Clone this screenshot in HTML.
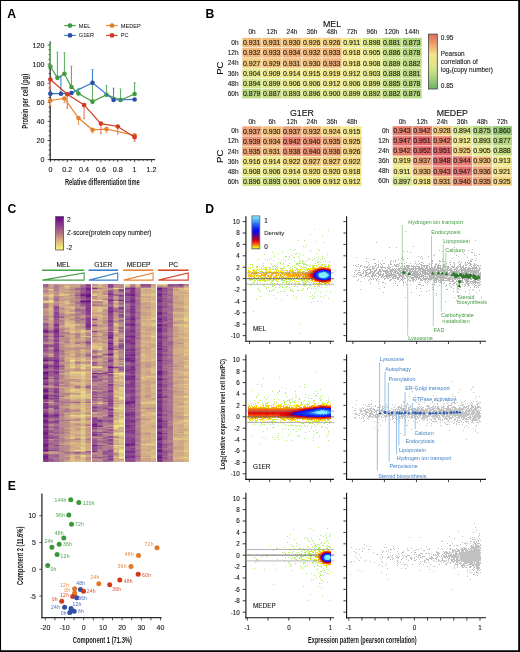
<!DOCTYPE html><html><head><meta charset="utf-8"><style>html,body{margin:0;padding:0;background:#fff;}svg{display:block;will-change:transform;font-family:"Liberation Sans", sans-serif;}</style></head><body><svg width="520" height="652" viewBox="0 0 520 652"><rect width="520" height="652" fill="#fff"/><text x="7.20" y="17.60" font-size="12.2" text-anchor="start" fill="#000" font-weight="bold" >A</text>
<text x="205.40" y="17.60" font-size="12.2" text-anchor="start" fill="#000" font-weight="bold" >B</text>
<text x="7.40" y="212.90" font-size="12.2" text-anchor="start" fill="#000" font-weight="bold" >C</text>
<text x="205.20" y="212.60" font-size="12.2" text-anchor="start" fill="#000" font-weight="bold" >D</text>
<text x="7.70" y="490.20" font-size="12.2" text-anchor="start" fill="#000" font-weight="bold" >E</text>
<line x1="64.2" y1="25.6" x2="75.8" y2="25.6" stroke="#45a045" stroke-width="1.1"/>
<circle cx="70" cy="25.6" r="2.4" fill="#3e9b3e"/>
<text x="78.80" y="27.60" font-size="5.6" text-anchor="start" fill="#222" stroke="#222" stroke-width="0.05" font-weight="normal" >MEL</text>
<line x1="64.2" y1="35.4" x2="75.8" y2="35.4" stroke="#3a78c8" stroke-width="1.1"/>
<circle cx="70" cy="35.4" r="2.4" fill="#2d4ea6"/>
<text x="78.80" y="37.40" font-size="5.6" text-anchor="start" fill="#222" stroke="#222" stroke-width="0.05" font-weight="normal" >G1ER</text>
<line x1="106" y1="25.6" x2="117.6" y2="25.6" stroke="#e8862e" stroke-width="1.1"/>
<circle cx="112" cy="25.6" r="2.4" fill="#e37f2b"/>
<text x="120.80" y="27.60" font-size="5.6" text-anchor="start" fill="#222" stroke="#222" stroke-width="0.05" font-weight="normal" >MEDEP</text>
<line x1="106" y1="35.4" x2="117.6" y2="35.4" stroke="#d43c20" stroke-width="1.1"/>
<circle cx="112" cy="35.4" r="2.4" fill="#d13b1f"/>
<text x="120.80" y="37.40" font-size="5.6" text-anchor="start" fill="#222" stroke="#222" stroke-width="0.05" font-weight="normal" >PC</text>
<line x1="50.2" y1="41.6" x2="50.2" y2="160.2" stroke="#2a2a2a" stroke-width="1.3"/>
<line x1="49.6" y1="159.6" x2="155.2" y2="159.6" stroke="#2a2a2a" stroke-width="1.3"/>
<line x1="47.60" y1="159.60" x2="50.2" y2="159.60" stroke="#2a2a2a" stroke-width="0.8"/>
<text x="44.40" y="162.20" font-size="7.2" text-anchor="end" fill="#222" stroke="#222" stroke-width="0.12" font-weight="normal" >0</text>
<line x1="48.60" y1="154.82" x2="50.2" y2="154.82" stroke="#2a2a2a" stroke-width="0.8"/>
<line x1="48.60" y1="150.05" x2="50.2" y2="150.05" stroke="#2a2a2a" stroke-width="0.8"/>
<line x1="48.60" y1="145.28" x2="50.2" y2="145.28" stroke="#2a2a2a" stroke-width="0.8"/>
<line x1="47.60" y1="140.50" x2="50.2" y2="140.50" stroke="#2a2a2a" stroke-width="0.8"/>
<text x="44.40" y="143.10" font-size="7.2" text-anchor="end" fill="#222" stroke="#222" stroke-width="0.12" font-weight="normal" >20</text>
<line x1="48.60" y1="135.72" x2="50.2" y2="135.72" stroke="#2a2a2a" stroke-width="0.8"/>
<line x1="48.60" y1="130.95" x2="50.2" y2="130.95" stroke="#2a2a2a" stroke-width="0.8"/>
<line x1="48.60" y1="126.17" x2="50.2" y2="126.17" stroke="#2a2a2a" stroke-width="0.8"/>
<line x1="47.60" y1="121.40" x2="50.2" y2="121.40" stroke="#2a2a2a" stroke-width="0.8"/>
<text x="44.40" y="124.00" font-size="7.2" text-anchor="end" fill="#222" stroke="#222" stroke-width="0.12" font-weight="normal" >40</text>
<line x1="48.60" y1="116.62" x2="50.2" y2="116.62" stroke="#2a2a2a" stroke-width="0.8"/>
<line x1="48.60" y1="111.85" x2="50.2" y2="111.85" stroke="#2a2a2a" stroke-width="0.8"/>
<line x1="48.60" y1="107.07" x2="50.2" y2="107.07" stroke="#2a2a2a" stroke-width="0.8"/>
<line x1="47.60" y1="102.30" x2="50.2" y2="102.30" stroke="#2a2a2a" stroke-width="0.8"/>
<text x="44.40" y="104.90" font-size="7.2" text-anchor="end" fill="#222" stroke="#222" stroke-width="0.12" font-weight="normal" >60</text>
<line x1="48.60" y1="97.53" x2="50.2" y2="97.53" stroke="#2a2a2a" stroke-width="0.8"/>
<line x1="48.60" y1="92.75" x2="50.2" y2="92.75" stroke="#2a2a2a" stroke-width="0.8"/>
<line x1="48.60" y1="87.97" x2="50.2" y2="87.97" stroke="#2a2a2a" stroke-width="0.8"/>
<line x1="47.60" y1="83.20" x2="50.2" y2="83.20" stroke="#2a2a2a" stroke-width="0.8"/>
<text x="44.40" y="85.80" font-size="7.2" text-anchor="end" fill="#222" stroke="#222" stroke-width="0.12" font-weight="normal" >80</text>
<line x1="48.60" y1="78.42" x2="50.2" y2="78.42" stroke="#2a2a2a" stroke-width="0.8"/>
<line x1="48.60" y1="73.65" x2="50.2" y2="73.65" stroke="#2a2a2a" stroke-width="0.8"/>
<line x1="48.60" y1="68.88" x2="50.2" y2="68.88" stroke="#2a2a2a" stroke-width="0.8"/>
<line x1="47.60" y1="64.10" x2="50.2" y2="64.10" stroke="#2a2a2a" stroke-width="0.8"/>
<text x="44.40" y="66.70" font-size="7.2" text-anchor="end" fill="#222" stroke="#222" stroke-width="0.12" font-weight="normal" >100</text>
<line x1="48.60" y1="59.33" x2="50.2" y2="59.33" stroke="#2a2a2a" stroke-width="0.8"/>
<line x1="48.60" y1="54.55" x2="50.2" y2="54.55" stroke="#2a2a2a" stroke-width="0.8"/>
<line x1="48.60" y1="49.78" x2="50.2" y2="49.78" stroke="#2a2a2a" stroke-width="0.8"/>
<line x1="47.60" y1="45.00" x2="50.2" y2="45.00" stroke="#2a2a2a" stroke-width="0.8"/>
<text x="44.40" y="47.60" font-size="7.2" text-anchor="end" fill="#222" stroke="#222" stroke-width="0.12" font-weight="normal" >120</text>
<line x1="50.40" y1="159.6" x2="50.40" y2="162.20" stroke="#2a2a2a" stroke-width="0.8"/>
<text x="50.40" y="172.40" font-size="7.2" text-anchor="middle" fill="#222" stroke="#222" stroke-width="0.12" font-weight="normal" >0</text>
<line x1="54.61" y1="159.6" x2="54.61" y2="161.20" stroke="#2a2a2a" stroke-width="0.8"/>
<line x1="58.82" y1="159.6" x2="58.82" y2="161.20" stroke="#2a2a2a" stroke-width="0.8"/>
<line x1="63.03" y1="159.6" x2="63.03" y2="161.20" stroke="#2a2a2a" stroke-width="0.8"/>
<line x1="67.24" y1="159.6" x2="67.24" y2="162.20" stroke="#2a2a2a" stroke-width="0.8"/>
<text x="67.24" y="172.40" font-size="7.2" text-anchor="middle" fill="#222" stroke="#222" stroke-width="0.12" font-weight="normal" >0.2</text>
<line x1="71.45" y1="159.6" x2="71.45" y2="161.20" stroke="#2a2a2a" stroke-width="0.8"/>
<line x1="75.66" y1="159.6" x2="75.66" y2="161.20" stroke="#2a2a2a" stroke-width="0.8"/>
<line x1="79.87" y1="159.6" x2="79.87" y2="161.20" stroke="#2a2a2a" stroke-width="0.8"/>
<line x1="84.08" y1="159.6" x2="84.08" y2="162.20" stroke="#2a2a2a" stroke-width="0.8"/>
<text x="84.08" y="172.40" font-size="7.2" text-anchor="middle" fill="#222" stroke="#222" stroke-width="0.12" font-weight="normal" >0.4</text>
<line x1="88.29" y1="159.6" x2="88.29" y2="161.20" stroke="#2a2a2a" stroke-width="0.8"/>
<line x1="92.50" y1="159.6" x2="92.50" y2="161.20" stroke="#2a2a2a" stroke-width="0.8"/>
<line x1="96.71" y1="159.6" x2="96.71" y2="161.20" stroke="#2a2a2a" stroke-width="0.8"/>
<line x1="100.92" y1="159.6" x2="100.92" y2="162.20" stroke="#2a2a2a" stroke-width="0.8"/>
<text x="100.92" y="172.40" font-size="7.2" text-anchor="middle" fill="#222" stroke="#222" stroke-width="0.12" font-weight="normal" >0.6</text>
<line x1="105.13" y1="159.6" x2="105.13" y2="161.20" stroke="#2a2a2a" stroke-width="0.8"/>
<line x1="109.34" y1="159.6" x2="109.34" y2="161.20" stroke="#2a2a2a" stroke-width="0.8"/>
<line x1="113.55" y1="159.6" x2="113.55" y2="161.20" stroke="#2a2a2a" stroke-width="0.8"/>
<line x1="117.76" y1="159.6" x2="117.76" y2="162.20" stroke="#2a2a2a" stroke-width="0.8"/>
<text x="117.76" y="172.40" font-size="7.2" text-anchor="middle" fill="#222" stroke="#222" stroke-width="0.12" font-weight="normal" >0.8</text>
<line x1="121.97" y1="159.6" x2="121.97" y2="161.20" stroke="#2a2a2a" stroke-width="0.8"/>
<line x1="126.18" y1="159.6" x2="126.18" y2="161.20" stroke="#2a2a2a" stroke-width="0.8"/>
<line x1="130.39" y1="159.6" x2="130.39" y2="161.20" stroke="#2a2a2a" stroke-width="0.8"/>
<line x1="134.60" y1="159.6" x2="134.60" y2="162.20" stroke="#2a2a2a" stroke-width="0.8"/>
<text x="134.60" y="172.40" font-size="7.2" text-anchor="middle" fill="#222" stroke="#222" stroke-width="0.12" font-weight="normal" >1</text>
<line x1="138.81" y1="159.6" x2="138.81" y2="161.20" stroke="#2a2a2a" stroke-width="0.8"/>
<line x1="143.02" y1="159.6" x2="143.02" y2="161.20" stroke="#2a2a2a" stroke-width="0.8"/>
<line x1="147.23" y1="159.6" x2="147.23" y2="161.20" stroke="#2a2a2a" stroke-width="0.8"/>
<line x1="151.44" y1="159.6" x2="151.44" y2="162.20" stroke="#2a2a2a" stroke-width="0.8"/>
<text x="151.44" y="172.40" font-size="7.2" text-anchor="middle" fill="#222" stroke="#222" stroke-width="0.12" font-weight="normal" >1.2</text>
<text x="102.30" y="184.50" font-size="9" font-weight="bold" text-anchor="middle" fill="#1a1a1a" textLength="74.8" lengthAdjust="spacingAndGlyphs">Relative differentiation time</text>
<text x="28.30" y="101.30" font-size="9" font-weight="bold" text-anchor="middle" fill="#1a1a1a" textLength="54.8" lengthAdjust="spacingAndGlyphs" transform="rotate(-90 28.30 101.30)">Protein per cell (pg)</text>
<line x1="50.40" y1="66.49" x2="50.40" y2="43.09" stroke="#63b063" stroke-width="1.1"/>
<line x1="49.40" y1="43.09" x2="51.40" y2="43.09" stroke="#63b063" stroke-width="0.9"/>
<line x1="57.42" y1="77.85" x2="57.42" y2="52.16" stroke="#63b063" stroke-width="1.1"/>
<line x1="56.42" y1="52.16" x2="58.42" y2="52.16" stroke="#63b063" stroke-width="0.9"/>
<line x1="64.43" y1="73.84" x2="64.43" y2="52.64" stroke="#63b063" stroke-width="1.1"/>
<line x1="63.43" y1="52.64" x2="65.43" y2="52.64" stroke="#63b063" stroke-width="0.9"/>
<line x1="71.45" y1="87.02" x2="71.45" y2="66.20" stroke="#63b063" stroke-width="1.1"/>
<line x1="70.45" y1="66.20" x2="72.45" y2="66.20" stroke="#63b063" stroke-width="0.9"/>
<line x1="78.47" y1="93.51" x2="78.47" y2="88.45" stroke="#63b063" stroke-width="1.1"/>
<line x1="77.47" y1="88.45" x2="79.47" y2="88.45" stroke="#63b063" stroke-width="0.9"/>
<line x1="92.50" y1="101.63" x2="92.50" y2="84.44" stroke="#63b063" stroke-width="1.1"/>
<line x1="91.50" y1="84.44" x2="93.50" y2="84.44" stroke="#63b063" stroke-width="0.9"/>
<line x1="106.53" y1="94.76" x2="106.53" y2="85.59" stroke="#63b063" stroke-width="1.1"/>
<line x1="105.53" y1="85.59" x2="107.53" y2="85.59" stroke="#63b063" stroke-width="0.9"/>
<line x1="120.57" y1="100.01" x2="120.57" y2="88.93" stroke="#63b063" stroke-width="1.1"/>
<line x1="119.57" y1="88.93" x2="121.57" y2="88.93" stroke="#63b063" stroke-width="0.9"/>
<line x1="134.60" y1="93.99" x2="134.60" y2="82.72" stroke="#63b063" stroke-width="1.1"/>
<line x1="133.60" y1="82.72" x2="135.60" y2="82.72" stroke="#63b063" stroke-width="0.9"/>
<polyline points="50.40,66.49 57.42,77.85 64.43,73.84 71.45,87.02 78.47,93.51 92.50,101.63 106.53,94.76 120.57,100.01 134.60,93.99" fill="none" stroke="#45a045" stroke-width="1.2"/>
<circle cx="50.40" cy="66.49" r="2.3" fill="#3e9b3e"/>
<circle cx="57.42" cy="77.85" r="2.3" fill="#3e9b3e"/>
<circle cx="64.43" cy="73.84" r="2.3" fill="#3e9b3e"/>
<circle cx="71.45" cy="87.02" r="2.3" fill="#3e9b3e"/>
<circle cx="78.47" cy="93.51" r="2.3" fill="#3e9b3e"/>
<circle cx="92.50" cy="101.63" r="2.3" fill="#3e9b3e"/>
<circle cx="106.53" cy="94.76" r="2.3" fill="#3e9b3e"/>
<circle cx="120.57" cy="100.01" r="2.3" fill="#3e9b3e"/>
<circle cx="134.60" cy="93.99" r="2.3" fill="#3e9b3e"/>
<line x1="50.40" y1="93.70" x2="50.40" y2="91.80" stroke="#3f80d0" stroke-width="1.1"/>
<line x1="49.40" y1="91.80" x2="51.40" y2="91.80" stroke="#3f80d0" stroke-width="0.9"/>
<line x1="60.92" y1="93.70" x2="60.92" y2="76.80" stroke="#3f80d0" stroke-width="1.1"/>
<line x1="59.92" y1="76.80" x2="61.92" y2="76.80" stroke="#3f80d0" stroke-width="0.9"/>
<line x1="71.45" y1="93.04" x2="71.45" y2="91.80" stroke="#3f80d0" stroke-width="1.1"/>
<line x1="70.45" y1="91.80" x2="72.45" y2="91.80" stroke="#3f80d0" stroke-width="0.9"/>
<line x1="92.50" y1="82.72" x2="92.50" y2="69.45" stroke="#3f80d0" stroke-width="1.1"/>
<line x1="91.50" y1="69.45" x2="93.50" y2="69.45" stroke="#3f80d0" stroke-width="0.9"/>
<line x1="113.55" y1="100.01" x2="113.55" y2="88.17" stroke="#3f80d0" stroke-width="1.1"/>
<line x1="112.55" y1="88.17" x2="114.55" y2="88.17" stroke="#3f80d0" stroke-width="0.9"/>
<line x1="134.60" y1="99.44" x2="134.60" y2="98.48" stroke="#3f80d0" stroke-width="1.1"/>
<line x1="133.60" y1="98.48" x2="135.60" y2="98.48" stroke="#3f80d0" stroke-width="0.9"/>
<polyline points="50.40,93.70 60.92,93.70 71.45,93.04 92.50,82.72 113.55,100.01 134.60,99.44" fill="none" stroke="#3a78c8" stroke-width="1.2"/>
<circle cx="50.40" cy="93.70" r="2.3" fill="#2d4ea6"/>
<circle cx="60.92" cy="93.70" r="2.3" fill="#2d4ea6"/>
<circle cx="71.45" cy="93.04" r="2.3" fill="#2d4ea6"/>
<circle cx="92.50" cy="82.72" r="2.3" fill="#2d4ea6"/>
<circle cx="113.55" cy="100.01" r="2.3" fill="#2d4ea6"/>
<circle cx="134.60" cy="99.44" r="2.3" fill="#2d4ea6"/>
<line x1="50.40" y1="100.49" x2="50.40" y2="105.45" stroke="#eea060" stroke-width="1.1"/>
<line x1="49.40" y1="105.45" x2="51.40" y2="105.45" stroke="#eea060" stroke-width="0.9"/>
<line x1="64.43" y1="98.48" x2="64.43" y2="102.49" stroke="#eea060" stroke-width="1.1"/>
<line x1="63.43" y1="102.49" x2="65.43" y2="102.49" stroke="#eea060" stroke-width="0.9"/>
<line x1="78.47" y1="118.06" x2="78.47" y2="124.36" stroke="#eea060" stroke-width="1.1"/>
<line x1="77.47" y1="124.36" x2="79.47" y2="124.36" stroke="#eea060" stroke-width="0.9"/>
<line x1="92.50" y1="129.80" x2="92.50" y2="132.96" stroke="#eea060" stroke-width="1.1"/>
<line x1="91.50" y1="132.96" x2="93.50" y2="132.96" stroke="#eea060" stroke-width="0.9"/>
<line x1="106.53" y1="129.04" x2="106.53" y2="132.29" stroke="#eea060" stroke-width="1.1"/>
<line x1="105.53" y1="132.29" x2="107.53" y2="132.29" stroke="#eea060" stroke-width="0.9"/>
<line x1="134.60" y1="135.25" x2="134.60" y2="136.68" stroke="#eea060" stroke-width="1.1"/>
<line x1="133.60" y1="136.68" x2="135.60" y2="136.68" stroke="#eea060" stroke-width="0.9"/>
<polyline points="50.40,100.49 64.43,98.48 78.47,118.06 92.50,129.80 106.53,129.04 134.60,135.25" fill="none" stroke="#e8862e" stroke-width="1.2"/>
<circle cx="50.40" cy="100.49" r="2.3" fill="#e37f2b"/>
<circle cx="64.43" cy="98.48" r="2.3" fill="#e37f2b"/>
<circle cx="78.47" cy="118.06" r="2.3" fill="#e37f2b"/>
<circle cx="92.50" cy="129.80" r="2.3" fill="#e37f2b"/>
<circle cx="106.53" cy="129.04" r="2.3" fill="#e37f2b"/>
<circle cx="134.60" cy="135.25" r="2.3" fill="#e37f2b"/>
<line x1="50.40" y1="79.57" x2="50.40" y2="88.93" stroke="#e57a6e" stroke-width="1.1"/>
<line x1="49.40" y1="88.93" x2="51.40" y2="88.93" stroke="#e57a6e" stroke-width="0.9"/>
<line x1="67.24" y1="94.18" x2="67.24" y2="108.32" stroke="#e57a6e" stroke-width="1.1"/>
<line x1="66.24" y1="108.32" x2="68.24" y2="108.32" stroke="#e57a6e" stroke-width="0.9"/>
<line x1="84.08" y1="104.97" x2="84.08" y2="118.73" stroke="#e57a6e" stroke-width="1.1"/>
<line x1="83.08" y1="118.73" x2="85.08" y2="118.73" stroke="#e57a6e" stroke-width="0.9"/>
<line x1="100.92" y1="123.60" x2="100.92" y2="133.53" stroke="#e57a6e" stroke-width="1.1"/>
<line x1="99.92" y1="133.53" x2="101.92" y2="133.53" stroke="#e57a6e" stroke-width="0.9"/>
<line x1="117.76" y1="126.46" x2="117.76" y2="134.01" stroke="#e57a6e" stroke-width="1.1"/>
<line x1="116.76" y1="134.01" x2="118.76" y2="134.01" stroke="#e57a6e" stroke-width="0.9"/>
<line x1="134.60" y1="137.16" x2="134.60" y2="141.26" stroke="#e57a6e" stroke-width="1.1"/>
<line x1="133.60" y1="141.26" x2="135.60" y2="141.26" stroke="#e57a6e" stroke-width="0.9"/>
<polyline points="50.40,79.57 67.24,94.18 84.08,104.97 100.92,123.60 117.76,126.46 134.60,137.16" fill="none" stroke="#d43c20" stroke-width="1.2"/>
<circle cx="50.40" cy="79.57" r="2.3" fill="#d13b1f"/>
<circle cx="67.24" cy="94.18" r="2.3" fill="#d13b1f"/>
<circle cx="84.08" cy="104.97" r="2.3" fill="#d13b1f"/>
<circle cx="100.92" cy="123.60" r="2.3" fill="#d13b1f"/>
<circle cx="117.76" cy="126.46" r="2.3" fill="#d13b1f"/>
<circle cx="134.60" cy="137.16" r="2.3" fill="#d13b1f"/>
<text x="332.00" y="26.50" font-size="8.8" text-anchor="middle" fill="#111" stroke="#111" stroke-width="0.12" font-weight="normal" >MEL</text>
<text x="252.00" y="34.00" font-size="6.5" text-anchor="middle" fill="#222" stroke="#222" stroke-width="0.12" font-weight="normal" >0h</text>
<text x="272.00" y="34.00" font-size="6.5" text-anchor="middle" fill="#222" stroke="#222" stroke-width="0.12" font-weight="normal" >12h</text>
<text x="292.00" y="34.00" font-size="6.5" text-anchor="middle" fill="#222" stroke="#222" stroke-width="0.12" font-weight="normal" >24h</text>
<text x="312.00" y="34.00" font-size="6.5" text-anchor="middle" fill="#222" stroke="#222" stroke-width="0.12" font-weight="normal" >36h</text>
<text x="332.00" y="34.00" font-size="6.5" text-anchor="middle" fill="#222" stroke="#222" stroke-width="0.12" font-weight="normal" >48h</text>
<text x="352.00" y="34.00" font-size="6.5" text-anchor="middle" fill="#222" stroke="#222" stroke-width="0.12" font-weight="normal" >72h</text>
<text x="372.00" y="34.00" font-size="6.5" text-anchor="middle" fill="#222" stroke="#222" stroke-width="0.12" font-weight="normal" >96h</text>
<text x="392.00" y="34.00" font-size="6.5" text-anchor="middle" fill="#222" stroke="#222" stroke-width="0.12" font-weight="normal" >120h</text>
<text x="412.00" y="34.00" font-size="6.5" text-anchor="middle" fill="#222" stroke="#222" stroke-width="0.12" font-weight="normal" >144h</text>
<text x="238.60" y="44.90" font-size="6.5" text-anchor="end" fill="#222" stroke="#222" stroke-width="0.12" font-weight="normal" >0h</text>
<rect x="242.35" y="37.85" width="19.30" height="9.50" fill="#f2bc7b"/>
<text x="251.70" y="45.10" font-size="7.0" text-anchor="middle" fill="#1a1a1a" stroke="#1a1a1a" stroke-width="0.12" font-weight="normal" >0.931</text>
<rect x="262.35" y="37.85" width="19.30" height="9.50" fill="#f2bc7b"/>
<text x="271.70" y="45.10" font-size="7.0" text-anchor="middle" fill="#1a1a1a" stroke="#1a1a1a" stroke-width="0.12" font-weight="normal" >0.931</text>
<rect x="282.35" y="37.85" width="19.30" height="9.50" fill="#f3c07c"/>
<text x="291.70" y="45.10" font-size="7.0" text-anchor="middle" fill="#1a1a1a" stroke="#1a1a1a" stroke-width="0.12" font-weight="normal" >0.930</text>
<rect x="302.35" y="37.85" width="19.30" height="9.50" fill="#f4cf7f"/>
<text x="311.70" y="45.10" font-size="7.0" text-anchor="middle" fill="#1a1a1a" stroke="#1a1a1a" stroke-width="0.12" font-weight="normal" >0.926</text>
<rect x="322.35" y="37.85" width="19.30" height="9.50" fill="#f4cf7f"/>
<text x="331.70" y="45.10" font-size="7.0" text-anchor="middle" fill="#1a1a1a" stroke="#1a1a1a" stroke-width="0.12" font-weight="normal" >0.926</text>
<rect x="342.35" y="37.85" width="19.30" height="9.50" fill="#efeb8d"/>
<text x="351.70" y="45.10" font-size="7.0" text-anchor="middle" fill="#1a1a1a" stroke="#1a1a1a" stroke-width="0.12" font-weight="normal" >0.911</text>
<rect x="362.35" y="37.85" width="19.30" height="9.50" fill="#dbe78b"/>
<text x="371.70" y="45.10" font-size="7.0" text-anchor="middle" fill="#1a1a1a" stroke="#1a1a1a" stroke-width="0.12" font-weight="normal" >0.898</text>
<rect x="382.35" y="37.85" width="19.30" height="9.50" fill="#bdda82"/>
<text x="391.70" y="45.10" font-size="7.0" text-anchor="middle" fill="#1a1a1a" stroke="#1a1a1a" stroke-width="0.12" font-weight="normal" >0.881</text>
<rect x="402.35" y="37.85" width="19.30" height="9.50" fill="#aed47d"/>
<text x="411.70" y="45.10" font-size="7.0" text-anchor="middle" fill="#1a1a1a" stroke="#1a1a1a" stroke-width="0.12" font-weight="normal" >0.873</text>
<text x="238.60" y="55.10" font-size="6.5" text-anchor="end" fill="#222" stroke="#222" stroke-width="0.12" font-weight="normal" >12h</text>
<rect x="242.35" y="48.05" width="19.30" height="9.50" fill="#f2b87a"/>
<text x="251.70" y="55.30" font-size="7.0" text-anchor="middle" fill="#1a1a1a" stroke="#1a1a1a" stroke-width="0.12" font-weight="normal" >0.932</text>
<rect x="262.35" y="48.05" width="19.30" height="9.50" fill="#f1b479"/>
<text x="271.70" y="55.30" font-size="7.0" text-anchor="middle" fill="#1a1a1a" stroke="#1a1a1a" stroke-width="0.12" font-weight="normal" >0.933</text>
<rect x="282.35" y="48.05" width="19.30" height="9.50" fill="#f0af79"/>
<text x="291.70" y="55.30" font-size="7.0" text-anchor="middle" fill="#1a1a1a" stroke="#1a1a1a" stroke-width="0.12" font-weight="normal" >0.934</text>
<rect x="302.35" y="48.05" width="19.30" height="9.50" fill="#f2b87a"/>
<text x="311.70" y="55.30" font-size="7.0" text-anchor="middle" fill="#1a1a1a" stroke="#1a1a1a" stroke-width="0.12" font-weight="normal" >0.932</text>
<rect x="322.35" y="48.05" width="19.30" height="9.50" fill="#f1b479"/>
<text x="331.70" y="55.30" font-size="7.0" text-anchor="middle" fill="#1a1a1a" stroke="#1a1a1a" stroke-width="0.12" font-weight="normal" >0.933</text>
<rect x="342.35" y="48.05" width="19.30" height="9.50" fill="#f4e78a"/>
<text x="351.70" y="55.30" font-size="7.0" text-anchor="middle" fill="#1a1a1a" stroke="#1a1a1a" stroke-width="0.12" font-weight="normal" >0.918</text>
<rect x="362.35" y="48.05" width="19.30" height="9.50" fill="#e8ea8e"/>
<text x="371.70" y="55.30" font-size="7.0" text-anchor="middle" fill="#1a1a1a" stroke="#1a1a1a" stroke-width="0.12" font-weight="normal" >0.905</text>
<rect x="382.35" y="48.05" width="19.30" height="9.50" fill="#c6de85"/>
<text x="391.70" y="55.30" font-size="7.0" text-anchor="middle" fill="#1a1a1a" stroke="#1a1a1a" stroke-width="0.12" font-weight="normal" >0.886</text>
<rect x="402.35" y="48.05" width="19.30" height="9.50" fill="#b7d880"/>
<text x="411.70" y="55.30" font-size="7.0" text-anchor="middle" fill="#1a1a1a" stroke="#1a1a1a" stroke-width="0.12" font-weight="normal" >0.878</text>
<text x="238.60" y="65.30" font-size="6.5" text-anchor="end" fill="#222" stroke="#222" stroke-width="0.12" font-weight="normal" >24h</text>
<rect x="242.35" y="58.25" width="19.30" height="9.50" fill="#f4cc7e"/>
<text x="251.70" y="65.50" font-size="7.0" text-anchor="middle" fill="#1a1a1a" stroke="#1a1a1a" stroke-width="0.12" font-weight="normal" >0.927</text>
<rect x="262.35" y="58.25" width="19.30" height="9.50" fill="#f4c57c"/>
<text x="271.70" y="65.50" font-size="7.0" text-anchor="middle" fill="#1a1a1a" stroke="#1a1a1a" stroke-width="0.12" font-weight="normal" >0.929</text>
<rect x="282.35" y="58.25" width="19.30" height="9.50" fill="#f2bc7b"/>
<text x="291.70" y="65.50" font-size="7.0" text-anchor="middle" fill="#1a1a1a" stroke="#1a1a1a" stroke-width="0.12" font-weight="normal" >0.931</text>
<rect x="302.35" y="58.25" width="19.30" height="9.50" fill="#f3c07c"/>
<text x="311.70" y="65.50" font-size="7.0" text-anchor="middle" fill="#1a1a1a" stroke="#1a1a1a" stroke-width="0.12" font-weight="normal" >0.930</text>
<rect x="322.35" y="58.25" width="19.30" height="9.50" fill="#f1b479"/>
<text x="331.70" y="65.50" font-size="7.0" text-anchor="middle" fill="#1a1a1a" stroke="#1a1a1a" stroke-width="0.12" font-weight="normal" >0.933</text>
<rect x="342.35" y="58.25" width="19.30" height="9.50" fill="#f4e78a"/>
<text x="351.70" y="65.50" font-size="7.0" text-anchor="middle" fill="#1a1a1a" stroke="#1a1a1a" stroke-width="0.12" font-weight="normal" >0.918</text>
<rect x="362.35" y="58.25" width="19.30" height="9.50" fill="#eceb8d"/>
<text x="371.70" y="65.50" font-size="7.0" text-anchor="middle" fill="#1a1a1a" stroke="#1a1a1a" stroke-width="0.12" font-weight="normal" >0.908</text>
<rect x="382.35" y="58.25" width="19.30" height="9.50" fill="#cbe086"/>
<text x="391.70" y="65.50" font-size="7.0" text-anchor="middle" fill="#1a1a1a" stroke="#1a1a1a" stroke-width="0.12" font-weight="normal" >0.889</text>
<rect x="402.35" y="58.25" width="19.30" height="9.50" fill="#bfdb82"/>
<text x="411.70" y="65.50" font-size="7.0" text-anchor="middle" fill="#1a1a1a" stroke="#1a1a1a" stroke-width="0.12" font-weight="normal" >0.882</text>
<text x="238.60" y="75.50" font-size="6.5" text-anchor="end" fill="#222" stroke="#222" stroke-width="0.12" font-weight="normal" >36h</text>
<rect x="242.35" y="68.45" width="19.30" height="9.50" fill="#e7ea8e"/>
<text x="251.70" y="75.70" font-size="7.0" text-anchor="middle" fill="#1a1a1a" stroke="#1a1a1a" stroke-width="0.12" font-weight="normal" >0.904</text>
<rect x="262.35" y="68.45" width="19.30" height="9.50" fill="#edeb8d"/>
<text x="271.70" y="75.70" font-size="7.0" text-anchor="middle" fill="#1a1a1a" stroke="#1a1a1a" stroke-width="0.12" font-weight="normal" >0.909</text>
<rect x="282.35" y="68.45" width="19.30" height="9.50" fill="#f1e98c"/>
<text x="291.70" y="75.70" font-size="7.0" text-anchor="middle" fill="#1a1a1a" stroke="#1a1a1a" stroke-width="0.12" font-weight="normal" >0.914</text>
<rect x="302.35" y="68.45" width="19.30" height="9.50" fill="#f2e98b"/>
<text x="311.70" y="75.70" font-size="7.0" text-anchor="middle" fill="#1a1a1a" stroke="#1a1a1a" stroke-width="0.12" font-weight="normal" >0.915</text>
<rect x="322.35" y="68.45" width="19.30" height="9.50" fill="#f4e488"/>
<text x="331.70" y="75.70" font-size="7.0" text-anchor="middle" fill="#1a1a1a" stroke="#1a1a1a" stroke-width="0.12" font-weight="normal" >0.919</text>
<rect x="342.35" y="68.45" width="19.30" height="9.50" fill="#f0ea8d"/>
<text x="351.70" y="75.70" font-size="7.0" text-anchor="middle" fill="#1a1a1a" stroke="#1a1a1a" stroke-width="0.12" font-weight="normal" >0.912</text>
<rect x="362.35" y="68.45" width="19.30" height="9.50" fill="#e5e98e"/>
<text x="371.70" y="75.70" font-size="7.0" text-anchor="middle" fill="#1a1a1a" stroke="#1a1a1a" stroke-width="0.12" font-weight="normal" >0.903</text>
<rect x="382.35" y="68.45" width="19.30" height="9.50" fill="#c9df86"/>
<text x="391.70" y="75.70" font-size="7.0" text-anchor="middle" fill="#1a1a1a" stroke="#1a1a1a" stroke-width="0.12" font-weight="normal" >0.888</text>
<rect x="402.35" y="68.45" width="19.30" height="9.50" fill="#bdda82"/>
<text x="411.70" y="75.70" font-size="7.0" text-anchor="middle" fill="#1a1a1a" stroke="#1a1a1a" stroke-width="0.12" font-weight="normal" >0.881</text>
<text x="238.60" y="85.70" font-size="6.5" text-anchor="end" fill="#222" stroke="#222" stroke-width="0.12" font-weight="normal" >48h</text>
<rect x="242.35" y="78.65" width="19.30" height="9.50" fill="#d4e489"/>
<text x="251.70" y="85.90" font-size="7.0" text-anchor="middle" fill="#1a1a1a" stroke="#1a1a1a" stroke-width="0.12" font-weight="normal" >0.894</text>
<rect x="262.35" y="78.65" width="19.30" height="9.50" fill="#dde78c"/>
<text x="271.70" y="85.90" font-size="7.0" text-anchor="middle" fill="#1a1a1a" stroke="#1a1a1a" stroke-width="0.12" font-weight="normal" >0.899</text>
<rect x="282.35" y="78.65" width="19.30" height="9.50" fill="#e9ea8e"/>
<text x="291.70" y="85.90" font-size="7.0" text-anchor="middle" fill="#1a1a1a" stroke="#1a1a1a" stroke-width="0.12" font-weight="normal" >0.906</text>
<rect x="302.35" y="78.65" width="19.30" height="9.50" fill="#e9ea8e"/>
<text x="311.70" y="85.90" font-size="7.0" text-anchor="middle" fill="#1a1a1a" stroke="#1a1a1a" stroke-width="0.12" font-weight="normal" >0.906</text>
<rect x="322.35" y="78.65" width="19.30" height="9.50" fill="#f0ea8d"/>
<text x="331.70" y="85.90" font-size="7.0" text-anchor="middle" fill="#1a1a1a" stroke="#1a1a1a" stroke-width="0.12" font-weight="normal" >0.912</text>
<rect x="342.35" y="78.65" width="19.30" height="9.50" fill="#e9ea8e"/>
<text x="351.70" y="85.90" font-size="7.0" text-anchor="middle" fill="#1a1a1a" stroke="#1a1a1a" stroke-width="0.12" font-weight="normal" >0.906</text>
<rect x="362.35" y="78.65" width="19.30" height="9.50" fill="#dde78c"/>
<text x="371.70" y="85.90" font-size="7.0" text-anchor="middle" fill="#1a1a1a" stroke="#1a1a1a" stroke-width="0.12" font-weight="normal" >0.899</text>
<rect x="382.35" y="78.65" width="19.30" height="9.50" fill="#c4dd84"/>
<text x="391.70" y="85.90" font-size="7.0" text-anchor="middle" fill="#1a1a1a" stroke="#1a1a1a" stroke-width="0.12" font-weight="normal" >0.885</text>
<rect x="402.35" y="78.65" width="19.30" height="9.50" fill="#b7d880"/>
<text x="411.70" y="85.90" font-size="7.0" text-anchor="middle" fill="#1a1a1a" stroke="#1a1a1a" stroke-width="0.12" font-weight="normal" >0.878</text>
<text x="238.60" y="95.90" font-size="6.5" text-anchor="end" fill="#222" stroke="#222" stroke-width="0.12" font-weight="normal" >60h</text>
<rect x="242.35" y="88.85" width="19.30" height="9.50" fill="#b9d980"/>
<text x="251.70" y="96.10" font-size="7.0" text-anchor="middle" fill="#1a1a1a" stroke="#1a1a1a" stroke-width="0.12" font-weight="normal" >0.879</text>
<rect x="262.35" y="88.85" width="19.30" height="9.50" fill="#c8de85"/>
<text x="271.70" y="96.10" font-size="7.0" text-anchor="middle" fill="#1a1a1a" stroke="#1a1a1a" stroke-width="0.12" font-weight="normal" >0.887</text>
<rect x="282.35" y="88.85" width="19.30" height="9.50" fill="#d2e389"/>
<text x="291.70" y="96.10" font-size="7.0" text-anchor="middle" fill="#1a1a1a" stroke="#1a1a1a" stroke-width="0.12" font-weight="normal" >0.893</text>
<rect x="302.35" y="88.85" width="19.30" height="9.50" fill="#d7e58a"/>
<text x="311.70" y="96.10" font-size="7.0" text-anchor="middle" fill="#1a1a1a" stroke="#1a1a1a" stroke-width="0.12" font-weight="normal" >0.896</text>
<rect x="322.35" y="88.85" width="19.30" height="9.50" fill="#dfe88c"/>
<text x="331.70" y="96.10" font-size="7.0" text-anchor="middle" fill="#1a1a1a" stroke="#1a1a1a" stroke-width="0.12" font-weight="normal" >0.900</text>
<rect x="342.35" y="88.85" width="19.30" height="9.50" fill="#dde78c"/>
<text x="351.70" y="96.10" font-size="7.0" text-anchor="middle" fill="#1a1a1a" stroke="#1a1a1a" stroke-width="0.12" font-weight="normal" >0.899</text>
<rect x="362.35" y="88.85" width="19.30" height="9.50" fill="#d0e288"/>
<text x="371.70" y="96.10" font-size="7.0" text-anchor="middle" fill="#1a1a1a" stroke="#1a1a1a" stroke-width="0.12" font-weight="normal" >0.892</text>
<rect x="382.35" y="88.85" width="19.30" height="9.50" fill="#bfdb82"/>
<text x="391.70" y="96.10" font-size="7.0" text-anchor="middle" fill="#1a1a1a" stroke="#1a1a1a" stroke-width="0.12" font-weight="normal" >0.882</text>
<rect x="402.35" y="88.85" width="19.30" height="9.50" fill="#b4d77f"/>
<text x="411.70" y="96.10" font-size="7.0" text-anchor="middle" fill="#1a1a1a" stroke="#1a1a1a" stroke-width="0.12" font-weight="normal" >0.876</text>
<text x="222.8" y="68.10" font-size="9.6" text-anchor="middle" fill="#111" stroke="#111" stroke-width="0.1" transform="rotate(-90 222.8 68.10)">PC</text>
<text x="302.00" y="115.60" font-size="8.8" text-anchor="middle" fill="#111" stroke="#111" stroke-width="0.12" font-weight="normal" >G1ER</text>
<text x="252.00" y="123.50" font-size="6.5" text-anchor="middle" fill="#222" stroke="#222" stroke-width="0.12" font-weight="normal" >0h</text>
<text x="272.00" y="123.50" font-size="6.5" text-anchor="middle" fill="#222" stroke="#222" stroke-width="0.12" font-weight="normal" >6h</text>
<text x="292.00" y="123.50" font-size="6.5" text-anchor="middle" fill="#222" stroke="#222" stroke-width="0.12" font-weight="normal" >12h</text>
<text x="312.00" y="123.50" font-size="6.5" text-anchor="middle" fill="#222" stroke="#222" stroke-width="0.12" font-weight="normal" >24h</text>
<text x="332.00" y="123.50" font-size="6.5" text-anchor="middle" fill="#222" stroke="#222" stroke-width="0.12" font-weight="normal" >36h</text>
<text x="352.00" y="123.50" font-size="6.5" text-anchor="middle" fill="#222" stroke="#222" stroke-width="0.12" font-weight="normal" >48h</text>
<text x="238.60" y="133.34" font-size="6.5" text-anchor="end" fill="#222" stroke="#222" stroke-width="0.12" font-weight="normal" >0h</text>
<rect x="242.35" y="126.35" width="19.30" height="9.38" fill="#eea277"/>
<text x="251.70" y="133.54" font-size="7.0" text-anchor="middle" fill="#1a1a1a" stroke="#1a1a1a" stroke-width="0.12" font-weight="normal" >0.937</text>
<rect x="262.35" y="126.35" width="19.30" height="9.38" fill="#f3c07c"/>
<text x="271.70" y="133.54" font-size="7.0" text-anchor="middle" fill="#1a1a1a" stroke="#1a1a1a" stroke-width="0.12" font-weight="normal" >0.930</text>
<rect x="282.35" y="126.35" width="19.30" height="9.38" fill="#eea277"/>
<text x="291.70" y="133.54" font-size="7.0" text-anchor="middle" fill="#1a1a1a" stroke="#1a1a1a" stroke-width="0.12" font-weight="normal" >0.937</text>
<rect x="302.35" y="126.35" width="19.30" height="9.38" fill="#f2b87a"/>
<text x="311.70" y="133.54" font-size="7.0" text-anchor="middle" fill="#1a1a1a" stroke="#1a1a1a" stroke-width="0.12" font-weight="normal" >0.932</text>
<rect x="322.35" y="126.35" width="19.30" height="9.38" fill="#f5d682"/>
<text x="331.70" y="133.54" font-size="7.0" text-anchor="middle" fill="#1a1a1a" stroke="#1a1a1a" stroke-width="0.12" font-weight="normal" >0.924</text>
<rect x="342.35" y="126.35" width="19.30" height="9.38" fill="#f2e98b"/>
<text x="351.70" y="133.54" font-size="7.0" text-anchor="middle" fill="#1a1a1a" stroke="#1a1a1a" stroke-width="0.12" font-weight="normal" >0.915</text>
<text x="238.60" y="143.42" font-size="6.5" text-anchor="end" fill="#222" stroke="#222" stroke-width="0.12" font-weight="normal" >12h</text>
<rect x="242.35" y="136.43" width="19.30" height="9.38" fill="#ec9674"/>
<text x="251.70" y="143.62" font-size="7.0" text-anchor="middle" fill="#1a1a1a" stroke="#1a1a1a" stroke-width="0.12" font-weight="normal" >0.939</text>
<rect x="262.35" y="136.43" width="19.30" height="9.38" fill="#f0af79"/>
<text x="271.70" y="143.62" font-size="7.0" text-anchor="middle" fill="#1a1a1a" stroke="#1a1a1a" stroke-width="0.12" font-weight="normal" >0.934</text>
<rect x="282.35" y="136.43" width="19.30" height="9.38" fill="#e9846f"/>
<text x="291.70" y="143.62" font-size="7.0" text-anchor="middle" fill="#1a1a1a" stroke="#1a1a1a" stroke-width="0.12" font-weight="normal" >0.942</text>
<rect x="302.35" y="136.43" width="19.30" height="9.38" fill="#eb9072"/>
<text x="311.70" y="143.62" font-size="7.0" text-anchor="middle" fill="#1a1a1a" stroke="#1a1a1a" stroke-width="0.12" font-weight="normal" >0.940</text>
<rect x="322.35" y="136.43" width="19.30" height="9.38" fill="#f0ab78"/>
<text x="331.70" y="143.62" font-size="7.0" text-anchor="middle" fill="#1a1a1a" stroke="#1a1a1a" stroke-width="0.12" font-weight="normal" >0.935</text>
<rect x="342.35" y="136.43" width="19.30" height="9.38" fill="#f4d280"/>
<text x="351.70" y="143.62" font-size="7.0" text-anchor="middle" fill="#1a1a1a" stroke="#1a1a1a" stroke-width="0.12" font-weight="normal" >0.925</text>
<text x="238.60" y="153.50" font-size="6.5" text-anchor="end" fill="#222" stroke="#222" stroke-width="0.12" font-weight="normal" >24h</text>
<rect x="242.35" y="146.51" width="19.30" height="9.38" fill="#f0ab78"/>
<text x="251.70" y="153.70" font-size="7.0" text-anchor="middle" fill="#1a1a1a" stroke="#1a1a1a" stroke-width="0.12" font-weight="normal" >0.935</text>
<rect x="262.35" y="146.51" width="19.30" height="9.38" fill="#f2bc7b"/>
<text x="271.70" y="153.70" font-size="7.0" text-anchor="middle" fill="#1a1a1a" stroke="#1a1a1a" stroke-width="0.12" font-weight="normal" >0.931</text>
<rect x="282.35" y="146.51" width="19.30" height="9.38" fill="#ed9c75"/>
<text x="291.70" y="153.70" font-size="7.0" text-anchor="middle" fill="#1a1a1a" stroke="#1a1a1a" stroke-width="0.12" font-weight="normal" >0.938</text>
<rect x="302.35" y="146.51" width="19.30" height="9.38" fill="#eb9072"/>
<text x="311.70" y="153.70" font-size="7.0" text-anchor="middle" fill="#1a1a1a" stroke="#1a1a1a" stroke-width="0.12" font-weight="normal" >0.940</text>
<rect x="322.35" y="146.51" width="19.30" height="9.38" fill="#efa678"/>
<text x="331.70" y="153.70" font-size="7.0" text-anchor="middle" fill="#1a1a1a" stroke="#1a1a1a" stroke-width="0.12" font-weight="normal" >0.936</text>
<rect x="342.35" y="146.51" width="19.30" height="9.38" fill="#f4cf7f"/>
<text x="351.70" y="153.70" font-size="7.0" text-anchor="middle" fill="#1a1a1a" stroke="#1a1a1a" stroke-width="0.12" font-weight="normal" >0.926</text>
<text x="238.60" y="163.58" font-size="6.5" text-anchor="end" fill="#222" stroke="#222" stroke-width="0.12" font-weight="normal" >36h</text>
<rect x="242.35" y="156.59" width="19.30" height="9.38" fill="#f3e88b"/>
<text x="251.70" y="163.78" font-size="7.0" text-anchor="middle" fill="#1a1a1a" stroke="#1a1a1a" stroke-width="0.12" font-weight="normal" >0.916</text>
<rect x="262.35" y="156.59" width="19.30" height="9.38" fill="#f1e98c"/>
<text x="271.70" y="163.78" font-size="7.0" text-anchor="middle" fill="#1a1a1a" stroke="#1a1a1a" stroke-width="0.12" font-weight="normal" >0.914</text>
<rect x="282.35" y="156.59" width="19.30" height="9.38" fill="#f5dc84"/>
<text x="291.70" y="163.78" font-size="7.0" text-anchor="middle" fill="#1a1a1a" stroke="#1a1a1a" stroke-width="0.12" font-weight="normal" >0.922</text>
<rect x="302.35" y="156.59" width="19.30" height="9.38" fill="#f4cc7e"/>
<text x="311.70" y="163.78" font-size="7.0" text-anchor="middle" fill="#1a1a1a" stroke="#1a1a1a" stroke-width="0.12" font-weight="normal" >0.927</text>
<rect x="322.35" y="156.59" width="19.30" height="9.38" fill="#f4cc7e"/>
<text x="331.70" y="163.78" font-size="7.0" text-anchor="middle" fill="#1a1a1a" stroke="#1a1a1a" stroke-width="0.12" font-weight="normal" >0.927</text>
<rect x="342.35" y="156.59" width="19.30" height="9.38" fill="#f5dc84"/>
<text x="351.70" y="163.78" font-size="7.0" text-anchor="middle" fill="#1a1a1a" stroke="#1a1a1a" stroke-width="0.12" font-weight="normal" >0.922</text>
<text x="238.60" y="173.66" font-size="6.5" text-anchor="end" fill="#222" stroke="#222" stroke-width="0.12" font-weight="normal" >48h</text>
<rect x="242.35" y="166.67" width="19.30" height="9.38" fill="#eceb8d"/>
<text x="251.70" y="173.86" font-size="7.0" text-anchor="middle" fill="#1a1a1a" stroke="#1a1a1a" stroke-width="0.12" font-weight="normal" >0.908</text>
<rect x="262.35" y="166.67" width="19.30" height="9.38" fill="#e9ea8e"/>
<text x="271.70" y="173.86" font-size="7.0" text-anchor="middle" fill="#1a1a1a" stroke="#1a1a1a" stroke-width="0.12" font-weight="normal" >0.906</text>
<rect x="282.35" y="166.67" width="19.30" height="9.38" fill="#f1e98c"/>
<text x="291.70" y="173.86" font-size="7.0" text-anchor="middle" fill="#1a1a1a" stroke="#1a1a1a" stroke-width="0.12" font-weight="normal" >0.914</text>
<rect x="302.35" y="166.67" width="19.30" height="9.38" fill="#f4e287"/>
<text x="311.70" y="173.86" font-size="7.0" text-anchor="middle" fill="#1a1a1a" stroke="#1a1a1a" stroke-width="0.12" font-weight="normal" >0.920</text>
<rect x="322.35" y="166.67" width="19.30" height="9.38" fill="#f4e287"/>
<text x="331.70" y="173.86" font-size="7.0" text-anchor="middle" fill="#1a1a1a" stroke="#1a1a1a" stroke-width="0.12" font-weight="normal" >0.920</text>
<rect x="342.35" y="166.67" width="19.30" height="9.38" fill="#f4e78a"/>
<text x="351.70" y="173.86" font-size="7.0" text-anchor="middle" fill="#1a1a1a" stroke="#1a1a1a" stroke-width="0.12" font-weight="normal" >0.918</text>
<text x="238.60" y="183.74" font-size="6.5" text-anchor="end" fill="#222" stroke="#222" stroke-width="0.12" font-weight="normal" >60h</text>
<rect x="242.35" y="176.75" width="19.30" height="9.38" fill="#d7e58a"/>
<text x="251.70" y="183.94" font-size="7.0" text-anchor="middle" fill="#1a1a1a" stroke="#1a1a1a" stroke-width="0.12" font-weight="normal" >0.896</text>
<rect x="262.35" y="176.75" width="19.30" height="9.38" fill="#d2e389"/>
<text x="271.70" y="183.94" font-size="7.0" text-anchor="middle" fill="#1a1a1a" stroke="#1a1a1a" stroke-width="0.12" font-weight="normal" >0.893</text>
<rect x="282.35" y="176.75" width="19.30" height="9.38" fill="#e1e88d"/>
<text x="291.70" y="183.94" font-size="7.0" text-anchor="middle" fill="#1a1a1a" stroke="#1a1a1a" stroke-width="0.12" font-weight="normal" >0.901</text>
<rect x="302.35" y="176.75" width="19.30" height="9.38" fill="#edeb8d"/>
<text x="311.70" y="183.94" font-size="7.0" text-anchor="middle" fill="#1a1a1a" stroke="#1a1a1a" stroke-width="0.12" font-weight="normal" >0.909</text>
<rect x="322.35" y="176.75" width="19.30" height="9.38" fill="#f0ea8d"/>
<text x="331.70" y="183.94" font-size="7.0" text-anchor="middle" fill="#1a1a1a" stroke="#1a1a1a" stroke-width="0.12" font-weight="normal" >0.912</text>
<rect x="342.35" y="176.75" width="19.30" height="9.38" fill="#f0ea8d"/>
<text x="351.70" y="183.94" font-size="7.0" text-anchor="middle" fill="#1a1a1a" stroke="#1a1a1a" stroke-width="0.12" font-weight="normal" >0.912</text>
<text x="222.8" y="156.24" font-size="9.6" text-anchor="middle" fill="#111" stroke="#111" stroke-width="0.1" transform="rotate(-90 222.8 156.24)">PC</text>
<text x="452.30" y="115.60" font-size="8.8" text-anchor="middle" fill="#111" stroke="#111" stroke-width="0.12" font-weight="normal" >MEDEP</text>
<text x="402.30" y="123.50" font-size="6.5" text-anchor="middle" fill="#222" stroke="#222" stroke-width="0.12" font-weight="normal" >0h</text>
<text x="422.30" y="123.50" font-size="6.5" text-anchor="middle" fill="#222" stroke="#222" stroke-width="0.12" font-weight="normal" >12h</text>
<text x="442.30" y="123.50" font-size="6.5" text-anchor="middle" fill="#222" stroke="#222" stroke-width="0.12" font-weight="normal" >24h</text>
<text x="462.30" y="123.50" font-size="6.5" text-anchor="middle" fill="#222" stroke="#222" stroke-width="0.12" font-weight="normal" >36h</text>
<text x="482.30" y="123.50" font-size="6.5" text-anchor="middle" fill="#222" stroke="#222" stroke-width="0.12" font-weight="normal" >48h</text>
<text x="502.30" y="123.50" font-size="6.5" text-anchor="middle" fill="#222" stroke="#222" stroke-width="0.12" font-weight="normal" >72h</text>
<text x="389.20" y="133.12" font-size="6.5" text-anchor="end" fill="#222" stroke="#222" stroke-width="0.12" font-weight="normal" >0h</text>
<rect x="392.65" y="126.15" width="19.30" height="9.35" fill="#e8806f"/>
<text x="402.00" y="133.32" font-size="7.0" text-anchor="middle" fill="#1a1a1a" stroke="#1a1a1a" stroke-width="0.12" font-weight="normal" >0.943</text>
<rect x="412.65" y="126.15" width="19.30" height="9.35" fill="#e9846f"/>
<text x="422.00" y="133.32" font-size="7.0" text-anchor="middle" fill="#1a1a1a" stroke="#1a1a1a" stroke-width="0.12" font-weight="normal" >0.942</text>
<rect x="432.65" y="126.15" width="19.30" height="9.35" fill="#f4c97d"/>
<text x="442.00" y="133.32" font-size="7.0" text-anchor="middle" fill="#1a1a1a" stroke="#1a1a1a" stroke-width="0.12" font-weight="normal" >0.928</text>
<rect x="452.65" y="126.15" width="19.30" height="9.35" fill="#d4e489"/>
<text x="462.00" y="133.32" font-size="7.0" text-anchor="middle" fill="#1a1a1a" stroke="#1a1a1a" stroke-width="0.12" font-weight="normal" >0.894</text>
<rect x="472.65" y="126.15" width="19.30" height="9.35" fill="#b2d67e"/>
<text x="482.00" y="133.32" font-size="7.0" text-anchor="middle" fill="#1a1a1a" stroke="#1a1a1a" stroke-width="0.12" font-weight="normal" >0.875</text>
<rect x="492.65" y="126.15" width="19.30" height="9.35" fill="#94c874"/>
<text x="502.00" y="133.32" font-size="7.0" text-anchor="middle" fill="#1a1a1a" stroke="#1a1a1a" stroke-width="0.12" font-weight="normal" >0.860</text>
<text x="389.20" y="143.18" font-size="6.5" text-anchor="end" fill="#222" stroke="#222" stroke-width="0.12" font-weight="normal" >12h</text>
<rect x="392.65" y="136.20" width="19.30" height="9.35" fill="#e4726f"/>
<text x="402.00" y="143.38" font-size="7.0" text-anchor="middle" fill="#1a1a1a" stroke="#1a1a1a" stroke-width="0.12" font-weight="normal" >0.947</text>
<rect x="412.65" y="136.20" width="19.30" height="9.35" fill="#e3686c"/>
<text x="422.00" y="143.38" font-size="7.0" text-anchor="middle" fill="#1a1a1a" stroke="#1a1a1a" stroke-width="0.12" font-weight="normal" >0.951</text>
<rect x="432.65" y="136.20" width="19.30" height="9.35" fill="#e9846f"/>
<text x="442.00" y="143.38" font-size="7.0" text-anchor="middle" fill="#1a1a1a" stroke="#1a1a1a" stroke-width="0.12" font-weight="normal" >0.942</text>
<rect x="452.65" y="136.20" width="19.30" height="9.35" fill="#f0ea8d"/>
<text x="462.00" y="143.38" font-size="7.0" text-anchor="middle" fill="#1a1a1a" stroke="#1a1a1a" stroke-width="0.12" font-weight="normal" >0.912</text>
<rect x="472.65" y="136.20" width="19.30" height="9.35" fill="#d2e389"/>
<text x="482.00" y="143.38" font-size="7.0" text-anchor="middle" fill="#1a1a1a" stroke="#1a1a1a" stroke-width="0.12" font-weight="normal" >0.893</text>
<rect x="492.65" y="136.20" width="19.30" height="9.35" fill="#b6d77f"/>
<text x="502.00" y="143.38" font-size="7.0" text-anchor="middle" fill="#1a1a1a" stroke="#1a1a1a" stroke-width="0.12" font-weight="normal" >0.877</text>
<text x="389.20" y="153.23" font-size="6.5" text-anchor="end" fill="#222" stroke="#222" stroke-width="0.12" font-weight="normal" >24h</text>
<rect x="392.65" y="146.25" width="19.30" height="9.35" fill="#e9846f"/>
<text x="402.00" y="153.43" font-size="7.0" text-anchor="middle" fill="#1a1a1a" stroke="#1a1a1a" stroke-width="0.12" font-weight="normal" >0.942</text>
<rect x="412.65" y="146.25" width="19.30" height="9.35" fill="#e3686c"/>
<text x="422.00" y="153.43" font-size="7.0" text-anchor="middle" fill="#1a1a1a" stroke="#1a1a1a" stroke-width="0.12" font-weight="normal" >0.952</text>
<rect x="432.65" y="146.25" width="19.30" height="9.35" fill="#e3686c"/>
<text x="442.00" y="153.43" font-size="7.0" text-anchor="middle" fill="#1a1a1a" stroke="#1a1a1a" stroke-width="0.12" font-weight="normal" >0.951</text>
<rect x="452.65" y="146.25" width="19.30" height="9.35" fill="#f4d280"/>
<text x="462.00" y="153.43" font-size="7.0" text-anchor="middle" fill="#1a1a1a" stroke="#1a1a1a" stroke-width="0.12" font-weight="normal" >0.925</text>
<rect x="472.65" y="146.25" width="19.30" height="9.35" fill="#e8ea8e"/>
<text x="482.00" y="153.43" font-size="7.0" text-anchor="middle" fill="#1a1a1a" stroke="#1a1a1a" stroke-width="0.12" font-weight="normal" >0.905</text>
<rect x="492.65" y="146.25" width="19.30" height="9.35" fill="#c9df86"/>
<text x="502.00" y="153.43" font-size="7.0" text-anchor="middle" fill="#1a1a1a" stroke="#1a1a1a" stroke-width="0.12" font-weight="normal" >0.888</text>
<text x="389.20" y="163.28" font-size="6.5" text-anchor="end" fill="#222" stroke="#222" stroke-width="0.12" font-weight="normal" >36h</text>
<rect x="392.65" y="156.30" width="19.30" height="9.35" fill="#f4e488"/>
<text x="402.00" y="163.47" font-size="7.0" text-anchor="middle" fill="#1a1a1a" stroke="#1a1a1a" stroke-width="0.12" font-weight="normal" >0.919</text>
<rect x="412.65" y="156.30" width="19.30" height="9.35" fill="#eea277"/>
<text x="422.00" y="163.47" font-size="7.0" text-anchor="middle" fill="#1a1a1a" stroke="#1a1a1a" stroke-width="0.12" font-weight="normal" >0.937</text>
<rect x="432.65" y="156.30" width="19.30" height="9.35" fill="#e46e6e"/>
<text x="442.00" y="163.47" font-size="7.0" text-anchor="middle" fill="#1a1a1a" stroke="#1a1a1a" stroke-width="0.12" font-weight="normal" >0.948</text>
<rect x="452.65" y="156.30" width="19.30" height="9.35" fill="#e77c70"/>
<text x="462.00" y="163.47" font-size="7.0" text-anchor="middle" fill="#1a1a1a" stroke="#1a1a1a" stroke-width="0.12" font-weight="normal" >0.944</text>
<rect x="472.65" y="156.30" width="19.30" height="9.35" fill="#f3c07c"/>
<text x="482.00" y="163.47" font-size="7.0" text-anchor="middle" fill="#1a1a1a" stroke="#1a1a1a" stroke-width="0.12" font-weight="normal" >0.930</text>
<rect x="492.65" y="156.30" width="19.30" height="9.35" fill="#f0ea8c"/>
<text x="502.00" y="163.47" font-size="7.0" text-anchor="middle" fill="#1a1a1a" stroke="#1a1a1a" stroke-width="0.12" font-weight="normal" >0.913</text>
<text x="389.20" y="173.33" font-size="6.5" text-anchor="end" fill="#222" stroke="#222" stroke-width="0.12" font-weight="normal" >48h</text>
<rect x="392.65" y="166.35" width="19.30" height="9.35" fill="#efeb8d"/>
<text x="402.00" y="173.53" font-size="7.0" text-anchor="middle" fill="#1a1a1a" stroke="#1a1a1a" stroke-width="0.12" font-weight="normal" >0.911</text>
<rect x="412.65" y="166.35" width="19.30" height="9.35" fill="#f3c07c"/>
<text x="422.00" y="173.53" font-size="7.0" text-anchor="middle" fill="#1a1a1a" stroke="#1a1a1a" stroke-width="0.12" font-weight="normal" >0.930</text>
<rect x="432.65" y="166.35" width="19.30" height="9.35" fill="#e8806f"/>
<text x="442.00" y="173.53" font-size="7.0" text-anchor="middle" fill="#1a1a1a" stroke="#1a1a1a" stroke-width="0.12" font-weight="normal" >0.943</text>
<rect x="452.65" y="166.35" width="19.30" height="9.35" fill="#e4726f"/>
<text x="462.00" y="173.53" font-size="7.0" text-anchor="middle" fill="#1a1a1a" stroke="#1a1a1a" stroke-width="0.12" font-weight="normal" >0.947</text>
<rect x="472.65" y="166.35" width="19.30" height="9.35" fill="#efa678"/>
<text x="482.00" y="173.53" font-size="7.0" text-anchor="middle" fill="#1a1a1a" stroke="#1a1a1a" stroke-width="0.12" font-weight="normal" >0.936</text>
<rect x="492.65" y="166.35" width="19.30" height="9.35" fill="#f5df86"/>
<text x="502.00" y="173.53" font-size="7.0" text-anchor="middle" fill="#1a1a1a" stroke="#1a1a1a" stroke-width="0.12" font-weight="normal" >0.921</text>
<text x="389.20" y="183.38" font-size="6.5" text-anchor="end" fill="#222" stroke="#222" stroke-width="0.12" font-weight="normal" >60h</text>
<rect x="392.65" y="176.40" width="19.30" height="9.35" fill="#d9e68b"/>
<text x="402.00" y="183.58" font-size="7.0" text-anchor="middle" fill="#1a1a1a" stroke="#1a1a1a" stroke-width="0.12" font-weight="normal" >0.897</text>
<rect x="412.65" y="176.40" width="19.30" height="9.35" fill="#f4e78a"/>
<text x="422.00" y="183.58" font-size="7.0" text-anchor="middle" fill="#1a1a1a" stroke="#1a1a1a" stroke-width="0.12" font-weight="normal" >0.918</text>
<rect x="432.65" y="176.40" width="19.30" height="9.35" fill="#f2bc7b"/>
<text x="442.00" y="183.58" font-size="7.0" text-anchor="middle" fill="#1a1a1a" stroke="#1a1a1a" stroke-width="0.12" font-weight="normal" >0.931</text>
<rect x="452.65" y="176.40" width="19.30" height="9.35" fill="#eb9072"/>
<text x="462.00" y="183.58" font-size="7.0" text-anchor="middle" fill="#1a1a1a" stroke="#1a1a1a" stroke-width="0.12" font-weight="normal" >0.940</text>
<rect x="472.65" y="176.40" width="19.30" height="9.35" fill="#f0ab78"/>
<text x="482.00" y="183.58" font-size="7.0" text-anchor="middle" fill="#1a1a1a" stroke="#1a1a1a" stroke-width="0.12" font-weight="normal" >0.935</text>
<rect x="492.65" y="176.40" width="19.30" height="9.35" fill="#f4d280"/>
<text x="502.00" y="183.58" font-size="7.0" text-anchor="middle" fill="#1a1a1a" stroke="#1a1a1a" stroke-width="0.12" font-weight="normal" >0.925</text>
<defs><linearGradient id="gB" x1="0" y1="0" x2="0" y2="1"><stop offset="0" stop-color="#e06a5c"/><stop offset="0.18" stop-color="#efa06a"/><stop offset="0.38" stop-color="#f5e58a"/><stop offset="0.6" stop-color="#d8e78a"/><stop offset="0.8" stop-color="#a8d27c"/><stop offset="1" stop-color="#6bb268"/></linearGradient></defs>
<rect x="428.4" y="34.1" width="8.9" height="54.9" fill="url(#gB)" stroke="#444" stroke-width="0.8"/>
<text x="440.80" y="40.00" font-size="6.5" text-anchor="start" fill="#222" stroke="#222" stroke-width="0.12" font-weight="normal" >0.95</text>
<text x="440.80" y="56.00" font-size="6.4" text-anchor="start" fill="#222" stroke="#222" stroke-width="0.12" font-weight="normal" >Pearson</text>
<text x="440.80" y="63.60" font-size="6.4" text-anchor="start" fill="#222" stroke="#222" stroke-width="0.12" font-weight="normal" >correlation of</text>
<text x="440.8" y="71.6" font-size="6.4" fill="#222" stroke="#222" stroke-width="0.12">log<tspan font-size="4.2" dy="1.3">2</tspan><tspan dy="-1.3">(copy number)</tspan></text>
<text x="440.80" y="88.00" font-size="6.5" text-anchor="start" fill="#222" stroke="#222" stroke-width="0.12" font-weight="normal" >0.85</text>
<defs><linearGradient id="gC" x1="0" y1="0" x2="0" y2="1"><stop offset="0" stop-color="#680088"/><stop offset="0.25" stop-color="#8a3a8c"/><stop offset="0.5" stop-color="#b27384"/><stop offset="0.68" stop-color="#d4a67e"/><stop offset="0.84" stop-color="#ead27c"/><stop offset="1" stop-color="#f8f878"/></linearGradient></defs>
<rect x="55.6" y="216.6" width="8" height="33.4" fill="url(#gC)" stroke="#555" stroke-width="0.8"/>
<text x="67.10" y="222.40" font-size="6.7" text-anchor="start" fill="#222" stroke="#222" stroke-width="0.12" font-weight="normal" >2</text>
<text x="67.10" y="234.70" font-size="6.5" text-anchor="start" fill="#222" stroke="#222" stroke-width="0.12" font-weight="normal" textLength="84.4" lengthAdjust="spacingAndGlyphs">Z-score(protein copy number)</text>
<text x="66.20" y="249.50" font-size="6.7" text-anchor="start" fill="#222" stroke="#222" stroke-width="0.12" font-weight="normal" >-2</text>
<text x="63.30" y="267.00" font-size="6.7" text-anchor="middle" fill="#222" stroke="#222" stroke-width="0.12" font-weight="normal" >MEL</text>
<line x1="41.9" y1="270.2" x2="84.4" y2="270.2" stroke="#46a046" stroke-width="1.6"/>
<path d="M42.3,280.1 L84.10000000000001,272.9 L84.10000000000001,280.1 Z" fill="none" stroke="#46a046" stroke-width="1.1" stroke-linejoin="miter"/>
<text x="103.30" y="267.00" font-size="6.7" text-anchor="middle" fill="#222" stroke="#222" stroke-width="0.12" font-weight="normal" >G1ER</text>
<line x1="88.5" y1="270.2" x2="118.0" y2="270.2" stroke="#3b7fc4" stroke-width="1.6"/>
<path d="M88.9,280.1 L117.7,272.9 L117.7,280.1 Z" fill="none" stroke="#3b7fc4" stroke-width="1.1" stroke-linejoin="miter"/>
<text x="138.70" y="267.00" font-size="6.7" text-anchor="middle" fill="#222" stroke="#222" stroke-width="0.12" font-weight="normal" >MEDEP</text>
<line x1="123.2" y1="270.2" x2="153.4" y2="270.2" stroke="#e5843a" stroke-width="1.6"/>
<path d="M123.60000000000001,280.1 L153.1,272.9 L153.1,280.1 Z" fill="none" stroke="#e5843a" stroke-width="1.1" stroke-linejoin="miter"/>
<text x="173.50" y="267.00" font-size="6.7" text-anchor="middle" fill="#222" stroke="#222" stroke-width="0.12" font-weight="normal" >PC</text>
<line x1="158.0" y1="270.2" x2="188.5" y2="270.2" stroke="#d8452c" stroke-width="1.6"/>
<path d="M158.4,280.1 L188.2,272.9 L188.2,280.1 Z" fill="none" stroke="#d8452c" stroke-width="1.1" stroke-linejoin="miter"/>
<rect x="43.10" y="284.20" width="47.90" height="177.60" fill="#c29a88"/>
<g transform="translate(43.10 284.20) scale(5.3222 1.2000)">
<path fill="#f4ea81" d="M1 14h1v1h-1zM7 92h1v1h-1z"/>
<path fill="#f2e783" d="M7 110h1v1h-1zM7 127h1v1h-1z"/>
<path fill="#f0e384" d="M8 67h1v1h-1zM7 95h1v1h-1zM7 132h1v1h-1z"/>
<path fill="#eee085" d="M7 51h1v1h-1zM5 61h1v1h-1zM5 63h1v1h-1zM7 67h1v1h-1zM7 73h1v1h-1zM7 82h1v1h-1zM7 87h1v1h-1zM7 93h1v1h-1zM7 109h1v1h-1zM7 146h1v1h-1z"/>
<path fill="#ecdc86" d="M5 67h1v1h-1zM6 73h1v1h-1zM8 92h1v1h-1zM5 109h1v1h-1zM6 138h1v1h-1zM7 142h1v1h-1z"/>
<path fill="#ebd887" d="M1 10h1v1h-1zM1 13h1v1h-1zM7 62h1v1h-1zM5 73h1v1h-1zM7 76h1v1h-1zM7 89h1v1h-1zM7 90h1v1h-1zM7 101h1v1h-1zM7 115h1v1h-1zM7 119h1v1h-1zM5 127h1v1h-1zM5 132h1v1h-1z"/>
<path fill="#e9d488" d="M1 4h1v1h-1zM1 9h1v1h-1zM1 15h1v1h-1zM5 35h1v1h-1zM7 39h1v1h-1zM5 40h1v1h-1zM5 51h1v1h-1zM5 64h1v1h-1zM7 66h1v1h-1zM5 69h1v1h-1zM7 69h1v1h-1zM7 70h1v1h-1zM7 74h1v1h-1zM7 75h1v1h-1zM6 87h1v1h-1zM7 91h1v1h-1zM5 95h1v1h-1zM7 97h1v1h-1zM6 110h1v1h-1zM5 111h1v1h-1zM7 111h1v1h-1zM7 122h1v1h-1zM7 130h1v1h-1zM7 138h1v1h-1zM7 143h1v1h-1z"/>
<path fill="#e5ce87" d="M0 14h1v1h-1zM0 15h1v1h-1zM7 40h1v1h-1zM5 66h1v1h-1zM5 75h1v1h-1zM6 76h1v1h-1zM5 87h1v1h-1zM5 88h1v1h-1zM8 91h1v1h-1zM5 92h1v1h-1zM5 93h1v1h-1zM7 103h1v1h-1zM7 106h1v1h-1zM6 109h1v1h-1zM8 109h1v1h-1zM7 121h1v1h-1zM7 124h1v1h-1zM5 125h1v1h-1zM6 127h1v1h-1zM7 135h1v1h-1zM7 136h1v1h-1zM7 137h1v1h-1z"/>
<path fill="#e2c887" d="M4 1h1v1h-1zM4 2h1v1h-1zM3 8h2v1h-2zM3 9h1v1h-1zM4 15h1v1h-1zM4 16h1v1h-1zM1 21h1v1h-1zM4 33h2v1h-2zM4 34h2v1h-2zM5 36h1v1h-1zM5 39h1v1h-1zM7 43h1v1h-1zM7 46h1v1h-1zM6 51h1v1h-1zM7 61h1v1h-1zM5 62h1v1h-1zM7 63h1v1h-1zM5 68h1v1h-1zM7 68h1v1h-1zM5 74h1v1h-1zM6 75h1v1h-1zM8 76h1v1h-1zM7 77h1v1h-1zM7 78h1v1h-1zM7 80h1v1h-1zM6 82h1v1h-1zM7 84h1v1h-1zM5 89h1v1h-1zM6 92h1v1h-1zM6 93h1v1h-1zM8 94h1v1h-1zM6 95h1v1h-1zM7 99h1v1h-1zM7 102h1v1h-1zM8 106h1v1h-1zM5 110h1v1h-1zM7 114h1v1h-1zM5 120h1v1h-1zM7 123h1v1h-1zM5 128h1v1h-1zM7 128h1v1h-1zM7 133h1v1h-1zM6 146h1v1h-1zM5 147h1v1h-1zM7 147h1v1h-1z"/>
<path fill="#dfc286" d="M5 1h1v1h-1zM1 8h1v1h-1zM1 11h1v1h-1zM4 14h1v1h-1zM1 20h1v1h-1zM4 23h1v1h-1zM1 25h1v1h-1zM4 31h2v1h-2zM4 32h1v1h-1zM6 33h1v1h-1zM4 35h1v1h-1zM5 37h1v1h-1zM7 38h1v1h-1zM5 47h1v1h-1zM6 50h1v1h-1zM7 55h1v1h-1zM5 58h1v1h-1zM4 61h1v1h-1zM6 67h1v1h-1zM6 74h1v1h-1zM4 75h1v1h-1zM6 78h1v1h-1zM5 81h1v1h-1zM7 81h1v1h-1zM5 82h1v1h-1zM5 86h1v1h-1zM7 86h1v1h-1zM6 88h2v1h-2zM7 94h1v1h-1zM5 100h1v1h-1zM7 100h1v1h-1zM5 102h2v1h-2zM7 104h1v1h-1zM7 105h1v1h-1zM7 108h1v1h-1zM7 112h1v1h-1zM5 114h1v1h-1zM6 115h1v1h-1zM7 120h1v1h-1zM6 135h1v1h-1zM5 142h2v1h-2zM7 144h1v1h-1zM5 145h1v1h-1zM5 146h1v1h-1z"/>
<path fill="#dcbc86" d="M1 6h1v1h-1zM0 9h1v1h-1zM5 16h1v1h-1zM3 17h1v1h-1zM5 19h1v1h-1zM5 20h1v1h-1zM1 22h1v1h-1zM4 22h1v1h-1zM5 23h1v1h-1zM8 43h1v1h-1zM4 51h1v1h-1zM5 56h1v1h-1zM6 61h1v1h-1zM8 61h1v1h-1zM6 63h1v1h-1zM8 63h1v1h-1zM4 67h1v1h-1zM5 72h1v1h-1zM8 73h1v1h-1zM5 76h1v1h-1zM5 78h1v1h-1zM8 78h1v1h-1zM7 83h1v1h-1zM4 86h1v1h-1zM6 89h1v1h-1zM6 90h1v1h-1zM6 94h1v1h-1zM8 95h1v1h-1zM8 99h1v1h-1zM5 101h1v1h-1zM8 101h1v1h-1zM5 107h1v1h-1zM7 107h1v1h-1zM7 113h1v1h-1zM6 114h1v1h-1zM5 115h1v1h-1zM6 122h1v1h-1zM5 123h1v1h-1zM6 124h1v1h-1zM7 125h1v1h-1zM7 126h1v1h-1zM8 127h1v1h-1zM6 132h1v1h-1zM7 134h1v1h-1zM8 136h1v1h-1zM5 138h1v1h-1zM5 143h1v1h-1zM6 147h1v1h-1z"/>
<path fill="#d9b685" d="M4 3h1v1h-1zM4 5h1v1h-1zM3 7h1v1h-1zM4 9h1v1h-1zM3 11h2v1h-2zM3 14h1v1h-1zM4 18h2v1h-2zM1 19h1v1h-1zM4 19h1v1h-1zM4 21h1v1h-1zM5 27h1v1h-1zM1 28h1v1h-1zM1 29h1v1h-1zM4 30h1v1h-1zM5 32h1v1h-1zM4 38h2v1h-2zM6 39h1v1h-1zM5 42h1v1h-1zM7 42h1v1h-1zM5 45h1v1h-1zM5 50h1v1h-1zM5 52h1v1h-1zM7 54h1v1h-1zM5 55h1v1h-1zM7 56h1v1h-1zM7 57h1v1h-1zM5 59h1v1h-1zM7 64h1v1h-1zM5 65h1v1h-1zM8 68h1v1h-1zM5 70h1v1h-1zM8 70h1v1h-1zM7 72h1v1h-1zM4 77h3v1h-3zM7 79h1v1h-1zM8 81h1v1h-1zM6 83h1v1h-1zM5 90h1v1h-1zM8 93h1v1h-1zM4 94h2v1h-2zM8 97h1v1h-1zM6 101h1v1h-1zM4 102h1v1h-1zM5 103h1v1h-1zM4 107h1v1h-1zM8 115h1v1h-1zM7 116h1v1h-1zM7 118h1v1h-1zM5 122h1v1h-1zM5 126h1v1h-1zM7 131h1v1h-1zM8 138h1v1h-1zM1 140h1v1h-1zM8 142h1v1h-1zM5 144h1v1h-1zM7 145h1v1h-1zM8 146h1v1h-1z"/>
<path fill="#d4af86" d="M4 0h1v1h-1zM6 1h1v1h-1zM3 6h2v1h-2zM1 7h1v1h-1zM5 10h1v1h-1zM1 12h1v1h-1zM3 16h1v1h-1zM1 17h1v1h-1zM1 23h1v1h-1zM1 24h1v1h-1zM4 24h2v1h-2zM5 30h1v1h-1zM1 32h1v1h-1zM4 36h1v1h-1zM6 37h2v1h-2zM8 39h1v1h-1zM5 43h1v1h-1zM7 45h1v1h-1zM5 46h2v1h-2zM7 52h1v1h-1zM5 57h1v1h-1zM1 58h1v1h-1zM4 60h1v1h-1zM4 62h1v1h-1zM6 62h1v1h-1zM4 63h1v1h-1zM4 69h1v1h-1zM6 69h1v1h-1zM6 72h1v1h-1zM8 72h1v1h-1zM4 73h1v1h-1zM8 74h1v1h-1zM8 87h1v1h-1zM4 88h1v1h-1zM8 89h1v1h-1zM4 95h1v1h-1zM6 97h1v1h-1zM1 98h1v1h-1zM6 100h1v1h-1zM8 105h1v1h-1zM6 106h1v1h-1zM6 107h1v1h-1zM4 110h1v1h-1zM8 110h1v1h-1zM6 111h1v1h-1zM7 117h1v1h-1zM6 118h1v1h-1zM8 118h1v1h-1zM6 123h1v1h-1zM7 129h1v1h-1zM5 131h1v1h-1zM4 132h1v1h-1zM5 133h2v1h-2zM6 134h1v1h-1zM8 134h1v1h-1zM5 136h1v1h-1zM5 137h2v1h-2zM8 137h1v1h-1zM7 139h1v1h-1z"/>
<path fill="#cfa887" d="M1 0h1v1h-1zM6 0h1v1h-1zM3 2h1v1h-1zM3 4h1v1h-1zM1 5h1v1h-1zM0 8h1v1h-1zM5 8h1v1h-1zM4 10h1v1h-1zM0 13h1v1h-1zM4 13h1v1h-1zM2 15h2v1h-2zM1 16h1v1h-1zM4 17h1v1h-1zM1 18h1v1h-1zM4 20h1v1h-1zM0 21h1v1h-1zM4 25h1v1h-1zM7 27h1v1h-1zM4 28h1v1h-1zM4 29h1v1h-1zM1 30h1v1h-1zM1 31h1v1h-1zM7 33h1v1h-1zM6 34h1v1h-1zM4 39h1v1h-1zM6 40h1v1h-1zM5 44h1v1h-1zM7 44h1v1h-1zM5 49h1v1h-1zM7 50h1v1h-1zM4 52h1v1h-1zM4 56h1v1h-1zM8 56h1v1h-1zM4 57h1v1h-1zM4 59h1v1h-1zM5 60h1v1h-1zM7 60h1v1h-1zM6 68h1v1h-1zM1 71h1v1h-1zM4 71h1v1h-1zM3 74h2v1h-2zM8 75h1v1h-1zM8 79h1v1h-1zM6 81h1v1h-1zM8 82h1v1h-1zM1 85h1v1h-1zM3 85h1v1h-1zM5 85h1v1h-1zM4 89h1v1h-1zM4 90h1v1h-1zM8 90h1v1h-1zM7 96h1v1h-1zM8 102h1v1h-1zM6 103h1v1h-1zM8 104h1v1h-1zM5 108h1v1h-1zM8 108h1v1h-1zM4 109h1v1h-1zM8 113h1v1h-1zM8 114h1v1h-1zM8 116h1v1h-1zM5 117h1v1h-1zM5 118h1v1h-1zM5 119h2v1h-2zM4 120h1v1h-1zM5 121h1v1h-1zM6 126h1v1h-1zM4 127h1v1h-1zM6 130h1v1h-1zM6 131h1v1h-1zM8 132h1v1h-1zM4 133h1v1h-1zM8 133h1v1h-1zM5 134h1v1h-1zM5 135h1v1h-1zM6 136h1v1h-1zM0 140h1v1h-1zM5 141h1v1h-1zM8 143h1v1h-1zM4 147h1v1h-1z"/>
<path fill="#caa188" d="M3 0h1v1h-1zM1 1h1v1h-1zM1 2h1v1h-1zM5 2h2v1h-2zM0 4h1v1h-1zM3 5h1v1h-1zM2 9h1v1h-1zM3 12h1v1h-1zM3 18h1v1h-1zM3 19h1v1h-1zM0 20h1v1h-1zM5 21h1v1h-1zM3 22h1v1h-1zM1 26h1v1h-1zM4 27h1v1h-1zM0 31h1v1h-1zM3 35h1v1h-1zM6 38h1v1h-1zM1 41h1v1h-1zM7 41h1v1h-1zM4 42h1v1h-1zM6 45h1v1h-1zM5 48h1v1h-1zM4 50h1v1h-1zM4 55h1v1h-1zM8 55h1v1h-1zM6 56h1v1h-1zM7 58h1v1h-1zM7 59h1v1h-1zM4 64h1v1h-1zM3 65h1v1h-1zM8 66h1v1h-1zM4 68h1v1h-1zM8 69h1v1h-1zM4 70h1v1h-1zM5 71h1v1h-1zM7 71h1v1h-1zM8 77h1v1h-1zM4 78h1v1h-1zM4 81h1v1h-1zM3 83h1v1h-1zM5 83h1v1h-1zM5 84h1v1h-1zM7 85h1v1h-1zM3 86h1v1h-1zM4 87h1v1h-1zM4 93h1v1h-1zM3 94h1v1h-1zM5 96h1v1h-1zM5 97h1v1h-1zM5 99h1v1h-1zM6 108h1v1h-1zM4 111h1v1h-1zM8 111h1v1h-1zM4 112h1v1h-1zM5 116h1v1h-1zM8 119h1v1h-1zM8 121h1v1h-1zM8 123h1v1h-1zM5 124h1v1h-1zM4 125h1v1h-1zM6 125h1v1h-1zM4 128h1v1h-1zM5 130h1v1h-1zM4 131h1v1h-1zM3 133h1v1h-1zM8 135h1v1h-1zM5 139h1v1h-1zM2 140h1v1h-1zM4 143h1v1h-1zM6 144h1v1h-1zM6 145h1v1h-1zM4 146h1v1h-1z"/>
<path fill="#c59a88" d="M5 0h1v1h-1zM1 3h1v1h-1zM3 3h1v1h-1zM5 5h2v1h-2zM4 7h2v1h-2zM0 10h1v1h-1zM4 12h2v1h-2zM5 15h1v1h-1zM3 21h1v1h-1zM3 23h1v1h-1zM5 26h1v1h-1zM7 26h1v1h-1zM1 27h1v1h-1zM5 28h1v1h-1zM3 29h1v1h-1zM1 34h1v1h-1zM3 34h1v1h-1zM7 34h1v1h-1zM1 35h1v1h-1zM6 35h1v1h-1zM3 36h1v1h-1zM8 38h1v1h-1zM4 43h1v1h-1zM1 44h1v1h-1zM4 46h1v1h-1zM6 47h2v1h-2zM1 48h1v1h-1zM3 48h1v1h-1zM3 49h2v1h-2zM7 49h1v1h-1zM3 51h1v1h-1zM1 53h1v1h-1zM6 55h1v1h-1zM1 59h1v1h-1zM1 60h1v1h-1zM8 62h1v1h-1zM4 65h1v1h-1zM6 70h1v1h-1zM3 71h1v1h-1zM1 77h1v1h-1zM4 79h1v1h-1zM6 79h1v1h-1zM3 80h1v1h-1zM5 80h1v1h-1zM8 80h1v1h-1zM8 83h1v1h-1zM6 84h1v1h-1zM4 85h1v1h-1zM3 88h1v1h-1zM8 88h1v1h-1zM5 91h1v1h-1zM4 92h1v1h-1zM6 96h1v1h-1zM7 98h1v1h-1zM6 99h1v1h-1zM3 102h1v1h-1zM8 103h1v1h-1zM5 104h1v1h-1zM5 106h1v1h-1zM5 112h1v1h-1zM4 114h1v1h-1zM4 116h1v1h-1zM4 119h1v1h-1zM6 120h1v1h-1zM6 121h1v1h-1zM4 122h1v1h-1zM8 122h1v1h-1zM8 124h1v1h-1zM3 125h1v1h-1zM8 126h1v1h-1zM3 127h1v1h-1zM1 129h1v1h-1zM8 130h1v1h-1zM6 139h1v1h-1zM1 141h1v1h-1zM6 143h1v1h-1z"/>
<path fill="#c0938a" d="M0 3h1v1h-1zM5 3h1v1h-1zM4 4h1v1h-1zM2 6h1v1h-1zM5 6h1v1h-1zM0 7h1v1h-1zM2 8h1v1h-1zM3 10h1v1h-1zM5 11h1v1h-1zM3 13h1v1h-1zM5 13h1v1h-1zM6 18h1v1h-1zM7 20h1v1h-1zM0 22h1v1h-1zM5 22h1v1h-1zM6 23h1v1h-1zM0 24h1v1h-1zM0 25h1v1h-1zM3 28h1v1h-1zM0 30h1v1h-1zM1 36h1v1h-1zM7 36h1v1h-1zM4 37h1v1h-1zM3 44h1v1h-1zM1 45h1v1h-1zM3 46h1v1h-1zM1 49h1v1h-1zM6 52h1v1h-1zM4 53h2v1h-2zM4 54h2v1h-2zM8 54h1v1h-1zM6 57h1v1h-1zM4 58h1v1h-1zM3 59h1v1h-1zM6 60h1v1h-1zM8 64h1v1h-1zM4 66h1v1h-1zM6 66h1v1h-1zM4 76h1v1h-1zM1 79h1v1h-1zM6 80h1v1h-1zM4 83h1v1h-1zM3 89h1v1h-1zM6 91h1v1h-1zM3 92h1v1h-1zM3 96h1v1h-1zM4 97h1v1h-1zM4 100h1v1h-1zM8 100h1v1h-1zM3 101h2v1h-2zM1 103h1v1h-1zM3 104h1v1h-1zM6 104h1v1h-1zM3 107h1v1h-1zM4 108h1v1h-1zM6 112h1v1h-1zM5 113h1v1h-1zM3 115h1v1h-1zM1 117h1v1h-1zM6 117h1v1h-1zM3 118h1v1h-1zM1 120h1v1h-1zM8 120h1v1h-1zM4 124h1v1h-1zM8 125h1v1h-1zM4 126h1v1h-1zM6 128h1v1h-1zM4 129h2v1h-2zM4 138h1v1h-1zM2 139h1v1h-1zM3 140h1v1h-1zM7 141h1v1h-1zM4 142h1v1h-1zM8 144h1v1h-1zM8 147h1v1h-1z"/>
<path fill="#ba8b8b" d="M3 1h1v1h-1zM0 6h1v1h-1zM2 7h1v1h-1zM5 9h1v1h-1zM6 10h1v1h-1zM0 11h1v1h-1zM6 12h1v1h-1zM2 14h1v1h-1zM5 14h1v1h-1zM6 16h1v1h-1zM0 17h1v1h-1zM2 17h1v1h-1zM5 17h1v1h-1zM6 19h1v1h-1zM0 23h1v1h-1zM3 24h1v1h-1zM3 26h2v1h-2zM0 28h1v1h-1zM5 29h1v1h-1zM3 31h1v1h-1zM6 31h2v1h-2zM1 33h1v1h-1zM3 33h1v1h-1zM7 35h1v1h-1zM6 36h1v1h-1zM1 37h1v1h-1zM3 39h1v1h-1zM8 40h1v1h-1zM3 41h1v1h-1zM5 41h1v1h-1zM8 41h1v1h-1zM1 42h1v1h-1zM4 44h1v1h-1zM8 44h1v1h-1zM8 46h1v1h-1zM3 47h1v1h-1zM0 49h1v1h-1zM8 52h1v1h-1zM3 53h1v1h-1zM6 53h1v1h-1zM3 54h1v1h-1zM6 54h1v1h-1zM6 58h1v1h-1zM6 59h1v1h-1zM6 64h1v1h-1zM1 65h1v1h-1zM7 65h1v1h-1zM4 72h1v1h-1zM3 75h1v1h-1zM3 78h1v1h-1zM3 79h1v1h-1zM5 79h1v1h-1zM4 80h1v1h-1zM4 82h1v1h-1zM1 84h1v1h-1zM0 85h1v1h-1zM3 87h1v1h-1zM3 90h1v1h-1zM3 95h1v1h-1zM0 98h1v1h-1zM4 99h1v1h-1zM3 103h2v1h-2zM1 104h1v1h-1zM5 105h1v1h-1zM3 111h1v1h-1zM3 112h1v1h-1zM6 116h1v1h-1zM4 117h1v1h-1zM4 118h1v1h-1zM4 123h1v1h-1zM8 128h1v1h-1zM3 131h1v1h-1zM8 131h1v1h-1zM3 132h1v1h-1zM4 134h1v1h-1zM3 135h2v1h-2zM4 137h1v1h-1zM1 139h1v1h-1zM2 141h2v1h-2zM3 143h1v1h-1zM3 144h2v1h-2zM3 145h1v1h-1z"/>
<path fill="#b5838c" d="M2 0h1v1h-1zM7 0h1v1h-1zM2 3h1v1h-1zM5 4h1v1h-1zM2 5h1v1h-1zM6 13h1v1h-1zM7 18h1v1h-1zM7 19h1v1h-1zM3 20h1v1h-1zM5 25h1v1h-1zM0 26h1v1h-1zM6 27h1v1h-1zM6 29h1v1h-1zM7 30h1v1h-1zM3 32h1v1h-1zM6 32h2v1h-2zM3 38h1v1h-1zM4 40h1v1h-1zM4 41h1v1h-1zM6 42h1v1h-1zM6 43h1v1h-1zM6 44h1v1h-1zM3 45h2v1h-2zM1 47h1v1h-1zM4 47h1v1h-1zM7 48h1v1h-1zM3 50h1v1h-1zM8 51h1v1h-1zM3 52h1v1h-1zM7 53h2v1h-2zM8 57h1v1h-1zM0 58h1v1h-1zM3 60h1v1h-1zM8 60h1v1h-1zM3 61h1v1h-1zM8 65h1v1h-1zM3 66h1v1h-1zM6 71h1v1h-1zM3 72h1v1h-1zM3 77h1v1h-1zM1 80h1v1h-1zM1 81h1v1h-1zM8 84h1v1h-1zM6 86h1v1h-1zM1 96h1v1h-1zM1 99h1v1h-1zM3 99h1v1h-1zM1 100h1v1h-1zM1 105h1v1h-1zM8 107h1v1h-1zM3 110h1v1h-1zM1 113h1v1h-1zM6 113h1v1h-1zM3 114h1v1h-1zM4 115h1v1h-1zM1 116h1v1h-1zM3 116h1v1h-1zM3 117h1v1h-1zM3 119h1v1h-1zM3 121h1v1h-1zM3 129h1v1h-1zM4 130h1v1h-1zM1 131h1v1h-1zM3 136h2v1h-2zM3 137h1v1h-1zM3 138h1v1h-1zM4 139h1v1h-1zM4 141h1v1h-1zM8 141h1v1h-1zM3 142h1v1h-1zM4 145h1v1h-1zM8 145h1v1h-1zM3 147h1v1h-1z"/>
<path fill="#af7a8e" d="M2 1h1v1h-1zM6 6h1v1h-1zM2 10h1v1h-1zM0 12h1v1h-1zM6 14h1v1h-1zM6 17h1v1h-1zM0 19h1v1h-1zM6 20h1v1h-1zM6 24h1v1h-1zM3 25h1v1h-1zM6 25h2v1h-2zM6 26h1v1h-1zM7 28h1v1h-1zM3 37h1v1h-1zM0 41h1v1h-1zM3 42h1v1h-1zM0 48h1v1h-1zM4 48h1v1h-1zM6 48h1v1h-1zM1 52h1v1h-1zM1 54h1v1h-1zM0 57h2v1h-2zM3 57h1v1h-1zM3 62h1v1h-1zM3 64h1v1h-1zM0 65h1v1h-1zM1 66h1v1h-1zM3 69h1v1h-1zM8 71h1v1h-1zM3 81h1v1h-1zM3 82h1v1h-1zM3 84h2v1h-2zM2 86h1v1h-1zM1 91h1v1h-1zM3 91h1v1h-1zM3 97h1v1h-1zM3 100h1v1h-1zM4 104h1v1h-1zM3 105h1v1h-1zM6 105h1v1h-1zM1 106h1v1h-1zM1 107h1v1h-1zM3 109h1v1h-1zM8 112h1v1h-1zM4 121h1v1h-1zM3 122h1v1h-1zM1 124h1v1h-1zM3 126h1v1h-1zM6 129h1v1h-1zM8 129h1v1h-1zM7 140h1v1h-1zM6 141h1v1h-1z"/>
<path fill="#a9728f" d="M0 2h1v1h-1zM2 4h1v1h-1zM0 5h1v1h-1zM6 7h1v1h-1zM6 8h1v1h-1zM2 13h1v1h-1zM2 16h1v1h-1zM7 22h1v1h-1zM7 23h1v1h-1zM7 24h1v1h-1zM0 27h1v1h-1zM0 29h1v1h-1zM3 30h1v1h-1zM6 41h1v1h-1zM8 42h1v1h-1zM1 43h1v1h-1zM8 45h1v1h-1zM6 49h1v1h-1zM8 50h1v1h-1zM1 56h1v1h-1zM3 56h1v1h-1zM3 58h1v1h-1zM8 58h1v1h-1zM1 64h1v1h-1zM6 65h1v1h-1zM3 67h1v1h-1zM3 73h1v1h-1zM3 76h1v1h-1zM1 83h1v1h-1zM2 85h1v1h-1zM1 86h1v1h-1zM1 88h1v1h-1zM1 90h1v1h-1zM4 96h1v1h-1zM1 97h1v1h-1zM2 98h4v1h-4zM2 99h1v1h-1zM2 105h1v1h-1zM3 106h2v1h-2zM3 108h1v1h-1zM1 112h2v1h-2zM3 113h2v1h-2zM2 117h1v1h-1zM1 118h1v1h-1zM3 120h1v1h-1zM3 123h1v1h-1zM3 124h1v1h-1zM2 125h1v1h-1zM3 128h1v1h-1zM2 129h1v1h-1zM3 130h1v1h-1zM1 134h1v1h-1zM3 134h1v1h-1zM1 135h1v1h-1zM3 139h1v1h-1zM8 140h1v1h-1zM2 144h1v1h-1zM2 145h1v1h-1zM2 146h2v1h-2z"/>
<path fill="#a36990" d="M7 1h1v1h-1zM2 2h1v1h-1zM6 3h1v1h-1zM2 11h1v1h-1zM2 12h1v1h-1zM7 12h1v1h-1zM7 16h1v1h-1zM0 18h1v1h-1zM6 22h1v1h-1zM2 28h1v1h-1zM6 28h1v1h-1zM7 29h1v1h-1zM6 30h1v1h-1zM0 32h1v1h-1zM0 35h1v1h-1zM0 36h1v1h-1zM1 38h1v1h-1zM3 40h1v1h-1zM1 46h1v1h-1zM8 47h1v1h-1zM0 53h1v1h-1zM1 55h1v1h-1zM0 59h1v1h-1zM3 63h1v1h-1zM0 71h1v1h-1zM2 91h1v1h-1zM3 93h1v1h-1zM1 94h1v1h-1zM8 96h1v1h-1zM0 104h1v1h-1zM4 105h1v1h-1zM8 117h1v1h-1zM2 122h1v1h-1zM2 124h1v1h-1zM1 125h1v1h-1zM2 126h1v1h-1zM2 128h1v1h-1zM2 131h1v1h-1zM2 133h1v1h-1zM2 135h1v1h-1zM5 140h1v1h-1zM1 143h1v1h-1zM1 144h1v1h-1z"/>
<path fill="#9e6090" d="M7 2h1v1h-1zM6 11h1v1h-1zM8 26h1v1h-1zM2 32h1v1h-1zM0 45h1v1h-1zM2 48h1v1h-1zM1 50h1v1h-1zM3 55h1v1h-1zM8 59h1v1h-1zM0 60h1v1h-1zM1 69h1v1h-1zM3 70h1v1h-1zM1 74h1v1h-1zM1 78h1v1h-1zM2 80h1v1h-1zM0 84h1v1h-1zM6 85h1v1h-1zM4 91h1v1h-1zM2 96h1v1h-1zM6 98h1v1h-1zM2 104h1v1h-1zM2 116h1v1h-1zM2 118h1v1h-1zM1 119h1v1h-1zM2 120h1v1h-1zM1 121h2v1h-2zM1 130h1v1h-1zM2 132h1v1h-1zM1 133h1v1h-1zM2 136h1v1h-1zM1 137h2v1h-2zM4 140h1v1h-1zM1 145h1v1h-1z"/>
<path fill="#985791" d="M0 0h1v1h-1zM0 1h1v1h-1zM6 4h1v1h-1zM7 5h1v1h-1zM6 9h1v1h-1zM6 15h1v1h-1zM2 18h1v1h-1zM2 22h1v1h-1zM2 30h1v1h-1zM0 34h1v1h-1zM1 39h1v1h-1zM1 40h1v1h-1zM0 42h1v1h-1zM3 43h1v1h-1zM0 47h1v1h-1zM8 49h1v1h-1zM2 79h1v1h-1zM1 82h1v1h-1zM8 85h1v1h-1zM1 89h1v1h-1zM1 93h1v1h-1zM0 96h1v1h-1zM8 98h1v1h-1zM2 100h1v1h-1zM2 107h1v1h-1zM1 123h2v1h-2zM1 136h1v1h-1zM8 139h1v1h-1zM0 141h1v1h-1zM1 142h1v1h-1zM2 143h1v1h-1zM1 147h2v1h-2z"/>
<path fill="#924e92" d="M7 3h1v1h-1zM7 4h1v1h-1zM0 16h1v1h-1zM2 20h1v1h-1zM2 21h1v1h-1zM7 21h1v1h-1zM8 27h1v1h-1zM0 33h1v1h-1zM2 36h1v1h-1zM0 44h1v1h-1zM2 45h1v1h-1zM2 49h1v1h-1zM0 54h1v1h-1zM2 58h1v1h-1zM2 59h1v1h-1zM0 64h1v1h-1zM3 68h1v1h-1zM1 70h1v1h-1zM2 71h1v1h-1zM1 73h1v1h-1zM1 75h1v1h-1zM2 81h1v1h-1zM2 82h1v1h-1zM2 84h1v1h-1zM8 86h1v1h-1zM1 87h1v1h-1zM2 88h1v1h-1zM2 94h1v1h-1zM1 108h1v1h-1zM1 111h1v1h-1zM2 113h1v1h-1zM2 119h1v1h-1zM1 122h1v1h-1zM1 126h1v1h-1zM2 130h1v1h-1zM1 132h1v1h-1zM6 140h1v1h-1zM2 142h1v1h-1z"/>
<path fill="#8d4691" d="M7 6h1v1h-1zM7 10h1v1h-1zM7 17h1v1h-1zM6 21h1v1h-1zM2 23h1v1h-1zM8 23h1v1h-1zM3 27h1v1h-1zM2 29h1v1h-1zM2 44h1v1h-1zM0 56h1v1h-1zM2 60h1v1h-1zM1 67h1v1h-1zM2 75h1v1h-1zM2 77h1v1h-1zM0 79h1v1h-1zM2 83h1v1h-1zM2 111h1v1h-1zM1 114h1v1h-1zM0 117h1v1h-1zM1 128h1v1h-1zM0 129h1v1h-1zM2 134h1v1h-1zM1 138h2v1h-2zM0 139h1v1h-1z"/>
<path fill="#883f90" d="M8 2h1v1h-1zM8 12h1v1h-1zM7 13h1v1h-1zM8 18h1v1h-1zM8 19h1v1h-1zM2 24h1v1h-1zM8 25h1v1h-1zM8 29h1v1h-1zM2 34h1v1h-1zM2 35h1v1h-1zM0 37h1v1h-1zM8 37h1v1h-1zM0 43h1v1h-1zM8 48h1v1h-1zM2 53h1v1h-1zM0 55h1v1h-1zM2 57h1v1h-1zM1 62h1v1h-1zM1 76h2v1h-2zM2 78h1v1h-1zM0 80h1v1h-1zM0 86h1v1h-1zM1 102h1v1h-1zM2 103h1v1h-1zM0 105h1v1h-1zM2 106h1v1h-1zM1 109h1v1h-1zM2 114h1v1h-1zM1 115h2v1h-2zM1 127h2v1h-2zM0 131h1v1h-1z"/>
<path fill="#83388f" d="M8 0h1v1h-1zM7 7h1v1h-1zM7 11h1v1h-1zM2 19h1v1h-1zM2 25h1v1h-1zM2 31h1v1h-1zM2 41h1v1h-1zM2 42h1v1h-1zM2 46h1v1h-1zM2 47h1v1h-1zM0 50h1v1h-1zM2 52h1v1h-1zM2 54h1v1h-1zM1 63h1v1h-1zM0 66h1v1h-1zM1 68h1v1h-1zM0 72h3v1h-3zM2 74h1v1h-1zM2 89h1v1h-1zM2 90h1v1h-1zM0 91h1v1h-1zM1 92h1v1h-1zM2 93h1v1h-1zM1 101h1v1h-1zM2 102h1v1h-1zM0 106h1v1h-1zM0 120h1v1h-1z"/>
<path fill="#7e318d" d="M8 24h1v1h-1zM2 26h1v1h-1zM8 28h1v1h-1zM8 32h1v1h-1zM8 33h1v1h-1zM8 36h1v1h-1zM2 43h1v1h-1zM0 46h1v1h-1zM2 50h1v1h-1zM0 52h1v1h-1zM2 62h1v1h-1zM2 64h1v1h-1zM2 65h1v1h-1zM2 69h1v1h-1zM0 81h1v1h-1zM2 92h1v1h-1zM0 99h1v1h-1zM0 100h1v1h-1zM2 101h1v1h-1zM0 103h1v1h-1zM2 108h1v1h-1zM1 110h1v1h-1z"/>
<path fill="#7a2a8c" d="M7 8h1v1h-1zM8 17h1v1h-1zM8 30h1v1h-1zM2 33h1v1h-1zM8 34h1v1h-1zM0 38h1v1h-1zM2 38h1v1h-1zM0 40h1v1h-1zM1 61h1v1h-1zM2 68h1v1h-1zM0 70h1v1h-1zM2 73h1v1h-1zM0 90h1v1h-1zM1 95h2v1h-2zM2 97h1v1h-1zM2 109h1v1h-1zM0 128h1v1h-1z"/>
<path fill="#77258a" d="M8 1h1v1h-1zM8 3h1v1h-1zM8 5h1v1h-1zM8 7h1v1h-1zM7 15h1v1h-1zM8 16h1v1h-1zM8 22h1v1h-1zM1 51h1v1h-1zM2 56h1v1h-1zM2 61h1v1h-1zM0 62h1v1h-1zM2 63h1v1h-1zM2 66h1v1h-1zM2 70h1v1h-1zM0 77h1v1h-1zM0 83h1v1h-1zM0 97h1v1h-1zM0 108h1v1h-1zM2 110h1v1h-1zM0 112h1v1h-1zM0 116h1v1h-1zM0 119h1v1h-1zM0 133h1v1h-1zM0 144h1v1h-1zM0 145h1v1h-1zM1 146h1v1h-1z"/>
<path fill="#742088" d="M8 13h1v1h-1zM8 20h1v1h-1zM2 27h1v1h-1zM2 40h1v1h-1zM2 87h1v1h-1zM0 107h1v1h-1zM0 111h1v1h-1zM0 113h1v1h-1zM0 118h1v1h-1zM0 121h1v1h-1zM0 124h1v1h-1zM0 125h1v1h-1zM0 147h1v1h-1z"/>
<path fill="#711b86" d="M8 4h1v1h-1zM8 6h1v1h-1zM7 9h1v1h-1zM8 15h1v1h-1zM8 21h1v1h-1zM8 31h1v1h-1zM2 37h1v1h-1zM2 39h1v1h-1zM0 51h1v1h-1zM2 51h1v1h-1zM0 61h1v1h-1zM2 67h1v1h-1zM0 68h1v1h-1zM0 75h1v1h-1zM0 82h1v1h-1zM0 123h1v1h-1zM0 130h1v1h-1zM0 143h1v1h-1z"/>
<path fill="#6e1684" d="M8 11h1v1h-1zM0 39h1v1h-1zM2 55h1v1h-1zM0 69h1v1h-1zM0 89h1v1h-1zM0 114h1v1h-1zM0 122h1v1h-1zM0 126h1v1h-1zM0 135h1v1h-1zM0 137h1v1h-1z"/>
<path fill="#6b1182" d="M8 35h1v1h-1zM0 88h1v1h-1zM0 101h1v1h-1z"/>
<path fill="#6a1082" d="M0 67h1v1h-1zM0 74h1v1h-1zM0 76h1v1h-1zM0 136h1v1h-1z"/>
<path fill="#6a1082" d="M8 8h1v1h-1zM8 9h1v1h-1zM8 10h1v1h-1zM7 14h2v1h-2zM0 63h1v1h-1zM0 73h1v1h-1zM0 78h1v1h-1zM0 87h1v1h-1zM0 92h1v1h-1zM0 93h1v1h-1zM0 94h1v1h-1zM0 95h1v1h-1zM0 102h1v1h-1zM0 109h1v1h-1zM0 110h1v1h-1zM0 115h1v1h-1zM0 127h1v1h-1zM0 132h1v1h-1zM0 134h1v1h-1zM0 138h1v1h-1zM0 142h1v1h-1zM0 146h1v1h-1z"/>
</g>
<rect x="92.00" y="284.20" width="32.00" height="177.60" fill="#c29a88"/>
<g transform="translate(92.00 284.20) scale(5.3333 1.2000)">
<path fill="#f6ef80" d="M5 117h1v1h-1z"/>
<path fill="#f6ef80" d="M5 114h1v1h-1z"/>
<path fill="#f4ea81" d="M5 74h1v1h-1zM5 116h1v1h-1zM5 125h1v1h-1z"/>
<path fill="#f2e783" d="M4 74h1v1h-1zM5 76h1v1h-1zM5 124h1v1h-1zM5 139h1v1h-1zM5 144h1v1h-1z"/>
<path fill="#f0e384" d="M5 87h1v1h-1zM5 90h1v1h-1zM5 94h1v1h-1zM5 95h1v1h-1zM4 96h1v1h-1zM5 101h1v1h-1zM4 117h1v1h-1zM4 118h2v1h-2zM5 134h1v1h-1zM5 138h1v1h-1z"/>
<path fill="#eee085" d="M4 3h1v1h-1zM0 20h1v1h-1zM1 69h1v1h-1zM5 86h1v1h-1zM5 91h1v1h-1zM5 102h1v1h-1zM4 103h1v1h-1zM5 112h1v1h-1zM5 137h1v1h-1zM5 140h1v1h-1z"/>
<path fill="#ecdc86" d="M1 20h1v1h-1zM0 69h1v1h-1zM5 96h1v1h-1zM5 111h1v1h-1zM4 124h1v1h-1zM5 131h1v1h-1zM5 141h1v1h-1z"/>
<path fill="#ebd887" d="M1 13h1v1h-1zM1 25h1v1h-1zM0 52h1v1h-1zM1 54h1v1h-1zM5 75h1v1h-1zM5 85h1v1h-1zM4 90h1v1h-1zM5 100h1v1h-1zM5 103h1v1h-1zM5 106h1v1h-1zM5 113h1v1h-1zM4 115h2v1h-2zM4 119h1v1h-1zM4 120h1v1h-1zM5 121h1v1h-1zM4 125h1v1h-1zM4 134h1v1h-1zM4 136h1v1h-1z"/>
<path fill="#e9d488" d="M0 13h1v1h-1zM4 46h1v1h-1zM0 51h1v1h-1zM1 52h1v1h-1zM5 80h1v1h-1zM5 126h1v1h-1zM5 130h1v1h-1zM4 135h1v1h-1zM5 147h1v1h-1z"/>
<path fill="#e5ce87" d="M1 16h1v1h-1zM4 17h1v1h-1zM1 21h1v1h-1zM0 22h2v1h-2zM4 32h1v1h-1zM4 39h1v1h-1zM0 50h1v1h-1zM4 55h1v1h-1zM4 93h2v1h-2zM4 105h1v1h-1zM4 111h1v1h-1zM4 114h1v1h-1zM5 123h1v1h-1zM4 126h1v1h-1zM5 136h1v1h-1zM5 142h1v1h-1zM5 145h1v1h-1z"/>
<path fill="#e2c887" d="M0 9h1v1h-1zM0 26h1v1h-1zM4 34h1v1h-1zM2 36h1v1h-1zM1 51h1v1h-1zM1 53h1v1h-1zM4 60h1v1h-1zM4 67h1v1h-1zM4 76h1v1h-1zM4 77h1v1h-1zM4 82h1v1h-1zM5 88h1v1h-1zM1 99h1v1h-1zM4 100h1v1h-1zM4 102h1v1h-1zM5 104h1v1h-1zM5 105h1v1h-1zM4 106h1v1h-1zM0 107h1v1h-1zM5 109h1v1h-1zM4 113h1v1h-1zM5 129h1v1h-1zM4 131h1v1h-1zM5 132h1v1h-1zM4 138h1v1h-1zM4 139h1v1h-1zM5 143h1v1h-1z"/>
<path fill="#dfc286" d="M1 1h1v1h-1zM1 5h1v1h-1zM0 8h1v1h-1zM2 14h1v1h-1zM4 14h1v1h-1zM2 19h1v1h-1zM4 33h1v1h-1zM4 37h1v1h-1zM1 42h1v1h-1zM4 44h1v1h-1zM1 49h1v1h-1zM4 56h1v1h-1zM1 57h1v1h-1zM4 59h1v1h-1zM5 67h1v1h-1zM0 68h1v1h-1zM4 72h1v1h-1zM4 79h2v1h-2zM4 80h1v1h-1zM5 81h1v1h-1zM4 89h1v1h-1zM4 92h2v1h-2zM5 108h1v1h-1zM4 110h1v1h-1zM4 123h1v1h-1zM5 127h1v1h-1zM4 129h1v1h-1zM5 135h1v1h-1z"/>
<path fill="#dcbc86" d="M1 0h1v1h-1zM1 2h1v1h-1zM0 5h1v1h-1zM0 7h1v1h-1zM1 8h1v1h-1zM2 9h1v1h-1zM1 10h1v1h-1zM2 11h1v1h-1zM4 15h1v1h-1zM0 16h1v1h-1zM1 19h1v1h-1zM0 25h1v1h-1zM1 36h1v1h-1zM1 41h1v1h-1zM4 48h1v1h-1zM2 50h1v1h-1zM4 50h1v1h-1zM0 53h1v1h-1zM1 58h1v1h-1zM4 61h1v1h-1zM4 65h2v1h-2zM1 66h1v1h-1zM1 68h1v1h-1zM5 73h1v1h-1zM4 75h1v1h-1zM4 85h1v1h-1zM5 89h1v1h-1zM4 98h1v1h-1zM5 110h1v1h-1zM4 116h1v1h-1zM4 144h1v1h-1z"/>
<path fill="#d9b685" d="M0 1h1v1h-1zM5 3h1v1h-1zM0 18h1v1h-1zM2 20h1v1h-1zM1 26h1v1h-1zM1 27h1v1h-1zM1 32h1v1h-1zM0 36h1v1h-1zM1 37h1v1h-1zM1 40h1v1h-1zM4 40h1v1h-1zM4 45h1v1h-1zM1 46h1v1h-1zM0 49h1v1h-1zM1 50h1v1h-1zM1 62h1v1h-1zM5 78h1v1h-1zM5 83h1v1h-1zM4 87h1v1h-1zM4 88h1v1h-1zM4 91h1v1h-1zM1 98h1v1h-1zM4 101h1v1h-1zM5 107h1v1h-1zM4 121h1v1h-1zM4 128h1v1h-1zM4 132h1v1h-1zM4 137h1v1h-1zM4 146h1v1h-1z"/>
<path fill="#d4af86" d="M0 2h1v1h-1zM2 2h1v1h-1zM2 4h1v1h-1zM4 11h1v1h-1zM1 12h1v1h-1zM2 13h1v1h-1zM2 15h1v1h-1zM2 16h1v1h-1zM1 18h1v1h-1zM4 18h1v1h-1zM0 19h1v1h-1zM1 23h1v1h-1zM1 28h1v1h-1zM1 29h1v1h-1zM4 29h1v1h-1zM1 31h1v1h-1zM2 33h1v1h-1zM2 35h1v1h-1zM4 35h1v1h-1zM2 37h1v1h-1zM0 42h1v1h-1zM5 42h1v1h-1zM2 46h1v1h-1zM2 52h1v1h-1zM0 54h1v1h-1zM2 60h1v1h-1zM4 63h1v1h-1zM0 66h1v1h-1zM2 66h1v1h-1zM4 71h1v1h-1zM5 77h1v1h-1zM5 82h1v1h-1zM4 86h1v1h-1zM0 88h1v1h-1zM5 97h1v1h-1zM5 98h1v1h-1zM0 99h1v1h-1zM4 104h1v1h-1zM4 108h1v1h-1zM5 119h1v1h-1zM5 120h1v1h-1zM5 122h1v1h-1zM0 127h1v1h-1zM5 128h1v1h-1zM5 133h1v1h-1zM4 143h1v1h-1zM4 147h1v1h-1z"/>
<path fill="#cfa887" d="M1 4h1v1h-1zM1 6h1v1h-1zM1 7h1v1h-1zM1 9h1v1h-1zM2 10h1v1h-1zM4 10h1v1h-1zM1 11h1v1h-1zM0 21h1v1h-1zM0 23h1v1h-1zM2 26h1v1h-1zM2 27h1v1h-1zM0 30h2v1h-2zM1 33h1v1h-1zM1 44h1v1h-1zM5 44h1v1h-1zM0 45h2v1h-2zM2 47h1v1h-1zM4 47h1v1h-1zM4 49h1v1h-1zM2 57h1v1h-1zM4 57h1v1h-1zM4 58h1v1h-1zM1 63h1v1h-1zM4 64h1v1h-1zM1 70h1v1h-1zM4 70h1v1h-1zM1 73h1v1h-1zM4 73h1v1h-1zM4 94h1v1h-1zM1 95h1v1h-1zM4 95h1v1h-1zM5 99h1v1h-1zM1 107h1v1h-1zM4 112h1v1h-1zM4 122h1v1h-1zM4 130h1v1h-1zM4 140h1v1h-1zM4 145h1v1h-1z"/>
<path fill="#caa188" d="M2 0h1v1h-1zM2 6h1v1h-1zM4 7h1v1h-1zM0 12h1v1h-1zM2 17h1v1h-1zM5 17h1v1h-1zM2 23h1v1h-1zM0 24h1v1h-1zM4 27h1v1h-1zM2 29h1v1h-1zM4 36h1v1h-1zM0 37h1v1h-1zM1 38h1v1h-1zM4 38h1v1h-1zM2 39h1v1h-1zM4 41h1v1h-1zM4 43h1v1h-1zM0 48h1v1h-1zM2 49h1v1h-1zM2 51h1v1h-1zM2 56h1v1h-1zM0 58h1v1h-1zM4 62h1v1h-1zM2 63h1v1h-1zM1 64h1v1h-1zM4 66h1v1h-1zM0 70h1v1h-1zM2 70h1v1h-1zM2 77h1v1h-1zM4 78h1v1h-1zM4 81h1v1h-1zM4 84h1v1h-1zM4 107h1v1h-1zM4 109h1v1h-1zM1 110h1v1h-1zM3 117h1v1h-1zM3 120h1v1h-1zM4 133h1v1h-1z"/>
<path fill="#c59a88" d="M2 1h1v1h-1zM4 1h1v1h-1zM2 3h1v1h-1zM0 4h1v1h-1zM4 6h1v1h-1zM4 12h1v1h-1zM4 19h1v1h-1zM2 25h1v1h-1zM0 27h1v1h-1zM4 28h1v1h-1zM4 30h1v1h-1zM0 31h1v1h-1zM5 34h1v1h-1zM0 35h2v1h-2zM0 38h1v1h-1zM2 38h1v1h-1zM0 40h1v1h-1zM2 41h1v1h-1zM2 44h1v1h-1zM1 47h1v1h-1zM1 48h1v1h-1zM5 48h1v1h-1zM2 53h1v1h-1zM4 53h1v1h-1zM2 54h1v1h-1zM1 55h2v1h-2zM1 61h1v1h-1zM0 63h1v1h-1zM5 63h1v1h-1zM0 64h1v1h-1zM2 71h1v1h-1zM2 72h1v1h-1zM3 74h1v1h-1zM0 75h1v1h-1zM2 80h1v1h-1zM4 83h1v1h-1zM4 97h1v1h-1zM2 99h1v1h-1zM4 99h1v1h-1zM2 109h1v1h-1zM1 121h1v1h-1zM1 122h1v1h-1zM2 124h1v1h-1zM3 125h1v1h-1zM1 127h1v1h-1zM0 141h1v1h-1zM4 142h1v1h-1zM1 146h1v1h-1zM5 146h1v1h-1z"/>
<path fill="#c0938a" d="M5 1h1v1h-1zM3 3h1v1h-1zM4 4h1v1h-1zM2 5h1v1h-1zM4 16h1v1h-1zM2 18h1v1h-1zM2 22h1v1h-1zM1 24h2v1h-2zM4 25h1v1h-1zM2 28h1v1h-1zM5 28h1v1h-1zM0 32h1v1h-1zM1 43h2v1h-2zM5 43h1v1h-1zM0 44h1v1h-1zM0 47h1v1h-1zM4 51h1v1h-1zM5 55h1v1h-1zM0 59h1v1h-1zM5 59h1v1h-1zM2 61h1v1h-1zM5 61h1v1h-1zM0 62h1v1h-1zM1 65h1v1h-1zM0 71h2v1h-2zM0 83h1v1h-1zM1 97h1v1h-1zM0 106h1v1h-1zM0 109h2v1h-2zM0 110h1v1h-1zM2 118h1v1h-1zM3 134h1v1h-1zM0 145h1v1h-1zM0 146h1v1h-1z"/>
<path fill="#ba8b8b" d="M0 0h1v1h-1zM4 2h1v1h-1zM3 4h1v1h-1zM2 7h1v1h-1zM2 8h1v1h-1zM0 11h1v1h-1zM1 14h1v1h-1zM2 21h1v1h-1zM4 23h1v1h-1zM4 24h1v1h-1zM4 26h1v1h-1zM0 28h1v1h-1zM2 30h1v1h-1zM2 32h1v1h-1zM5 32h1v1h-1zM5 33h1v1h-1zM1 34h2v1h-2zM5 35h1v1h-1zM0 41h1v1h-1zM5 41h1v1h-1zM4 42h1v1h-1zM2 45h1v1h-1zM2 48h1v1h-1zM0 57h1v1h-1zM5 57h1v1h-1zM5 58h1v1h-1zM1 59h1v1h-1zM2 62h1v1h-1zM2 68h1v1h-1zM4 68h1v1h-1zM2 69h1v1h-1zM2 81h1v1h-1zM1 82h1v1h-1zM3 82h1v1h-1zM0 84h1v1h-1zM5 84h1v1h-1zM1 88h1v1h-1zM1 89h1v1h-1zM2 91h1v1h-1zM2 96h1v1h-1zM0 97h1v1h-1zM2 98h1v1h-1zM0 101h1v1h-1zM1 119h1v1h-1zM1 129h1v1h-1zM1 132h1v1h-1zM2 133h1v1h-1zM0 140h1v1h-1zM1 142h1v1h-1zM1 143h1v1h-1z"/>
<path fill="#b5838c" d="M5 0h1v1h-1zM1 3h1v1h-1zM4 5h1v1h-1zM0 6h1v1h-1zM0 10h1v1h-1zM2 12h1v1h-1zM0 14h1v1h-1zM0 15h1v1h-1zM5 24h1v1h-1zM5 29h1v1h-1zM2 31h1v1h-1zM5 31h1v1h-1zM2 40h1v1h-1zM0 46h1v1h-1zM5 46h1v1h-1zM1 56h1v1h-1zM2 59h1v1h-1zM5 60h1v1h-1zM5 64h1v1h-1zM1 67h1v1h-1zM5 68h1v1h-1zM0 73h1v1h-1zM1 81h1v1h-1zM0 82h1v1h-1zM1 84h2v1h-2zM0 86h1v1h-1zM2 88h1v1h-1zM1 92h1v1h-1zM0 95h1v1h-1zM1 101h1v1h-1zM2 105h1v1h-1zM2 107h1v1h-1zM0 108h1v1h-1zM2 108h1v1h-1zM2 116h1v1h-1zM3 118h1v1h-1zM2 126h1v1h-1zM3 128h1v1h-1zM1 133h1v1h-1zM2 135h1v1h-1zM2 137h1v1h-1zM1 138h1v1h-1zM1 139h1v1h-1zM1 140h1v1h-1zM1 141h1v1h-1zM1 145h1v1h-1zM1 147h1v1h-1z"/>
<path fill="#af7a8e" d="M4 0h1v1h-1zM5 2h1v1h-1zM5 6h1v1h-1zM5 8h1v1h-1zM1 15h1v1h-1zM5 15h1v1h-1zM5 18h1v1h-1zM5 21h1v1h-1zM0 33h1v1h-1zM5 37h1v1h-1zM5 38h1v1h-1zM1 39h1v1h-1zM5 40h1v1h-1zM2 42h1v1h-1zM5 45h1v1h-1zM3 60h1v1h-1zM2 64h1v1h-1zM2 75h1v1h-1zM2 76h1v1h-1zM1 78h1v1h-1zM2 79h1v1h-1zM0 81h1v1h-1zM2 82h1v1h-1zM1 83h2v1h-2zM1 86h2v1h-2zM0 93h3v1h-3zM1 100h1v1h-1zM3 102h1v1h-1zM1 106h1v1h-1zM3 115h1v1h-1zM2 119h1v1h-1zM0 121h1v1h-1zM0 122h1v1h-1zM2 125h1v1h-1zM4 127h1v1h-1zM1 128h1v1h-1zM3 131h1v1h-1zM1 135h1v1h-1zM4 141h1v1h-1zM2 142h1v1h-1zM0 143h1v1h-1z"/>
<path fill="#a9728f" d="M5 7h1v1h-1zM3 11h1v1h-1zM5 14h1v1h-1zM3 17h1v1h-1zM4 31h1v1h-1zM3 39h1v1h-1zM0 43h1v1h-1zM5 54h1v1h-1zM5 56h1v1h-1zM2 65h1v1h-1zM0 72h2v1h-2zM5 72h1v1h-1zM1 75h1v1h-1zM1 77h1v1h-1zM2 78h1v1h-1zM1 85h1v1h-1zM2 87h1v1h-1zM0 98h1v1h-1zM2 100h1v1h-1zM0 104h2v1h-2zM1 105h1v1h-1zM2 106h1v1h-1zM1 108h1v1h-1zM1 111h1v1h-1zM2 112h1v1h-1zM2 115h1v1h-1zM2 117h1v1h-1zM2 120h1v1h-1zM2 122h2v1h-2zM1 124h1v1h-1zM2 129h1v1h-1zM2 136h2v1h-2zM1 137h1v1h-1zM3 137h1v1h-1zM2 145h1v1h-1zM0 147h1v1h-1z"/>
<path fill="#a36990" d="M4 8h1v1h-1zM5 12h1v1h-1zM4 13h1v1h-1zM1 17h1v1h-1zM4 21h1v1h-1zM5 49h1v1h-1zM4 52h1v1h-1zM4 54h1v1h-1zM0 55h1v1h-1zM1 60h1v1h-1zM0 61h1v1h-1zM3 65h1v1h-1zM5 66h1v1h-1zM2 67h1v1h-1zM0 78h1v1h-1zM3 78h1v1h-1zM0 79h1v1h-1zM1 80h1v1h-1zM3 80h1v1h-1zM2 85h1v1h-1zM3 87h1v1h-1zM1 91h1v1h-1zM1 103h1v1h-1zM2 104h1v1h-1zM2 110h1v1h-1zM3 111h1v1h-1zM3 124h1v1h-1zM3 126h1v1h-1zM1 130h1v1h-1zM2 134h1v1h-1zM3 135h1v1h-1zM2 138h1v1h-1zM0 142h1v1h-1zM2 144h1v1h-1zM3 147h1v1h-1z"/>
<path fill="#9e6090" d="M4 9h1v1h-1zM5 11h1v1h-1zM4 20h1v1h-1zM5 39h1v1h-1zM5 53h1v1h-1zM3 67h1v1h-1zM5 69h1v1h-1zM1 76h1v1h-1zM0 85h1v1h-1zM1 87h1v1h-1zM0 89h1v1h-1zM2 89h1v1h-1zM3 92h1v1h-1zM1 94h1v1h-1zM3 94h1v1h-1zM1 96h1v1h-1zM3 98h1v1h-1zM0 100h1v1h-1zM2 102h1v1h-1zM3 108h1v1h-1zM1 112h1v1h-1zM3 112h1v1h-1zM2 114h1v1h-1zM1 116h1v1h-1zM0 119h1v1h-1zM3 119h1v1h-1zM1 120h1v1h-1zM2 121h1v1h-1zM3 123h1v1h-1zM2 127h1v1h-1zM0 128h1v1h-1zM2 128h1v1h-1zM0 129h1v1h-1zM2 132h1v1h-1zM0 133h1v1h-1zM2 143h1v1h-1z"/>
<path fill="#985791" d="M3 9h1v1h-1zM3 14h1v1h-1zM0 17h1v1h-1zM3 18h1v1h-1zM5 23h1v1h-1zM5 27h1v1h-1zM3 29h1v1h-1zM3 32h1v1h-1zM3 36h1v1h-1zM3 55h1v1h-1zM0 56h1v1h-1zM2 58h1v1h-1zM5 62h1v1h-1zM5 70h1v1h-1zM5 71h1v1h-1zM2 73h1v1h-1zM3 77h1v1h-1zM3 79h1v1h-1zM1 90h3v1h-3zM0 92h1v1h-1zM2 92h1v1h-1zM2 94h1v1h-1zM2 95h1v1h-1zM2 101h1v1h-1zM1 102h1v1h-1zM3 103h1v1h-1zM3 106h1v1h-1zM2 113h2v1h-2zM1 126h1v1h-1zM2 130h1v1h-1zM3 133h1v1h-1zM0 138h1v1h-1zM2 139h1v1h-1zM0 144h1v1h-1zM3 144h1v1h-1zM2 147h1v1h-1z"/>
<path fill="#924e92" d="M5 4h1v1h-1zM5 10h1v1h-1zM4 22h2v1h-2zM5 30h1v1h-1zM3 34h1v1h-1zM3 35h1v1h-1zM3 38h1v1h-1zM3 61h1v1h-1zM3 62h1v1h-1zM3 66h1v1h-1zM3 70h1v1h-1zM3 71h1v1h-1zM3 72h1v1h-1zM3 76h1v1h-1zM1 79h1v1h-1zM3 85h1v1h-1zM0 87h1v1h-1zM3 96h1v1h-1zM2 97h1v1h-1zM3 100h1v1h-1zM0 103h1v1h-1zM2 103h1v1h-1zM3 105h1v1h-1zM2 111h1v1h-1zM0 114h1v1h-1zM1 115h1v1h-1zM3 116h1v1h-1zM1 117h1v1h-1zM1 123h1v1h-1zM0 124h1v1h-1zM0 131h1v1h-1zM2 131h1v1h-1zM1 134h1v1h-1zM3 139h1v1h-1zM3 141h1v1h-1zM1 144h1v1h-1zM2 146h1v1h-1z"/>
<path fill="#8d4691" d="M3 5h1v1h-1zM3 15h1v1h-1zM3 24h1v1h-1zM3 28h1v1h-1zM0 29h1v1h-1zM3 33h1v1h-1zM0 34h1v1h-1zM3 46h1v1h-1zM5 47h1v1h-1zM5 50h1v1h-1zM3 56h1v1h-1zM3 59h1v1h-1zM0 67h1v1h-1zM2 74h1v1h-1zM0 80h1v1h-1zM0 91h1v1h-1zM0 94h1v1h-1zM2 123h1v1h-1zM1 131h1v1h-1zM0 135h1v1h-1zM1 136h1v1h-1zM2 140h2v1h-2zM3 142h1v1h-1z"/>
<path fill="#883f90" d="M3 2h1v1h-1zM3 7h1v1h-1zM3 10h1v1h-1zM5 16h1v1h-1zM3 19h1v1h-1zM5 19h1v1h-1zM5 25h1v1h-1zM3 27h1v1h-1zM3 37h1v1h-1zM0 39h1v1h-1zM3 47h1v1h-1zM3 48h1v1h-1zM5 52h1v1h-1zM3 57h1v1h-1zM3 64h1v1h-1zM4 69h1v1h-1zM3 84h1v1h-1zM0 90h1v1h-1zM3 91h1v1h-1zM3 93h1v1h-1zM0 113h1v1h-1zM1 114h1v1h-1zM3 114h1v1h-1zM0 123h1v1h-1zM1 125h1v1h-1zM3 129h1v1h-1zM0 130h1v1h-1zM0 132h1v1h-1zM3 138h1v1h-1zM3 143h1v1h-1z"/>
<path fill="#83388f" d="M0 3h1v1h-1zM5 9h1v1h-1zM3 12h1v1h-1zM3 16h1v1h-1zM3 23h1v1h-1zM3 26h1v1h-1zM5 36h1v1h-1zM3 43h1v1h-1zM0 60h1v1h-1zM3 63h1v1h-1zM3 68h1v1h-1zM3 83h1v1h-1zM3 86h1v1h-1zM3 88h1v1h-1zM3 89h1v1h-1zM0 111h1v1h-1zM0 112h1v1h-1zM3 132h1v1h-1zM0 137h1v1h-1zM3 145h1v1h-1zM3 146h1v1h-1z"/>
<path fill="#7e318d" d="M3 6h1v1h-1zM3 41h1v1h-1zM3 45h1v1h-1zM3 50h1v1h-1zM3 51h1v1h-1zM1 74h1v1h-1zM3 81h1v1h-1zM0 96h1v1h-1zM3 99h1v1h-1zM0 105h1v1h-1zM3 107h1v1h-1zM3 110h1v1h-1zM0 115h1v1h-1zM0 120h1v1h-1zM0 126h1v1h-1zM3 130h1v1h-1zM0 136h1v1h-1zM0 139h1v1h-1zM2 141h1v1h-1z"/>
<path fill="#7a2a8c" d="M3 0h1v1h-1zM5 5h1v1h-1zM3 25h1v1h-1zM5 26h1v1h-1zM3 52h1v1h-1zM0 65h1v1h-1zM3 73h1v1h-1zM3 75h1v1h-1zM0 76h1v1h-1zM3 95h1v1h-1zM3 104h1v1h-1zM3 109h1v1h-1zM1 113h1v1h-1zM1 118h1v1h-1zM3 127h1v1h-1z"/>
<path fill="#77258a" d="M3 8h1v1h-1zM3 13h1v1h-1zM5 13h1v1h-1zM3 30h1v1h-1zM5 51h1v1h-1zM3 54h1v1h-1zM3 121h1v1h-1z"/>
<path fill="#742088" d="M3 1h1v1h-1zM3 21h1v1h-1zM3 40h1v1h-1zM3 53h1v1h-1zM0 77h1v1h-1zM3 97h1v1h-1zM0 102h1v1h-1zM0 134h1v1h-1z"/>
<path fill="#711b86" d="M3 20h1v1h-1zM5 20h1v1h-1zM3 31h1v1h-1zM3 42h1v1h-1zM3 49h1v1h-1zM0 74h1v1h-1zM3 101h1v1h-1zM0 116h1v1h-1zM0 117h1v1h-1z"/>
<path fill="#6e1684" d="M0 118h1v1h-1zM0 125h1v1h-1z"/>
<path fill="#6b1182" d="M3 58h1v1h-1z"/>
<path fill="#6a1082" d="M3 44h1v1h-1z"/>
<path fill="#6a1082" d="M3 22h1v1h-1zM3 69h1v1h-1z"/>
</g>
<rect x="125.00" y="284.20" width="31.00" height="177.60" fill="#c29a88"/>
<g transform="translate(125.00 284.20) scale(5.1667 1.2000)">
<path fill="#f0e384" d="M0 0h1v1h-1z"/>
<path fill="#ebd887" d="M0 1h1v1h-1z"/>
<path fill="#e9d488" d="M3 77h1v1h-1z"/>
<path fill="#e5ce87" d="M2 1h1v1h-1zM5 8h1v1h-1zM5 14h1v1h-1zM5 21h1v1h-1zM5 28h1v1h-1zM5 33h1v1h-1zM5 43h1v1h-1zM4 98h1v1h-1zM3 133h2v1h-2zM5 142h1v1h-1z"/>
<path fill="#e2c887" d="M2 0h1v1h-1zM5 12h1v1h-1zM5 16h1v1h-1zM5 22h1v1h-1zM5 27h1v1h-1zM5 29h1v1h-1zM3 33h1v1h-1zM5 54h1v1h-1zM3 58h1v1h-1zM5 61h1v1h-1zM5 70h1v1h-1zM5 71h1v1h-1zM4 76h2v1h-2zM4 77h2v1h-2zM5 97h1v1h-1zM3 98h1v1h-1zM5 98h1v1h-1zM3 99h1v1h-1zM5 99h1v1h-1zM3 108h1v1h-1zM5 112h1v1h-1zM5 122h1v1h-1zM5 132h1v1h-1zM5 133h1v1h-1zM5 144h1v1h-1z"/>
<path fill="#dfc286" d="M4 6h1v1h-1zM5 7h1v1h-1zM3 8h1v1h-1zM5 9h1v1h-1zM5 15h1v1h-1zM5 26h1v1h-1zM4 27h1v1h-1zM4 29h1v1h-1zM5 31h1v1h-1zM5 32h1v1h-1zM4 33h1v1h-1zM3 39h1v1h-1zM5 40h1v1h-1zM5 42h1v1h-1zM5 44h1v1h-1zM3 47h1v1h-1zM3 61h1v1h-1zM5 62h1v1h-1zM3 63h1v1h-1zM5 63h1v1h-1zM5 72h1v1h-1zM5 73h1v1h-1zM3 78h1v1h-1zM5 85h1v1h-1zM5 88h1v1h-1zM5 90h1v1h-1zM5 92h1v1h-1zM4 97h1v1h-1zM5 101h1v1h-1zM4 106h2v1h-2zM5 107h1v1h-1zM5 108h1v1h-1zM5 111h1v1h-1zM5 114h1v1h-1zM3 116h1v1h-1zM5 116h1v1h-1zM3 122h2v1h-2zM5 123h1v1h-1zM5 127h1v1h-1zM4 132h1v1h-1zM5 134h1v1h-1zM3 136h1v1h-1zM5 138h1v1h-1zM4 140h2v1h-2zM5 143h1v1h-1z"/>
<path fill="#dcbc86" d="M3 3h3v1h-3zM5 4h1v1h-1zM5 6h1v1h-1zM4 8h1v1h-1zM3 9h2v1h-2zM3 11h1v1h-1zM3 12h2v1h-2zM4 14h1v1h-1zM3 22h2v1h-2zM5 23h1v1h-1zM5 24h1v1h-1zM5 25h1v1h-1zM3 27h1v1h-1zM4 31h1v1h-1zM5 34h1v1h-1zM5 35h1v1h-1zM3 37h1v1h-1zM5 41h1v1h-1zM3 46h1v1h-1zM4 47h2v1h-2zM5 48h1v1h-1zM3 50h1v1h-1zM3 51h1v1h-1zM5 52h1v1h-1zM3 54h1v1h-1zM5 56h1v1h-1zM5 57h1v1h-1zM3 59h1v1h-1zM3 60h2v1h-2zM3 62h1v1h-1zM4 70h1v1h-1zM3 76h1v1h-1zM5 84h1v1h-1zM3 85h1v1h-1zM5 94h1v1h-1zM4 99h1v1h-1zM3 100h1v1h-1zM3 106h1v1h-1zM4 107h1v1h-1zM4 108h1v1h-1zM3 109h1v1h-1zM4 110h1v1h-1zM5 113h1v1h-1zM4 114h1v1h-1zM5 115h1v1h-1zM4 117h1v1h-1zM3 120h1v1h-1zM4 121h1v1h-1zM5 130h1v1h-1zM5 131h1v1h-1zM4 134h1v1h-1zM4 136h2v1h-2zM4 139h2v1h-2zM3 140h1v1h-1zM5 141h1v1h-1zM4 142h1v1h-1zM3 144h1v1h-1zM5 146h1v1h-1z"/>
<path fill="#d9b685" d="M5 5h1v1h-1zM4 7h1v1h-1zM5 10h1v1h-1zM4 11h2v1h-2zM3 14h1v1h-1zM5 18h1v1h-1zM4 26h1v1h-1zM3 29h1v1h-1zM4 30h1v1h-1zM3 31h1v1h-1zM3 32h2v1h-2zM4 37h1v1h-1zM4 39h1v1h-1zM3 42h2v1h-2zM3 43h2v1h-2zM5 45h1v1h-1zM4 46h2v1h-2zM3 48h2v1h-2zM5 49h1v1h-1zM5 53h1v1h-1zM5 55h1v1h-1zM3 57h1v1h-1zM5 60h1v1h-1zM4 61h1v1h-1zM4 63h1v1h-1zM3 64h1v1h-1zM5 65h1v1h-1zM5 68h1v1h-1zM5 69h1v1h-1zM3 70h1v1h-1zM3 71h2v1h-2zM3 72h1v1h-1zM3 75h1v1h-1zM3 79h2v1h-2zM3 80h1v1h-1zM5 80h1v1h-1zM3 83h1v1h-1zM5 83h1v1h-1zM5 86h1v1h-1zM5 87h1v1h-1zM5 89h1v1h-1zM3 91h1v1h-1zM3 92h1v1h-1zM5 93h1v1h-1zM4 96h2v1h-2zM3 97h1v1h-1zM4 100h1v1h-1zM4 102h1v1h-1zM3 104h1v1h-1zM3 105h1v1h-1zM4 109h2v1h-2zM3 111h2v1h-2zM3 114h1v1h-1zM4 115h1v1h-1zM4 116h1v1h-1zM3 117h1v1h-1zM5 117h1v1h-1zM3 118h1v1h-1zM4 119h1v1h-1zM5 120h1v1h-1zM3 121h1v1h-1zM5 121h1v1h-1zM5 125h1v1h-1zM3 126h1v1h-1zM5 128h1v1h-1zM3 129h1v1h-1zM3 135h1v1h-1zM3 137h3v1h-3zM3 139h1v1h-1zM4 141h1v1h-1zM3 142h1v1h-1zM4 144h1v1h-1zM5 145h1v1h-1z"/>
<path fill="#d4af86" d="M5 1h1v1h-1zM2 2h1v1h-1zM5 2h1v1h-1zM3 4h1v1h-1zM3 5h1v1h-1zM3 6h1v1h-1zM3 7h1v1h-1zM3 13h3v1h-3zM3 15h1v1h-1zM4 16h1v1h-1zM5 17h1v1h-1zM5 19h1v1h-1zM4 20h2v1h-2zM3 21h1v1h-1zM3 26h1v1h-1zM3 30h1v1h-1zM4 34h1v1h-1zM3 35h2v1h-2zM5 37h1v1h-1zM5 39h1v1h-1zM3 41h1v1h-1zM4 50h1v1h-1zM4 51h1v1h-1zM3 52h2v1h-2zM4 54h1v1h-1zM3 55h1v1h-1zM3 56h1v1h-1zM4 58h2v1h-2zM4 59h2v1h-2zM4 62h1v1h-1zM5 66h1v1h-1zM3 67h1v1h-1zM4 72h1v1h-1zM3 73h1v1h-1zM5 74h1v1h-1zM5 75h1v1h-1zM4 78h2v1h-2zM5 79h1v1h-1zM5 82h1v1h-1zM3 84h2v1h-2zM3 86h1v1h-1zM3 87h1v1h-1zM3 89h1v1h-1zM3 90h1v1h-1zM3 94h1v1h-1zM3 95h2v1h-2zM3 96h1v1h-1zM5 100h1v1h-1zM3 101h2v1h-2zM3 102h1v1h-1zM3 110h1v1h-1zM5 110h1v1h-1zM3 113h1v1h-1zM4 118h1v1h-1zM3 119h1v1h-1zM5 119h1v1h-1zM4 120h1v1h-1zM5 124h1v1h-1zM3 125h1v1h-1zM5 126h1v1h-1zM3 127h2v1h-2zM3 128h2v1h-2zM4 129h2v1h-2zM3 130h1v1h-1zM3 132h1v1h-1zM3 134h1v1h-1zM4 135h2v1h-2zM3 141h1v1h-1zM3 145h1v1h-1zM4 146h1v1h-1zM3 147h1v1h-1zM5 147h1v1h-1z"/>
<path fill="#cfa887" d="M0 2h1v1h-1zM4 4h1v1h-1zM4 5h1v1h-1zM3 10h2v1h-2zM4 17h1v1h-1zM3 18h2v1h-2zM3 20h1v1h-1zM4 21h1v1h-1zM4 23h1v1h-1zM3 28h2v1h-2zM5 30h1v1h-1zM3 34h1v1h-1zM3 36h1v1h-1zM3 38h1v1h-1zM5 38h1v1h-1zM3 40h2v1h-2zM3 44h1v1h-1zM3 45h1v1h-1zM3 49h2v1h-2zM5 50h1v1h-1zM4 55h1v1h-1zM4 56h1v1h-1zM4 57h1v1h-1zM4 64h2v1h-2zM5 67h1v1h-1zM3 69h1v1h-1zM3 74h2v1h-2zM3 81h1v1h-1zM5 81h1v1h-1zM3 82h1v1h-1zM4 85h1v1h-1zM3 88h1v1h-1zM4 90h1v1h-1zM4 91h2v1h-2zM5 102h1v1h-1zM5 104h1v1h-1zM4 105h1v1h-1zM3 107h1v1h-1zM4 113h1v1h-1zM3 115h1v1h-1zM3 123h2v1h-2zM4 125h1v1h-1zM4 126h1v1h-1zM4 130h1v1h-1zM3 131h2v1h-2zM3 138h1v1h-1zM3 143h1v1h-1z"/>
<path fill="#caa188" d="M5 0h1v1h-1zM4 15h1v1h-1zM3 16h1v1h-1zM3 17h1v1h-1zM3 19h1v1h-1zM3 23h1v1h-1zM3 24h2v1h-2zM3 25h2v1h-2zM4 36h2v1h-2zM4 41h1v1h-1zM4 44h1v1h-1zM4 45h1v1h-1zM5 51h1v1h-1zM3 53h1v1h-1zM3 65h2v1h-2zM3 66h1v1h-1zM3 68h1v1h-1zM4 69h1v1h-1zM4 73h1v1h-1zM4 75h1v1h-1zM4 80h1v1h-1zM4 81h1v1h-1zM4 82h1v1h-1zM4 83h1v1h-1zM4 86h1v1h-1zM4 87h1v1h-1zM4 88h1v1h-1zM4 89h1v1h-1zM4 92h1v1h-1zM3 93h1v1h-1zM4 94h1v1h-1zM5 95h1v1h-1zM4 104h1v1h-1zM5 105h1v1h-1zM4 112h1v1h-1zM5 118h1v1h-1zM3 124h1v1h-1zM4 138h1v1h-1zM4 143h1v1h-1zM4 145h1v1h-1zM3 146h1v1h-1zM4 147h1v1h-1z"/>
<path fill="#c59a88" d="M4 53h1v1h-1zM4 67h1v1h-1zM3 112h1v1h-1z"/>
<path fill="#c0938a" d="M4 19h1v1h-1zM4 38h1v1h-1zM4 66h1v1h-1zM4 68h1v1h-1zM3 103h1v1h-1zM5 103h1v1h-1zM2 118h1v1h-1zM4 124h1v1h-1z"/>
<path fill="#ba8b8b" d="M4 93h1v1h-1zM4 103h1v1h-1zM2 147h1v1h-1z"/>
<path fill="#b5838c" d="M1 0h1v1h-1zM2 30h1v1h-1zM2 46h1v1h-1zM2 47h1v1h-1zM2 49h1v1h-1zM2 52h1v1h-1zM2 60h1v1h-1zM2 75h1v1h-1zM2 80h1v1h-1zM2 81h1v1h-1zM2 87h1v1h-1zM2 91h1v1h-1zM2 98h1v1h-1zM2 105h1v1h-1zM2 110h1v1h-1zM2 120h1v1h-1zM2 135h1v1h-1zM2 136h1v1h-1zM2 137h1v1h-1z"/>
<path fill="#af7a8e" d="M1 1h1v1h-1zM2 11h1v1h-1zM0 19h1v1h-1zM2 21h1v1h-1zM2 32h1v1h-1zM2 36h1v1h-1zM2 39h1v1h-1zM2 43h1v1h-1zM2 50h1v1h-1zM2 51h1v1h-1zM2 56h1v1h-1zM2 58h1v1h-1zM2 61h1v1h-1zM2 64h1v1h-1zM2 65h1v1h-1zM2 69h1v1h-1zM2 72h1v1h-1zM2 74h1v1h-1zM2 77h1v1h-1zM2 83h1v1h-1zM2 84h1v1h-1zM2 86h1v1h-1zM2 90h1v1h-1zM2 92h1v1h-1zM2 93h1v1h-1zM2 96h1v1h-1zM2 99h1v1h-1zM2 101h1v1h-1zM2 102h1v1h-1zM2 103h1v1h-1zM2 104h1v1h-1zM2 114h1v1h-1zM2 116h1v1h-1zM2 123h1v1h-1zM2 127h1v1h-1zM2 132h1v1h-1zM2 133h1v1h-1zM2 140h1v1h-1zM2 141h1v1h-1z"/>
<path fill="#a9728f" d="M4 2h1v1h-1zM2 3h1v1h-1zM2 4h1v1h-1zM2 5h1v1h-1zM2 6h1v1h-1zM2 12h1v1h-1zM2 14h1v1h-1zM0 17h1v1h-1zM2 17h1v1h-1zM2 18h1v1h-1zM2 19h1v1h-1zM2 22h1v1h-1zM0 25h1v1h-1zM2 25h1v1h-1zM2 26h1v1h-1zM2 29h1v1h-1zM2 31h1v1h-1zM2 34h1v1h-1zM2 35h1v1h-1zM2 38h1v1h-1zM2 48h1v1h-1zM2 54h1v1h-1zM2 55h1v1h-1zM2 59h1v1h-1zM2 63h1v1h-1zM0 66h1v1h-1zM2 68h1v1h-1zM2 70h1v1h-1zM2 71h1v1h-1zM2 73h1v1h-1zM2 76h1v1h-1zM2 78h1v1h-1zM2 79h1v1h-1zM2 82h1v1h-1zM2 85h1v1h-1zM2 88h1v1h-1zM2 89h1v1h-1zM2 95h1v1h-1zM2 97h1v1h-1zM2 106h1v1h-1zM2 107h1v1h-1zM2 108h1v1h-1zM2 109h1v1h-1zM2 111h1v1h-1zM2 115h1v1h-1zM2 117h1v1h-1zM2 119h1v1h-1zM2 122h1v1h-1zM2 125h1v1h-1zM2 126h1v1h-1zM2 128h1v1h-1zM2 129h1v1h-1zM2 130h1v1h-1zM2 131h1v1h-1zM2 139h1v1h-1zM2 144h1v1h-1zM2 145h1v1h-1z"/>
<path fill="#a36990" d="M3 2h1v1h-1zM2 8h1v1h-1zM2 9h1v1h-1zM2 10h1v1h-1zM2 13h1v1h-1zM2 20h1v1h-1zM2 23h1v1h-1zM2 24h1v1h-1zM2 27h1v1h-1zM2 28h1v1h-1zM2 33h1v1h-1zM0 36h1v1h-1zM2 37h1v1h-1zM2 40h1v1h-1zM2 41h1v1h-1zM2 44h1v1h-1zM2 45h1v1h-1zM2 53h1v1h-1zM2 62h1v1h-1zM2 66h1v1h-1zM2 67h1v1h-1zM0 93h1v1h-1zM2 94h1v1h-1zM2 100h1v1h-1zM2 113h1v1h-1zM2 121h1v1h-1zM2 124h1v1h-1zM2 134h1v1h-1zM2 138h1v1h-1zM2 142h1v1h-1zM2 146h1v1h-1z"/>
<path fill="#9e6090" d="M1 2h1v1h-1zM0 5h1v1h-1zM2 7h1v1h-1zM0 13h1v1h-1zM2 15h1v1h-1zM0 16h1v1h-1zM0 23h1v1h-1zM0 24h1v1h-1zM2 42h1v1h-1zM2 57h1v1h-1zM1 103h1v1h-1zM2 112h1v1h-1zM2 143h1v1h-1z"/>
<path fill="#985791" d="M0 10h1v1h-1zM2 16h1v1h-1zM0 18h1v1h-1zM0 30h1v1h-1zM0 74h1v1h-1zM0 81h1v1h-1zM0 91h1v1h-1zM0 103h1v1h-1zM0 124h1v1h-1zM1 135h1v1h-1z"/>
<path fill="#924e92" d="M0 4h1v1h-1zM0 6h1v1h-1zM0 20h1v1h-1zM0 26h1v1h-1zM0 28h1v1h-1zM0 35h1v1h-1zM0 38h1v1h-1zM0 53h1v1h-1zM0 65h1v1h-1zM0 67h1v1h-1zM0 68h1v1h-1zM1 105h1v1h-1z"/>
<path fill="#8d4691" d="M0 15h1v1h-1zM0 21h1v1h-1zM0 27h1v1h-1zM0 31h1v1h-1zM0 34h1v1h-1zM0 45h1v1h-1zM0 49h1v1h-1zM0 52h1v1h-1zM1 66h1v1h-1zM0 69h1v1h-1zM0 73h1v1h-1zM0 75h1v1h-1zM0 82h1v1h-1zM0 86h1v1h-1zM0 89h1v1h-1zM0 92h1v1h-1zM0 95h1v1h-1zM1 104h1v1h-1zM0 105h1v1h-1zM1 118h1v1h-1zM0 126h1v1h-1zM0 129h1v1h-1zM0 137h1v1h-1zM1 145h1v1h-1z"/>
<path fill="#883f90" d="M3 1h1v1h-1zM0 11h1v1h-1zM1 17h1v1h-1zM0 22h1v1h-1zM1 24h1v1h-1zM0 29h1v1h-1zM0 32h1v1h-1zM0 40h1v1h-1zM0 41h1v1h-1zM0 44h1v1h-1zM0 51h2v1h-2zM0 56h1v1h-1zM0 57h1v1h-1zM0 64h1v1h-1zM1 74h1v1h-1zM0 80h1v1h-1zM0 84h1v1h-1zM1 86h1v1h-1zM0 88h1v1h-1zM1 91h1v1h-1zM1 93h1v1h-1zM0 94h1v1h-1zM1 100h1v1h-1zM0 104h1v1h-1zM1 112h1v1h-1zM1 119h1v1h-1zM1 124h1v1h-1zM1 126h1v1h-1zM0 128h2v1h-2zM0 135h1v1h-1zM0 138h2v1h-2zM0 145h1v1h-1zM1 146h1v1h-1zM0 147h2v1h-2z"/>
<path fill="#83388f" d="M4 0h1v1h-1zM0 7h1v1h-1zM0 9h1v1h-1zM0 12h1v1h-1zM1 19h1v1h-1zM1 25h1v1h-1zM1 36h1v1h-1zM0 37h1v1h-1zM1 38h1v1h-1zM0 39h1v1h-1zM0 50h1v1h-1zM1 53h1v1h-1zM0 54h1v1h-1zM0 55h1v1h-1zM0 59h1v1h-1zM1 68h1v1h-1zM1 75h1v1h-1zM1 81h1v1h-1zM1 82h1v1h-1zM0 83h2v1h-2zM1 84h1v1h-1zM0 87h1v1h-1zM1 88h1v1h-1zM1 92h1v1h-1zM1 94h1v1h-1zM1 95h1v1h-1zM1 96h1v1h-1zM0 102h2v1h-2zM1 109h1v1h-1zM0 110h2v1h-2zM0 112h1v1h-1zM0 113h1v1h-1zM0 115h1v1h-1zM0 116h2v1h-2zM0 119h1v1h-1zM0 120h2v1h-2zM1 123h1v1h-1zM0 125h2v1h-2zM1 127h1v1h-1zM1 129h1v1h-1zM1 130h1v1h-1zM1 131h1v1h-1zM1 136h1v1h-1zM1 137h1v1h-1zM1 141h1v1h-1z"/>
<path fill="#7e318d" d="M3 0h1v1h-1zM4 1h1v1h-1zM0 3h1v1h-1zM1 4h1v1h-1zM0 8h1v1h-1zM1 10h1v1h-1zM0 14h1v1h-1zM1 18h1v1h-1zM1 40h1v1h-1zM0 42h2v1h-2zM1 45h1v1h-1zM0 48h2v1h-2zM1 52h1v1h-1zM1 56h1v1h-1zM1 57h1v1h-1zM0 58h1v1h-1zM1 60h1v1h-1zM1 65h1v1h-1zM1 67h1v1h-1zM0 70h1v1h-1zM1 73h1v1h-1zM0 78h1v1h-1zM1 79h1v1h-1zM1 87h1v1h-1zM1 89h1v1h-1zM0 90h1v1h-1zM1 99h1v1h-1zM1 106h1v1h-1zM1 107h1v1h-1zM1 108h1v1h-1zM0 109h1v1h-1zM1 111h1v1h-1zM1 114h1v1h-1zM1 115h1v1h-1zM0 121h2v1h-2zM1 122h1v1h-1zM0 123h1v1h-1zM0 127h1v1h-1zM0 131h1v1h-1zM0 136h1v1h-1zM1 139h1v1h-1zM1 140h1v1h-1zM0 141h1v1h-1zM1 142h1v1h-1zM0 143h1v1h-1zM1 144h1v1h-1zM0 146h1v1h-1z"/>
<path fill="#7a2a8c" d="M1 5h1v1h-1zM1 6h1v1h-1zM1 13h1v1h-1zM1 16h1v1h-1zM1 20h1v1h-1zM1 21h1v1h-1zM1 23h1v1h-1zM1 26h1v1h-1zM1 27h1v1h-1zM1 30h1v1h-1zM1 34h1v1h-1zM1 41h1v1h-1zM0 43h1v1h-1zM0 46h1v1h-1zM0 47h1v1h-1zM1 50h1v1h-1zM1 54h1v1h-1zM1 55h1v1h-1zM1 58h1v1h-1zM0 60h1v1h-1zM1 64h1v1h-1zM1 69h1v1h-1zM0 71h1v1h-1zM0 72h2v1h-2zM1 78h1v1h-1zM1 80h1v1h-1zM0 96h1v1h-1zM0 100h1v1h-1zM1 101h1v1h-1zM0 107h1v1h-1zM1 113h1v1h-1zM0 114h1v1h-1zM0 117h2v1h-2zM0 118h1v1h-1zM0 130h1v1h-1zM0 132h1v1h-1zM1 134h1v1h-1zM0 139h1v1h-1zM0 142h1v1h-1zM1 143h1v1h-1z"/>
<path fill="#77258a" d="M1 3h1v1h-1zM1 11h1v1h-1zM1 15h1v1h-1zM1 31h1v1h-1zM0 33h1v1h-1zM1 35h1v1h-1zM1 37h1v1h-1zM1 39h1v1h-1zM1 44h1v1h-1zM1 47h1v1h-1zM1 49h1v1h-1zM0 61h2v1h-2zM0 62h2v1h-2zM0 63h1v1h-1zM0 79h1v1h-1zM1 90h1v1h-1zM0 101h1v1h-1zM0 106h1v1h-1zM0 111h1v1h-1zM1 132h1v1h-1zM1 133h1v1h-1zM0 140h1v1h-1zM0 144h1v1h-1z"/>
<path fill="#742088" d="M1 8h1v1h-1zM1 9h1v1h-1zM1 12h1v1h-1zM1 14h1v1h-1zM1 22h1v1h-1zM1 28h1v1h-1zM1 29h1v1h-1zM1 32h1v1h-1zM1 43h1v1h-1zM1 59h1v1h-1zM1 63h1v1h-1zM1 70h1v1h-1zM1 71h1v1h-1zM0 85h1v1h-1zM0 97h2v1h-2zM1 98h1v1h-1zM0 134h1v1h-1z"/>
<path fill="#711b86" d="M1 7h1v1h-1zM1 33h1v1h-1zM1 46h1v1h-1zM0 76h2v1h-2zM1 77h1v1h-1zM1 85h1v1h-1zM0 99h1v1h-1zM0 108h1v1h-1zM0 122h1v1h-1z"/>
<path fill="#6e1684" d="M0 77h1v1h-1zM0 98h1v1h-1zM0 133h1v1h-1z"/>
</g>
<rect x="157.10" y="284.20" width="31.70" height="177.60" fill="#c29a88"/>
<g transform="translate(157.10 284.20) scale(5.2833 1.2000)">
<path fill="#ebd887" d="M1 0h1v1h-1zM5 28h1v1h-1zM5 101h1v1h-1zM5 113h1v1h-1z"/>
<path fill="#e9d488" d="M0 0h1v1h-1zM5 35h1v1h-1zM5 93h1v1h-1zM5 102h1v1h-1zM5 109h1v1h-1zM5 127h1v1h-1z"/>
<path fill="#e5ce87" d="M5 3h1v1h-1zM5 4h1v1h-1zM5 6h1v1h-1zM5 12h1v1h-1zM5 25h1v1h-1zM5 29h1v1h-1zM5 30h1v1h-1zM5 34h1v1h-1zM5 36h1v1h-1zM5 55h1v1h-1zM5 61h1v1h-1zM5 68h1v1h-1zM5 83h1v1h-1zM5 98h1v1h-1zM5 105h1v1h-1zM5 124h1v1h-1zM5 139h1v1h-1zM5 144h1v1h-1z"/>
<path fill="#e2c887" d="M5 8h1v1h-1zM5 18h1v1h-1zM5 19h1v1h-1zM5 26h1v1h-1zM5 27h1v1h-1zM4 34h1v1h-1zM5 44h1v1h-1zM5 50h1v1h-1zM5 52h1v1h-1zM5 56h1v1h-1zM5 58h1v1h-1zM5 73h1v1h-1zM5 76h1v1h-1zM5 79h1v1h-1zM5 88h1v1h-1zM5 94h1v1h-1zM5 97h1v1h-1zM5 108h1v1h-1zM5 114h1v1h-1zM5 116h1v1h-1zM5 117h1v1h-1zM5 129h1v1h-1zM5 132h1v1h-1zM5 135h1v1h-1zM5 138h1v1h-1zM4 145h2v1h-2z"/>
<path fill="#dfc286" d="M4 3h1v1h-1zM5 10h1v1h-1zM5 15h1v1h-1zM5 17h1v1h-1zM5 20h1v1h-1zM5 24h1v1h-1zM4 29h1v1h-1zM5 31h1v1h-1zM5 33h1v1h-1zM5 39h1v1h-1zM5 45h1v1h-1zM5 49h1v1h-1zM5 51h1v1h-1zM5 54h1v1h-1zM4 56h1v1h-1zM5 57h1v1h-1zM5 63h1v1h-1zM5 66h1v1h-1zM5 70h1v1h-1zM5 74h1v1h-1zM5 75h1v1h-1zM5 85h1v1h-1zM5 86h1v1h-1zM5 96h1v1h-1zM5 100h1v1h-1zM5 106h1v1h-1zM5 107h1v1h-1zM5 115h1v1h-1zM5 122h1v1h-1zM5 123h1v1h-1zM4 126h2v1h-2zM3 128h1v1h-1zM3 129h2v1h-2zM5 133h1v1h-1zM5 136h1v1h-1zM5 137h1v1h-1zM5 140h1v1h-1zM5 146h1v1h-1z"/>
<path fill="#dcbc86" d="M4 5h2v1h-2zM4 8h1v1h-1zM5 11h1v1h-1zM5 14h1v1h-1zM5 16h1v1h-1zM5 21h1v1h-1zM4 23h2v1h-2zM4 28h1v1h-1zM4 33h1v1h-1zM3 34h1v1h-1zM4 37h2v1h-2zM5 38h1v1h-1zM4 40h1v1h-1zM5 42h1v1h-1zM4 44h1v1h-1zM5 47h1v1h-1zM4 50h1v1h-1zM5 59h1v1h-1zM5 64h1v1h-1zM5 67h1v1h-1zM5 69h1v1h-1zM5 72h1v1h-1zM4 76h1v1h-1zM5 78h1v1h-1zM5 80h1v1h-1zM5 89h1v1h-1zM5 90h1v1h-1zM5 92h1v1h-1zM4 101h1v1h-1zM4 102h1v1h-1zM5 103h1v1h-1zM5 104h1v1h-1zM4 105h1v1h-1zM5 111h1v1h-1zM5 112h1v1h-1zM4 114h1v1h-1zM5 118h1v1h-1zM5 119h1v1h-1zM4 124h1v1h-1zM3 127h1v1h-1zM4 128h2v1h-2zM5 131h1v1h-1zM3 132h1v1h-1zM5 134h1v1h-1zM4 139h1v1h-1zM5 141h1v1h-1zM5 142h1v1h-1z"/>
<path fill="#d9b685" d="M1 1h1v1h-1zM5 2h1v1h-1zM4 4h1v1h-1zM3 6h2v1h-2zM3 7h1v1h-1zM4 12h1v1h-1zM5 13h1v1h-1zM4 18h1v1h-1zM5 22h1v1h-1zM3 23h1v1h-1zM3 24h2v1h-2zM3 28h1v1h-1zM3 29h1v1h-1zM5 32h1v1h-1zM4 35h1v1h-1zM4 36h1v1h-1zM5 40h1v1h-1zM5 41h1v1h-1zM4 42h1v1h-1zM5 46h1v1h-1zM5 48h1v1h-1zM4 54h1v1h-1zM4 61h1v1h-1zM5 65h1v1h-1zM3 72h2v1h-2zM4 73h1v1h-1zM4 74h1v1h-1zM3 75h1v1h-1zM4 79h1v1h-1zM5 81h1v1h-1zM5 82h1v1h-1zM4 83h1v1h-1zM5 84h1v1h-1zM4 85h1v1h-1zM5 87h1v1h-1zM5 91h1v1h-1zM4 93h1v1h-1zM4 94h1v1h-1zM5 95h1v1h-1zM4 96h1v1h-1zM5 99h1v1h-1zM3 102h1v1h-1zM3 105h1v1h-1zM4 113h1v1h-1zM3 115h2v1h-2zM3 116h2v1h-2zM5 120h1v1h-1zM3 122h1v1h-1zM3 124h1v1h-1zM5 125h1v1h-1zM3 126h1v1h-1zM4 127h1v1h-1zM5 130h1v1h-1zM3 134h1v1h-1zM3 139h1v1h-1zM3 141h1v1h-1zM4 143h2v1h-2zM3 144h2v1h-2zM3 145h1v1h-1zM5 147h1v1h-1z"/>
<path fill="#d4af86" d="M3 3h1v1h-1zM3 8h1v1h-1zM5 9h1v1h-1zM4 10h1v1h-1zM4 11h1v1h-1zM4 14h1v1h-1zM4 19h1v1h-1zM3 25h1v1h-1zM4 26h1v1h-1zM3 27h2v1h-2zM3 30h1v1h-1zM3 33h1v1h-1zM4 38h1v1h-1zM4 39h1v1h-1zM3 42h1v1h-1zM4 43h2v1h-2zM4 45h1v1h-1zM4 47h1v1h-1zM3 52h2v1h-2zM4 53h2v1h-2zM3 54h1v1h-1zM3 55h2v1h-2zM3 56h1v1h-1zM3 57h2v1h-2zM3 58h1v1h-1zM3 60h3v1h-3zM3 61h1v1h-1zM4 70h1v1h-1zM4 75h1v1h-1zM3 76h1v1h-1zM3 78h1v1h-1zM3 80h2v1h-2zM3 84h2v1h-2zM4 86h1v1h-1zM4 91h1v1h-1zM3 93h1v1h-1zM3 95h1v1h-1zM4 97h1v1h-1zM3 99h1v1h-1zM3 106h2v1h-2zM4 108h1v1h-1zM4 109h1v1h-1zM3 114h1v1h-1zM3 117h1v1h-1zM3 118h1v1h-1zM3 119h2v1h-2zM3 120h1v1h-1zM3 121h1v1h-1zM4 122h1v1h-1zM3 130h1v1h-1zM3 131h1v1h-1zM4 133h1v1h-1zM3 142h2v1h-2z"/>
<path fill="#cfa887" d="M0 1h1v1h-1zM5 1h1v1h-1zM3 5h1v1h-1zM4 7h2v1h-2zM3 9h2v1h-2zM3 11h1v1h-1zM3 13h2v1h-2zM3 16h2v1h-2zM3 17h2v1h-2zM3 18h1v1h-1zM3 19h1v1h-1zM4 25h1v1h-1zM4 30h1v1h-1zM4 32h1v1h-1zM3 35h1v1h-1zM3 37h1v1h-1zM3 40h1v1h-1zM3 44h1v1h-1zM3 45h1v1h-1zM3 46h1v1h-1zM4 48h1v1h-1zM3 51h2v1h-2zM4 58h1v1h-1zM4 59h1v1h-1zM3 62h3v1h-3zM3 63h2v1h-2zM3 64h1v1h-1zM4 66h1v1h-1zM4 67h1v1h-1zM3 69h2v1h-2zM3 71h3v1h-3zM3 73h1v1h-1zM5 77h1v1h-1zM4 78h1v1h-1zM3 79h1v1h-1zM4 81h1v1h-1zM4 82h1v1h-1zM3 83h1v1h-1zM3 85h1v1h-1zM4 87h1v1h-1zM3 88h2v1h-2zM3 92h1v1h-1zM3 94h1v1h-1zM4 95h1v1h-1zM3 96h1v1h-1zM3 97h1v1h-1zM4 98h1v1h-1zM3 100h1v1h-1zM3 101h1v1h-1zM3 103h2v1h-2zM3 104h2v1h-2zM3 108h1v1h-1zM5 110h1v1h-1zM3 112h2v1h-2zM3 113h1v1h-1zM4 117h1v1h-1zM4 120h1v1h-1zM4 121h1v1h-1zM3 123h1v1h-1zM4 125h1v1h-1zM4 130h1v1h-1zM4 132h1v1h-1zM3 133h1v1h-1zM4 134h1v1h-1zM3 137h2v1h-2zM3 138h2v1h-2zM3 140h2v1h-2zM4 141h1v1h-1zM3 143h1v1h-1zM3 146h2v1h-2zM3 147h1v1h-1z"/>
<path fill="#caa188" d="M3 10h1v1h-1zM3 12h1v1h-1zM3 14h1v1h-1zM3 22h2v1h-2zM3 26h1v1h-1zM3 31h2v1h-2zM3 39h1v1h-1zM3 41h2v1h-2zM4 46h1v1h-1zM3 47h1v1h-1zM3 49h1v1h-1zM3 50h1v1h-1zM3 53h1v1h-1zM4 64h1v1h-1zM3 65h2v1h-2zM3 66h1v1h-1zM4 68h1v1h-1zM3 74h1v1h-1zM3 77h1v1h-1zM3 86h1v1h-1zM3 87h1v1h-1zM4 89h1v1h-1zM3 90h2v1h-2zM3 91h1v1h-1zM4 92h1v1h-1zM3 98h1v1h-1zM4 100h1v1h-1zM4 107h1v1h-1zM3 111h1v1h-1zM4 118h1v1h-1zM5 121h1v1h-1zM3 125h1v1h-1zM4 131h1v1h-1zM3 135h2v1h-2zM4 136h1v1h-1zM4 147h1v1h-1z"/>
<path fill="#c59a88" d="M3 4h1v1h-1zM3 15h2v1h-2zM4 20h1v1h-1zM3 21h2v1h-2zM3 36h1v1h-1zM3 38h1v1h-1zM3 48h1v1h-1zM3 67h1v1h-1zM3 70h1v1h-1zM4 77h1v1h-1zM3 81h1v1h-1zM3 82h1v1h-1zM4 99h1v1h-1zM3 107h1v1h-1zM3 109h1v1h-1zM3 110h1v1h-1zM4 111h1v1h-1zM4 123h1v1h-1zM3 136h1v1h-1z"/>
<path fill="#c0938a" d="M3 20h1v1h-1zM3 32h1v1h-1zM3 43h1v1h-1zM3 59h1v1h-1zM3 89h1v1h-1zM4 110h1v1h-1z"/>
<path fill="#ba8b8b" d="M1 2h1v1h-1zM4 49h1v1h-1zM3 68h1v1h-1z"/>
<path fill="#b5838c" d="M3 2h2v1h-2zM2 75h1v1h-1zM2 87h1v1h-1zM2 114h1v1h-1zM2 117h1v1h-1zM2 130h1v1h-1zM2 142h1v1h-1z"/>
<path fill="#af7a8e" d="M2 16h1v1h-1zM2 23h1v1h-1zM2 40h1v1h-1zM2 45h1v1h-1zM2 53h1v1h-1zM2 54h1v1h-1zM2 61h1v1h-1zM2 67h1v1h-1zM2 69h1v1h-1zM2 72h1v1h-1zM2 80h1v1h-1zM2 97h1v1h-1zM2 99h1v1h-1zM2 115h1v1h-1zM2 116h1v1h-1zM2 123h1v1h-1zM2 125h1v1h-1zM2 126h1v1h-1zM2 127h1v1h-1zM2 128h1v1h-1zM2 131h1v1h-1zM2 134h1v1h-1zM2 135h1v1h-1zM2 141h1v1h-1z"/>
<path fill="#a9728f" d="M0 2h1v1h-1zM2 3h1v1h-1zM2 5h1v1h-1zM2 6h1v1h-1zM2 7h1v1h-1zM2 11h1v1h-1zM2 17h1v1h-1zM2 24h1v1h-1zM2 37h1v1h-1zM2 38h1v1h-1zM2 39h1v1h-1zM1 41h1v1h-1zM2 42h1v1h-1zM2 44h1v1h-1zM2 46h1v1h-1zM2 51h1v1h-1zM2 55h1v1h-1zM2 56h1v1h-1zM2 57h1v1h-1zM2 60h1v1h-1zM1 69h1v1h-1zM2 70h1v1h-1zM1 71h2v1h-2zM2 73h1v1h-1zM2 76h1v1h-1zM2 77h1v1h-1zM2 79h1v1h-1zM2 84h1v1h-1zM2 85h1v1h-1zM2 89h1v1h-1zM2 92h1v1h-1zM2 94h1v1h-1zM1 95h2v1h-2zM2 100h1v1h-1zM2 102h1v1h-1zM2 103h1v1h-1zM2 104h1v1h-1zM2 108h1v1h-1zM2 109h1v1h-1zM2 111h1v1h-1zM2 112h1v1h-1zM2 113h1v1h-1zM2 119h1v1h-1zM2 122h1v1h-1zM2 124h1v1h-1zM2 129h1v1h-1zM2 136h1v1h-1zM2 137h1v1h-1zM2 143h1v1h-1zM2 144h1v1h-1zM2 145h1v1h-1zM2 146h1v1h-1zM2 147h1v1h-1z"/>
<path fill="#a36990" d="M5 0h1v1h-1zM2 2h1v1h-1zM2 8h1v1h-1zM2 10h1v1h-1zM2 13h1v1h-1zM2 19h1v1h-1zM2 20h1v1h-1zM2 21h1v1h-1zM2 22h1v1h-1zM2 26h1v1h-1zM2 27h1v1h-1zM2 30h1v1h-1zM2 34h1v1h-1zM2 36h1v1h-1zM2 41h1v1h-1zM2 43h1v1h-1zM2 47h1v1h-1zM2 58h1v1h-1zM2 59h1v1h-1zM2 62h1v1h-1zM2 63h1v1h-1zM2 65h1v1h-1zM1 67h1v1h-1zM2 68h1v1h-1zM2 74h1v1h-1zM1 77h1v1h-1zM2 78h1v1h-1zM2 81h1v1h-1zM2 83h1v1h-1zM2 86h1v1h-1zM2 88h1v1h-1zM1 89h1v1h-1zM2 91h1v1h-1zM2 93h1v1h-1zM2 96h1v1h-1zM2 98h1v1h-1zM1 99h1v1h-1zM1 100h1v1h-1zM1 104h1v1h-1zM2 105h1v1h-1zM2 106h1v1h-1zM2 107h1v1h-1zM1 110h2v1h-2zM2 118h1v1h-1zM1 120h1v1h-1zM2 121h1v1h-1zM1 123h1v1h-1zM1 130h1v1h-1zM1 132h2v1h-2zM1 137h1v1h-1zM2 138h1v1h-1zM2 139h1v1h-1zM2 140h1v1h-1zM1 143h1v1h-1z"/>
<path fill="#9e6090" d="M2 4h1v1h-1zM1 9h2v1h-2zM2 14h1v1h-1zM1 15h2v1h-2zM2 18h1v1h-1zM1 21h1v1h-1zM1 22h1v1h-1zM2 28h1v1h-1zM2 29h1v1h-1zM2 31h1v1h-1zM1 32h2v1h-2zM2 33h1v1h-1zM1 48h1v1h-1zM1 49h2v1h-2zM2 50h1v1h-1zM2 52h1v1h-1zM1 53h1v1h-1zM1 57h1v1h-1zM1 62h1v1h-1zM1 64h2v1h-2zM1 68h1v1h-1zM1 80h1v1h-1zM1 81h1v1h-1zM1 82h2v1h-2zM1 86h1v1h-1zM1 87h1v1h-1zM2 90h1v1h-1zM1 91h1v1h-1zM2 101h1v1h-1zM1 103h1v1h-1zM1 107h1v1h-1zM1 111h1v1h-1zM1 112h1v1h-1zM2 120h1v1h-1zM1 121h1v1h-1zM1 125h1v1h-1zM1 131h1v1h-1zM2 133h1v1h-1zM1 146h1v1h-1z"/>
<path fill="#985791" d="M1 4h1v1h-1zM1 7h1v1h-1zM1 10h1v1h-1zM2 12h1v1h-1zM1 13h1v1h-1zM1 17h1v1h-1zM1 20h1v1h-1zM1 25h2v1h-2zM1 31h1v1h-1zM2 35h1v1h-1zM1 39h1v1h-1zM1 42h1v1h-1zM1 43h1v1h-1zM1 46h1v1h-1zM1 47h1v1h-1zM2 48h1v1h-1zM1 50h1v1h-1zM1 60h1v1h-1zM1 65h1v1h-1zM1 66h2v1h-2zM1 70h1v1h-1zM1 75h1v1h-1zM1 78h1v1h-1zM1 90h1v1h-1zM1 92h1v1h-1zM1 96h1v1h-1zM1 98h1v1h-1zM1 102h1v1h-1zM1 108h1v1h-1zM1 128h1v1h-1zM1 129h1v1h-1zM1 135h1v1h-1zM1 136h1v1h-1zM1 138h1v1h-1zM1 147h1v1h-1z"/>
<path fill="#924e92" d="M1 11h1v1h-1zM1 12h1v1h-1zM1 14h1v1h-1zM1 19h1v1h-1zM1 23h1v1h-1zM1 26h1v1h-1zM1 27h1v1h-1zM1 28h1v1h-1zM1 36h1v1h-1zM1 37h1v1h-1zM1 40h1v1h-1zM1 45h1v1h-1zM1 51h1v1h-1zM1 52h1v1h-1zM1 55h1v1h-1zM1 56h1v1h-1zM1 58h1v1h-1zM1 59h1v1h-1zM1 61h1v1h-1zM1 63h1v1h-1zM1 73h1v1h-1zM1 74h1v1h-1zM1 76h1v1h-1zM1 83h1v1h-1zM1 84h1v1h-1zM1 85h1v1h-1zM1 88h1v1h-1zM1 97h1v1h-1zM1 101h1v1h-1zM1 106h1v1h-1zM1 109h1v1h-1zM1 113h1v1h-1zM1 115h1v1h-1zM1 116h1v1h-1zM1 117h1v1h-1zM1 118h1v1h-1zM1 133h1v1h-1zM1 134h1v1h-1zM1 139h1v1h-1zM1 140h1v1h-1zM1 141h1v1h-1zM1 144h1v1h-1z"/>
<path fill="#8d4691" d="M2 0h1v1h-1zM2 1h2v1h-2zM1 6h1v1h-1zM1 8h1v1h-1zM1 18h1v1h-1zM1 24h1v1h-1zM1 29h1v1h-1zM1 30h1v1h-1zM1 33h1v1h-1zM1 35h1v1h-1zM1 38h1v1h-1zM1 54h1v1h-1zM1 72h1v1h-1zM1 79h1v1h-1zM1 94h1v1h-1zM1 105h1v1h-1zM1 114h1v1h-1zM1 119h1v1h-1zM1 122h1v1h-1zM1 126h1v1h-1zM1 142h1v1h-1zM1 145h1v1h-1z"/>
<path fill="#883f90" d="M3 0h1v1h-1zM4 1h1v1h-1zM1 3h1v1h-1zM1 5h1v1h-1zM1 16h1v1h-1zM0 32h1v1h-1zM1 34h1v1h-1zM1 44h1v1h-1zM1 93h1v1h-1zM0 99h1v1h-1zM1 124h1v1h-1zM1 127h1v1h-1z"/>
<path fill="#83388f" d="M0 69h1v1h-1zM0 77h1v1h-1zM0 95h1v1h-1zM0 110h1v1h-1zM0 131h1v1h-1z"/>
<path fill="#7e318d" d="M0 15h1v1h-1zM0 17h1v1h-1zM0 20h1v1h-1zM0 21h1v1h-1zM0 48h1v1h-1zM0 55h1v1h-1zM0 64h1v1h-1zM0 68h1v1h-1zM0 71h1v1h-1zM0 81h1v1h-1zM0 89h1v1h-1zM0 121h1v1h-1zM0 140h1v1h-1z"/>
<path fill="#7a2a8c" d="M0 7h1v1h-1zM0 9h1v1h-1zM0 13h1v1h-1zM0 14h1v1h-1zM0 16h1v1h-1zM0 18h1v1h-1zM0 19h1v1h-1zM0 22h1v1h-1zM0 26h1v1h-1zM0 41h1v1h-1zM0 43h1v1h-1zM0 45h1v1h-1zM0 49h1v1h-1zM0 53h1v1h-1zM0 57h1v1h-1zM0 59h1v1h-1zM0 67h1v1h-1zM0 82h1v1h-1zM0 84h1v1h-1zM0 87h1v1h-1zM0 103h1v1h-1zM0 107h1v1h-1zM0 120h1v1h-1zM0 125h1v1h-1zM0 134h1v1h-1zM0 135h1v1h-1zM0 136h1v1h-1z"/>
<path fill="#77258a" d="M4 0h1v1h-1zM0 11h1v1h-1zM0 27h1v1h-1zM0 46h1v1h-1zM0 62h1v1h-1zM0 65h1v1h-1zM0 70h1v1h-1zM0 90h1v1h-1zM0 104h1v1h-1zM0 108h1v1h-1zM0 111h1v1h-1zM0 112h1v1h-1zM0 123h1v1h-1zM0 130h1v1h-1zM0 137h1v1h-1zM0 142h1v1h-1zM0 143h1v1h-1zM0 146h1v1h-1zM0 147h1v1h-1z"/>
<path fill="#742088" d="M0 5h1v1h-1zM0 10h1v1h-1zM0 23h1v1h-1zM0 24h1v1h-1zM0 25h1v1h-1zM0 28h1v1h-1zM0 30h1v1h-1zM0 31h1v1h-1zM0 33h1v1h-1zM0 36h1v1h-1zM0 37h1v1h-1zM0 38h1v1h-1zM0 39h1v1h-1zM0 42h1v1h-1zM0 44h1v1h-1zM0 47h1v1h-1zM0 50h1v1h-1zM0 51h1v1h-1zM0 60h1v1h-1zM0 66h1v1h-1zM0 78h1v1h-1zM0 83h1v1h-1zM0 86h1v1h-1zM0 91h1v1h-1zM0 92h1v1h-1zM0 98h1v1h-1zM0 114h1v1h-1zM0 117h1v1h-1zM0 118h1v1h-1zM0 122h1v1h-1zM0 133h1v1h-1zM0 141h1v1h-1z"/>
<path fill="#711b86" d="M0 4h1v1h-1zM0 6h1v1h-1zM0 12h1v1h-1zM0 29h1v1h-1zM0 40h1v1h-1zM0 52h1v1h-1zM0 58h1v1h-1zM0 63h1v1h-1zM0 74h1v1h-1zM0 75h1v1h-1zM0 80h1v1h-1zM0 85h1v1h-1zM0 88h1v1h-1zM0 93h1v1h-1zM0 97h1v1h-1zM0 100h1v1h-1zM0 109h1v1h-1z"/>
<path fill="#6e1684" d="M0 3h1v1h-1zM0 8h1v1h-1zM0 35h1v1h-1zM0 54h1v1h-1zM0 56h1v1h-1zM0 72h1v1h-1zM0 73h1v1h-1zM0 76h1v1h-1zM0 94h1v1h-1zM0 96h1v1h-1zM0 101h1v1h-1zM0 106h1v1h-1zM0 115h1v1h-1zM0 119h1v1h-1zM0 128h1v1h-1zM0 132h1v1h-1zM0 138h1v1h-1zM0 139h1v1h-1zM0 145h1v1h-1z"/>
<path fill="#6b1182" d="M0 61h1v1h-1zM0 113h1v1h-1zM0 116h1v1h-1zM0 126h1v1h-1zM0 144h1v1h-1z"/>
<path fill="#6a1082" d="M0 34h1v1h-1zM0 79h1v1h-1zM0 102h1v1h-1zM0 105h1v1h-1zM0 124h1v1h-1z"/>
<path fill="#6a1082" d="M0 127h1v1h-1zM0 129h1v1h-1z"/>
</g>
<line x1="245.9" y1="216.2" x2="245.9" y2="341.8" stroke="#111" stroke-width="1.1"/>
<line x1="245.4" y1="341.2" x2="333.9" y2="341.2" stroke="#111" stroke-width="1.1"/>
<line x1="242.6" y1="335.60" x2="245.9" y2="335.60" stroke="#111" stroke-width="0.8"/>
<text x="239.80" y="337.90" font-size="6.3" text-anchor="end" fill="#222" stroke="#222" stroke-width="0.12" font-weight="normal" >-10</text>
<line x1="242.6" y1="324.20" x2="245.9" y2="324.20" stroke="#111" stroke-width="0.8"/>
<text x="239.80" y="326.50" font-size="6.3" text-anchor="end" fill="#222" stroke="#222" stroke-width="0.12" font-weight="normal" >-8</text>
<line x1="242.6" y1="312.80" x2="245.9" y2="312.80" stroke="#111" stroke-width="0.8"/>
<text x="239.80" y="315.10" font-size="6.3" text-anchor="end" fill="#222" stroke="#222" stroke-width="0.12" font-weight="normal" >-6</text>
<line x1="242.6" y1="301.40" x2="245.9" y2="301.40" stroke="#111" stroke-width="0.8"/>
<text x="239.80" y="303.70" font-size="6.3" text-anchor="end" fill="#222" stroke="#222" stroke-width="0.12" font-weight="normal" >-4</text>
<line x1="242.6" y1="290.00" x2="245.9" y2="290.00" stroke="#111" stroke-width="0.8"/>
<text x="239.80" y="292.30" font-size="6.3" text-anchor="end" fill="#222" stroke="#222" stroke-width="0.12" font-weight="normal" >-2</text>
<line x1="242.6" y1="278.60" x2="245.9" y2="278.60" stroke="#111" stroke-width="0.8"/>
<text x="239.80" y="280.90" font-size="6.3" text-anchor="end" fill="#222" stroke="#222" stroke-width="0.12" font-weight="normal" >0</text>
<line x1="242.6" y1="267.20" x2="245.9" y2="267.20" stroke="#111" stroke-width="0.8"/>
<text x="239.80" y="269.50" font-size="6.3" text-anchor="end" fill="#222" stroke="#222" stroke-width="0.12" font-weight="normal" >2</text>
<line x1="242.6" y1="255.80" x2="245.9" y2="255.80" stroke="#111" stroke-width="0.8"/>
<text x="239.80" y="258.10" font-size="6.3" text-anchor="end" fill="#222" stroke="#222" stroke-width="0.12" font-weight="normal" >4</text>
<line x1="242.6" y1="244.40" x2="245.9" y2="244.40" stroke="#111" stroke-width="0.8"/>
<text x="239.80" y="246.70" font-size="6.3" text-anchor="end" fill="#222" stroke="#222" stroke-width="0.12" font-weight="normal" >6</text>
<line x1="242.6" y1="233.00" x2="245.9" y2="233.00" stroke="#111" stroke-width="0.8"/>
<text x="239.80" y="235.30" font-size="6.3" text-anchor="end" fill="#222" stroke="#222" stroke-width="0.12" font-weight="normal" >8</text>
<line x1="242.6" y1="221.60" x2="245.9" y2="221.60" stroke="#111" stroke-width="0.8"/>
<text x="239.80" y="223.90" font-size="6.3" text-anchor="end" fill="#222" stroke="#222" stroke-width="0.12" font-weight="normal" >10</text>
<line x1="249.60" y1="341.2" x2="249.60" y2="344.0" stroke="#111" stroke-width="0.8"/>
<line x1="269.80" y1="341.2" x2="269.80" y2="344.0" stroke="#111" stroke-width="0.8"/>
<line x1="290.00" y1="341.2" x2="290.00" y2="344.0" stroke="#111" stroke-width="0.8"/>
<line x1="310.20" y1="341.2" x2="310.20" y2="344.0" stroke="#111" stroke-width="0.8"/>
<line x1="330.40" y1="341.2" x2="330.40" y2="344.0" stroke="#111" stroke-width="0.8"/>
<line x1="346.6" y1="216.2" x2="346.6" y2="341.8" stroke="#111" stroke-width="1.1"/>
<line x1="346.1" y1="341.2" x2="486.0" y2="341.2" stroke="#111" stroke-width="1.1"/>
<line x1="343.4" y1="335.60" x2="346.6" y2="335.60" stroke="#111" stroke-width="0.8"/>
<line x1="343.4" y1="324.20" x2="346.6" y2="324.20" stroke="#111" stroke-width="0.8"/>
<line x1="343.4" y1="312.80" x2="346.6" y2="312.80" stroke="#111" stroke-width="0.8"/>
<line x1="343.4" y1="301.40" x2="346.6" y2="301.40" stroke="#111" stroke-width="0.8"/>
<line x1="343.4" y1="290.00" x2="346.6" y2="290.00" stroke="#111" stroke-width="0.8"/>
<line x1="343.4" y1="278.60" x2="346.6" y2="278.60" stroke="#111" stroke-width="0.8"/>
<line x1="343.4" y1="267.20" x2="346.6" y2="267.20" stroke="#111" stroke-width="0.8"/>
<line x1="343.4" y1="255.80" x2="346.6" y2="255.80" stroke="#111" stroke-width="0.8"/>
<line x1="343.4" y1="244.40" x2="346.6" y2="244.40" stroke="#111" stroke-width="0.8"/>
<line x1="343.4" y1="233.00" x2="346.6" y2="233.00" stroke="#111" stroke-width="0.8"/>
<line x1="343.4" y1="221.60" x2="346.6" y2="221.60" stroke="#111" stroke-width="0.8"/>
<line x1="352.90" y1="341.2" x2="352.90" y2="344.0" stroke="#111" stroke-width="0.8"/>
<line x1="384.75" y1="341.2" x2="384.75" y2="344.0" stroke="#111" stroke-width="0.8"/>
<line x1="416.60" y1="341.2" x2="416.60" y2="344.0" stroke="#111" stroke-width="0.8"/>
<line x1="448.45" y1="341.2" x2="448.45" y2="344.0" stroke="#111" stroke-width="0.8"/>
<line x1="480.30" y1="341.2" x2="480.30" y2="344.0" stroke="#111" stroke-width="0.8"/>
<path fill="#b0f068" d="M249 271h1v1h-1zm0 7h1v1h-1zm1 -10h1v1h-1zm0 10h1v1h-1zm0 2h1v1h-1zm0 5h1v1h-1zm2 -20h1v1h-1zm0 13h1v1h-1zm0 1h1v1h-1zm1 -12h1v1h-1zm0 2h1v1h-1zm0 2h1v1h-1zm0 1h1v1h-1zm0 1h1v1h-1zm0 1h1v1h-1zm0 8h1v1h-1zm0 29h1v1h-1zm1 -42h1v1h-1zm0 7h1v1h-1zm0 5h1v1h-1zm0 1h1v1h-1zm1 -10h1v1h-1zm0 2h1v1h-1zm0 6h1v1h-1zm1 -13h1v1h-1zm0 3h1v1h-1zm0 1h1v1h-1zm0 3h1v1h-1zm0 4h1v1h-1zm0 1h1v1h-1zm0 20h1v1h-1zm1 -33h1v1h-1zm0 1h1v1h-1zm0 5h1v1h-1zm0 2h1v1h-1zm0 6h1v1h-1zm0 2h1v1h-1zm0 6h1v1h-1zm1 -29h1v1h-1zm0 11h1v1h-1zm0 5h1v1h-1zm0 1h1v1h-1zm0 1h1v1h-1zm0 12h1v1h-1zm1 -23h1v1h-1zm0 3h1v1h-1zm0 2h1v1h-1zm0 2h1v1h-1zm0 7h1v1h-1zm0 10h1v1h-1zm1 -14h1v1h-1zm0 4h1v1h-1zm0 1h1v1h-1zm0 10h1v1h-1zm0 5h1v1h-1zm1 -28h1v1h-1zm0 3h1v1h-1zm0 2h1v1h-1zm0 1h1v1h-1zm0 1h1v1h-1zm0 2h1v1h-1zm1 -6h1v1h-1zm0 1h1v1h-1zm0 3h1v1h-1zm0 2h1v1h-1zm1 -14h1v1h-1zm0 2h1v1h-1zm0 1h1v1h-1zm0 3h1v1h-1zm0 5h1v1h-1zm0 1h1v1h-1zm0 1h1v1h-1zm0 1h1v1h-1zm0 3h1v1h-1zm0 5h1v1h-1zm1 -31h1v1h-1zm0 13h1v1h-1zm0 10h1v1h-1zm0 1h1v1h-1zm0 3h1v1h-1zm0 3h1v1h-1zm0 2h1v1h-1zm1 -27h1v1h-1zm0 9h1v1h-1zm0 3h1v1h-1zm0 1h1v1h-1zm0 1h1v1h-1zm0 1h1v1h-1zm0 2h1v1h-1zm0 4h1v1h-1zm0 1h1v1h-1zm1 -14h1v1h-1zm0 1h1v1h-1zm0 1h1v1h-1zm0 1h1v1h-1zm0 1h1v1h-1zm0 1h1v1h-1zm0 15h1v1h-1zm0 1h1v1h-1zm1 -28h1v1h-1zm0 13h1v1h-1zm0 3h1v1h-1zm0 3h1v1h-1zm0 2h1v1h-1zm1 -10h1v1h-1zm0 1h1v1h-1zm0 3h1v1h-1zm0 5h1v1h-1zm0 7h1v1h-1zm0 7h1v1h-1zm1 -35h1v1h-1zm0 8h1v1h-1zm0 1h1v1h-1zm0 1h1v1h-1zm0 4h1v1h-1zm0 4h1v1h-1zm0 2h1v1h-1zm0 1h1v1h-1zm0 10h1v1h-1zm0 1h1v1h-1zm1 -28h1v1h-1zm0 5h1v1h-1zm0 3h1v1h-1zm1 -13h1v1h-1zm0 6h1v1h-1zm0 10h1v1h-1zm0 1h1v1h-1zm0 1h1v1h-1zm0 4h1v1h-1zm0 2h1v1h-1zm0 2h1v1h-1zm0 7h1v1h-1zm1 -39h1v1h-1zm0 14h1v1h-1zm0 3h1v1h-1zm0 5h1v1h-1zm0 6h1v1h-1zm0 1h1v1h-1zm0 2h1v1h-1zm0 2h1v1h-1zm0 1h1v1h-1zm0 4h1v1h-1zm1 -30h1v1h-1zm0 8h1v1h-1zm0 1h1v1h-1zm0 8h1v1h-1zm0 1h1v1h-1zm0 1h1v1h-1zm0 1h1v1h-1zm0 6h1v1h-1zm0 3h1v1h-1zm0 6h1v1h-1zm1 -41h1v1h-1zm0 2h1v1h-1zm0 9h1v1h-1zm0 8h1v1h-1zm0 6h1v1h-1zm0 4h1v1h-1zm0 2h1v1h-1zm0 4h1v1h-1zm1 -21h1v1h-1zm0 1h1v1h-1zm0 4h1v1h-1zm0 1h1v1h-1zm0 6h1v1h-1zm0 3h1v1h-1zm0 4h1v1h-1zm1 -20h1v1h-1zm0 3h1v1h-1zm0 1h1v1h-1zm0 2h1v1h-1zm0 1h1v1h-1zm0 6h1v1h-1zm0 18h1v1h-1zm1 -32h1v1h-1zm0 12h1v1h-1zm0 3h1v1h-1zm0 2h1v1h-1zm0 9h1v1h-1zm1 -38h1v1h-1zm0 4h1v1h-1zm0 4h1v1h-1zm0 9h1v1h-1zm1 1h1v1h-1zm0 4h1v1h-1zm0 1h1v1h-1zm0 1h1v1h-1zm0 7h1v1h-1zm0 2h1v1h-1zm1 -25h1v1h-1zm0 1h1v1h-1zm0 5h1v1h-1zm0 8h1v1h-1zm0 1h1v1h-1zm0 7h1v1h-1zm0 2h1v1h-1zm0 5h1v1h-1zm1 -31h1v1h-1zm0 8h1v1h-1zm0 1h1v1h-1zm0 3h1v1h-1zm0 1h1v1h-1zm0 2h1v1h-1zm0 1h1v1h-1zm0 1h1v1h-1zm0 1h1v1h-1zm0 2h1v1h-1zm0 19h1v1h-1zm1 -47h1v1h-1zm0 17h1v1h-1zm0 10h1v1h-1zm0 1h1v1h-1zm0 2h1v1h-1zm0 4h1v1h-1zm0 1h1v1h-1zm1 -28h1v1h-1zm0 4h1v1h-1zm0 1h1v1h-1zm0 3h1v1h-1zm0 3h1v1h-1zm0 8h1v1h-1zm0 2h1v1h-1zm0 11h1v1h-1zm1 -25h1v1h-1zm0 2h1v1h-1zm0 2h1v1h-1zm0 7h1v1h-1zm0 3h1v1h-1zm0 1h1v1h-1zm0 8h1v1h-1zm1 -33h1v1h-1zm0 4h1v1h-1zm0 13h1v1h-1zm0 3h1v1h-1zm0 2h1v1h-1zm0 1h1v1h-1zm0 12h1v1h-1zm1 -35h1v1h-1zm0 17h1v1h-1zm0 8h1v1h-1zm0 2h1v1h-1zm0 3h1v1h-1zm0 1h1v1h-1zm1 -22h1v1h-1zm0 5h1v1h-1zm0 3h1v1h-1zm0 2h1v1h-1zm0 2h1v1h-1zm0 9h1v1h-1zm0 9h1v1h-1zm1 -36h1v1h-1zm0 6h1v1h-1zm0 7h1v1h-1zm0 2h1v1h-1zm0 5h1v1h-1zm0 2h1v1h-1zm0 2h1v1h-1zm1 -27h1v1h-1zm0 1h1v1h-1zm0 6h1v1h-1zm0 7h1v1h-1zm0 6h1v1h-1zm0 1h1v1h-1zm0 2h1v1h-1zm0 3h1v1h-1zm0 1h1v1h-1zm0 4h1v1h-1zm1 -38h1v1h-1zm0 18h1v1h-1zm0 2h1v1h-1zm0 1h1v1h-1zm0 5h1v1h-1zm0 1h1v1h-1zm0 2h1v1h-1zm0 1h1v1h-1zm0 1h1v1h-1zm0 1h1v1h-1zm0 8h1v1h-1zm0 1h1v1h-1zm1 -35h1v1h-1zm0 17h1v1h-1zm0 4h1v1h-1zm0 1h1v1h-1zm0 13h1v1h-1zm1 -24h1v1h-1zm0 2h1v1h-1zm0 1h1v1h-1zm0 8h1v1h-1zm0 5h1v1h-1zm0 7h1v1h-1zm0 2h1v1h-1zm1 -41h1v1h-1zm0 7h1v1h-1zm0 17h1v1h-1zm0 2h1v1h-1zm0 3h1v1h-1zm0 12h1v1h-1zm0 4h1v1h-1zm1 -38h1v1h-1zm0 4h1v1h-1zm0 4h1v1h-1zm0 2h1v1h-1zm0 6h1v1h-1zm0 5h1v1h-1zm0 5h1v1h-1zm0 3h1v1h-1zm0 11h1v1h-1zm1 -48h1v1h-1zm0 5h1v1h-1zm0 13h1v1h-1zm0 11h1v1h-1zm0 4h1v1h-1zm0 2h1v1h-1zm0 1h1v1h-1zm1 -32h1v1h-1zm0 10h1v1h-1zm0 1h1v1h-1zm0 4h1v1h-1zm0 1h1v1h-1zm0 6h1v1h-1zm0 1h1v1h-1zm0 2h1v1h-1zm0 19h1v1h-1zm1 -34h1v1h-1zm0 1h1v1h-1zm0 5h1v1h-1zm0 1h1v1h-1zm0 3h1v1h-1zm0 2h1v1h-1zm0 3h1v1h-1zm0 4h1v1h-1zm0 4h1v1h-1zm0 4h1v1h-1zm1 -50h1v1h-1zm0 13h1v1h-1zm0 3h1v1h-1zm0 7h1v1h-1zm0 2h1v1h-1zm0 4h1v1h-1zm0 4h1v1h-1zm0 2h1v1h-1zm0 1h1v1h-1zm0 3h1v1h-1zm0 4h1v1h-1zm0 7h1v1h-1zm1 -32h1v1h-1zm0 2h1v1h-1zm0 3h1v1h-1zm0 7h1v1h-1zm0 2h1v1h-1zm0 1h1v1h-1zm0 2h1v1h-1zm0 2h1v1h-1zm0 1h1v1h-1zm0 5h1v1h-1zm0 1h1v1h-1zm0 6h1v1h-1zm0 43h1v1h-1zm1 -79h1v1h-1zm0 7h1v1h-1zm0 2h1v1h-1zm0 3h1v1h-1zm0 5h1v1h-1zm0 1h1v1h-1zm0 1h1v1h-1zm0 3h1v1h-1zm0 47h1v1h-1zm1 -49h1v1h-1zm0 1h1v1h-1zm0 3h1v1h-1zm0 2h1v1h-1zm1 -20h1v1h-1zm0 1h1v1h-1zm0 2h1v1h-1zm0 8h1v1h-1zm0 6h1v1h-1zm0 2h1v1h-1zm0 1h1v1h-1zm0 1h1v1h-1zm0 8h1v1h-1zm0 1h1v1h-1zm1 -44h1v1h-1zm0 9h1v1h-1zm0 6h1v1h-1zm0 2h1v1h-1zm0 1h1v1h-1zm0 4h1v1h-1zm0 3h1v1h-1zm0 6h1v1h-1zm0 2h1v1h-1zm0 3h1v1h-1zm0 3h1v1h-1zm0 3h1v1h-1zm1 -48h1v1h-1zm0 23h1v1h-1zm0 1h1v1h-1zm0 3h1v1h-1zm0 2h1v1h-1zm0 2h1v1h-1zm0 2h1v1h-1zm0 2h1v1h-1zm0 1h1v1h-1zm0 1h1v1h-1zm0 1h1v1h-1zm0 1h1v1h-1zm0 1h1v1h-1zm0 3h1v1h-1zm0 2h1v1h-1zm1 -38h1v1h-1zm0 14h1v1h-1zm0 3h1v1h-1zm0 3h1v1h-1zm0 6h1v1h-1zm0 2h1v1h-1zm0 1h1v1h-1zm0 5h1v1h-1zm0 1h1v1h-1zm0 1h1v1h-1zm0 1h1v1h-1zm1 -39h1v1h-1zm0 19h1v1h-1zm0 4h1v1h-1zm0 5h1v1h-1zm0 2h1v1h-1zm0 3h1v1h-1zm0 1h1v1h-1zm0 3h1v1h-1zm0 3h1v1h-1zm1 -25h1v1h-1zm0 10h1v1h-1zm0 5h1v1h-1zm0 2h1v1h-1zm0 1h1v1h-1zm0 1h1v1h-1zm0 1h1v1h-1zm0 1h1v1h-1zm0 7h1v1h-1zm0 1h1v1h-1zm1 -31h1v1h-1zm0 14h1v1h-1zm0 1h1v1h-1zm0 8h1v1h-1zm0 6h1v1h-1zm1 -36h1v1h-1zm0 8h1v1h-1zm0 13h1v1h-1zm0 1h1v1h-1zm0 3h1v1h-1zm0 1h1v1h-1zm0 5h1v1h-1zm0 3h1v1h-1zm1 -51h1v1h-1zm0 34h1v1h-1zm0 3h1v1h-1zm0 1h1v1h-1zm0 2h1v1h-1zm0 1h1v1h-1zm0 1h1v1h-1zm0 1h1v1h-1zm0 3h1v1h-1zm0 4h1v1h-1zm0 8h1v1h-1zm0 4h1v1h-1zm1 -46h1v1h-1zm0 18h1v1h-1zm0 2h1v1h-1zm0 9h1v1h-1zm0 6h1v1h-1zm0 3h1v1h-1zm0 14h1v1h-1zm1 -42h1v1h-1zm0 5h1v1h-1zm0 1h1v1h-1zm0 1h1v1h-1zm0 7h1v1h-1zm0 1h1v1h-1zm0 1h1v1h-1zm0 2h1v1h-1zm0 17h1v1h-1zm0 3h1v1h-1zm1 -39h1v1h-1zm0 6h1v1h-1zm0 1h1v1h-1zm0 2h1v1h-1zm0 3h1v1h-1zm0 3h1v1h-1zm0 1h1v1h-1zm0 8h1v1h-1zm0 1h1v1h-1zm0 4h1v1h-1zm0 10h1v1h-1zm0 3h1v1h-1zm1 -72h1v1h-1zm0 29h1v1h-1zm0 7h1v1h-1zm0 6h1v1h-1zm0 1h1v1h-1zm0 3h1v1h-1zm0 2h1v1h-1zm0 6h1v1h-1zm0 3h1v1h-1zm0 7h1v1h-1zm0 3h1v1h-1zm1 -55h1v1h-1zm0 20h1v1h-1zm0 7h1v1h-1zm0 11h1v1h-1zm0 7h1v1h-1zm0 2h1v1h-1zm0 3h1v1h-1zm1 -38h1v1h-1zm0 19h1v1h-1zm0 3h1v1h-1zm0 1h1v1h-1zm0 3h1v1h-1zm0 10h1v1h-1zm1 -30h1v1h-1zm0 3h1v1h-1zm0 3h1v1h-1zm0 5h1v1h-1zm0 5h1v1h-1zm0 2h1v1h-1zm0 1h1v1h-1zm0 5h1v1h-1zm0 3h1v1h-1zm0 15h1v1h-1zm1 -52h1v1h-1zm0 8h1v1h-1zm0 4h1v1h-1zm0 1h1v1h-1zm0 2h1v1h-1zm0 6h1v1h-1zm0 2h1v1h-1zm0 19h1v1h-1zm1 -41h1v1h-1zm0 26h1v1h-1zm0 4h1v1h-1zm0 4h1v1h-1zm0 2h1v1h-1zm1 -27h1v1h-1zm0 3h1v1h-1zm0 6h1v1h-1zm0 8h1v1h-1zm0 16h1v1h-1zm0 4h1v1h-1zm1 -31h1v1h-1zm0 6h1v1h-1zm0 2h1v1h-1zm0 2h1v1h-1zm0 2h1v1h-1zm0 1h1v1h-1zm0 7h1v1h-1zm0 2h1v1h-1zm0 14h1v1h-1zm1 -65h1v1h-1zm0 20h1v1h-1zm0 2h1v1h-1zm0 7h1v1h-1zm0 6h1v1h-1zm0 1h1v1h-1zm1 -11h1v1h-1zm0 5h1v1h-1zm0 6h1v1h-1zm0 10h1v1h-1zm0 15h1v1h-1zm1 -55h1v1h-1zm0 16h1v1h-1zm0 6h1v1h-1zm0 2h1v1h-1zm0 7h1v1h-1zm0 3h1v1h-1zm0 1h1v1h-1zm0 6h1v1h-1zm0 1h1v1h-1zm1 -24h1v1h-1zm0 7h1v1h-1zm0 8h1v1h-1zm0 10h1v1h-1zm0 10h1v1h-1zm1 -26h1v1h-1zm0 1h1v1h-1zm0 1h1v1h-1zm0 3h1v1h-1zm0 1h1v1h-1zm0 7h1v1h-1zm0 5h1v1h-1zm0 4h1v1h-1zm1 -37h1v1h-1zm0 16h1v1h-1zm0 3h1v1h-1zm0 1h1v1h-1zm0 3h1v1h-1zm0 1h1v1h-1zm0 1h1v1h-1zm0 3h1v1h-1zm1 -52h1v1h-1zm0 35h1v1h-1zm0 7h1v1h-1zm0 2h1v1h-1zm0 1h1v1h-1zm0 1h1v1h-1zm0 1h1v1h-1zm0 21h1v1h-1zm1 -37h1v1h-1zm0 1h1v1h-1zm0 3h1v1h-1zm0 1h1v1h-1zm0 2h1v1h-1zm0 3h1v1h-1zm0 5h1v1h-1zm0 1h1v1h-1zm0 1h1v1h-1zm0 2h1v1h-1zm0 3h1v1h-1zm1 -16h1v1h-1zm0 7h1v1h-1zm0 17h1v1h-1z"/>
<path fill="#c0f050" d="M250 264h1v1h-1zm1 19h1v1h-1zm1 -19h1v1h-1zm35 1h1v1h-1zm28 -2h1v1h-1z"/>
<path fill="#f0f020" d="M248 268h1v1h-1zm1 12h1v1h-1zm1 -13h1v1h-1zm2 0h1v1h-1zm2 13h1v1h-1zm6 -11h1v1h-1zm3 10h1v1h-1zm1 -12h1v1h-1zm0 13h1v1h-1zm1 1h1v1h-1zm2 -12h1v1h-1zm0 12h1v1h-1zm8 -13h1v1h-1zm2 0h1v1h-1zm0 1h1v1h-1zm1 12h1v1h-1zm4 -13h1v1h-1zm1 -1h1v1h-1zm0 1h1v1h-1zm0 13h1v1h-1zm4 0h1v1h-1zm8 -14h1v1h-1zm4 14h1v1h-1zm13 -15h1v1h-1zm4 -1h1v1h-1zm1 0h1v1h-1zm2 19h1v1h-1zm0 1h1v1h-1zm2 -21h1v1h-1zm4 0h1v1h-1zm2 21h1v1h-1zm2 0h1v1h-1z"/>
<path fill="#e0f030" d="M261 267h1v1h-1zm2 1h1v1h-1zm2 -1h1v1h-1zm1 0h1v1h-1zm9 16h1v1h-1zm8 -1h1v1h-1zm3 0h1v1h-1zm3 0h1v1h-1zm13 -15h1v1h-1zm1 -1h1v1h-1zm6 0h1v1h-1zm9 19h1v1h-1zm4 -21h1v1h-1zm6 0h1v1h-1z"/>
<path fill="#d0f040" d="M256 266h1v1h-1zm1 17h1v1h-1zm13 -1h1v1h-1zm3 -16h1v1h-1zm1 17h1v1h-1zm1 -17h1v1h-1zm9 0h1v1h-1zm7 17h1v1h-1zm3 0h1v1h-1zm5 0h1v1h-1zm2 -17h1v1h-1zm2 17h1v1h-1zm1 1h1v1h-1zm3 -19h1v1h-1zm3 0h1v1h-1z"/>
<path fill="#f0e000" d="M250 279h1v1h-1zm3 -9h1v1h-1zm1 2h1v1h-1zm0 5h1v1h-1zm4 1h1v1h-1zm0 2h1v1h-1zm1 -11h1v1h-1zm2 10h1v1h-1zm3 0h1v1h-1zm5 -10h1v1h-1zm1 10h1v1h-1zm6 -10h1v1h-1zm2 1h1v1h-1zm3 -1h1v1h-1zm10 10h1v1h-1zm4 -7h1v1h-1zm3 -3h1v1h-1zm2 0h1v1h-1zm0 1h1v1h-1zm1 9h1v1h-1zm2 1h1v1h-1zm7 -12h1v1h-1zm2 0h1v1h-1zm3 14h1v1h-1zm1 -16h1v1h-1zm3 0h1v1h-1zm6 -1h1v1h-1z"/>
<path fill="#ffc010" d="M248 272h1v1h-1zm0 2h1v1h-1zm0 1h1v1h-1zm1 -2h1v1h-1zm0 2h1v1h-1zm1 0h1v1h-1zm3 -2h1v1h-1zm1 1h1v1h-1zm0 1h1v1h-1zm1 -3h1v1h-1zm0 5h1v1h-1zm1 -4h1v1h-1zm0 2h1v1h-1zm1 -2h1v1h-1zm0 1h1v1h-1zm2 2h1v1h-1zm1 -3h1v1h-1zm0 4h1v1h-1zm3 -4h1v1h-1zm2 -1h1v1h-1zm0 1h1v1h-1zm1 -1h1v1h-1zm0 1h1v1h-1zm0 4h1v1h-1zm1 -5h1v1h-1zm1 -1h1v1h-1zm0 1h1v1h-1zm1 0h1v1h-1zm0 6h1v1h-1zm1 -4h1v1h-1zm0 1h1v1h-1zm0 1h1v1h-1zm3 -3h1v1h-1zm1 3h1v1h-1zm1 -1h1v1h-1zm0 2h1v1h-1zm1 -5h1v1h-1zm0 2h1v1h-1zm0 1h1v1h-1zm0 1h1v1h-1zm0 1h1v1h-1zm2 -3h1v1h-1zm1 4h1v1h-1zm1 -6h1v1h-1zm0 2h1v1h-1zm1 -1h1v1h-1zm0 2h1v1h-1zm1 2h1v1h-1zm1 -4h1v1h-1zm0 3h1v1h-1zm1 -3h1v1h-1zm1 -1h1v1h-1zm0 1h1v1h-1zm1 1h1v1h-1zm0 1h1v1h-1zm1 -4h1v1h-1zm0 2h1v1h-1zm1 4h1v1h-1zm1 -6h1v1h-1zm1 4h1v1h-1zm0 2h1v1h-1zm1 -6h1v1h-1zm0 5h1v1h-1zm1 -6h1v1h-1zm0 1h1v1h-1zm0 3h1v1h-1zm1 -3h1v1h-1zm0 5h1v1h-1zm1 -4h1v1h-1zm0 2h1v1h-1zm0 3h1v1h-1zm1 1h1v1h-1zm1 -1h1v1h-1zm1 -1h1v1h-1zm1 -4h1v1h-1zm0 6h1v1h-1zm1 -6h1v1h-1zm0 1h1v1h-1zm1 0h1v1h-1zm0 2h1v1h-1zm1 -3h1v1h-1zm0 5h1v1h-1zm0 1h1v1h-1zm1 -1h1v1h-1zm1 -5h1v1h-1zm0 1h1v1h-1zm1 2h1v1h-1zm0 4h1v1h-1zm3 -9h1v1h-1zm0 1h1v1h-1zm4 9h1v1h-1zm2 -12h1v1h-1zm1 13h1v1h-1zm4 -14h1v1h-1zm2 -1h1v1h-1zm4 1h1v1h-1zm1 -1h1v1h-1zm2 1h1v1h-1zm1 0h1v1h-1z"/>
<path fill="#ffd000" d="M248 270h1v1h-1zm1 1h1v1h-1zm0 5h1v1h-1zm1 -2h1v1h-1zm1 3h1v1h-1zm1 -2h1v1h-1zm0 1h1v1h-1zm1 0h1v1h-1zm0 1h1v1h-1zm0 1h1v1h-1zm3 0h1v1h-1zm1 -6h1v1h-1zm1 0h1v1h-1zm3 6h1v1h-1zm1 -6h1v1h-1zm0 3h1v1h-1zm1 1h1v1h-1zm1 -3h1v1h-1zm1 4h1v1h-1zm2 1h1v1h-1zm1 0h1v1h-1zm1 -1h1v1h-1zm1 -5h1v1h-1zm0 5h1v1h-1zm1 -5h1v1h-1zm0 1h1v1h-1zm0 4h1v1h-1zm1 -5h1v1h-1zm2 -1h1v1h-1zm0 6h1v1h-1zm1 -1h1v1h-1zm2 2h1v1h-1zm1 -7h1v1h-1zm1 1h1v1h-1zm1 -1h1v1h-1zm1 -1h1v1h-1zm1 1h1v1h-1zm3 5h1v1h-1zm1 -6h1v1h-1zm0 2h1v1h-1zm0 5h1v1h-1zm4 -7h1v1h-1zm0 1h1v1h-1zm3 -1h1v1h-1zm0 8h1v1h-1zm1 -3h1v1h-1zm1 -5h1v1h-1zm2 0h1v1h-1zm0 1h1v1h-1zm1 0h1v1h-1zm1 0h1v1h-1zm6 -1h1v1h-1zm2 9h1v1h-1zm2 -10h1v1h-1zm4 13h1v1h-1zm3 1h1v1h-1zm2 0h1v1h-1zm7 -16h1v1h-1zm1 -1h1v1h-1zm2 17h1v1h-1z"/>
<path fill="#ffe000" d="M248 271h1v1h-1zm1 -1h1v1h-1zm0 8h1v1h-1zm1 -7h1v1h-1zm2 1h1v1h-1zm1 0h1v1h-1zm1 -2h1v1h-1zm0 1h1v1h-1zm7 -1h1v1h-1zm0 7h1v1h-1zm2 1h1v1h-1zm1 -9h1v1h-1zm0 9h1v1h-1zm2 -8h1v1h-1zm1 6h1v1h-1zm2 -5h1v1h-1zm1 0h1v1h-1zm0 7h1v1h-1zm3 -2h1v1h-1zm0 1h1v1h-1zm0 1h1v1h-1zm1 -6h1v1h-1zm2 7h1v1h-1zm2 -6h1v1h-1zm0 6h1v1h-1zm3 0h1v1h-1zm3 -1h1v1h-1zm1 -8h1v1h-1zm1 8h1v1h-1zm0 1h1v1h-1zm1 -9h1v1h-1zm0 2h1v1h-1zm1 6h1v1h-1zm1 0h1v1h-1zm2 -4h1v1h-1zm1 -2h1v1h-1zm4 6h1v1h-1zm1 -5h1v1h-1zm5 -4h1v1h-1zm4 0h1v1h-1zm0 11h1v1h-1zm1 -11h1v1h-1zm0 3h1v1h-1zm1 -3h1v1h-1zm2 0h1v1h-1zm2 12h1v1h-1zm5 3h1v1h-1zm3 -1h1v1h-1zm1 0h1v1h-1zm5 0h1v1h-1zm2 -17h1v1h-1z"/>
<path fill="#f0e010" d="M249 279h1v1h-1zm2 0h1v1h-1zm1 -9h1v1h-1zm2 8h1v1h-1zm2 -9h1v1h-1zm1 0h1v1h-1zm0 9h1v1h-1zm2 1h1v1h-1zm1 -8h1v1h-1zm2 8h1v1h-1zm0 1h1v1h-1zm1 -3h1v1h-1zm2 -8h1v1h-1zm1 11h1v1h-1zm1 -10h1v1h-1zm7 9h1v1h-1zm2 -9h1v1h-1zm11 8h1v1h-1zm3 -9h1v1h-1zm2 11h1v1h-1zm2 0h1v1h-1zm3 -11h1v1h-1zm3 10h1v1h-1zm1 -11h1v1h-1zm6 13h1v1h-1zm4 1h1v1h-1zm2 -15h1v1h-1zm1 0h1v1h-1zm15 -1h1v1h-1z"/>
<path fill="#ffb010" d="M249 277h1v1h-1zm1 -1h1v1h-1zm1 -3h1v1h-1zm0 1h1v1h-1zm3 -1h1v1h-1zm2 3h1v1h-1zm5 -2h1v1h-1zm0 1h1v1h-1zm0 1h1v1h-1zm1 -2h1v1h-1zm1 -2h1v1h-1zm0 3h1v1h-1zm1 0h1v1h-1zm0 1h1v1h-1zm1 -2h1v1h-1zm0 2h1v1h-1zm1 -2h1v1h-1zm2 2h1v1h-1zm1 0h1v1h-1zm3 -3h1v1h-1zm1 2h1v1h-1zm1 -2h1v1h-1zm2 0h1v1h-1zm1 -1h1v1h-1zm0 1h1v1h-1zm0 2h1v1h-1zm1 0h1v1h-1zm3 1h1v1h-1zm1 0h1v1h-1zm1 -1h1v1h-1zm1 -1h1v1h-1zm0 1h1v1h-1zm2 -2h1v1h-1zm1 1h1v1h-1zm0 1h1v1h-1zm1 1h1v1h-1zm1 -4h1v1h-1zm0 2h1v1h-1zm1 0h1v1h-1zm0 2h1v1h-1zm1 -4h1v1h-1zm0 3h1v1h-1zm1 -2h1v1h-1zm1 -1h1v1h-1zm0 1h1v1h-1zm1 0h1v1h-1zm1 1h1v1h-1zm0 2h1v1h-1zm2 -1h1v1h-1zm1 -2h1v1h-1zm1 1h1v1h-1zm0 3h1v1h-1zm1 -1h1v1h-1zm1 -2h1v1h-1zm1 -2h1v1h-1zm1 -1h1v1h-1zm0 6h1v1h-1zm1 1h1v1h-1zm1 -6h1v1h-1zm3 -1h1v1h-1zm0 7h1v1h-1zm0 1h1v1h-1zm1 -8h1v1h-1zm0 8h1v1h-1zm3 1h1v1h-1zm1 -11h1v1h-1zm1 -1h1v1h-1zm1 0h1v1h-1zm0 13h1v1h-1zm1 -13h1v1h-1zm3 -1h1v1h-1zm1 0h1v1h-1zm2 0h1v1h-1zm4 15h1v1h-1z"/>
<path fill="#f05010" d="M309 275h1v1h-1zm3 -4h1v1h-1zm4 -2h1v1h-1zm3 -1h1v1h-1zm1 0h1v1h-1zm1 -1h1v1h-1zm6 14h1v1h-1zm3 -12h1v1h-1z"/>
<path fill="#f09010" d="M285 274h1v1h-1zm3 -1h1v1h-1zm5 1h1v1h-1zm2 -1h1v1h-1zm1 1h1v1h-1zm4 0h1v1h-1zm1 1h1v1h-1zm1 1h1v1h-1zm1 -1h1v1h-1zm2 -1h1v1h-1zm0 1h1v1h-1zm1 0h1v1h-1zm0 1h1v1h-1zm2 1h1v1h-1zm1 -5h1v1h-1zm1 -1h1v1h-1zm0 7h1v1h-1zm2 -8h1v1h-1zm2 -1h1v1h-1zm2 12h1v1h-1zm5 1h1v1h-1zm1 0h1v1h-1zm1 -15h1v1h-1zm1 15h1v1h-1zm1 0h1v1h-1zm3 0h1v1h-1zm2 -1h1v1h-1z"/>
<path fill="#f0f010" d="M257 280h1v1h-1zm8 -12h1v1h-1zm5 1h1v1h-1zm0 1h1v1h-1zm5 10h1v1h-1zm1 0h1v1h-1zm4 -10h1v1h-1zm16 11h1v1h-1zm2 0h1v1h-1zm5 -13h1v1h-1zm1 13h1v1h-1zm3 -13h1v1h-1zm1 0h1v1h-1zm10 16h1v1h-1zm4 0h1v1h-1z"/>
<path fill="#f07010" d="M289 275h1v1h-1zm10 1h1v1h-1zm3 -2h1v1h-1zm6 1h1v1h-1zm0 1h1v1h-1zm1 2h1v1h-1zm2 0h1v1h-1zm4 -9h1v1h-1zm2 -1h1v1h-1zm1 0h1v1h-1zm1 14h1v1h-1zm10 -1h1v1h-1z"/>
<path fill="#f02010" d="M310 275h1v1h-1zm7 5h1v1h-1zm4 -12h1v1h-1zm8 1h1v1h-1z"/>
<path fill="#f03010" d="M310 274h1v1h-1zm0 2h1v1h-1zm1 -4h1v1h-1zm3 7h1v1h-1zm2 1h1v1h-1zm3 1h1v1h-1zm3 -13h1v1h-1zm3 0h1v1h-1zm5 12h1v1h-1z"/>
<path fill="#e02000" d="M313 271h1v1h-1zm7 10h1v1h-1zm1 0h1v1h-1zm2 -13h1v1h-1zm0 13h1v1h-1z"/>
<path fill="#e01000" d="M313 278h1v1h-1zm4 -9h1v1h-1zm7 -1h1v1h-1zm1 13h1v1h-1z"/>
<path fill="#f04010" d="M309 274h1v1h-1zm1 -1h1v1h-1zm1 4h1v1h-1zm1 1h1v1h-1zm2 -8h1v1h-1zm12 -2h1v1h-1zm0 13h1v1h-1z"/>
<path fill="#f06010" d="M297 277h1v1h-1zm6 -1h1v1h-1zm2 0h1v1h-1zm3 -2h1v1h-1zm1 -1h1v1h-1zm0 3h1v1h-1zm1 -4h1v1h-1zm0 5h1v1h-1zm3 -7h1v1h-1zm0 9h1v1h-1zm2 1h1v1h-1zm3 1h1v1h-1zm9 -13h1v1h-1zm1 0h1v1h-1zm0 13h1v1h-1z"/>
<path fill="#f08010" d="M292 275h1v1h-1zm1 0h1v1h-1zm3 0h1v1h-1zm2 0h1v1h-1zm6 -1h1v1h-1zm2 0h1v1h-1zm0 3h1v1h-1zm1 -4h1v1h-1zm0 1h1v1h-1zm0 1h1v1h-1zm0 1h1v1h-1zm1 -4h1v1h-1zm0 1h1v1h-1zm1 4h1v1h-1zm2 -6h1v1h-1zm0 8h1v1h-1zm1 0h1v1h-1zm2 1h1v1h-1zm3 1h1v1h-1zm6 1h1v1h-1zm4 0h1v1h-1zm2 -14h1v1h-1z"/>
<path fill="#ffd010" d="M248 276h1v1h-1zm3 -1h1v1h-1zm0 1h1v1h-1zm4 -5h1v1h-1zm1 1h1v1h-1zm1 3h1v1h-1zm0 2h1v1h-1zm2 -4h1v1h-1zm1 2h1v1h-1zm17 2h1v1h-1zm4 -5h1v1h-1zm1 0h1v1h-1zm0 1h1v1h-1zm1 4h1v1h-1zm2 0h1v1h-1zm12 -5h1v1h-1zm2 6h1v1h-1zm4 0h1v1h-1zm9 -9h1v1h-1zm7 14h1v1h-1z"/>
<path fill="#e01010" d="M311 273h1v1h-1zm0 1h1v1h-1zm0 1h1v1h-1zm0 1h1v1h-1zm1 -4h1v1h-1zm0 1h1v1h-1zm0 3h1v1h-1zm0 1h1v1h-1zm1 -5h1v1h-1zm0 5h1v1h-1zm1 -6h1v1h-1zm0 7h1v1h-1zm1 -8h1v1h-1zm0 9h1v1h-1zm1 -9h1v1h-1zm2 -1h1v1h-1zm0 11h1v1h-1zm4 1h1v1h-1zm2 0h1v1h-1zm4 -12h1v1h-1zm0 11h1v1h-1zm1 0h1v1h-1z"/>
<path fill="#d00010" d="M316 279h1v1h-1zm3 -10h1v1h-1zm7 0h1v1h-1zm1 11h1v1h-1zm3 -10h1v1h-1z"/>
<path fill="#e00010" d="M327 269h1v1h-1z"/>
<path fill="#f0a010" d="M252 273h1v1h-1zm12 1h1v1h-1zm1 1h1v1h-1zm2 0h1v1h-1zm1 0h1v1h-1zm3 0h1v1h-1zm1 -1h1v1h-1zm8 1h1v1h-1zm1 -1h1v1h-1zm6 2h1v1h-1zm7 0h1v1h-1zm2 -3h1v1h-1zm1 1h1v1h-1zm1 0h1v1h-1zm0 2h1v1h-1zm6 -3h1v1h-1zm1 0h1v1h-1zm0 4h1v1h-1zm0 1h1v1h-1zm1 -6h1v1h-1zm0 1h1v1h-1zm3 -3h1v1h-1zm2 0h1v1h-1zm14 13h1v1h-1z"/>
<path fill="#ffa020" d="M255 273h1v1h-1zm3 2h1v1h-1zm15 -3h1v1h-1zm2 0h1v1h-1zm4 5h1v1h-1zm4 -5h1v1h-1zm5 3h1v1h-1zm1 -2h1v1h-1zm1 0h1v1h-1zm2 3h1v1h-1zm3 -1h1v1h-1zm7 -2h1v1h-1zm1 1h1v1h-1zm1 3h1v1h-1zm2 1h1v1h-1zm4 -8h1v1h-1z"/>
<path fill="#ffb020" d="M259 275h1v1h-1zm1 1h1v1h-1zm22 -2h1v1h-1zm6 0h1v1h-1z"/>
<path fill="#c0f040" d="M311 285h1v1h-1z"/>
<line x1="246.5" y1="272.90" x2="334" y2="272.90" stroke="#909090" stroke-width="0.9" stroke-opacity="0.75"/>
<line x1="246.5" y1="284.30" x2="334" y2="284.30" stroke="#909090" stroke-width="0.9" stroke-opacity="0.75"/>
<line x1="246.5" y1="278.60" x2="334" y2="278.60" stroke="#606060" stroke-width="1.2" stroke-opacity="0.75"/>
<path fill="#d00010" d="M312 274h1v1h-1zm0 1h1v1h-1zm1 -2h1v1h-1zm2 -2h1v1h-1zm4 9h1v1h-1zm1 -11h1v1h-1zm5 0h1v1h-1zm1 11h1v1h-1zm4 -1h1v1h-1z"/>
<path fill="#b00020" d="M313 276h1v1h-1zm1 -4h1v1h-1zm7 -3h1v1h-1z"/>
<path fill="#a00030" d="M313 275h1v1h-1zm9 -6h1v1h-1zm6 1h1v1h-1zm1 9h1v1h-1z"/>
<path fill="#800050" d="M314 277h1v1h-1zm4 -7h1v1h-1zm5 -1h1v1h-1z"/>
<path fill="#900040" d="M321 280h1v1h-1zm1 0h1v1h-1zm2 -11h1v1h-1z"/>
<path fill="#c00020" d="M317 270h1v1h-1zm0 9h1v1h-1zm3 1h1v1h-1zm9 -10h1v1h-1z"/>
<path fill="#2010d0" d="M314 273h1v1h-1zm0 3h1v1h-1zm1 -4h1v1h-1zm4 -2h1v1h-1z"/>
<path fill="#1010f0" d="M314 275h1v1h-1zm1 -2h1v1h-1zm1 -1h1v1h-1zm1 -1h1v1h-1zm2 8h1v1h-1zm1 -9h1v1h-1zm0 9h1v1h-1zm5 -9h1v1h-1zm4 1h1v1h-1zm1 1h1v1h-1z"/>
<path fill="#1020f0" d="M315 274h1v1h-1zm0 1h1v1h-1zm0 1h1v1h-1zm1 1h1v1h-1zm1 1h1v1h-1zm1 -7h1v1h-1zm0 7h1v1h-1zm3 -8h1v1h-1zm0 9h1v1h-1zm1 -9h1v1h-1zm0 9h1v1h-1zm1 -9h1v1h-1zm1 0h1v1h-1zm0 9h1v1h-1zm1 0h1v1h-1zm1 0h1v1h-1zm1 -1h1v1h-1zm1 0h1v1h-1zm1 0h1v1h-1zm1 -5h1v1h-1zm0 4h1v1h-1z"/>
<path fill="#1010e0" d="M326 270h1v1h-1z"/>
<path fill="#3010c0" d="M327 270h1v1h-1z"/>
<path fill="#700060" d="M316 271h1v1h-1zm8 9h1v1h-1z"/>
<path fill="#1030f0" d="M316 273h1v1h-1zm0 1h1v1h-1zm0 1h1v1h-1zm0 1h1v1h-1zm1 -4h1v1h-1zm0 5h1v1h-1zm2 -6h1v1h-1zm4 8h1v1h-1zm4 -8h1v1h-1zm1 0h1v1h-1zm1 1h1v1h-1zm0 5h1v1h-1zm1 -3h1v1h-1z"/>
<path fill="#1040f0" d="M317 273h1v1h-1zm1 -1h1v1h-1zm0 5h1v1h-1zm1 1h1v1h-1zm1 -7h1v1h-1zm0 7h1v1h-1zm1 -7h1v1h-1zm5 0h1v1h-1zm2 1h1v1h-1zm0 5h1v1h-1zm2 -2h1v1h-1zm0 1h1v1h-1z"/>
<path fill="#2050f0" d="M317 276h1v1h-1zm5 -5h1v1h-1zm2 0h1v1h-1zm3 1h1v1h-1zm2 2h1v1h-1z"/>
<path fill="#2070f0" d="M319 272h1v1h-1zm4 -1h1v1h-1z"/>
<path fill="#2060f0" d="M317 275h1v1h-1zm4 3h1v1h-1zm1 0h1v1h-1zm2 0h1v1h-1zm1 -7h1v1h-1zm0 7h1v1h-1zm1 0h1v1h-1zm3 -3h1v1h-1z"/>
<path fill="#4000a0" d="M315 277h1v1h-1zm13 2h1v1h-1zm2 -8h1v1h-1z"/>
<path fill="#3080f0" d="M317 274h1v1h-1zm1 -1h1v1h-1zm2 -1h1v1h-1zm7 5h1v1h-1zm1 -4h1v1h-1zm0 3h1v1h-1z"/>
<path fill="#40a0ff" d="M321 272h1v1h-1zm5 5h1v1h-1zm1 -1h1v1h-1z"/>
<path fill="#60c0ff" d="M320 277h1v1h-1zm2 -5h1v1h-1zm3 0h1v1h-1z"/>
<path fill="#70d0ff" d="M319 273h1v1h-1zm2 4h1v1h-1zm2 -5h1v1h-1zm5 3h1v1h-1z"/>
<path fill="#70e0ff" d="M319 276h1v1h-1zm3 1h1v1h-1zm2 -5h1v1h-1zm2 1h1v1h-1z"/>
<path fill="#3090ff" d="M326 272h1v1h-1zm1 1h1v1h-1z"/>
<path fill="#80f0ff" d="M319 274h1v1h-1zm0 1h1v1h-1zm1 -2h1v1h-1zm0 1h1v1h-1zm0 1h1v1h-1zm0 1h1v1h-1zm1 -3h1v1h-1zm0 1h1v1h-1zm0 1h1v1h-1zm0 1h1v1h-1zm1 -3h1v1h-1zm0 1h1v1h-1zm0 1h1v1h-1zm0 1h1v1h-1zm1 -3h1v1h-1zm0 1h1v1h-1zm0 1h1v1h-1zm0 1h1v1h-1zm0 1h1v1h-1zm1 -4h1v1h-1zm0 1h1v1h-1zm0 1h1v1h-1zm0 1h1v1h-1zm0 1h1v1h-1zm1 -4h1v1h-1zm0 1h1v1h-1zm0 1h1v1h-1zm0 1h1v1h-1zm1 -2h1v1h-1zm0 1h1v1h-1zm0 1h1v1h-1zm1 -1h1v1h-1z"/>
<path fill="#2040f0" d="M329 273h1v1h-1zm0 3h1v1h-1z"/>
<path fill="#800040" d="M313 274h1v1h-1z"/>
<path fill="#3010d0" d="M314 274h1v1h-1z"/>
<path fill="#3090f0" d="M318 274h1v1h-1zm0 1h1v1h-1zm0 1h1v1h-1zm10 -2h1v1h-1z"/>
<path fill="#80e0ff" d="M327 274h1v1h-1z"/>
<path fill="#3070f0" d="M319 277h1v1h-1zm4 1h1v1h-1z"/>
<path fill="#50b0ff" d="M325 277h1v1h-1z"/>
<path fill="#c00010" d="M315 278h1v1h-1z"/>
<path fill="#600080" d="M316 278h1v1h-1zm7 2h1v1h-1zm2 0h1v1h-1z"/>
<path fill="#2010e0" d="M327 279h1v1h-1zm3 -1h1v1h-1z"/>
<path fill="#500090" d="M318 279h1v1h-1z"/>
<text x="253.00" y="331.20" font-size="6.4" text-anchor="start" fill="#222" stroke="#222" stroke-width="0.12" font-weight="normal" >MEL</text>
<path fill="#b6b6b6" d="M353 265h1v1h-1zm0 11h1v1h-1zm1 -4h1v1h-1zm0 2h1v1h-1zm0 2h1v1h-1zm1 -11h1v1h-1zm0 5h1v1h-1zm1 -13h1v1h-1zm0 9h1v1h-1zm0 4h1v1h-1zm0 4h1v1h-1zm0 2h1v1h-1zm1 -3h1v1h-1zm0 7h1v1h-1zm1 -16h1v1h-1zm0 2h1v1h-1zm0 4h1v1h-1zm0 2h1v1h-1zm0 2h1v1h-1zm0 5h1v1h-1zm1 -11h1v1h-1zm0 2h1v1h-1zm0 2h1v1h-1zm0 3h1v1h-1zm1 -10h1v1h-1zm0 1h1v1h-1zm0 6h1v1h-1zm0 2h1v1h-1zm0 1h1v1h-1zm0 6h1v1h-1zm0 8h1v1h-1zm1 -24h1v1h-1zm0 9h1v1h-1zm0 1h1v1h-1zm0 2h1v1h-1zm1 -4h1v1h-1zm1 -4h1v1h-1zm0 2h1v1h-1zm0 1h1v1h-1zm0 1h1v1h-1zm0 3h1v1h-1zm1 -10h1v1h-1zm0 1h1v1h-1zm0 3h1v1h-1zm0 8h1v1h-1zm1 -12h1v1h-1zm0 4h1v1h-1zm0 1h1v1h-1zm0 1h1v1h-1zm0 2h1v1h-1zm0 1h1v1h-1zm0 1h1v1h-1zm1 -18h1v1h-1zm0 3h1v1h-1zm0 6h1v1h-1zm0 1h1v1h-1zm0 2h1v1h-1zm0 2h1v1h-1zm0 1h1v1h-1zm0 1h1v1h-1zm0 1h1v1h-1zm1 -9h1v1h-1zm0 1h1v1h-1zm0 2h1v1h-1zm0 1h1v1h-1zm0 2h1v1h-1zm0 2h1v1h-1zm0 2h1v1h-1zm1 -14h1v1h-1zm0 3h1v1h-1zm0 4h1v1h-1zm0 4h1v1h-1zm0 1h1v1h-1zm0 2h1v1h-1zm0 4h1v1h-1zm1 -16h1v1h-1zm0 3h1v1h-1zm0 1h1v1h-1zm0 1h1v1h-1zm0 3h1v1h-1zm0 1h1v1h-1zm0 3h1v1h-1zm0 3h1v1h-1zm1 -13h1v1h-1zm0 3h1v1h-1zm0 1h1v1h-1zm0 1h1v1h-1zm0 1h1v1h-1zm0 1h1v1h-1zm0 5h1v1h-1zm0 3h1v1h-1zm0 2h1v1h-1zm1 -14h1v1h-1zm0 2h1v1h-1zm0 1h1v1h-1zm0 3h1v1h-1zm0 1h1v1h-1zm0 3h1v1h-1zm1 -13h1v1h-1zm0 1h1v1h-1zm0 1h1v1h-1zm0 3h1v1h-1zm0 2h1v1h-1zm0 1h1v1h-1zm0 1h1v1h-1zm0 1h1v1h-1zm0 1h1v1h-1zm1 -18h1v1h-1zm0 7h1v1h-1zm0 2h1v1h-1zm0 1h1v1h-1zm0 3h1v1h-1zm0 1h1v1h-1zm0 1h1v1h-1zm0 1h1v1h-1zm0 3h1v1h-1zm0 1h1v1h-1zm1 -20h1v1h-1zm0 4h1v1h-1zm0 4h1v1h-1zm0 1h1v1h-1zm0 2h1v1h-1zm0 1h1v1h-1zm0 1h1v1h-1zm0 1h1v1h-1zm0 2h1v1h-1zm0 1h1v1h-1zm1 -13h1v1h-1zm0 2h1v1h-1zm0 1h1v1h-1zm0 4h1v1h-1zm0 1h1v1h-1zm0 3h1v1h-1zm0 1h1v1h-1zm0 3h1v1h-1zm1 -36h1v1h-1zm0 22h1v1h-1zm0 4h1v1h-1zm0 1h1v1h-1zm0 1h1v1h-1zm0 3h1v1h-1zm0 3h1v1h-1zm0 3h1v1h-1zm0 1h1v1h-1zm1 -13h1v1h-1zm0 5h1v1h-1zm0 1h1v1h-1zm0 5h1v1h-1zm1 -17h1v1h-1zm0 3h1v1h-1zm0 1h1v1h-1zm0 1h1v1h-1zm0 1h1v1h-1zm0 4h1v1h-1zm0 1h1v1h-1zm0 1h1v1h-1zm0 1h1v1h-1zm0 2h1v1h-1zm0 1h1v1h-1zm0 4h1v1h-1zm0 2h1v1h-1zm1 -14h1v1h-1zm0 1h1v1h-1zm0 1h1v1h-1zm0 3h1v1h-1zm0 1h1v1h-1zm0 4h1v1h-1zm0 9h1v1h-1zm1 -25h1v1h-1zm0 3h1v1h-1zm0 1h1v1h-1zm0 2h1v1h-1zm0 1h1v1h-1zm0 1h1v1h-1zm0 1h1v1h-1zm0 1h1v1h-1zm0 1h1v1h-1zm0 1h1v1h-1zm1 -11h1v1h-1zm0 3h1v1h-1zm0 1h1v1h-1zm0 3h1v1h-1zm0 3h1v1h-1zm0 2h1v1h-1zm0 1h1v1h-1zm1 -17h1v1h-1zm0 5h1v1h-1zm0 1h1v1h-1zm0 1h1v1h-1zm0 2h1v1h-1zm0 1h1v1h-1zm0 4h1v1h-1zm0 1h1v1h-1zm0 1h1v1h-1zm0 6h1v1h-1zm1 -19h1v1h-1zm0 4h1v1h-1zm0 3h1v1h-1zm0 1h1v1h-1zm0 2h1v1h-1zm0 1h1v1h-1zm0 1h1v1h-1zm0 2h1v1h-1zm0 5h1v1h-1zm0 10h1v1h-1zm1 -29h1v1h-1zm0 4h1v1h-1zm0 3h1v1h-1zm0 1h1v1h-1zm0 5h1v1h-1zm0 2h1v1h-1zm0 1h1v1h-1zm0 8h1v1h-1zm1 -30h1v1h-1zm0 10h1v1h-1zm0 1h1v1h-1zm0 2h1v1h-1zm0 1h1v1h-1zm0 1h1v1h-1zm0 1h1v1h-1zm0 2h1v1h-1zm0 1h1v1h-1zm0 2h1v1h-1zm0 5h1v1h-1zm1 -13h1v1h-1zm0 1h1v1h-1zm0 1h1v1h-1zm0 1h1v1h-1zm0 1h1v1h-1zm0 1h1v1h-1zm0 1h1v1h-1zm0 1h1v1h-1zm1 -10h1v1h-1zm0 2h1v1h-1zm0 1h1v1h-1zm0 1h1v1h-1zm0 1h1v1h-1zm0 1h1v1h-1zm0 1h1v1h-1zm0 1h1v1h-1zm0 1h1v1h-1zm0 1h1v1h-1zm0 1h1v1h-1zm1 -14h1v1h-1zm0 2h1v1h-1zm0 1h1v1h-1zm0 1h1v1h-1zm0 3h1v1h-1zm0 1h1v1h-1zm0 2h1v1h-1zm0 1h1v1h-1zm0 1h1v1h-1zm0 2h1v1h-1zm1 -31h1v1h-1zm0 19h1v1h-1zm0 2h1v1h-1zm0 1h1v1h-1zm0 2h1v1h-1zm0 2h1v1h-1zm0 1h1v1h-1zm0 1h1v1h-1zm0 1h1v1h-1zm0 1h1v1h-1zm0 3h1v1h-1zm1 -19h1v1h-1zm0 1h1v1h-1zm0 1h1v1h-1zm0 1h1v1h-1zm0 3h1v1h-1zm0 2h1v1h-1zm0 1h1v1h-1zm0 1h1v1h-1zm0 1h1v1h-1zm0 1h1v1h-1zm0 1h1v1h-1zm0 1h1v1h-1zm0 2h1v1h-1zm0 2h1v1h-1zm0 1h1v1h-1zm1 -20h1v1h-1zm0 4h1v1h-1zm0 5h1v1h-1zm0 1h1v1h-1zm0 1h1v1h-1zm0 1h1v1h-1zm0 1h1v1h-1zm0 1h1v1h-1zm0 1h1v1h-1zm0 1h1v1h-1zm0 3h1v1h-1zm1 -13h1v1h-1zm0 2h1v1h-1zm0 1h1v1h-1zm0 1h1v1h-1zm0 1h1v1h-1zm0 3h1v1h-1zm0 1h1v1h-1zm0 2h1v1h-1zm0 1h1v1h-1zm1 -17h1v1h-1zm0 8h1v1h-1zm0 1h1v1h-1zm0 2h1v1h-1zm0 1h1v1h-1zm0 1h1v1h-1zm0 1h1v1h-1zm0 1h1v1h-1zm0 1h1v1h-1zm0 1h1v1h-1zm1 -14h1v1h-1zm0 1h1v1h-1zm0 3h1v1h-1zm0 2h1v1h-1zm0 1h1v1h-1zm0 1h1v1h-1zm0 2h1v1h-1zm0 1h1v1h-1zm0 1h1v1h-1zm0 2h1v1h-1zm0 2h1v1h-1zm1 -20h1v1h-1zm0 1h1v1h-1zm0 4h1v1h-1zm0 1h1v1h-1zm0 3h1v1h-1zm0 1h1v1h-1zm0 1h1v1h-1zm0 1h1v1h-1zm0 1h1v1h-1zm0 1h1v1h-1zm0 1h1v1h-1zm0 1h1v1h-1zm0 1h1v1h-1zm0 1h1v1h-1zm0 3h1v1h-1zm0 2h1v1h-1zm1 -36h1v1h-1zm0 17h1v1h-1zm0 1h1v1h-1zm0 1h1v1h-1zm0 2h1v1h-1zm0 2h1v1h-1zm0 1h1v1h-1zm0 2h1v1h-1zm0 2h1v1h-1zm0 1h1v1h-1zm0 1h1v1h-1zm1 -13h1v1h-1zm0 2h1v1h-1zm0 3h1v1h-1zm0 2h1v1h-1zm0 1h1v1h-1zm0 1h1v1h-1zm0 4h1v1h-1zm0 1h1v1h-1zm0 1h1v1h-1zm0 6h1v1h-1zm1 -26h1v1h-1zm0 5h1v1h-1zm0 2h1v1h-1zm0 2h1v1h-1zm0 1h1v1h-1zm0 1h1v1h-1zm0 2h1v1h-1zm0 1h1v1h-1zm0 1h1v1h-1zm0 1h1v1h-1zm0 2h1v1h-1zm0 1h1v1h-1zm0 1h1v1h-1zm1 -16h1v1h-1zm0 2h1v1h-1zm0 3h1v1h-1zm0 1h1v1h-1zm0 1h1v1h-1zm0 1h1v1h-1zm0 2h1v1h-1zm0 1h1v1h-1zm0 1h1v1h-1zm0 1h1v1h-1zm0 1h1v1h-1zm0 4h1v1h-1zm1 -14h1v1h-1zm0 1h1v1h-1zm0 2h1v1h-1zm0 1h1v1h-1zm0 1h1v1h-1zm0 1h1v1h-1zm0 1h1v1h-1zm0 1h1v1h-1zm0 1h1v1h-1zm0 2h1v1h-1zm0 2h1v1h-1zm1 -22h1v1h-1zm0 5h1v1h-1zm0 3h1v1h-1zm0 2h1v1h-1zm0 2h1v1h-1zm0 2h1v1h-1zm0 1h1v1h-1zm0 2h1v1h-1zm0 1h1v1h-1zm0 3h1v1h-1zm1 -22h1v1h-1zm0 8h1v1h-1zm0 1h1v1h-1zm0 2h1v1h-1zm0 1h1v1h-1zm0 1h1v1h-1zm0 1h1v1h-1zm0 2h1v1h-1zm0 1h1v1h-1zm0 1h1v1h-1zm0 1h1v1h-1zm0 1h1v1h-1zm0 1h1v1h-1zm0 1h1v1h-1zm0 1h1v1h-1zm1 -29h1v1h-1zm0 8h1v1h-1zm0 9h1v1h-1zm0 1h1v1h-1zm0 1h1v1h-1zm0 1h1v1h-1zm0 1h1v1h-1zm0 1h1v1h-1zm0 1h1v1h-1zm0 1h1v1h-1zm0 1h1v1h-1zm0 1h1v1h-1zm0 2h1v1h-1zm0 2h1v1h-1zm0 1h1v1h-1zm0 1h1v1h-1zm0 2h1v1h-1zm1 -22h1v1h-1zm0 2h1v1h-1zm0 1h1v1h-1zm0 1h1v1h-1zm0 1h1v1h-1zm0 1h1v1h-1zm0 1h1v1h-1zm0 2h1v1h-1zm0 1h1v1h-1zm0 1h1v1h-1zm0 3h1v1h-1zm0 1h1v1h-1zm1 -47h1v1h-1zm0 36h1v1h-1zm0 1h1v1h-1zm0 1h1v1h-1zm0 2h1v1h-1zm0 1h1v1h-1zm0 1h1v1h-1zm0 1h1v1h-1zm0 1h1v1h-1zm0 3h1v1h-1zm0 4h1v1h-1zm0 15h1v1h-1zm1 -35h1v1h-1zm0 3h1v1h-1zm0 1h1v1h-1zm0 2h1v1h-1zm0 1h1v1h-1zm0 1h1v1h-1zm0 1h1v1h-1zm0 1h1v1h-1zm0 1h1v1h-1zm0 2h1v1h-1zm0 1h1v1h-1zm0 8h1v1h-1zm1 -33h1v1h-1zm0 7h1v1h-1zm0 7h1v1h-1zm0 1h1v1h-1zm0 1h1v1h-1zm0 1h1v1h-1zm0 1h1v1h-1zm0 1h1v1h-1zm0 1h1v1h-1zm0 2h1v1h-1zm0 1h1v1h-1zm0 2h1v1h-1zm0 1h1v1h-1zm0 1h1v1h-1zm0 2h1v1h-1zm1 -15h1v1h-1zm0 1h1v1h-1zm0 1h1v1h-1zm0 1h1v1h-1zm0 2h1v1h-1zm0 2h1v1h-1zm0 1h1v1h-1zm0 1h1v1h-1zm0 1h1v1h-1zm0 1h1v1h-1zm0 3h1v1h-1zm1 -14h1v1h-1zm0 1h1v1h-1zm0 2h1v1h-1zm0 1h1v1h-1zm0 1h1v1h-1zm0 1h1v1h-1zm0 1h1v1h-1zm0 1h1v1h-1zm0 3h1v1h-1zm0 2h1v1h-1zm0 2h1v1h-1zm1 -28h1v1h-1zm0 11h1v1h-1zm0 5h1v1h-1zm0 1h1v1h-1zm0 1h1v1h-1zm0 1h1v1h-1zm0 1h1v1h-1zm0 1h1v1h-1zm0 1h1v1h-1zm0 2h1v1h-1zm0 1h1v1h-1zm0 3h1v1h-1zm0 1h1v1h-1zm0 3h1v1h-1zm1 -19h1v1h-1zm0 1h1v1h-1zm0 2h1v1h-1zm0 1h1v1h-1zm0 2h1v1h-1zm0 1h1v1h-1zm0 2h1v1h-1zm0 1h1v1h-1zm0 2h1v1h-1zm0 1h1v1h-1zm0 14h1v1h-1zm1 -26h1v1h-1zm0 2h1v1h-1zm0 1h1v1h-1zm0 1h1v1h-1zm0 1h1v1h-1zm0 2h1v1h-1zm0 1h1v1h-1zm0 1h1v1h-1zm0 2h1v1h-1zm0 1h1v1h-1zm0 1h1v1h-1zm0 1h1v1h-1zm1 -34h1v1h-1zm0 20h1v1h-1zm0 1h1v1h-1zm0 1h1v1h-1zm0 1h1v1h-1zm0 2h1v1h-1zm0 1h1v1h-1zm0 1h1v1h-1zm0 1h1v1h-1zm0 1h1v1h-1zm0 2h1v1h-1zm0 1h1v1h-1zm0 1h1v1h-1zm0 1h1v1h-1zm0 1h1v1h-1zm1 -15h1v1h-1zm0 2h1v1h-1zm0 2h1v1h-1zm0 1h1v1h-1zm0 1h1v1h-1zm0 1h1v1h-1zm0 1h1v1h-1zm0 1h1v1h-1zm0 1h1v1h-1zm0 1h1v1h-1zm0 2h1v1h-1zm1 -18h1v1h-1zm0 2h1v1h-1zm0 3h1v1h-1zm0 1h1v1h-1zm0 1h1v1h-1zm0 1h1v1h-1zm0 1h1v1h-1zm0 1h1v1h-1zm0 1h1v1h-1zm0 1h1v1h-1zm0 1h1v1h-1zm0 1h1v1h-1zm0 1h1v1h-1zm0 1h1v1h-1zm0 3h1v1h-1zm1 -16h1v1h-1zm0 2h1v1h-1zm0 2h1v1h-1zm0 1h1v1h-1zm0 2h1v1h-1zm0 1h1v1h-1zm0 1h1v1h-1zm0 1h1v1h-1zm0 1h1v1h-1zm0 1h1v1h-1zm0 1h1v1h-1zm0 1h1v1h-1zm0 1h1v1h-1zm0 7h1v1h-1zm0 2h1v1h-1zm1 -22h1v1h-1zm0 2h1v1h-1zm0 3h1v1h-1zm0 1h1v1h-1zm0 1h1v1h-1zm0 1h1v1h-1zm0 1h1v1h-1zm0 1h1v1h-1zm0 1h1v1h-1zm1 -21h1v1h-1zm0 5h1v1h-1zm0 3h1v1h-1zm0 2h1v1h-1zm0 1h1v1h-1zm0 1h1v1h-1zm0 1h1v1h-1zm0 1h1v1h-1zm0 1h1v1h-1zm0 2h1v1h-1zm0 1h1v1h-1zm0 1h1v1h-1zm0 2h1v1h-1zm0 1h1v1h-1zm0 1h1v1h-1zm0 5h1v1h-1zm1 -21h1v1h-1zm0 3h1v1h-1zm0 1h1v1h-1zm0 1h1v1h-1zm0 1h1v1h-1zm0 1h1v1h-1zm0 2h1v1h-1zm0 2h1v1h-1zm0 1h1v1h-1zm0 1h1v1h-1zm0 1h1v1h-1zm0 1h1v1h-1zm0 4h1v1h-1zm0 2h1v1h-1zm0 11h1v1h-1zm1 -38h1v1h-1zm0 7h1v1h-1zm0 4h1v1h-1zm0 1h1v1h-1zm0 1h1v1h-1zm0 1h1v1h-1zm0 1h1v1h-1zm0 1h1v1h-1zm0 1h1v1h-1zm0 2h1v1h-1zm0 2h1v1h-1zm0 1h1v1h-1zm0 1h1v1h-1zm0 4h1v1h-1zm0 4h1v1h-1zm1 -32h1v1h-1zm0 6h1v1h-1zm0 2h1v1h-1zm0 1h1v1h-1zm0 1h1v1h-1zm0 1h1v1h-1zm0 1h1v1h-1zm0 1h1v1h-1zm0 2h1v1h-1zm0 3h1v1h-1zm0 1h1v1h-1zm0 1h1v1h-1zm0 1h1v1h-1zm0 2h1v1h-1zm0 1h1v1h-1zm0 5h1v1h-1zm0 6h1v1h-1zm1 -33h1v1h-1zm0 4h1v1h-1zm0 3h1v1h-1zm0 2h1v1h-1zm0 1h1v1h-1zm0 1h1v1h-1zm0 1h1v1h-1zm0 1h1v1h-1zm0 1h1v1h-1zm0 1h1v1h-1zm0 1h1v1h-1zm0 1h1v1h-1zm0 1h1v1h-1zm0 2h1v1h-1zm0 2h1v1h-1zm1 -17h1v1h-1zm0 2h1v1h-1zm0 1h1v1h-1zm0 2h1v1h-1zm0 1h1v1h-1zm0 1h1v1h-1zm0 1h1v1h-1zm0 1h1v1h-1zm0 1h1v1h-1zm0 2h1v1h-1zm0 1h1v1h-1zm0 1h1v1h-1zm0 1h1v1h-1zm0 1h1v1h-1zm0 6h1v1h-1zm1 -20h1v1h-1zm0 1h1v1h-1zm0 1h1v1h-1zm0 2h1v1h-1zm0 1h1v1h-1zm0 1h1v1h-1zm0 1h1v1h-1zm0 1h1v1h-1zm0 1h1v1h-1zm0 2h1v1h-1zm0 2h1v1h-1zm0 1h1v1h-1zm0 2h1v1h-1zm1 -16h1v1h-1zm0 3h1v1h-1zm0 1h1v1h-1zm0 1h1v1h-1zm0 1h1v1h-1zm0 1h1v1h-1zm0 1h1v1h-1zm0 1h1v1h-1zm0 1h1v1h-1zm0 1h1v1h-1zm0 2h1v1h-1zm0 1h1v1h-1zm0 1h1v1h-1zm0 2h1v1h-1zm1 -17h1v1h-1zm0 1h1v1h-1zm0 1h1v1h-1zm0 1h1v1h-1zm0 2h1v1h-1zm0 2h1v1h-1zm0 1h1v1h-1zm0 1h1v1h-1zm0 3h1v1h-1zm0 1h1v1h-1zm0 1h1v1h-1zm0 12h1v1h-1zm1 -26h1v1h-1zm0 1h1v1h-1zm0 1h1v1h-1zm0 1h1v1h-1zm0 1h1v1h-1zm0 1h1v1h-1zm0 1h1v1h-1zm0 1h1v1h-1zm0 1h1v1h-1zm0 1h1v1h-1zm0 2h1v1h-1zm0 1h1v1h-1zm0 1h1v1h-1zm0 2h1v1h-1zm0 2h1v1h-1zm0 2h1v1h-1zm1 -28h1v1h-1zm0 9h1v1h-1zm0 4h1v1h-1zm0 1h1v1h-1zm0 1h1v1h-1zm0 2h1v1h-1zm0 1h1v1h-1zm0 1h1v1h-1zm0 3h1v1h-1zm0 1h1v1h-1zm0 2h1v1h-1zm1 -18h1v1h-1zm0 1h1v1h-1zm0 2h1v1h-1zm0 1h1v1h-1zm0 1h1v1h-1zm0 1h1v1h-1zm0 1h1v1h-1zm0 1h1v1h-1zm0 1h1v1h-1zm0 1h1v1h-1zm0 1h1v1h-1zm0 1h1v1h-1zm0 1h1v1h-1zm0 1h1v1h-1zm0 1h1v1h-1zm0 1h1v1h-1zm0 11h1v1h-1zm1 -22h1v1h-1zm0 1h1v1h-1zm0 1h1v1h-1zm0 1h1v1h-1zm0 1h1v1h-1zm0 1h1v1h-1zm0 2h1v1h-1zm0 1h1v1h-1zm0 1h1v1h-1zm0 1h1v1h-1zm0 1h1v1h-1zm0 1h1v1h-1zm1 -16h1v1h-1zm0 1h1v1h-1zm0 1h1v1h-1zm0 1h1v1h-1zm0 1h1v1h-1zm0 1h1v1h-1zm0 1h1v1h-1zm0 1h1v1h-1zm0 1h1v1h-1zm0 1h1v1h-1zm0 1h1v1h-1zm0 1h1v1h-1zm0 1h1v1h-1zm0 1h1v1h-1zm0 1h1v1h-1zm0 1h1v1h-1zm1 -19h1v1h-1zm0 1h1v1h-1zm0 2h1v1h-1zm0 4h1v1h-1zm0 1h1v1h-1zm0 1h1v1h-1zm0 1h1v1h-1zm0 1h1v1h-1zm0 1h1v1h-1zm0 1h1v1h-1zm0 1h1v1h-1zm0 1h1v1h-1zm0 1h1v1h-1zm0 1h1v1h-1zm0 1h1v1h-1zm0 6h1v1h-1zm0 3h1v1h-1zm0 2h1v1h-1zm1 -34h1v1h-1zm0 13h1v1h-1zm0 1h1v1h-1zm0 1h1v1h-1zm0 1h1v1h-1zm0 1h1v1h-1zm0 1h1v1h-1zm0 1h1v1h-1zm0 1h1v1h-1zm0 1h1v1h-1zm0 1h1v1h-1zm0 1h1v1h-1zm0 2h1v1h-1zm0 5h1v1h-1zm0 4h1v1h-1zm1 -35h1v1h-1zm0 12h1v1h-1zm0 1h1v1h-1zm0 1h1v1h-1zm0 1h1v1h-1zm0 1h1v1h-1zm0 1h1v1h-1zm0 1h1v1h-1zm0 1h1v1h-1zm0 1h1v1h-1zm0 1h1v1h-1zm0 1h1v1h-1zm0 1h1v1h-1zm0 1h1v1h-1zm0 1h1v1h-1zm0 1h1v1h-1zm0 1h1v1h-1zm0 1h1v1h-1zm0 2h1v1h-1zm1 -20h1v1h-1zm0 1h1v1h-1zm0 1h1v1h-1zm0 1h1v1h-1zm0 2h1v1h-1zm0 1h1v1h-1zm0 1h1v1h-1zm0 1h1v1h-1zm0 1h1v1h-1zm0 1h1v1h-1zm0 1h1v1h-1zm0 2h1v1h-1zm0 1h1v1h-1zm0 1h1v1h-1zm0 1h1v1h-1zm0 2h1v1h-1zm1 -19h1v1h-1zm0 1h1v1h-1zm0 4h1v1h-1zm0 1h1v1h-1zm0 1h1v1h-1zm0 2h1v1h-1zm0 1h1v1h-1zm0 1h1v1h-1zm0 1h1v1h-1zm0 1h1v1h-1zm0 1h1v1h-1zm0 1h1v1h-1zm0 1h1v1h-1zm0 1h1v1h-1zm0 1h1v1h-1zm0 1h1v1h-1zm0 11h1v1h-1zm0 2h1v1h-1zm1 -30h1v1h-1zm0 1h1v1h-1zm0 1h1v1h-1zm0 1h1v1h-1zm0 1h1v1h-1zm0 1h1v1h-1zm0 1h1v1h-1zm0 1h1v1h-1zm0 1h1v1h-1zm0 1h1v1h-1zm0 1h1v1h-1zm0 1h1v1h-1zm0 1h1v1h-1zm0 1h1v1h-1zm0 1h1v1h-1zm1 -15h1v1h-1zm0 1h1v1h-1zm0 1h1v1h-1zm0 1h1v1h-1zm0 1h1v1h-1zm0 1h1v1h-1zm0 1h1v1h-1zm0 1h1v1h-1zm0 1h1v1h-1zm0 1h1v1h-1zm0 1h1v1h-1zm0 1h1v1h-1zm0 1h1v1h-1zm0 1h1v1h-1zm0 2h1v1h-1zm0 1h1v1h-1zm0 1h1v1h-1zm1 -31h1v1h-1zm0 10h1v1h-1zm0 1h1v1h-1zm0 2h1v1h-1zm0 2h1v1h-1zm0 2h1v1h-1zm0 1h1v1h-1zm0 2h1v1h-1zm0 1h1v1h-1zm0 1h1v1h-1zm0 1h1v1h-1zm0 1h1v1h-1zm0 1h1v1h-1zm0 1h1v1h-1zm0 1h1v1h-1zm0 1h1v1h-1zm0 2h1v1h-1zm0 2h1v1h-1zm0 3h1v1h-1zm1 -24h1v1h-1zm0 4h1v1h-1zm0 1h1v1h-1zm0 1h1v1h-1zm0 1h1v1h-1zm0 1h1v1h-1zm0 1h1v1h-1zm0 1h1v1h-1zm0 2h1v1h-1zm0 1h1v1h-1zm0 1h1v1h-1zm0 1h1v1h-1zm0 1h1v1h-1zm0 1h1v1h-1zm0 1h1v1h-1zm0 1h1v1h-1zm0 1h1v1h-1zm0 1h1v1h-1zm1 -14h1v1h-1zm0 1h1v1h-1zm0 1h1v1h-1zm0 1h1v1h-1zm0 2h1v1h-1zm0 1h1v1h-1zm0 1h1v1h-1zm0 1h1v1h-1zm0 1h1v1h-1zm0 1h1v1h-1zm0 2h1v1h-1zm0 1h1v1h-1zm0 1h1v1h-1zm0 1h1v1h-1zm1 -32h1v1h-1zm0 8h1v1h-1zm0 2h1v1h-1zm0 4h1v1h-1zm0 2h1v1h-1zm0 1h1v1h-1zm0 1h1v1h-1zm0 1h1v1h-1zm0 2h1v1h-1zm0 2h1v1h-1zm0 1h1v1h-1zm0 1h1v1h-1zm0 1h1v1h-1zm0 1h1v1h-1zm0 1h1v1h-1zm0 1h1v1h-1zm1 -16h1v1h-1zm0 1h1v1h-1zm0 1h1v1h-1zm0 1h1v1h-1zm0 2h1v1h-1zm0 1h1v1h-1zm0 1h1v1h-1zm0 1h1v1h-1zm0 1h1v1h-1zm0 2h1v1h-1zm0 1h1v1h-1zm0 1h1v1h-1zm0 1h1v1h-1zm0 1h1v1h-1zm0 1h1v1h-1zm0 3h1v1h-1zm1 -22h1v1h-1zm0 3h1v1h-1zm0 1h1v1h-1zm0 1h1v1h-1zm0 1h1v1h-1zm0 2h1v1h-1zm0 1h1v1h-1zm0 1h1v1h-1zm0 1h1v1h-1zm0 1h1v1h-1zm0 1h1v1h-1zm0 1h1v1h-1zm0 1h1v1h-1zm0 1h1v1h-1zm0 1h1v1h-1zm0 2h1v1h-1zm0 2h1v1h-1zm1 -16h1v1h-1zm0 1h1v1h-1zm0 2h1v1h-1zm0 1h1v1h-1zm0 1h1v1h-1zm0 1h1v1h-1zm0 2h1v1h-1zm0 1h1v1h-1zm0 2h1v1h-1zm0 1h1v1h-1zm0 2h1v1h-1zm0 6h1v1h-1zm0 15h1v1h-1zm1 -38h1v1h-1zm0 3h1v1h-1zm0 3h1v1h-1zm0 2h1v1h-1zm0 1h1v1h-1zm0 1h1v1h-1zm0 1h1v1h-1zm0 1h1v1h-1zm0 1h1v1h-1zm0 1h1v1h-1zm0 1h1v1h-1zm0 2h1v1h-1zm0 4h1v1h-1zm0 1h1v1h-1zm0 4h1v1h-1zm1 -23h1v1h-1zm0 1h1v1h-1zm0 1h1v1h-1zm0 1h1v1h-1zm0 1h1v1h-1zm0 1h1v1h-1zm0 1h1v1h-1zm0 1h1v1h-1zm0 1h1v1h-1zm0 1h1v1h-1zm0 1h1v1h-1zm0 2h1v1h-1zm0 1h1v1h-1zm0 1h1v1h-1zm0 9h1v1h-1zm1 -23h1v1h-1zm0 1h1v1h-1zm0 1h1v1h-1zm0 2h1v1h-1zm0 3h1v1h-1zm0 1h1v1h-1zm0 1h1v1h-1zm0 2h1v1h-1zm0 1h1v1h-1zm0 1h1v1h-1zm0 1h1v1h-1zm1 -18h1v1h-1zm0 5h1v1h-1zm0 2h1v1h-1zm0 1h1v1h-1zm0 2h1v1h-1zm0 1h1v1h-1zm0 1h1v1h-1zm0 1h1v1h-1zm0 2h1v1h-1zm0 1h1v1h-1zm0 1h1v1h-1zm0 1h1v1h-1zm0 1h1v1h-1zm0 2h1v1h-1zm0 1h1v1h-1zm1 -24h1v1h-1zm0 2h1v1h-1zm0 2h1v1h-1zm0 4h1v1h-1zm0 1h1v1h-1zm0 1h1v1h-1zm0 1h1v1h-1zm0 1h1v1h-1zm0 2h1v1h-1zm0 1h1v1h-1zm0 1h1v1h-1zm0 1h1v1h-1zm0 1h1v1h-1zm0 1h1v1h-1zm0 2h1v1h-1zm0 2h1v1h-1zm0 3h1v1h-1zm1 -20h1v1h-1zm0 2h1v1h-1zm0 1h1v1h-1zm0 1h1v1h-1zm0 1h1v1h-1zm0 1h1v1h-1zm0 1h1v1h-1zm0 1h1v1h-1zm0 1h1v1h-1zm0 1h1v1h-1zm0 1h1v1h-1zm0 2h1v1h-1zm0 2h1v1h-1zm0 6h1v1h-1zm1 -29h1v1h-1zm0 8h1v1h-1zm0 1h1v1h-1zm0 3h1v1h-1zm0 1h1v1h-1zm0 1h1v1h-1zm0 1h1v1h-1zm0 1h1v1h-1zm0 1h1v1h-1zm0 2h1v1h-1zm0 1h1v1h-1zm0 1h1v1h-1zm0 1h1v1h-1zm0 1h1v1h-1zm0 3h1v1h-1zm1 -22h1v1h-1zm0 4h1v1h-1zm0 1h1v1h-1zm0 2h1v1h-1zm0 2h1v1h-1zm0 1h1v1h-1zm0 1h1v1h-1zm0 1h1v1h-1zm0 1h1v1h-1zm0 1h1v1h-1zm0 2h1v1h-1zm0 2h1v1h-1zm0 1h1v1h-1zm0 2h1v1h-1zm0 2h1v1h-1zm0 3h1v1h-1zm0 3h1v1h-1zm1 -44h1v1h-1zm0 6h1v1h-1zm0 10h1v1h-1zm0 1h1v1h-1zm0 1h1v1h-1zm0 1h1v1h-1zm0 1h1v1h-1zm0 2h1v1h-1zm0 1h1v1h-1zm0 1h1v1h-1zm0 1h1v1h-1zm0 1h1v1h-1zm0 1h1v1h-1zm0 1h1v1h-1zm0 1h1v1h-1zm0 1h1v1h-1zm0 1h1v1h-1zm0 1h1v1h-1zm0 3h1v1h-1zm0 1h1v1h-1zm0 14h1v1h-1zm1 -29h1v1h-1zm0 1h1v1h-1zm0 2h1v1h-1zm0 1h1v1h-1zm0 1h1v1h-1zm0 1h1v1h-1zm0 1h1v1h-1zm0 1h1v1h-1zm0 1h1v1h-1zm0 1h1v1h-1zm0 1h1v1h-1zm0 3h1v1h-1zm1 -27h1v1h-1zm0 12h1v1h-1zm0 1h1v1h-1zm0 1h1v1h-1zm0 1h1v1h-1zm0 1h1v1h-1zm0 1h1v1h-1zm0 1h1v1h-1zm0 1h1v1h-1zm0 4h1v1h-1zm0 2h1v1h-1zm0 1h1v1h-1zm0 2h1v1h-1zm0 1h1v1h-1zm0 16h1v1h-1zm1 -49h1v1h-1zm0 15h1v1h-1zm0 1h1v1h-1zm0 1h1v1h-1zm0 2h1v1h-1zm0 1h1v1h-1zm0 1h1v1h-1zm0 1h1v1h-1zm0 1h1v1h-1zm0 1h1v1h-1zm0 1h1v1h-1zm0 1h1v1h-1zm0 1h1v1h-1zm0 1h1v1h-1zm0 2h1v1h-1zm0 3h1v1h-1zm0 2h1v1h-1zm1 -30h1v1h-1zm0 6h1v1h-1zm0 3h1v1h-1zm0 2h1v1h-1zm0 3h1v1h-1zm0 1h1v1h-1zm0 1h1v1h-1zm0 3h1v1h-1zm0 2h1v1h-1zm0 1h1v1h-1zm0 2h1v1h-1zm0 1h1v1h-1zm0 2h1v1h-1zm0 5h1v1h-1zm0 4h1v1h-1zm0 4h1v1h-1zm0 5h1v1h-1zm1 -40h1v1h-1zm0 3h1v1h-1zm0 2h1v1h-1zm0 3h1v1h-1zm0 1h1v1h-1zm0 2h1v1h-1zm0 1h1v1h-1zm0 1h1v1h-1zm0 1h1v1h-1zm0 1h1v1h-1zm0 1h1v1h-1zm0 1h1v1h-1zm0 1h1v1h-1zm0 1h1v1h-1zm0 2h1v1h-1zm0 1h1v1h-1zm0 4h1v1h-1zm0 2h1v1h-1zm1 -26h1v1h-1zm0 1h1v1h-1zm0 1h1v1h-1zm0 1h1v1h-1zm0 1h1v1h-1zm0 1h1v1h-1zm0 1h1v1h-1zm0 2h1v1h-1zm0 2h1v1h-1zm0 1h1v1h-1zm0 1h1v1h-1zm0 1h1v1h-1zm0 2h1v1h-1zm0 2h1v1h-1zm0 1h1v1h-1zm0 1h1v1h-1zm0 5h1v1h-1zm1 -25h1v1h-1zm0 5h1v1h-1zm0 1h1v1h-1zm0 1h1v1h-1zm0 1h1v1h-1zm0 1h1v1h-1zm0 1h1v1h-1zm0 1h1v1h-1zm0 1h1v1h-1zm0 1h1v1h-1zm0 1h1v1h-1zm0 1h1v1h-1zm0 3h1v1h-1zm0 1h1v1h-1zm0 1h1v1h-1zm1 -16h1v1h-1zm0 1h1v1h-1zm0 2h1v1h-1zm0 1h1v1h-1zm0 1h1v1h-1zm0 1h1v1h-1zm0 1h1v1h-1zm0 1h1v1h-1zm0 1h1v1h-1zm0 1h1v1h-1zm0 1h1v1h-1zm0 1h1v1h-1zm0 1h1v1h-1zm0 1h1v1h-1zm0 1h1v1h-1zm0 1h1v1h-1zm0 2h1v1h-1zm1 -32h1v1h-1zm0 13h1v1h-1zm0 1h1v1h-1zm0 1h1v1h-1zm0 1h1v1h-1zm0 1h1v1h-1zm0 1h1v1h-1zm0 2h1v1h-1zm0 1h1v1h-1zm0 2h1v1h-1zm0 1h1v1h-1zm0 1h1v1h-1zm0 1h1v1h-1zm0 4h1v1h-1zm1 -28h1v1h-1zm0 14h1v1h-1zm0 1h1v1h-1zm0 1h1v1h-1zm0 1h1v1h-1zm0 1h1v1h-1zm0 1h1v1h-1zm0 1h1v1h-1zm0 1h1v1h-1zm0 1h1v1h-1zm0 1h1v1h-1zm0 1h1v1h-1zm0 1h1v1h-1zm0 5h1v1h-1zm0 2h1v1h-1zm1 -24h1v1h-1zm0 1h1v1h-1zm0 1h1v1h-1zm0 1h1v1h-1zm0 2h1v1h-1zm0 1h1v1h-1zm0 1h1v1h-1zm0 1h1v1h-1zm0 1h1v1h-1zm0 1h1v1h-1zm0 1h1v1h-1zm0 1h1v1h-1zm0 1h1v1h-1zm0 1h1v1h-1zm0 1h1v1h-1zm0 2h1v1h-1zm0 1h1v1h-1zm0 1h1v1h-1zm0 3h1v1h-1zm0 1h1v1h-1zm0 6h1v1h-1zm1 -26h1v1h-1zm0 2h1v1h-1zm0 2h1v1h-1zm0 1h1v1h-1zm0 1h1v1h-1zm0 1h1v1h-1zm0 1h1v1h-1zm0 1h1v1h-1zm0 1h1v1h-1zm0 1h1v1h-1zm0 1h1v1h-1zm0 1h1v1h-1zm0 1h1v1h-1zm0 1h1v1h-1zm0 1h1v1h-1zm0 1h1v1h-1zm0 1h1v1h-1zm1 -26h1v1h-1zm0 5h1v1h-1zm0 2h1v1h-1zm0 4h1v1h-1zm0 1h1v1h-1zm0 1h1v1h-1zm0 1h1v1h-1zm0 1h1v1h-1zm0 1h1v1h-1zm0 1h1v1h-1zm0 1h1v1h-1zm0 1h1v1h-1zm0 1h1v1h-1zm0 1h1v1h-1zm0 1h1v1h-1zm0 1h1v1h-1zm0 1h1v1h-1zm0 1h1v1h-1zm0 1h1v1h-1zm0 1h1v1h-1zm0 2h1v1h-1zm1 -36h1v1h-1zm0 10h1v1h-1zm0 3h1v1h-1zm0 4h1v1h-1zm0 1h1v1h-1zm0 1h1v1h-1zm0 1h1v1h-1zm0 1h1v1h-1zm0 1h1v1h-1zm0 1h1v1h-1zm0 1h1v1h-1zm0 1h1v1h-1zm0 1h1v1h-1zm0 1h1v1h-1zm0 1h1v1h-1zm0 1h1v1h-1zm0 1h1v1h-1zm0 1h1v1h-1zm0 2h1v1h-1zm0 1h1v1h-1zm0 1h1v1h-1zm1 -23h1v1h-1zm0 1h1v1h-1zm0 2h1v1h-1zm0 2h1v1h-1zm0 1h1v1h-1zm0 1h1v1h-1zm0 1h1v1h-1zm0 1h1v1h-1zm0 2h1v1h-1zm0 1h1v1h-1zm0 1h1v1h-1zm0 1h1v1h-1zm0 1h1v1h-1zm0 4h1v1h-1zm0 2h1v1h-1zm0 2h1v1h-1zm0 5h1v1h-1zm0 3h1v1h-1zm1 -33h1v1h-1zm0 1h1v1h-1zm0 2h1v1h-1zm0 1h1v1h-1zm0 1h1v1h-1zm0 3h1v1h-1zm0 1h1v1h-1zm0 1h1v1h-1zm0 1h1v1h-1zm0 1h1v1h-1zm0 1h1v1h-1zm0 1h1v1h-1zm0 2h1v1h-1zm0 1h1v1h-1zm0 1h1v1h-1zm0 1h1v1h-1zm0 2h1v1h-1zm0 1h1v1h-1zm0 5h1v1h-1zm0 11h1v1h-1zm1 -46h1v1h-1zm0 7h1v1h-1zm0 2h1v1h-1zm0 3h1v1h-1zm0 2h1v1h-1zm0 2h1v1h-1zm0 2h1v1h-1zm0 1h1v1h-1zm0 1h1v1h-1zm0 2h1v1h-1zm0 1h1v1h-1zm0 1h1v1h-1zm0 2h1v1h-1zm0 1h1v1h-1zm0 2h1v1h-1zm0 2h1v1h-1zm1 -34h1v1h-1zm0 3h1v1h-1zm0 7h1v1h-1zm0 8h1v1h-1zm0 1h1v1h-1zm0 1h1v1h-1zm0 1h1v1h-1zm0 1h1v1h-1zm0 1h1v1h-1zm0 1h1v1h-1zm0 1h1v1h-1zm0 1h1v1h-1zm0 1h1v1h-1zm0 1h1v1h-1zm0 1h1v1h-1zm0 3h1v1h-1zm0 1h1v1h-1zm0 2h1v1h-1zm0 5h1v1h-1zm1 -24h1v1h-1zm0 2h1v1h-1zm0 1h1v1h-1zm0 2h1v1h-1zm0 1h1v1h-1zm0 1h1v1h-1zm0 1h1v1h-1zm0 1h1v1h-1zm0 1h1v1h-1zm0 1h1v1h-1zm0 1h1v1h-1zm0 1h1v1h-1zm0 2h1v1h-1zm0 1h1v1h-1zm0 1h1v1h-1zm0 1h1v1h-1zm0 7h1v1h-1zm1 -37h1v1h-1zm0 2h1v1h-1zm0 8h1v1h-1zm0 1h1v1h-1zm0 1h1v1h-1zm0 1h1v1h-1zm0 1h1v1h-1zm0 1h1v1h-1zm0 1h1v1h-1zm0 1h1v1h-1zm0 1h1v1h-1zm0 1h1v1h-1zm0 1h1v1h-1zm0 1h1v1h-1zm0 1h1v1h-1zm0 1h1v1h-1zm0 1h1v1h-1zm0 1h1v1h-1zm0 1h1v1h-1zm0 1h1v1h-1zm0 1h1v1h-1zm0 1h1v1h-1zm0 2h1v1h-1zm0 2h1v1h-1zm0 1h1v1h-1zm1 -47h1v1h-1zm0 20h1v1h-1zm0 5h1v1h-1zm0 2h1v1h-1zm0 1h1v1h-1zm0 2h1v1h-1zm0 1h1v1h-1zm0 1h1v1h-1zm0 1h1v1h-1zm0 2h1v1h-1zm0 1h1v1h-1zm0 1h1v1h-1zm0 1h1v1h-1zm0 1h1v1h-1zm0 1h1v1h-1zm0 1h1v1h-1zm0 1h1v1h-1zm0 1h1v1h-1zm0 2h1v1h-1zm1 -30h1v1h-1zm0 3h1v1h-1zm0 6h1v1h-1zm0 2h1v1h-1zm0 1h1v1h-1zm0 1h1v1h-1zm0 1h1v1h-1zm0 1h1v1h-1zm0 1h1v1h-1zm0 1h1v1h-1zm0 1h1v1h-1zm0 1h1v1h-1zm0 1h1v1h-1zm0 1h1v1h-1zm0 1h1v1h-1zm0 1h1v1h-1zm0 1h1v1h-1zm0 2h1v1h-1zm0 1h1v1h-1zm0 3h1v1h-1zm0 2h1v1h-1zm0 5h1v1h-1zm1 -27h1v1h-1zm0 3h1v1h-1zm0 2h1v1h-1zm0 1h1v1h-1zm0 1h1v1h-1zm0 2h1v1h-1zm0 1h1v1h-1zm0 1h1v1h-1zm0 1h1v1h-1zm0 1h1v1h-1zm0 1h1v1h-1zm0 1h1v1h-1zm0 2h1v1h-1zm0 1h1v1h-1zm0 3h1v1h-1zm1 -21h1v1h-1zm0 1h1v1h-1zm0 3h1v1h-1zm0 1h1v1h-1zm0 1h1v1h-1zm0 1h1v1h-1zm0 1h1v1h-1zm0 1h1v1h-1zm0 1h1v1h-1zm0 2h1v1h-1zm0 1h1v1h-1zm0 1h1v1h-1zm0 1h1v1h-1zm0 2h1v1h-1zm0 2h1v1h-1zm0 1h1v1h-1zm0 2h1v1h-1zm1 -33h1v1h-1zm0 13h1v1h-1zm0 1h1v1h-1zm0 1h1v1h-1zm0 1h1v1h-1zm0 3h1v1h-1zm0 1h1v1h-1zm0 1h1v1h-1zm0 1h1v1h-1zm0 1h1v1h-1zm0 1h1v1h-1zm0 1h1v1h-1zm0 1h1v1h-1zm0 2h1v1h-1zm0 1h1v1h-1zm0 2h1v1h-1zm0 5h1v1h-1zm1 -25h1v1h-1zm0 3h1v1h-1zm0 4h1v1h-1zm0 1h1v1h-1zm0 1h1v1h-1zm0 1h1v1h-1zm0 1h1v1h-1zm0 2h1v1h-1zm0 1h1v1h-1zm0 2h1v1h-1zm0 3h1v1h-1zm1 13h1v1h-1z"/>
<line x1="245.9" y1="354.4" x2="245.9" y2="480.0" stroke="#111" stroke-width="1.1"/>
<line x1="245.4" y1="479.4" x2="333.9" y2="479.4" stroke="#111" stroke-width="1.1"/>
<line x1="242.6" y1="473.80" x2="245.9" y2="473.80" stroke="#111" stroke-width="0.8"/>
<text x="239.80" y="476.10" font-size="6.3" text-anchor="end" fill="#222" stroke="#222" stroke-width="0.12" font-weight="normal" >-10</text>
<line x1="242.6" y1="462.40" x2="245.9" y2="462.40" stroke="#111" stroke-width="0.8"/>
<text x="239.80" y="464.70" font-size="6.3" text-anchor="end" fill="#222" stroke="#222" stroke-width="0.12" font-weight="normal" >-8</text>
<line x1="242.6" y1="451.00" x2="245.9" y2="451.00" stroke="#111" stroke-width="0.8"/>
<text x="239.80" y="453.30" font-size="6.3" text-anchor="end" fill="#222" stroke="#222" stroke-width="0.12" font-weight="normal" >-6</text>
<line x1="242.6" y1="439.60" x2="245.9" y2="439.60" stroke="#111" stroke-width="0.8"/>
<text x="239.80" y="441.90" font-size="6.3" text-anchor="end" fill="#222" stroke="#222" stroke-width="0.12" font-weight="normal" >-4</text>
<line x1="242.6" y1="428.20" x2="245.9" y2="428.20" stroke="#111" stroke-width="0.8"/>
<text x="239.80" y="430.50" font-size="6.3" text-anchor="end" fill="#222" stroke="#222" stroke-width="0.12" font-weight="normal" >-2</text>
<line x1="242.6" y1="416.80" x2="245.9" y2="416.80" stroke="#111" stroke-width="0.8"/>
<text x="239.80" y="419.10" font-size="6.3" text-anchor="end" fill="#222" stroke="#222" stroke-width="0.12" font-weight="normal" >0</text>
<line x1="242.6" y1="405.40" x2="245.9" y2="405.40" stroke="#111" stroke-width="0.8"/>
<text x="239.80" y="407.70" font-size="6.3" text-anchor="end" fill="#222" stroke="#222" stroke-width="0.12" font-weight="normal" >2</text>
<line x1="242.6" y1="394.00" x2="245.9" y2="394.00" stroke="#111" stroke-width="0.8"/>
<text x="239.80" y="396.30" font-size="6.3" text-anchor="end" fill="#222" stroke="#222" stroke-width="0.12" font-weight="normal" >4</text>
<line x1="242.6" y1="382.60" x2="245.9" y2="382.60" stroke="#111" stroke-width="0.8"/>
<text x="239.80" y="384.90" font-size="6.3" text-anchor="end" fill="#222" stroke="#222" stroke-width="0.12" font-weight="normal" >6</text>
<line x1="242.6" y1="371.20" x2="245.9" y2="371.20" stroke="#111" stroke-width="0.8"/>
<text x="239.80" y="373.50" font-size="6.3" text-anchor="end" fill="#222" stroke="#222" stroke-width="0.12" font-weight="normal" >8</text>
<line x1="242.6" y1="359.80" x2="245.9" y2="359.80" stroke="#111" stroke-width="0.8"/>
<text x="239.80" y="362.10" font-size="6.3" text-anchor="end" fill="#222" stroke="#222" stroke-width="0.12" font-weight="normal" >10</text>
<line x1="249.40" y1="479.4" x2="249.40" y2="482.2" stroke="#111" stroke-width="0.8"/>
<line x1="269.70" y1="479.4" x2="269.70" y2="482.2" stroke="#111" stroke-width="0.8"/>
<line x1="290.00" y1="479.4" x2="290.00" y2="482.2" stroke="#111" stroke-width="0.8"/>
<line x1="310.30" y1="479.4" x2="310.30" y2="482.2" stroke="#111" stroke-width="0.8"/>
<line x1="330.60" y1="479.4" x2="330.60" y2="482.2" stroke="#111" stroke-width="0.8"/>
<line x1="346.6" y1="354.4" x2="346.6" y2="480.0" stroke="#111" stroke-width="1.1"/>
<line x1="346.1" y1="479.4" x2="486.0" y2="479.4" stroke="#111" stroke-width="1.1"/>
<line x1="343.4" y1="473.80" x2="346.6" y2="473.80" stroke="#111" stroke-width="0.8"/>
<line x1="343.4" y1="462.40" x2="346.6" y2="462.40" stroke="#111" stroke-width="0.8"/>
<line x1="343.4" y1="451.00" x2="346.6" y2="451.00" stroke="#111" stroke-width="0.8"/>
<line x1="343.4" y1="439.60" x2="346.6" y2="439.60" stroke="#111" stroke-width="0.8"/>
<line x1="343.4" y1="428.20" x2="346.6" y2="428.20" stroke="#111" stroke-width="0.8"/>
<line x1="343.4" y1="416.80" x2="346.6" y2="416.80" stroke="#111" stroke-width="0.8"/>
<line x1="343.4" y1="405.40" x2="346.6" y2="405.40" stroke="#111" stroke-width="0.8"/>
<line x1="343.4" y1="394.00" x2="346.6" y2="394.00" stroke="#111" stroke-width="0.8"/>
<line x1="343.4" y1="382.60" x2="346.6" y2="382.60" stroke="#111" stroke-width="0.8"/>
<line x1="343.4" y1="371.20" x2="346.6" y2="371.20" stroke="#111" stroke-width="0.8"/>
<line x1="343.4" y1="359.80" x2="346.6" y2="359.80" stroke="#111" stroke-width="0.8"/>
<line x1="352.40" y1="479.4" x2="352.40" y2="482.2" stroke="#111" stroke-width="0.8"/>
<line x1="384.42" y1="479.4" x2="384.42" y2="482.2" stroke="#111" stroke-width="0.8"/>
<line x1="416.45" y1="479.4" x2="416.45" y2="482.2" stroke="#111" stroke-width="0.8"/>
<line x1="448.48" y1="479.4" x2="448.48" y2="482.2" stroke="#111" stroke-width="0.8"/>
<line x1="480.50" y1="479.4" x2="480.50" y2="482.2" stroke="#111" stroke-width="0.8"/>
<path fill="#b0f068" d="M249 412h1v1h-1zm0 8h1v1h-1zm1 -13h1v1h-1zm0 7h1v1h-1zm0 2h1v1h-1zm0 4h1v1h-1zm1 -15h1v1h-1zm0 7h1v1h-1zm0 9h1v1h-1zm0 14h1v1h-1zm1 -45h1v1h-1zm0 16h1v1h-1zm0 11h1v1h-1zm1 -9h1v1h-1zm0 4h1v1h-1zm0 2h1v1h-1zm0 1h1v1h-1zm0 5h1v1h-1zm1 -20h1v1h-1zm0 10h1v1h-1zm0 14h1v1h-1zm1 -11h1v1h-1zm0 3h1v1h-1zm0 5h1v1h-1zm1 -25h1v1h-1zm0 1h1v1h-1zm0 9h1v1h-1zm0 5h1v1h-1zm0 6h1v1h-1zm0 4h1v1h-1zm1 -37h1v1h-1zm0 28h1v1h-1zm0 4h1v1h-1zm0 4h1v1h-1zm1 -26h1v1h-1zm0 16h1v1h-1zm0 2h1v1h-1zm0 1h1v1h-1zm1 -6h1v1h-1zm0 2h1v1h-1zm0 1h1v1h-1zm0 3h1v1h-1zm0 6h1v1h-1zm1 -19h1v1h-1zm0 7h1v1h-1zm0 1h1v1h-1zm0 5h1v1h-1zm0 12h1v1h-1zm0 19h1v1h-1zm1 -60h1v1h-1zm0 27h1v1h-1zm0 2h1v1h-1zm0 3h1v1h-1zm0 1h1v1h-1zm1 -31h1v1h-1zm0 17h1v1h-1zm0 5h1v1h-1zm0 1h1v1h-1zm0 15h1v1h-1zm0 13h1v1h-1zm1 -59h1v1h-1zm0 26h1v1h-1zm0 4h1v1h-1zm0 1h1v1h-1zm0 2h1v1h-1zm0 1h1v1h-1zm0 10h1v1h-1zm0 9h1v1h-1zm1 -34h1v1h-1zm0 10h1v1h-1zm0 1h1v1h-1zm0 2h1v1h-1zm0 1h1v1h-1zm0 4h1v1h-1zm0 7h1v1h-1zm0 2h1v1h-1zm1 -20h1v1h-1zm0 13h1v1h-1zm0 4h1v1h-1zm0 17h1v1h-1zm1 -39h1v1h-1zm0 4h1v1h-1zm0 7h1v1h-1zm0 5h1v1h-1zm1 -18h1v1h-1zm0 5h1v1h-1zm0 10h1v1h-1zm0 1h1v1h-1zm0 4h1v1h-1zm0 1h1v1h-1zm0 3h1v1h-1zm0 1h1v1h-1zm0 6h1v1h-1zm1 -22h1v1h-1zm0 4h1v1h-1zm0 1h1v1h-1zm0 2h1v1h-1zm0 2h1v1h-1zm0 4h1v1h-1zm1 -14h1v1h-1zm0 4h1v1h-1zm0 5h1v1h-1zm0 2h1v1h-1zm0 2h1v1h-1zm0 1h1v1h-1zm1 -10h1v1h-1zm0 5h1v1h-1zm0 3h1v1h-1zm0 7h1v1h-1zm1 -19h1v1h-1zm0 1h1v1h-1zm0 3h1v1h-1zm0 2h1v1h-1zm0 4h1v1h-1zm0 6h1v1h-1zm1 -30h1v1h-1zm0 19h1v1h-1zm0 4h1v1h-1zm0 1h1v1h-1zm0 4h1v1h-1zm0 1h1v1h-1zm0 1h1v1h-1zm0 2h1v1h-1zm0 4h1v1h-1zm0 10h1v1h-1zm1 -33h1v1h-1zm0 7h1v1h-1zm0 4h1v1h-1zm0 9h1v1h-1zm0 3h1v1h-1zm1 -28h1v1h-1zm0 2h1v1h-1zm0 9h1v1h-1zm0 7h1v1h-1zm0 4h1v1h-1zm0 18h1v1h-1zm1 -29h1v1h-1zm0 1h1v1h-1zm0 11h1v1h-1zm1 -20h1v1h-1zm0 3h1v1h-1zm0 5h1v1h-1zm0 9h1v1h-1zm1 -27h1v1h-1zm0 16h1v1h-1zm0 2h1v1h-1zm0 2h1v1h-1zm0 1h1v1h-1zm0 3h1v1h-1zm0 5h1v1h-1zm0 16h1v1h-1zm1 -43h1v1h-1zm0 5h1v1h-1zm0 7h1v1h-1zm0 3h1v1h-1zm0 1h1v1h-1zm0 15h1v1h-1zm0 8h1v1h-1zm0 2h1v1h-1zm0 4h1v1h-1zm1 -62h1v1h-1zm0 13h1v1h-1zm0 1h1v1h-1zm0 14h1v1h-1zm0 3h1v1h-1zm0 1h1v1h-1zm0 1h1v1h-1zm0 1h1v1h-1zm0 2h1v1h-1zm1 -9h1v1h-1zm0 1h1v1h-1zm0 2h1v1h-1zm0 1h1v1h-1zm0 1h1v1h-1zm0 6h1v1h-1zm0 2h1v1h-1zm0 3h1v1h-1zm1 -33h1v1h-1zm0 17h1v1h-1zm0 6h1v1h-1zm1 1h1v1h-1zm0 5h1v1h-1zm0 1h1v1h-1zm0 12h1v1h-1zm0 8h1v1h-1zm1 -37h1v1h-1zm0 11h1v1h-1zm0 6h1v1h-1zm0 1h1v1h-1zm0 1h1v1h-1zm0 4h1v1h-1zm1 -22h1v1h-1zm0 1h1v1h-1zm0 1h1v1h-1zm0 4h1v1h-1zm0 2h1v1h-1zm0 1h1v1h-1zm0 4h1v1h-1zm0 3h1v1h-1zm0 2h1v1h-1zm0 5h1v1h-1zm1 -36h1v1h-1zm0 4h1v1h-1zm0 1h1v1h-1zm0 21h1v1h-1zm0 1h1v1h-1zm0 2h1v1h-1zm0 1h1v1h-1zm0 10h1v1h-1zm1 -32h1v1h-1zm0 5h1v1h-1zm0 3h1v1h-1zm0 7h1v1h-1zm0 2h1v1h-1zm0 3h1v1h-1zm0 2h1v1h-1zm0 1h1v1h-1zm0 6h1v1h-1zm0 15h1v1h-1zm1 -40h1v1h-1zm0 11h1v1h-1zm0 2h1v1h-1zm0 1h1v1h-1zm0 2h1v1h-1zm1 -16h1v1h-1zm0 4h1v1h-1zm0 3h1v1h-1zm0 2h1v1h-1zm0 1h1v1h-1zm0 4h1v1h-1zm0 2h1v1h-1zm0 1h1v1h-1zm0 8h1v1h-1zm0 4h1v1h-1zm0 6h1v1h-1zm1 -36h1v1h-1zm0 1h1v1h-1zm0 2h1v1h-1zm0 4h1v1h-1zm0 5h1v1h-1zm0 3h1v1h-1zm0 1h1v1h-1zm0 1h1v1h-1zm0 4h1v1h-1zm1 -18h1v1h-1zm0 1h1v1h-1zm0 7h1v1h-1zm0 1h1v1h-1zm0 14h1v1h-1zm0 8h1v1h-1zm1 -34h1v1h-1zm0 10h1v1h-1zm0 3h1v1h-1zm0 5h1v1h-1zm0 7h1v1h-1zm0 16h1v1h-1zm1 -42h1v1h-1zm0 3h1v1h-1zm0 4h1v1h-1zm0 2h1v1h-1zm0 2h1v1h-1zm0 3h1v1h-1zm0 1h1v1h-1zm0 4h1v1h-1zm0 8h1v1h-1zm1 -17h1v1h-1zm0 1h1v1h-1zm0 1h1v1h-1zm0 2h1v1h-1zm0 1h1v1h-1zm0 12h1v1h-1zm0 4h1v1h-1zm1 -28h1v1h-1zm0 5h1v1h-1zm0 8h1v1h-1zm0 1h1v1h-1zm1 -24h1v1h-1zm0 3h1v1h-1zm0 3h1v1h-1zm0 3h1v1h-1zm0 5h1v1h-1zm0 4h1v1h-1zm0 6h1v1h-1zm0 1h1v1h-1zm0 1h1v1h-1zm0 2h1v1h-1zm0 2h1v1h-1zm0 4h1v1h-1zm1 -29h1v1h-1zm0 8h1v1h-1zm0 3h1v1h-1zm0 2h1v1h-1zm0 3h1v1h-1zm0 3h1v1h-1zm0 11h1v1h-1zm0 5h1v1h-1zm1 -25h1v1h-1zm0 3h1v1h-1zm0 1h1v1h-1zm0 3h1v1h-1zm0 1h1v1h-1zm0 1h1v1h-1zm0 2h1v1h-1zm0 2h1v1h-1zm0 6h1v1h-1zm0 11h1v1h-1zm1 -31h1v1h-1zm0 7h1v1h-1zm0 4h1v1h-1zm0 2h1v1h-1zm0 11h1v1h-1zm0 6h1v1h-1zm1 -49h1v1h-1zm0 12h1v1h-1zm0 1h1v1h-1zm0 10h1v1h-1zm0 4h1v1h-1zm0 2h1v1h-1zm0 4h1v1h-1zm0 2h1v1h-1zm0 5h1v1h-1zm0 10h1v1h-1zm1 -24h1v1h-1zm0 2h1v1h-1zm0 8h1v1h-1zm0 3h1v1h-1zm0 4h1v1h-1zm1 -26h1v1h-1zm0 1h1v1h-1zm0 10h1v1h-1zm0 13h1v1h-1zm1 -23h1v1h-1zm0 5h1v1h-1zm0 1h1v1h-1zm0 1h1v1h-1zm0 1h1v1h-1zm0 3h1v1h-1zm0 2h1v1h-1zm0 6h1v1h-1zm1 -13h1v1h-1zm0 3h1v1h-1zm0 10h1v1h-1zm1 -39h1v1h-1zm0 3h1v1h-1zm0 13h1v1h-1zm0 8h1v1h-1zm0 6h1v1h-1zm0 1h1v1h-1zm0 3h1v1h-1zm0 7h1v1h-1zm0 13h1v1h-1zm1 -44h1v1h-1zm0 3h1v1h-1zm0 11h1v1h-1zm0 2h1v1h-1zm0 2h1v1h-1zm0 3h1v1h-1zm0 1h1v1h-1zm0 1h1v1h-1zm0 1h1v1h-1zm0 8h1v1h-1zm0 6h1v1h-1zm1 -28h1v1h-1zm0 8h1v1h-1zm0 2h1v1h-1zm0 1h1v1h-1zm0 1h1v1h-1zm0 2h1v1h-1zm0 1h1v1h-1zm0 2h1v1h-1zm0 1h1v1h-1zm1 -18h1v1h-1zm0 2h1v1h-1zm0 6h1v1h-1zm0 2h1v1h-1zm0 2h1v1h-1zm0 10h1v1h-1zm1 -31h1v1h-1zm0 3h1v1h-1zm0 3h1v1h-1zm0 3h1v1h-1zm0 3h1v1h-1zm0 2h1v1h-1zm0 3h1v1h-1zm0 4h1v1h-1zm0 4h1v1h-1zm1 -13h1v1h-1zm0 1h1v1h-1zm0 1h1v1h-1zm0 2h1v1h-1zm0 2h1v1h-1zm0 6h1v1h-1zm0 3h1v1h-1zm0 1h1v1h-1zm0 8h1v1h-1zm1 -25h1v1h-1zm0 7h1v1h-1zm0 5h1v1h-1zm0 2h1v1h-1zm0 3h1v1h-1zm1 -25h1v1h-1zm0 9h1v1h-1zm0 2h1v1h-1zm0 6h1v1h-1zm0 4h1v1h-1zm0 7h1v1h-1zm0 2h1v1h-1zm1 -21h1v1h-1zm0 2h1v1h-1zm0 1h1v1h-1zm0 9h1v1h-1zm0 4h1v1h-1zm1 -30h1v1h-1zm0 9h1v1h-1zm0 6h1v1h-1zm0 3h1v1h-1zm0 2h1v1h-1zm0 1h1v1h-1zm0 4h1v1h-1zm0 13h1v1h-1zm0 6h1v1h-1zm0 3h1v1h-1zm1 -40h1v1h-1zm0 4h1v1h-1zm0 1h1v1h-1zm0 1h1v1h-1zm0 5h1v1h-1zm0 3h1v1h-1zm0 3h1v1h-1zm0 2h1v1h-1zm0 1h1v1h-1zm0 1h1v1h-1zm0 3h1v1h-1zm0 10h1v1h-1zm1 -62h1v1h-1zm0 23h1v1h-1zm0 9h1v1h-1zm0 4h1v1h-1zm0 3h1v1h-1zm0 3h1v1h-1zm0 1h1v1h-1zm0 6h1v1h-1zm0 5h1v1h-1zm0 4h1v1h-1zm1 -39h1v1h-1zm0 4h1v1h-1zm0 17h1v1h-1zm0 5h1v1h-1zm0 15h1v1h-1zm1 -39h1v1h-1zm0 15h1v1h-1zm0 3h1v1h-1zm0 2h1v1h-1zm0 3h1v1h-1zm0 3h1v1h-1zm0 2h1v1h-1zm0 3h1v1h-1zm0 8h1v1h-1zm1 -29h1v1h-1zm0 5h1v1h-1zm0 6h1v1h-1zm0 7h1v1h-1zm0 26h1v1h-1zm1 -49h1v1h-1zm0 7h1v1h-1zm0 2h1v1h-1zm0 1h1v1h-1zm0 1h1v1h-1zm0 2h1v1h-1zm0 1h1v1h-1zm0 1h1v1h-1zm0 1h1v1h-1zm0 4h1v1h-1zm0 2h1v1h-1zm0 16h1v1h-1zm1 -47h1v1h-1zm0 7h1v1h-1zm0 2h1v1h-1zm0 2h1v1h-1zm0 6h1v1h-1zm0 2h1v1h-1zm0 1h1v1h-1zm0 1h1v1h-1zm0 4h1v1h-1zm0 3h1v1h-1zm0 1h1v1h-1zm1 -19h1v1h-1zm0 5h1v1h-1zm0 2h1v1h-1zm0 7h1v1h-1zm0 4h1v1h-1zm0 1h1v1h-1zm0 1h1v1h-1zm0 8h1v1h-1zm1 -32h1v1h-1zm0 7h1v1h-1zm0 1h1v1h-1zm0 2h1v1h-1zm0 2h1v1h-1zm0 4h1v1h-1zm0 2h1v1h-1zm0 2h1v1h-1zm0 11h1v1h-1zm1 -21h1v1h-1zm0 2h1v1h-1zm0 4h1v1h-1zm0 1h1v1h-1zm0 1h1v1h-1zm0 4h1v1h-1zm0 1h1v1h-1zm0 1h1v1h-1zm1 -14h1v1h-1zm0 2h1v1h-1zm0 5h1v1h-1zm0 1h1v1h-1zm0 1h1v1h-1zm0 1h1v1h-1zm0 1h1v1h-1zm0 3h1v1h-1zm0 4h1v1h-1zm1 -14h1v1h-1zm0 2h1v1h-1zm0 2h1v1h-1zm0 1h1v1h-1zm0 4h1v1h-1zm0 1h1v1h-1zm0 1h1v1h-1zm0 1h1v1h-1zm0 6h1v1h-1zm1 -27h1v1h-1zm0 4h1v1h-1zm0 7h1v1h-1zm0 1h1v1h-1zm0 1h1v1h-1zm0 1h1v1h-1zm0 1h1v1h-1zm0 19h1v1h-1zm1 -32h1v1h-1zm0 1h1v1h-1zm0 2h1v1h-1zm0 5h1v1h-1zm0 1h1v1h-1zm0 1h1v1h-1zm0 2h1v1h-1zm0 2h1v1h-1zm0 1h1v1h-1zm0 3h1v1h-1zm0 8h1v1h-1zm0 8h1v1h-1zm1 -38h1v1h-1zm0 3h1v1h-1zm0 11h1v1h-1zm0 8h1v1h-1zm0 11h1v1h-1zm0 2h1v1h-1zm0 7h1v1h-1zm1 -36h1v1h-1zm0 2h1v1h-1zm0 1h1v1h-1zm0 5h1v1h-1zm0 5h1v1h-1zm0 4h1v1h-1zm1 -12h1v1h-1zm0 3h1v1h-1zm0 5h1v1h-1zm0 4h1v1h-1z"/>
<path fill="#c0f050" d="M298 401h1v1h-1zm15 -1h1v1h-1zm14 24h1v1h-1z"/>
<path fill="#d0f040" d="M251 403h1v1h-1zm2 19h1v1h-1zm8 1h1v1h-1zm6 -21h1v1h-1zm4 20h1v1h-1zm30 1h1v1h-1zm9 -21h1v1h-1zm3 -1h1v1h-1zm5 22h1v1h-1zm11 0h1v1h-1z"/>
<path fill="#e0f030" d="M257 403h1v1h-1zm1 -1h1v1h-1zm7 1h1v1h-1zm3 -1h1v1h-1zm1 20h1v1h-1zm5 -19h1v1h-1zm7 19h1v1h-1zm13 -20h1v1h-1zm1 1h1v1h-1zm5 -1h1v1h-1zm1 0h1v1h-1zm2 0h1v1h-1zm3 20h1v1h-1zm3 -19h1v1h-1zm1 19h1v1h-1zm18 -20h1v1h-1z"/>
<path fill="#e0f040" d="M293 402h1v1h-1z"/>
<path fill="#f0f020" d="M249 421h1v1h-1zm3 1h1v1h-1zm1 -18h1v1h-1zm2 -1h1v1h-1zm0 18h1v1h-1zm7 0h1v1h-1zm5 -18h1v1h-1zm0 19h1v1h-1zm2 -1h1v1h-1zm5 0h1v1h-1zm1 0h1v1h-1zm5 0h1v1h-1zm1 -18h1v1h-1zm8 18h1v1h-1zm2 1h1v1h-1zm2 -1h1v1h-1zm3 -17h1v1h-1zm0 17h1v1h-1zm4 -17h1v1h-1zm7 -1h1v1h-1zm8 18h1v1h-1zm4 0h1v1h-1zm6 -18h1v1h-1z"/>
<path fill="#f0f010" d="M248 404h1v1h-1zm8 16h1v1h-1zm4 0h1v1h-1zm17 -16h1v1h-1zm0 17h1v1h-1zm1 -17h1v1h-1zm2 0h1v1h-1zm4 0h1v1h-1zm6 17h1v1h-1zm7 -17h1v1h-1zm1 17h1v1h-1zm8 0h1v1h-1zm1 -17h1v1h-1zm2 0h1v1h-1zm5 -1h1v1h-1zm1 0h1v1h-1zm6 18h1v1h-1zm9 -18h1v1h-1z"/>
<path fill="#f0e010" d="M248 406h1v1h-1zm3 -1h1v1h-1zm1 15h1v1h-1zm3 -15h1v1h-1zm8 15h1v1h-1zm3 -15h1v1h-1zm1 0h1v1h-1zm6 15h1v1h-1zm7 -15h1v1h-1zm7 0h1v1h-1zm2 0h1v1h-1zm3 15h1v1h-1zm13 -16h1v1h-1zm0 17h1v1h-1zm3 0h1v1h-1zm4 0h1v1h-1zm1 0h1v1h-1zm1 -17h1v1h-1zm2 16h1v1h-1zm0 1h1v1h-1zm8 -18h1v1h-1zm0 17h1v1h-1zm2 1h1v1h-1z"/>
<path fill="#ffe000" d="M249 405h1v1h-1zm3 14h1v1h-1zm3 0h1v1h-1zm5 0h1v1h-1zm3 0h1v1h-1zm1 1h1v1h-1zm2 -13h1v1h-1zm0 12h1v1h-1zm2 -14h1v1h-1zm1 0h1v1h-1zm4 0h1v1h-1zm3 0h1v1h-1zm2 0h1v1h-1zm1 14h1v1h-1zm6 -1h1v1h-1zm2 -12h1v1h-1zm7 -1h1v1h-1zm0 1h1v1h-1zm0 13h1v1h-1zm0 1h1v1h-1zm3 -15h1v1h-1zm3 0h1v1h-1zm11 15h1v1h-1zm2 0h1v1h-1zm9 -16h1v1h-1zm1 16h1v1h-1zm1 -16h1v1h-1zm1 16h1v1h-1zm4 -16h1v1h-1zm0 16h1v1h-1z"/>
<path fill="#ffc010" d="M249 419h1v1h-1zm1 -12h1v1h-1zm4 0h1v1h-1zm2 -1h1v1h-1zm2 1h1v1h-1zm2 -1h1v1h-1zm2 1h1v1h-1zm0 10h1v1h-1zm0 1h1v1h-1zm0 1h1v1h-1zm1 -12h1v1h-1zm2 0h1v1h-1zm0 11h1v1h-1zm2 -12h1v1h-1zm0 12h1v1h-1zm1 -12h1v1h-1zm0 11h1v1h-1zm0 1h1v1h-1zm1 0h1v1h-1zm1 0h1v1h-1zm1 -11h1v1h-1zm4 0h1v1h-1zm0 12h1v1h-1zm1 -13h1v1h-1zm3 0h1v1h-1zm1 0h1v1h-1zm2 0h1v1h-1zm0 12h1v1h-1zm0 1h1v1h-1zm2 -12h1v1h-1zm0 12h1v1h-1zm1 -13h1v1h-1zm1 12h1v1h-1zm4 0h1v1h-1zm0 1h1v1h-1zm1 0h1v1h-1zm2 -12h1v1h-1zm3 0h1v1h-1zm1 -1h1v1h-1zm2 0h1v1h-1zm4 0h1v1h-1zm1 13h1v1h-1zm19 -15h1v1h-1zm1 1h1v1h-1zm1 14h1v1h-1zm1 -15h1v1h-1zm2 1h1v1h-1zm0 14h1v1h-1zm1 -14h1v1h-1z"/>
<path fill="#f0e000" d="M255 420h1v1h-1zm1 -15h1v1h-1zm6 0h1v1h-1zm1 0h1v1h-1zm20 1h1v1h-1zm0 14h1v1h-1zm2 -15h1v1h-1zm0 15h1v1h-1zm6 0h1v1h-1zm5 -15h1v1h-1zm1 15h1v1h-1zm1 -15h1v1h-1zm9 0h1v1h-1z"/>
<path fill="#ffd000" d="M248 418h1v1h-1zm1 -12h1v1h-1zm1 13h1v1h-1zm4 -13h1v1h-1zm3 13h1v1h-1zm3 -12h1v1h-1zm1 11h1v1h-1zm0 1h1v1h-1zm2 -13h1v1h-1zm2 -1h1v1h-1zm1 1h1v1h-1zm4 13h1v1h-1zm4 0h1v1h-1zm3 -13h1v1h-1zm0 13h1v1h-1zm6 -14h1v1h-1zm0 14h1v1h-1zm1 -1h1v1h-1zm0 2h1v1h-1zm4 -13h1v1h-1zm0 12h1v1h-1zm1 0h1v1h-1zm1 -14h1v1h-1zm1 2h1v1h-1zm5 -1h1v1h-1zm3 13h1v1h-1zm5 -14h1v1h-1zm7 0h1v1h-1zm3 15h1v1h-1zm6 0h1v1h-1zm2 0h1v1h-1zm5 0h1v1h-1zm2 -1h1v1h-1z"/>
<path fill="#ffb010" d="M248 417h1v1h-1zm3 0h1v1h-1zm1 -10h1v1h-1zm1 0h1v1h-1zm0 11h1v1h-1zm2 -11h1v1h-1zm1 0h1v1h-1zm1 11h1v1h-1zm4 -11h1v1h-1zm2 11h1v1h-1zm8 0h1v1h-1zm1 -1h1v1h-1zm1 -10h1v1h-1zm1 10h1v1h-1zm1 0h1v1h-1zm1 -10h1v1h-1zm3 10h1v1h-1zm1 -10h1v1h-1zm0 11h1v1h-1zm1 0h1v1h-1zm4 -11h1v1h-1zm1 -1h1v1h-1zm2 12h1v1h-1zm1 0h1v1h-1zm3 -11h1v1h-1zm0 12h1v1h-1zm1 -1h1v1h-1zm0 1h1v1h-1zm5 -13h1v1h-1zm4 13h1v1h-1zm2 -13h1v1h-1zm1 0h1v1h-1zm2 0h1v1h-1zm1 13h1v1h-1zm2 -13h1v1h-1zm2 -1h1v1h-1zm1 0h1v1h-1zm1 0h1v1h-1zm2 14h1v1h-1zm1 -14h1v1h-1zm2 14h1v1h-1zm3 0h1v1h-1z"/>
<path fill="#f08010" d="M248 416h1v1h-1zm2 -8h1v1h-1zm0 8h1v1h-1zm1 2h1v1h-1zm1 -10h1v1h-1zm3 9h1v1h-1zm1 -1h1v1h-1zm1 -7h1v1h-1zm2 7h1v1h-1zm1 0h1v1h-1zm2 0h1v1h-1zm1 0h1v1h-1zm2 1h1v1h-1zm3 -1h1v1h-1zm1 -7h1v1h-1zm1 8h1v1h-1zm1 -1h1v1h-1zm1 0h1v1h-1zm1 -8h1v1h-1zm0 8h1v1h-1zm3 0h1v1h-1zm8 1h1v1h-1zm2 0h1v1h-1zm1 1h1v1h-1zm2 -11h1v1h-1zm0 10h1v1h-1zm2 1h1v1h-1zm1 0h1v1h-1zm5 -10h1v1h-1zm0 10h1v1h-1zm2 -10h1v1h-1zm4 10h1v1h-1zm1 0h1v1h-1zm2 -11h1v1h-1zm1 0h1v1h-1zm1 0h1v1h-1zm3 12h1v1h-1zm4 -13h1v1h-1zm3 -1h1v1h-1zm1 0h1v1h-1zm1 14h1v1h-1zm7 -14h1v1h-1z"/>
<path fill="#f05010" d="M248 410h1v1h-1zm0 5h1v1h-1zm1 0h1v1h-1zm2 -5h1v1h-1zm1 5h1v1h-1zm1 0h1v1h-1zm2 0h1v1h-1zm1 -5h1v1h-1zm0 5h1v1h-1zm1 -5h1v1h-1zm0 5h1v1h-1zm1 0h1v1h-1zm1 -5h1v1h-1zm0 5h1v1h-1zm1 0h1v1h-1zm6 -6h1v1h-1zm1 6h1v1h-1zm1 -5h1v1h-1zm0 5h1v1h-1zm1 0h1v1h-1zm1 0h1v1h-1zm1 0h1v1h-1zm1 -5h1v1h-1zm0 5h1v1h-1zm4 -6h1v1h-1zm0 6h1v1h-1zm5 1h1v1h-1zm1 0h1v1h-1zm1 0h1v1h-1zm8 -7h1v1h-1zm2 8h1v1h-1zm1 -8h1v1h-1zm1 0h1v1h-1zm1 0h1v1h-1zm1 8h1v1h-1zm6 -9h1v1h-1zm8 -1h1v1h-1zm0 11h1v1h-1zm3 0h1v1h-1zm6 -13h1v1h-1zm2 13h1v1h-1zm1 0h1v1h-1zm2 0h1v1h-1zm1 0h1v1h-1zm2 -12h1v1h-1z"/>
<path fill="#f09010" d="M248 407h1v1h-1zm0 1h1v1h-1zm1 0h1v1h-1zm2 0h1v1h-1zm2 0h1v1h-1zm1 0h1v1h-1zm0 9h1v1h-1zm1 -9h1v1h-1zm0 10h1v1h-1zm1 -10h1v1h-1zm1 0h1v1h-1zm1 0h1v1h-1zm0 9h1v1h-1zm1 -9h1v1h-1zm1 0h1v1h-1zm0 9h1v1h-1zm1 -9h1v1h-1zm2 0h1v1h-1zm1 0h1v1h-1zm0 9h1v1h-1zm1 -9h1v1h-1zm1 0h1v1h-1zm0 9h1v1h-1zm1 -9h1v1h-1zm1 0h1v1h-1zm1 0h1v1h-1zm3 0h1v1h-1zm2 0h1v1h-1zm1 0h1v1h-1zm1 0h1v1h-1zm1 0h1v1h-1zm0 9h1v1h-1zm1 -9h1v1h-1zm1 0h1v1h-1zm1 0h1v1h-1zm0 9h1v1h-1zm1 -9h1v1h-1zm0 9h1v1h-1zm1 0h1v1h-1zm1 -9h1v1h-1zm0 9h1v1h-1zm1 -9h1v1h-1zm1 0h1v1h-1zm0 9h1v1h-1zm1 -10h1v1h-1zm0 1h1v1h-1zm1 -1h1v1h-1zm0 1h1v1h-1zm1 0h1v1h-1zm1 0h1v1h-1zm1 0h1v1h-1zm1 0h1v1h-1zm1 0h1v1h-1zm1 0h1v1h-1zm1 0h1v1h-1zm0 10h1v1h-1zm1 -10h1v1h-1zm1 0h1v1h-1zm0 10h1v1h-1zm2 0h1v1h-1zm1 0h1v1h-1zm1 -11h1v1h-1zm0 11h1v1h-1zm1 0h1v1h-1zm1 0h1v1h-1zm1 -11h1v1h-1zm1 0h1v1h-1zm3 12h1v1h-1zm2 -13h1v1h-1zm0 13h1v1h-1zm4 -13h1v1h-1zm1 0h1v1h-1zm4 13h1v1h-1zm3 -14h1v1h-1zm1 0h1v1h-1zm1 0h1v1h-1z"/>
<path fill="#f0a010" d="M249 417h1v1h-1zm3 0h1v1h-1zm0 1h1v1h-1zm7 -1h1v1h-1zm2 0h1v1h-1zm1 -9h1v1h-1zm1 9h1v1h-1zm4 0h1v1h-1zm1 -10h1v1h-1zm1 10h1v1h-1zm1 -9h1v1h-1zm1 0h1v1h-1zm1 -1h1v1h-1zm10 1h1v1h-1zm1 -1h1v1h-1zm0 11h1v1h-1zm18 -11h1v1h-1zm4 0h1v1h-1zm5 12h1v1h-1zm2 -13h1v1h-1zm2 13h1v1h-1zm7 0h1v1h-1zm4 -14h1v1h-1zm1 0h1v1h-1zm4 0h1v1h-1z"/>
<path fill="#ffd010" d="M254 418h1v1h-1zm2 0h1v1h-1zm3 1h1v1h-1zm5 -1h1v1h-1zm9 -1h1v1h-1zm0 2h1v1h-1zm8 -13h1v1h-1zm0 13h1v1h-1zm10 -13h1v1h-1zm6 13h1v1h-1zm9 0h1v1h-1zm12 1h1v1h-1z"/>
<path fill="#f06010" d="M248 409h1v1h-1zm2 6h1v1h-1zm1 0h1v1h-1zm2 -6h1v1h-1zm1 0h1v1h-1zm1 0h1v1h-1zm3 0h1v1h-1zm2 0h1v1h-1zm1 0h1v1h-1zm1 6h1v1h-1zm2 -6h1v1h-1zm0 6h1v1h-1zm3 -6h1v1h-1zm3 0h1v1h-1zm4 6h1v1h-1zm1 0h1v1h-1zm2 -6h1v1h-1zm1 0h1v1h-1zm0 7h1v1h-1zm0 1h1v1h-1zm1 -1h1v1h-1zm1 -7h1v1h-1zm0 7h1v1h-1zm3 -7h1v1h-1zm3 0h1v1h-1zm3 0h1v1h-1zm1 0h1v1h-1zm0 8h1v1h-1zm1 0h1v1h-1zm1 -8h1v1h-1zm0 8h1v1h-1zm1 -8h1v1h-1zm9 -1h1v1h-1zm8 -1h1v1h-1zm1 -1h1v1h-1zm1 12h1v1h-1zm1 0h1v1h-1zm2 0h1v1h-1zm1 0h1v1h-1zm1 -12h1v1h-1zm1 0h1v1h-1zm0 12h1v1h-1zm2 0h1v1h-1zm7 0h1v1h-1zm3 -12h1v1h-1zm0 12h1v1h-1z"/>
<path fill="#f07010" d="M249 409h1v1h-1zm0 7h1v1h-1zm1 -7h1v1h-1zm1 0h1v1h-1zm0 7h1v1h-1zm1 -7h1v1h-1zm0 7h1v1h-1zm1 0h1v1h-1zm1 0h1v1h-1zm1 0h1v1h-1zm1 -7h1v1h-1zm1 7h1v1h-1zm1 0h1v1h-1zm1 -7h1v1h-1zm2 7h1v1h-1zm1 -7h1v1h-1zm1 0h1v1h-1zm1 7h1v1h-1zm1 -7h1v1h-1zm0 7h1v1h-1zm1 0h1v1h-1zm1 0h1v1h-1zm1 -7h1v1h-1zm1 7h1v1h-1zm1 0h1v1h-1zm1 -7h1v1h-1zm1 0h1v1h-1zm1 0h1v1h-1zm1 0h1v1h-1zm0 7h1v1h-1zm1 -7h1v1h-1zm0 7h1v1h-1zm2 0h1v1h-1zm2 -7h1v1h-1zm2 0h1v1h-1zm1 0h1v1h-1zm2 0h1v1h-1zm1 0h1v1h-1zm2 0h1v1h-1zm0 8h1v1h-1zm1 -8h1v1h-1zm0 8h1v1h-1zm10 -9h1v1h-1zm2 0h1v1h-1zm1 0h1v1h-1zm4 10h1v1h-1zm1 0h1v1h-1zm1 0h1v1h-1zm1 0h1v1h-1zm1 -11h1v1h-1zm0 11h1v1h-1zm1 0h1v1h-1zm2 1h1v1h-1zm4 -13h1v1h-1zm12 12h1v1h-1zm1 0h1v1h-1z"/>
<path fill="#f03010" d="M249 410h1v1h-1zm0 4h1v1h-1zm1 -1h1v1h-1zm1 1h1v1h-1zm1 -3h1v1h-1zm2 3h1v1h-1zm3 0h1v1h-1zm1 -4h1v1h-1zm1 4h1v1h-1zm2 -3h1v1h-1zm0 3h1v1h-1zm1 0h1v1h-1zm1 0h1v1h-1zm1 -4h1v1h-1zm0 1h1v1h-1zm1 -1h1v1h-1zm0 4h1v1h-1zm1 -4h1v1h-1zm2 1h1v1h-1zm1 0h1v1h-1zm0 3h1v1h-1zm1 0h1v1h-1zm1 -4h1v1h-1zm0 4h1v1h-1zm3 -4h1v1h-1zm1 0h1v1h-1zm1 0h1v1h-1zm3 0h1v1h-1zm1 0h1v1h-1zm0 1h1v1h-1zm3 -1h1v1h-1zm2 0h1v1h-1zm0 6h1v1h-1zm3 -6h1v1h-1zm2 0h1v1h-1zm10 7h1v1h-1zm4 -9h1v1h-1zm1 0h1v1h-1zm14 -2h1v1h-1z"/>
<path fill="#e02000" d="M251 412h1v1h-1zm0 1h1v1h-1zm2 1h1v1h-1zm2 -3h1v1h-1zm0 2h1v1h-1zm2 -2h1v1h-1zm1 2h1v1h-1zm1 -2h1v1h-1zm1 2h1v1h-1zm0 1h1v1h-1zm6 -3h1v1h-1zm1 3h1v1h-1zm3 -3h1v1h-1zm0 1h1v1h-1zm2 -1h1v1h-1zm1 0h1v1h-1zm1 0h1v1h-1zm3 2h1v1h-1zm1 -2h1v1h-1zm0 1h1v1h-1zm1 0h1v1h-1zm2 3h1v1h-1zm5 -4h1v1h-1zm0 5h1v1h-1zm11 -7h1v1h-1zm4 8h1v1h-1zm3 0h1v1h-1zm9 -10h1v1h-1zm7 -1h1v1h-1zm2 0h1v1h-1z"/>
<path fill="#f02010" d="M248 411h1v1h-1zm0 1h1v1h-1zm1 -1h1v1h-1zm1 3h1v1h-1zm1 -3h1v1h-1zm1 3h1v1h-1zm1 -3h1v1h-1zm2 3h1v1h-1zm1 0h1v1h-1zm2 -3h1v1h-1zm0 3h1v1h-1zm4 -3h1v1h-1zm1 1h1v1h-1zm1 2h1v1h-1zm1 -3h1v1h-1zm3 3h1v1h-1zm2 -1h1v1h-1zm1 -2h1v1h-1zm1 3h1v1h-1zm1 0h1v1h-1zm1 0h1v1h-1zm1 -3h1v1h-1zm0 2h1v1h-1zm0 1h1v1h-1zm1 -3h1v1h-1zm0 2h1v1h-1zm0 1h1v1h-1zm1 -3h1v1h-1zm2 0h1v1h-1zm0 3h1v1h-1zm2 -3h1v1h-1zm3 0h1v1h-1zm2 -1h1v1h-1zm1 6h1v1h-1zm2 -6h1v1h-1zm9 -1h1v1h-1zm1 0h1v1h-1zm0 8h1v1h-1zm7 -9h1v1h-1zm15 -2h1v1h-1zm2 0h1v1h-1zm1 0h1v1h-1zm1 0h1v1h-1zm1 0h1v1h-1z"/>
<path fill="#f04010" d="M248 414h1v1h-1zm2 -4h1v1h-1zm2 0h1v1h-1zm1 0h1v1h-1zm1 0h1v1h-1zm0 5h1v1h-1zm1 -5h1v1h-1zm5 0h1v1h-1zm1 0h1v1h-1zm0 5h1v1h-1zm1 -5h1v1h-1zm1 0h1v1h-1zm0 5h1v1h-1zm2 0h1v1h-1zm1 0h1v1h-1zm1 -5h1v1h-1zm2 0h1v1h-1zm1 0h1v1h-1zm3 0h1v1h-1zm0 5h1v1h-1zm4 -5h1v1h-1zm0 4h1v1h-1zm0 1h1v1h-1zm1 -5h1v1h-1zm0 5h1v1h-1zm1 0h1v1h-1zm2 -5h1v1h-1zm1 0h1v1h-1zm2 0h1v1h-1zm0 6h1v1h-1zm3 -6h1v1h-1zm7 7h1v1h-1zm1 0h1v1h-1zm1 0h1v1h-1zm2 0h1v1h-1zm14 -10h1v1h-1zm5 11h1v1h-1zm2 0h1v1h-1zm2 0h1v1h-1zm3 0h1v1h-1zm3 -12h1v1h-1zm2 0h1v1h-1z"/>
<path fill="#ffa020" d="M250 418h1v1h-1zm3 -1h1v1h-1zm3 0h1v1h-1zm1 0h1v1h-1zm17 -10h1v1h-1zm21 12h1v1h-1zm4 -12h1v1h-1zm4 12h1v1h-1zm24 0h1v1h-1z"/>
<path fill="#ffb020" d="M278 407h1v1h-1zm17 0h1v1h-1z"/>
<path fill="#e01010" d="M248 413h1v1h-1zm1 -1h1v1h-1zm0 1h1v1h-1zm3 -1h1v1h-1zm0 1h1v1h-1zm1 -1h1v1h-1zm1 -1h1v1h-1zm0 1h1v1h-1zm1 0h1v1h-1zm1 0h1v1h-1zm0 1h1v1h-1zm1 -1h1v1h-1zm0 1h1v1h-1zm1 -1h1v1h-1zm1 0h1v1h-1zm0 1h1v1h-1zm1 -1h1v1h-1zm1 0h1v1h-1zm0 1h1v1h-1zm1 -1h1v1h-1zm1 -1h1v1h-1zm0 2h1v1h-1zm1 0h1v1h-1zm1 -1h1v1h-1zm0 1h1v1h-1zm1 -1h1v1h-1zm1 0h1v1h-1zm1 0h1v1h-1zm1 0h1v1h-1zm0 1h1v1h-1zm2 -1h1v1h-1zm0 1h1v1h-1zm1 -1h1v1h-1zm0 1h1v1h-1zm1 -1h1v1h-1zm0 1h1v1h-1zm1 -1h1v1h-1zm0 1h1v1h-1zm1 -1h1v1h-1zm2 0h1v1h-1zm1 2h1v1h-1zm2 -2h1v1h-1zm0 1h1v1h-1zm1 -1h1v1h-1zm0 1h1v1h-1zm0 1h1v1h-1zm1 -3h1v1h-1zm0 1h1v1h-1zm0 1h1v1h-1zm0 1h1v1h-1zm1 -2h1v1h-1zm0 1h1v1h-1zm0 1h1v1h-1zm0 1h1v1h-1zm1 -1h1v1h-1zm0 1h1v1h-1zm1 -4h1v1h-1zm0 1h1v1h-1zm1 3h1v1h-1zm1 -4h1v1h-1zm1 0h1v1h-1zm0 4h1v1h-1zm0 1h1v1h-1zm1 -5h1v1h-1zm0 5h1v1h-1zm1 -5h1v1h-1zm0 5h1v1h-1zm1 0h1v1h-1zm1 -6h1v1h-1zm0 1h1v1h-1zm0 5h1v1h-1zm1 -6h1v1h-1zm0 6h1v1h-1zm1 -6h1v1h-1zm0 6h1v1h-1zm1 -6h1v1h-1zm1 0h1v1h-1zm1 0h1v1h-1zm3 -1h1v1h-1zm1 0h1v1h-1zm1 0h1v1h-1zm0 8h1v1h-1zm3 0h1v1h-1zm1 0h1v1h-1zm1 -9h1v1h-1zm0 9h1v1h-1zm1 -9h1v1h-1zm0 9h1v1h-1zm1 0h1v1h-1zm1 -9h1v1h-1zm0 9h1v1h-1zm1 0h1v1h-1zm1 0h1v1h-1zm2 -10h1v1h-1zm0 10h1v1h-1zm1 -10h1v1h-1zm0 10h1v1h-1zm1 -10h1v1h-1zm1 0h1v1h-1zm1 10h1v1h-1zm8 0h1v1h-1zm1 0h1v1h-1zm1 0h1v1h-1zm1 0h1v1h-1zm1 -10h1v1h-1zm0 10h1v1h-1z"/>
<path fill="#d00010" d="M284 413h1v1h-1zm1 0h1v1h-1zm1 0h1v1h-1zm5 -2h1v1h-1zm7 -1h1v1h-1zm1 0h1v1h-1zm4 -1h1v1h-1zm1 0h1v1h-1zm1 0h1v1h-1zm8 8h1v1h-1zm4 0h1v1h-1zm4 0h1v1h-1zm4 0h1v1h-1zm4 -10h1v1h-1z"/>
<path fill="#e00010" d="M285 415h1v1h-1zm1 -3h1v1h-1zm1 0h1v1h-1zm22 -4h1v1h-1z"/>
<path fill="#e01000" d="M250 411h1v1h-1zm0 1h1v1h-1zm3 1h1v1h-1zm1 0h1v1h-1zm2 -2h1v1h-1zm4 0h1v1h-1zm2 2h1v1h-1zm2 -1h1v1h-1zm2 1h1v1h-1zm0 1h1v1h-1zm1 -3h1v1h-1zm0 2h1v1h-1zm1 0h1v1h-1zm8 -1h1v1h-1zm2 1h1v1h-1zm1 0h1v1h-1zm1 1h1v1h-1zm0 1h1v1h-1zm2 0h1v1h-1zm1 -4h1v1h-1zm1 1h1v1h-1zm7 -2h1v1h-1zm12 7h1v1h-1z"/>
<line x1="246.5" y1="411.10" x2="334" y2="411.10" stroke="#909090" stroke-width="0.9" stroke-opacity="0.75"/>
<line x1="246.5" y1="422.50" x2="334" y2="422.50" stroke="#909090" stroke-width="0.9" stroke-opacity="0.75"/>
<line x1="246.5" y1="416.80" x2="334" y2="416.80" stroke="#606060" stroke-width="1.2" stroke-opacity="0.75"/>
<path fill="#d00010" d="M285 414h1v1h-1zm1 0h1v1h-1zm1 0h1v1h-1zm0 1h1v1h-1zm1 -3h1v1h-1zm1 0h1v1h-1zm0 3h1v1h-1zm1 -3h1v1h-1zm3 -1h1v1h-1zm1 0h1v1h-1zm1 5h1v1h-1zm1 0h1v1h-1zm1 0h1v1h-1zm1 0h1v1h-1zm2 0h1v1h-1zm1 0h1v1h-1zm10 -8h1v1h-1zm1 0h1v1h-1zm4 9h1v1h-1zm2 -10h1v1h-1zm1 0h1v1h-1zm0 10h1v1h-1zm1 0h1v1h-1zm2 0h1v1h-1zm1 0h1v1h-1zm1 0h1v1h-1zm2 -10h1v1h-1zm1 0h1v1h-1zm1 0h1v1h-1z"/>
<path fill="#900040" d="M289 413h1v1h-1zm5 2h1v1h-1zm4 -4h1v1h-1zm3 -1h1v1h-1zm6 -1h1v1h-1zm13 -2h1v1h-1zm2 0h1v1h-1z"/>
<path fill="#900030" d="M321 407h1v1h-1z"/>
<path fill="#800050" d="M292 413h1v1h-1zm3 2h1v1h-1zm1 0h1v1h-1zm12 -6h1v1h-1zm15 -2h1v1h-1z"/>
<path fill="#600070" d="M324 407h1v1h-1zm3 9h1v1h-1z"/>
<path fill="#c00020" d="M287 413h1v1h-1zm1 0h1v1h-1zm0 1h1v1h-1zm4 1h1v1h-1zm14 -6h1v1h-1zm19 -2h1v1h-1z"/>
<path fill="#b00030" d="M290 415h1v1h-1zm23 -7h1v1h-1z"/>
<path fill="#800040" d="M314 408h1v1h-1z"/>
<path fill="#3010d0" d="M295 412h1v1h-1zm9 -2h1v1h-1zm7 6h1v1h-1zm4 -8h1v1h-1zm6 8h1v1h-1z"/>
<path fill="#4000b0" d="M314 416h1v1h-1zm2 -8h1v1h-1z"/>
<path fill="#2010d0" d="M299 411h1v1h-1zm13 5h1v1h-1zm4 0h1v1h-1zm1 -8h1v1h-1zm7 8h1v1h-1zm5 -8h1v1h-1z"/>
<path fill="#2010e0" d="M294 413h1v1h-1zm0 1h1v1h-1zm1 0h1v1h-1zm1 -2h1v1h-1zm0 2h1v1h-1zm1 1h1v1h-1zm2 0h1v1h-1zm1 -4h1v1h-1zm0 4h1v1h-1zm2 0h1v1h-1zm4 -5h1v1h-1zm5 -1h1v1h-1zm6 7h1v1h-1zm1 -8h1v1h-1zm0 8h1v1h-1zm2 0h1v1h-1z"/>
<path fill="#1010f0" d="M293 413h1v1h-1zm2 0h1v1h-1zm1 0h1v1h-1zm1 -1h1v1h-1zm0 2h1v1h-1zm1 -2h1v1h-1zm3 -1h1v1h-1zm1 0h1v1h-1zm5 -1h1v1h-1zm1 0h1v1h-1zm4 -1h1v1h-1zm1 0h1v1h-1zm6 -1h1v1h-1zm0 8h1v1h-1zm3 0h1v1h-1zm1 0h1v1h-1zm3 -8h1v1h-1zm1 0h1v1h-1zm1 0h1v1h-1z"/>
<path fill="#1020f0" d="M297 413h1v1h-1zm1 0h1v1h-1zm0 1h1v1h-1zm1 -2h1v1h-1zm0 1h1v1h-1zm0 1h1v1h-1zm1 -2h1v1h-1zm0 2h1v1h-1zm1 -2h1v1h-1zm0 2h1v1h-1zm1 0h1v1h-1zm1 -3h1v1h-1zm0 4h1v1h-1zm1 -4h1v1h-1zm0 4h1v1h-1zm1 -4h1v1h-1zm0 4h1v1h-1zm1 0h1v1h-1zm1 0h1v1h-1zm1 0h1v1h-1zm1 -5h1v1h-1zm0 5h1v1h-1zm1 -5h1v1h-1zm0 5h1v1h-1zm1 0h1v1h-1zm1 0h1v1h-1zm1 0h1v1h-1zm1 -6h1v1h-1zm1 0h1v1h-1zm5 -1h1v1h-1zm1 0h1v1h-1zm1 0h1v1h-1zm1 0h1v1h-1zm1 0h1v1h-1zm1 0h1v1h-1zm2 7h1v1h-1zm1 0h1v1h-1zm1 0h1v1h-1zm1 -6h1v1h-1zm0 6h1v1h-1z"/>
<path fill="#3000c0" d="M293 414h1v1h-1zm5 1h1v1h-1zm10 1h1v1h-1zm2 -7h1v1h-1zm0 7h1v1h-1zm18 0h1v1h-1zm2 -8h1v1h-1z"/>
<path fill="#600080" d="M293 412h1v1h-1zm1 0h1v1h-1zm15 -3h1v1h-1zm4 7h1v1h-1z"/>
<path fill="#1030f0" d="M300 413h1v1h-1zm1 0h1v1h-1zm1 -1h1v1h-1zm0 1h1v1h-1zm1 -1h1v1h-1zm0 1h1v1h-1zm0 1h1v1h-1zm1 -2h1v1h-1zm1 1h1v1h-1zm0 1h1v1h-1zm1 -3h1v1h-1zm0 3h1v1h-1zm1 -3h1v1h-1zm1 0h1v1h-1zm3 -1h1v1h-1zm3 5h1v1h-1zm1 0h1v1h-1zm1 -6h1v1h-1zm0 6h1v1h-1zm1 0h1v1h-1zm1 -6h1v1h-1zm0 6h1v1h-1zm1 0h1v1h-1zm2 0h1v1h-1zm1 0h1v1h-1zm1 0h1v1h-1zm1 0h1v1h-1zm1 0h1v1h-1zm1 0h1v1h-1zm1 -6h1v1h-1zm2 0h1v1h-1z"/>
<path fill="#1040f0" d="M304 413h1v1h-1zm0 1h1v1h-1zm1 -2h1v1h-1zm1 0h1v1h-1zm1 0h1v1h-1zm0 2h1v1h-1zm1 0h1v1h-1zm1 -3h1v1h-1zm1 3h1v1h-1zm2 -4h1v1h-1zm1 0h1v1h-1zm1 0h1v1h-1zm3 -1h1v1h-1zm3 6h1v1h-1zm8 -6h1v1h-1zm1 5h1v1h-1zm1 0h1v1h-1z"/>
<path fill="#2050f0" d="M306 413h1v1h-1zm1 0h1v1h-1zm4 -2h1v1h-1zm0 3h1v1h-1zm1 0h1v1h-1zm1 -3h1v1h-1zm0 3h1v1h-1zm1 0h1v1h-1zm1 -4h1v1h-1zm4 -1h1v1h-1zm3 0h1v1h-1zm2 0h1v1h-1zm1 0h1v1h-1zm3 1h1v1h-1zm0 4h1v1h-1z"/>
<path fill="#2060f0" d="M308 412h1v1h-1zm2 0h1v1h-1zm2 -1h1v1h-1zm8 -2h1v1h-1zm1 0h1v1h-1zm2 0h1v1h-1zm2 5h1v1h-1zm2 0h1v1h-1zm2 -4h1v1h-1z"/>
<path fill="#2040f0" d="M308 413h1v1h-1zm1 0h1v1h-1zm0 1h1v1h-1zm1 -3h1v1h-1zm16 -2h1v1h-1zm4 1h1v1h-1z"/>
<path fill="#b00020" d="M291 415h1v1h-1zm8 1h1v1h-1zm1 -6h1v1h-1zm4 6h1v1h-1z"/>
<path fill="#a00030" d="M289 414h1v1h-1zm1 -1h1v1h-1zm1 -1h1v1h-1zm1 0h1v1h-1zm1 3h1v1h-1zm2 -4h1v1h-1zm1 0h1v1h-1zm1 0h1v1h-1zm5 -1h1v1h-1zm0 6h1v1h-1zm1 0h1v1h-1zm2 0h1v1h-1z"/>
<path fill="#4000a0" d="M303 410h1v1h-1zm6 6h1v1h-1z"/>
<path fill="#3010c0" d="M305 410h1v1h-1zm20 6h1v1h-1zm1 0h1v1h-1z"/>
<path fill="#3070f0" d="M309 412h1v1h-1zm7 -2h1v1h-1zm0 4h1v1h-1zm1 -4h1v1h-1zm7 4h1v1h-1zm6 -3h1v1h-1z"/>
<path fill="#3080f0" d="M310 413h1v1h-1zm1 -1h1v1h-1zm1 0h1v1h-1zm2 -1h1v1h-1zm1 3h1v1h-1zm2 0h1v1h-1zm1 -4h1v1h-1zm0 4h1v1h-1zm1 -4h1v1h-1zm3 4h1v1h-1zm2 -4h1v1h-1zm2 0h1v1h-1zm0 4h1v1h-1zm3 -3h1v1h-1zm0 2h1v1h-1zm1 -1h1v1h-1z"/>
<path fill="#40a0ff" d="M313 413h1v1h-1zm2 0h1v1h-1zm1 -2h1v1h-1zm0 2h1v1h-1zm4 -3h1v1h-1zm0 4h1v1h-1zm2 -4h1v1h-1zm3 0h1v1h-1zm2 1h1v1h-1z"/>
<path fill="#80e0ff" d="M316 412h1v1h-1zm5 -2h1v1h-1zm5 2h1v1h-1z"/>
<path fill="#80f0ff" d="M315 412h1v1h-1zm2 0h1v1h-1zm0 1h1v1h-1zm1 -2h1v1h-1zm0 1h1v1h-1zm0 1h1v1h-1zm1 -1h1v1h-1zm0 1h1v1h-1zm1 -2h1v1h-1zm0 1h1v1h-1zm0 1h1v1h-1zm1 -2h1v1h-1zm0 1h1v1h-1zm0 1h1v1h-1zm1 -2h1v1h-1zm0 1h1v1h-1zm1 -2h1v1h-1zm0 1h1v1h-1zm0 1h1v1h-1zm0 1h1v1h-1zm1 -2h1v1h-1zm0 1h1v1h-1zm1 0h1v1h-1zm1 -1h1v1h-1zm0 2h1v1h-1z"/>
<path fill="#3090f0" d="M312 413h1v1h-1zm2 0h1v1h-1zm13 -3h1v1h-1zm0 3h1v1h-1zm1 0h1v1h-1z"/>
<path fill="#50b0ff" d="M314 412h1v1h-1zm1 -1h1v1h-1z"/>
<path fill="#70d0ff" d="M313 412h1v1h-1zm4 -1h1v1h-1zm7 2h1v1h-1zm4 -1h1v1h-1z"/>
<path fill="#70e0ff" d="M319 411h1v1h-1zm3 2h1v1h-1zm3 0h1v1h-1z"/>
<path fill="#60c0ff" d="M323 414h1v1h-1zm2 -3h1v1h-1z"/>
<path fill="#3090ff" d="M328 411h1v1h-1z"/>
<path fill="#60d0ff" d="M327 412h1v1h-1z"/>
<path fill="#4090ff" d="M329 412h1v1h-1z"/>
<path fill="#5000a0" d="M291 413h1v1h-1z"/>
<path fill="#2070f0" d="M311 413h1v1h-1zm8 1h1v1h-1zm2 0h1v1h-1zm9 -1h1v1h-1z"/>
<path fill="#700060" d="M290 414h1v1h-1zm2 0h1v1h-1zm38 2h1v1h-1z"/>
<path fill="#500090" d="M291 414h1v1h-1zm15 2h1v1h-1zm1 0h1v1h-1zm22 0h1v1h-1z"/>
<path fill="#1010e0" d="M301 415h1v1h-1zm14 1h1v1h-1z"/>
<text x="253.00" y="469.40" font-size="6.4" text-anchor="start" fill="#222" stroke="#222" stroke-width="0.12" font-weight="normal" >G1ER</text>
<path fill="#c4c4c4" d="M352 407h1v1h-1zm1 6h1v1h-1zm1 -3h1v1h-1zm0 7h1v1h-1zm1 -9h1v1h-1zm0 2h1v1h-1zm0 3h1v1h-1zm0 1h1v1h-1zm0 3h1v1h-1zm0 1h1v1h-1zm1 -18h1v1h-1zm0 4h1v1h-1zm0 9h1v1h-1zm0 1h1v1h-1zm1 0h1v1h-1zm1 1h1v1h-1zm1 -6h1v1h-1zm0 4h1v1h-1zm0 2h1v1h-1zm0 2h1v1h-1zm1 -8h1v1h-1zm0 1h1v1h-1zm0 1h1v1h-1zm0 1h1v1h-1zm1 -4h1v1h-1zm0 2h1v1h-1zm0 1h1v1h-1zm0 3h1v1h-1zm0 4h1v1h-1zm1 -11h1v1h-1zm0 4h1v1h-1zm0 2h1v1h-1zm0 1h1v1h-1zm0 2h1v1h-1zm1 -12h1v1h-1zm0 4h1v1h-1zm0 2h1v1h-1zm0 3h1v1h-1zm0 2h1v1h-1zm0 2h1v1h-1zm0 1h1v1h-1zm0 3h1v1h-1zm1 -11h1v1h-1zm0 1h1v1h-1zm0 4h1v1h-1zm0 1h1v1h-1zm0 4h1v1h-1zm1 -15h1v1h-1zm0 4h1v1h-1zm0 1h1v1h-1zm0 1h1v1h-1zm0 1h1v1h-1zm0 1h1v1h-1zm0 1h1v1h-1zm1 -5h1v1h-1zm0 2h1v1h-1zm0 1h1v1h-1zm0 1h1v1h-1zm0 1h1v1h-1zm0 3h1v1h-1zm1 -11h1v1h-1zm0 2h1v1h-1zm0 1h1v1h-1zm0 2h1v1h-1zm0 1h1v1h-1zm0 3h1v1h-1zm0 3h1v1h-1zm1 -14h1v1h-1zm0 2h1v1h-1zm0 3h1v1h-1zm0 1h1v1h-1zm0 2h1v1h-1zm0 4h1v1h-1zm0 1h1v1h-1zm0 2h1v1h-1zm1 -15h1v1h-1zm0 2h1v1h-1zm0 2h1v1h-1zm0 2h1v1h-1zm0 1h1v1h-1zm0 2h1v1h-1zm0 1h1v1h-1zm0 1h1v1h-1zm0 1h1v1h-1zm0 1h1v1h-1zm1 -9h1v1h-1zm0 1h1v1h-1zm0 1h1v1h-1zm0 2h1v1h-1zm0 1h1v1h-1zm0 1h1v1h-1zm0 1h1v1h-1zm0 1h1v1h-1zm1 -16h1v1h-1zm0 3h1v1h-1zm0 1h1v1h-1zm0 3h1v1h-1zm0 1h1v1h-1zm0 2h1v1h-1zm0 1h1v1h-1zm0 1h1v1h-1zm0 1h1v1h-1zm0 1h1v1h-1zm0 2h1v1h-1zm1 -7h1v1h-1zm0 2h1v1h-1zm0 2h1v1h-1zm0 1h1v1h-1zm0 2h1v1h-1zm0 1h1v1h-1zm1 -11h1v1h-1zm0 2h1v1h-1zm0 1h1v1h-1zm0 3h1v1h-1zm0 2h1v1h-1zm0 1h1v1h-1zm0 2h1v1h-1zm1 -8h1v1h-1zm0 1h1v1h-1zm0 2h1v1h-1zm0 3h1v1h-1zm0 1h1v1h-1zm0 5h1v1h-1zm0 7h1v1h-1zm1 -23h1v1h-1zm0 1h1v1h-1zm0 4h1v1h-1zm0 1h1v1h-1zm0 3h1v1h-1zm0 1h1v1h-1zm0 1h1v1h-1zm0 1h1v1h-1zm1 -7h1v1h-1zm0 1h1v1h-1zm0 1h1v1h-1zm0 1h1v1h-1zm0 1h1v1h-1zm0 2h1v1h-1zm0 1h1v1h-1zm1 -10h1v1h-1zm0 2h1v1h-1zm0 1h1v1h-1zm0 4h1v1h-1zm0 1h1v1h-1zm1 -8h1v1h-1zm0 3h1v1h-1zm0 3h1v1h-1zm0 1h1v1h-1zm0 1h1v1h-1zm0 1h1v1h-1zm0 1h1v1h-1zm0 5h1v1h-1zm0 8h1v1h-1zm1 -29h1v1h-1zm0 6h1v1h-1zm0 3h1v1h-1zm0 1h1v1h-1zm0 3h1v1h-1zm0 1h1v1h-1zm0 1h1v1h-1zm0 3h1v1h-1zm1 -14h1v1h-1zm0 2h1v1h-1zm0 3h1v1h-1zm0 3h1v1h-1zm0 1h1v1h-1zm0 11h1v1h-1zm1 -16h1v1h-1zm0 1h1v1h-1zm0 1h1v1h-1zm0 2h1v1h-1zm0 1h1v1h-1zm0 2h1v1h-1zm0 1h1v1h-1zm1 -11h1v1h-1zm0 1h1v1h-1zm0 1h1v1h-1zm0 1h1v1h-1zm0 1h1v1h-1zm0 1h1v1h-1zm0 2h1v1h-1zm0 2h1v1h-1zm0 5h1v1h-1zm1 -14h1v1h-1zm0 2h1v1h-1zm0 2h1v1h-1zm0 1h1v1h-1zm0 1h1v1h-1zm0 2h1v1h-1zm0 3h1v1h-1zm1 -10h1v1h-1zm0 3h1v1h-1zm0 1h1v1h-1zm0 1h1v1h-1zm0 3h1v1h-1zm0 1h1v1h-1zm1 -5h1v1h-1zm0 1h1v1h-1zm0 1h1v1h-1zm0 2h1v1h-1zm0 1h1v1h-1zm0 1h1v1h-1zm0 1h1v1h-1zm0 2h1v1h-1zm1 -16h1v1h-1zm0 2h1v1h-1zm0 3h1v1h-1zm0 2h1v1h-1zm0 1h1v1h-1zm0 1h1v1h-1zm0 1h1v1h-1zm0 1h1v1h-1zm0 1h1v1h-1zm1 -9h1v1h-1zm0 4h1v1h-1zm0 1h1v1h-1zm0 1h1v1h-1zm0 1h1v1h-1zm0 2h1v1h-1zm1 -10h1v1h-1zm0 5h1v1h-1zm0 1h1v1h-1zm0 2h1v1h-1zm0 1h1v1h-1zm1 -5h1v1h-1zm0 1h1v1h-1zm0 2h1v1h-1zm0 1h1v1h-1zm0 1h1v1h-1zm0 1h1v1h-1zm1 -6h1v1h-1zm0 2h1v1h-1zm0 2h1v1h-1zm0 1h1v1h-1zm0 4h1v1h-1zm1 -11h1v1h-1zm0 3h1v1h-1zm0 2h1v1h-1zm0 1h1v1h-1zm0 1h1v1h-1zm1 -11h1v1h-1zm0 5h1v1h-1zm0 2h1v1h-1zm0 1h1v1h-1zm0 1h1v1h-1zm0 1h1v1h-1zm0 1h1v1h-1zm0 1h1v1h-1zm0 1h1v1h-1zm0 1h1v1h-1zm0 1h1v1h-1zm1 -9h1v1h-1zm0 1h1v1h-1zm0 1h1v1h-1zm0 1h1v1h-1zm0 2h1v1h-1zm0 1h1v1h-1zm0 2h1v1h-1zm1 -12h1v1h-1zm0 1h1v1h-1zm0 2h1v1h-1zm0 2h1v1h-1zm0 1h1v1h-1zm0 1h1v1h-1zm0 1h1v1h-1zm0 1h1v1h-1zm0 2h1v1h-1zm0 5h1v1h-1zm1 -18h1v1h-1zm0 5h1v1h-1zm0 1h1v1h-1zm0 1h1v1h-1zm0 1h1v1h-1zm0 1h1v1h-1zm0 1h1v1h-1zm0 1h1v1h-1zm0 1h1v1h-1zm0 2h1v1h-1zm1 -10h1v1h-1zm0 3h1v1h-1zm0 2h1v1h-1zm0 1h1v1h-1zm0 2h1v1h-1zm1 -9h1v1h-1zm0 2h1v1h-1zm0 1h1v1h-1zm0 1h1v1h-1zm0 1h1v1h-1zm0 1h1v1h-1zm0 1h1v1h-1zm0 5h1v1h-1zm1 -13h1v1h-1zm0 1h1v1h-1zm0 1h1v1h-1zm0 1h1v1h-1zm0 2h1v1h-1zm0 3h1v1h-1zm0 1h1v1h-1zm0 1h1v1h-1zm0 1h1v1h-1zm1 -11h1v1h-1zm0 1h1v1h-1zm0 2h1v1h-1zm0 1h1v1h-1zm0 1h1v1h-1zm0 1h1v1h-1zm0 1h1v1h-1zm0 1h1v1h-1zm0 2h1v1h-1zm0 1h1v1h-1zm0 1h1v1h-1zm0 2h1v1h-1zm0 2h1v1h-1zm1 -15h1v1h-1zm0 1h1v1h-1zm0 2h1v1h-1zm0 2h1v1h-1zm0 1h1v1h-1zm0 1h1v1h-1zm0 2h1v1h-1zm0 2h1v1h-1zm0 15h1v1h-1zm1 -29h1v1h-1zm0 1h1v1h-1zm0 1h1v1h-1zm0 1h1v1h-1zm0 1h1v1h-1zm0 1h1v1h-1zm0 1h1v1h-1zm0 1h1v1h-1zm0 1h1v1h-1zm0 1h1v1h-1zm0 1h1v1h-1zm0 1h1v1h-1zm0 1h1v1h-1zm0 1h1v1h-1zm1 -9h1v1h-1zm0 1h1v1h-1zm0 1h1v1h-1zm0 1h1v1h-1zm0 1h1v1h-1zm0 1h1v1h-1zm0 2h1v1h-1zm0 1h1v1h-1zm0 1h1v1h-1zm0 1h1v1h-1zm1 -17h1v1h-1zm0 1h1v1h-1zm0 4h1v1h-1zm0 2h1v1h-1zm0 1h1v1h-1zm0 1h1v1h-1zm0 3h1v1h-1zm0 1h1v1h-1zm0 1h1v1h-1zm0 1h1v1h-1zm0 19h1v1h-1zm1 -30h1v1h-1zm0 3h1v1h-1zm0 1h1v1h-1zm0 1h1v1h-1zm0 1h1v1h-1zm0 1h1v1h-1zm0 1h1v1h-1zm0 1h1v1h-1zm0 1h1v1h-1zm0 2h1v1h-1zm0 1h1v1h-1zm1 -9h1v1h-1zm0 1h1v1h-1zm0 1h1v1h-1zm0 1h1v1h-1zm0 1h1v1h-1zm0 2h1v1h-1zm0 1h1v1h-1zm0 1h1v1h-1zm0 2h1v1h-1zm0 1h1v1h-1zm0 2h1v1h-1zm1 -17h1v1h-1zm0 1h1v1h-1zm0 1h1v1h-1zm0 1h1v1h-1zm0 2h1v1h-1zm0 1h1v1h-1zm0 1h1v1h-1zm0 1h1v1h-1zm0 2h1v1h-1zm0 10h1v1h-1zm1 -22h1v1h-1zm0 1h1v1h-1zm0 6h1v1h-1zm0 1h1v1h-1zm0 1h1v1h-1zm0 1h1v1h-1zm0 1h1v1h-1zm0 2h1v1h-1zm0 1h1v1h-1zm0 8h1v1h-1zm1 -20h1v1h-1zm0 2h1v1h-1zm0 1h1v1h-1zm0 1h1v1h-1zm0 1h1v1h-1zm0 1h1v1h-1zm0 1h1v1h-1zm0 1h1v1h-1zm0 1h1v1h-1zm0 1h1v1h-1zm0 2h1v1h-1zm0 3h1v1h-1zm1 -24h1v1h-1zm0 11h1v1h-1zm0 1h1v1h-1zm0 1h1v1h-1zm0 1h1v1h-1zm0 1h1v1h-1zm0 1h1v1h-1zm0 1h1v1h-1zm0 1h1v1h-1zm0 2h1v1h-1zm1 -11h1v1h-1zm0 1h1v1h-1zm0 1h1v1h-1zm0 2h1v1h-1zm0 3h1v1h-1zm0 2h1v1h-1zm0 3h1v1h-1zm1 -9h1v1h-1zm0 1h1v1h-1zm0 1h1v1h-1zm0 2h1v1h-1zm0 1h1v1h-1zm0 1h1v1h-1zm0 1h1v1h-1zm0 1h1v1h-1zm0 1h1v1h-1zm0 1h1v1h-1zm0 11h1v1h-1zm1 -38h1v1h-1zm0 19h1v1h-1zm0 3h1v1h-1zm0 1h1v1h-1zm0 1h1v1h-1zm0 1h1v1h-1zm0 1h1v1h-1zm1 -18h1v1h-1zm0 9h1v1h-1zm0 1h1v1h-1zm0 1h1v1h-1zm0 1h1v1h-1zm0 1h1v1h-1zm0 2h1v1h-1zm0 1h1v1h-1zm0 2h1v1h-1zm0 4h1v1h-1zm1 -13h1v1h-1zm0 1h1v1h-1zm0 1h1v1h-1zm0 1h1v1h-1zm0 1h1v1h-1zm0 2h1v1h-1zm0 1h1v1h-1zm0 1h1v1h-1zm0 1h1v1h-1zm1 -22h1v1h-1zm0 6h1v1h-1zm0 7h1v1h-1zm0 1h1v1h-1zm0 1h1v1h-1zm0 1h1v1h-1zm0 1h1v1h-1zm0 2h1v1h-1zm0 2h1v1h-1zm0 2h1v1h-1zm1 -28h1v1h-1zm0 12h1v1h-1zm0 7h1v1h-1zm0 1h1v1h-1zm0 1h1v1h-1zm0 1h1v1h-1zm0 1h1v1h-1zm0 1h1v1h-1zm0 1h1v1h-1zm0 1h1v1h-1zm0 2h1v1h-1zm0 1h1v1h-1zm1 -12h1v1h-1zm0 1h1v1h-1zm0 1h1v1h-1zm0 1h1v1h-1zm0 1h1v1h-1zm0 1h1v1h-1zm0 1h1v1h-1zm0 3h1v1h-1zm0 1h1v1h-1zm0 5h1v1h-1zm1 -20h1v1h-1zm0 2h1v1h-1zm0 3h1v1h-1zm0 1h1v1h-1zm0 1h1v1h-1zm0 1h1v1h-1zm0 1h1v1h-1zm0 1h1v1h-1zm0 3h1v1h-1zm0 2h1v1h-1zm0 1h1v1h-1zm1 -14h1v1h-1zm0 2h1v1h-1zm0 2h1v1h-1zm0 2h1v1h-1zm0 1h1v1h-1zm0 1h1v1h-1zm0 1h1v1h-1zm0 1h1v1h-1zm0 1h1v1h-1zm0 1h1v1h-1zm0 4h1v1h-1zm1 -19h1v1h-1zm0 6h1v1h-1zm0 2h1v1h-1zm0 1h1v1h-1zm0 1h1v1h-1zm0 1h1v1h-1zm0 1h1v1h-1zm0 1h1v1h-1zm0 1h1v1h-1zm0 2h1v1h-1zm1 -11h1v1h-1zm0 2h1v1h-1zm0 1h1v1h-1zm0 1h1v1h-1zm0 1h1v1h-1zm0 1h1v1h-1zm0 6h1v1h-1zm1 -11h1v1h-1zm0 1h1v1h-1zm0 1h1v1h-1zm0 1h1v1h-1zm0 1h1v1h-1zm0 1h1v1h-1zm0 1h1v1h-1zm0 1h1v1h-1zm0 1h1v1h-1zm0 1h1v1h-1zm0 1h1v1h-1zm0 1h1v1h-1zm0 1h1v1h-1zm1 -12h1v1h-1zm0 2h1v1h-1zm0 1h1v1h-1zm0 1h1v1h-1zm0 1h1v1h-1zm0 1h1v1h-1zm0 1h1v1h-1zm0 1h1v1h-1zm0 1h1v1h-1zm0 1h1v1h-1zm0 1h1v1h-1zm0 2h1v1h-1zm1 -18h1v1h-1zm0 8h1v1h-1zm0 1h1v1h-1zm0 1h1v1h-1zm0 1h1v1h-1zm0 1h1v1h-1zm0 1h1v1h-1zm0 1h1v1h-1zm0 1h1v1h-1zm0 1h1v1h-1zm0 1h1v1h-1zm1 -11h1v1h-1zm0 1h1v1h-1zm0 1h1v1h-1zm0 1h1v1h-1zm0 1h1v1h-1zm0 1h1v1h-1zm0 1h1v1h-1zm0 1h1v1h-1zm0 1h1v1h-1zm0 1h1v1h-1zm1 -11h1v1h-1zm0 3h1v1h-1zm0 1h1v1h-1zm0 1h1v1h-1zm0 1h1v1h-1zm0 1h1v1h-1zm0 2h1v1h-1zm0 1h1v1h-1zm0 1h1v1h-1zm0 1h1v1h-1zm0 7h1v1h-1zm0 7h1v1h-1zm1 -27h1v1h-1zm0 1h1v1h-1zm0 2h1v1h-1zm0 1h1v1h-1zm0 1h1v1h-1zm0 1h1v1h-1zm0 1h1v1h-1zm0 1h1v1h-1zm0 2h1v1h-1zm0 1h1v1h-1zm0 1h1v1h-1zm0 2h1v1h-1zm0 1h1v1h-1zm0 3h1v1h-1zm1 -18h1v1h-1zm0 1h1v1h-1zm0 1h1v1h-1zm0 1h1v1h-1zm0 3h1v1h-1zm0 1h1v1h-1zm0 1h1v1h-1zm0 1h1v1h-1zm0 1h1v1h-1zm0 1h1v1h-1zm1 -10h1v1h-1zm0 2h1v1h-1zm0 1h1v1h-1zm0 1h1v1h-1zm0 1h1v1h-1zm0 1h1v1h-1zm0 1h1v1h-1zm0 1h1v1h-1zm0 1h1v1h-1zm0 1h1v1h-1zm0 2h1v1h-1zm0 4h1v1h-1zm1 -19h1v1h-1zm0 4h1v1h-1zm0 1h1v1h-1zm0 1h1v1h-1zm0 1h1v1h-1zm0 1h1v1h-1zm0 1h1v1h-1zm0 1h1v1h-1zm0 1h1v1h-1zm0 1h1v1h-1zm0 4h1v1h-1zm1 -12h1v1h-1zm0 2h1v1h-1zm0 1h1v1h-1zm0 2h1v1h-1zm0 1h1v1h-1zm0 1h1v1h-1zm0 2h1v1h-1zm0 3h1v1h-1zm0 1h1v1h-1zm0 3h1v1h-1zm0 2h1v1h-1zm1 -24h1v1h-1zm0 1h1v1h-1zm0 4h1v1h-1zm0 1h1v1h-1zm0 1h1v1h-1zm0 1h1v1h-1zm0 2h1v1h-1zm0 2h1v1h-1zm0 2h1v1h-1zm0 1h1v1h-1zm0 1h1v1h-1zm0 4h1v1h-1zm1 -26h1v1h-1zm0 10h1v1h-1zm0 1h1v1h-1zm0 2h1v1h-1zm0 1h1v1h-1zm0 1h1v1h-1zm0 1h1v1h-1zm0 1h1v1h-1zm0 1h1v1h-1zm0 2h1v1h-1zm0 1h1v1h-1zm0 2h1v1h-1zm0 3h1v1h-1zm1 -18h1v1h-1zm0 4h1v1h-1zm0 1h1v1h-1zm0 2h1v1h-1zm0 1h1v1h-1zm0 1h1v1h-1zm0 1h1v1h-1zm0 1h1v1h-1zm0 1h1v1h-1zm0 1h1v1h-1zm0 1h1v1h-1zm0 1h1v1h-1zm0 1h1v1h-1zm0 2h1v1h-1zm1 -33h1v1h-1zm0 18h1v1h-1zm0 1h1v1h-1zm0 2h1v1h-1zm0 1h1v1h-1zm0 1h1v1h-1zm0 1h1v1h-1zm0 1h1v1h-1zm0 2h1v1h-1zm0 1h1v1h-1zm0 2h1v1h-1zm0 1h1v1h-1zm0 2h1v1h-1zm1 -24h1v1h-1zm0 11h1v1h-1zm0 2h1v1h-1zm0 1h1v1h-1zm0 1h1v1h-1zm0 1h1v1h-1zm0 2h1v1h-1zm0 1h1v1h-1zm0 1h1v1h-1zm0 4h1v1h-1zm1 -20h1v1h-1zm0 2h1v1h-1zm0 1h1v1h-1zm0 2h1v1h-1zm0 1h1v1h-1zm0 1h1v1h-1zm0 1h1v1h-1zm0 2h1v1h-1zm0 1h1v1h-1zm0 2h1v1h-1zm0 1h1v1h-1zm0 1h1v1h-1zm0 1h1v1h-1zm0 5h1v1h-1zm1 -16h1v1h-1zm0 1h1v1h-1zm0 1h1v1h-1zm0 1h1v1h-1zm0 1h1v1h-1zm0 1h1v1h-1zm0 1h1v1h-1zm0 1h1v1h-1zm0 1h1v1h-1zm0 1h1v1h-1zm0 2h1v1h-1zm0 1h1v1h-1zm0 1h1v1h-1zm1 -18h1v1h-1zm0 7h1v1h-1zm0 1h1v1h-1zm0 1h1v1h-1zm0 1h1v1h-1zm0 1h1v1h-1zm0 1h1v1h-1zm0 2h1v1h-1zm0 1h1v1h-1zm0 1h1v1h-1zm0 2h1v1h-1zm1 -18h1v1h-1zm0 8h1v1h-1zm0 1h1v1h-1zm0 1h1v1h-1zm0 2h1v1h-1zm0 1h1v1h-1zm0 3h1v1h-1zm0 2h1v1h-1zm0 1h1v1h-1zm0 2h1v1h-1zm0 3h1v1h-1zm1 -19h1v1h-1zm0 1h1v1h-1zm0 1h1v1h-1zm0 1h1v1h-1zm0 1h1v1h-1zm0 1h1v1h-1zm0 1h1v1h-1zm0 1h1v1h-1zm0 1h1v1h-1zm0 1h1v1h-1zm1 -8h1v1h-1zm0 2h1v1h-1zm0 1h1v1h-1zm0 1h1v1h-1zm0 1h1v1h-1zm0 1h1v1h-1zm0 1h1v1h-1zm0 1h1v1h-1zm0 1h1v1h-1zm0 3h1v1h-1zm0 1h1v1h-1zm1 -16h1v1h-1zm0 2h1v1h-1zm0 1h1v1h-1zm0 1h1v1h-1zm0 1h1v1h-1zm0 1h1v1h-1zm0 1h1v1h-1zm0 1h1v1h-1zm0 1h1v1h-1zm0 1h1v1h-1zm0 1h1v1h-1zm0 1h1v1h-1zm0 1h1v1h-1zm1 -14h1v1h-1zm0 3h1v1h-1zm0 2h1v1h-1zm0 2h1v1h-1zm0 1h1v1h-1zm0 1h1v1h-1zm0 1h1v1h-1zm0 1h1v1h-1zm0 1h1v1h-1zm0 1h1v1h-1zm0 2h1v1h-1zm0 1h1v1h-1zm0 3h1v1h-1zm1 -14h1v1h-1zm0 2h1v1h-1zm0 1h1v1h-1zm0 1h1v1h-1zm0 2h1v1h-1zm0 2h1v1h-1zm0 1h1v1h-1zm0 1h1v1h-1zm0 5h1v1h-1zm1 -25h1v1h-1zm0 10h1v1h-1zm0 1h1v1h-1zm0 1h1v1h-1zm0 1h1v1h-1zm0 1h1v1h-1zm0 1h1v1h-1zm0 1h1v1h-1zm0 1h1v1h-1zm0 1h1v1h-1zm0 1h1v1h-1zm0 1h1v1h-1zm0 1h1v1h-1zm0 5h1v1h-1zm1 -23h1v1h-1zm0 2h1v1h-1zm0 3h1v1h-1zm0 1h1v1h-1zm0 1h1v1h-1zm0 1h1v1h-1zm0 1h1v1h-1zm0 1h1v1h-1zm0 1h1v1h-1zm0 1h1v1h-1zm0 1h1v1h-1zm0 1h1v1h-1zm0 1h1v1h-1zm0 2h1v1h-1zm0 1h1v1h-1zm0 2h1v1h-1zm0 3h1v1h-1zm1 -19h1v1h-1zm0 1h1v1h-1zm0 1h1v1h-1zm0 1h1v1h-1zm0 1h1v1h-1zm0 1h1v1h-1zm0 1h1v1h-1zm0 1h1v1h-1zm0 1h1v1h-1zm0 2h1v1h-1zm0 1h1v1h-1zm0 1h1v1h-1zm0 3h1v1h-1zm0 1h1v1h-1zm1 -21h1v1h-1zm0 5h1v1h-1zm0 3h1v1h-1zm0 1h1v1h-1zm0 1h1v1h-1zm0 1h1v1h-1zm0 1h1v1h-1zm0 1h1v1h-1zm0 1h1v1h-1zm0 1h1v1h-1zm0 1h1v1h-1zm0 1h1v1h-1zm0 1h1v1h-1zm0 1h1v1h-1zm0 3h1v1h-1zm0 2h1v1h-1zm0 6h1v1h-1zm1 -25h1v1h-1zm0 3h1v1h-1zm0 1h1v1h-1zm0 1h1v1h-1zm0 1h1v1h-1zm0 1h1v1h-1zm0 1h1v1h-1zm0 1h1v1h-1zm0 1h1v1h-1zm0 2h1v1h-1zm0 1h1v1h-1zm1 -37h1v1h-1zm0 22h1v1h-1zm0 1h1v1h-1zm0 1h1v1h-1zm0 2h1v1h-1zm0 2h1v1h-1zm0 1h1v1h-1zm0 1h1v1h-1zm0 1h1v1h-1zm0 1h1v1h-1zm0 1h1v1h-1zm0 3h1v1h-1zm0 1h1v1h-1zm0 3h1v1h-1zm1 -27h1v1h-1zm0 8h1v1h-1zm0 5h1v1h-1zm0 1h1v1h-1zm0 1h1v1h-1zm0 1h1v1h-1zm0 1h1v1h-1zm0 1h1v1h-1zm0 1h1v1h-1zm0 1h1v1h-1zm0 1h1v1h-1zm0 1h1v1h-1zm0 1h1v1h-1zm1 -21h1v1h-1zm0 6h1v1h-1zm0 4h1v1h-1zm0 1h1v1h-1zm0 3h1v1h-1zm0 1h1v1h-1zm0 1h1v1h-1zm0 1h1v1h-1zm0 1h1v1h-1zm0 1h1v1h-1zm0 2h1v1h-1zm0 6h1v1h-1zm1 -22h1v1h-1zm0 1h1v1h-1zm0 1h1v1h-1zm0 3h1v1h-1zm0 1h1v1h-1zm0 1h1v1h-1zm0 1h1v1h-1zm0 1h1v1h-1zm0 1h1v1h-1zm0 1h1v1h-1zm0 1h1v1h-1zm0 1h1v1h-1zm0 1h1v1h-1zm0 1h1v1h-1zm0 3h1v1h-1zm0 1h1v1h-1zm0 2h1v1h-1zm1 -26h1v1h-1zm0 3h1v1h-1zm0 4h1v1h-1zm0 4h1v1h-1zm0 1h1v1h-1zm0 1h1v1h-1zm0 1h1v1h-1zm0 1h1v1h-1zm0 1h1v1h-1zm0 1h1v1h-1zm0 1h1v1h-1zm0 1h1v1h-1zm0 1h1v1h-1zm0 2h1v1h-1zm0 1h1v1h-1zm1 -11h1v1h-1zm0 1h1v1h-1zm0 1h1v1h-1zm0 2h1v1h-1zm0 1h1v1h-1zm0 1h1v1h-1zm0 1h1v1h-1zm0 2h1v1h-1zm0 4h1v1h-1zm0 2h1v1h-1zm0 1h1v1h-1zm1 -22h1v1h-1zm0 7h1v1h-1zm0 2h1v1h-1zm0 2h1v1h-1zm0 1h1v1h-1zm0 1h1v1h-1zm0 2h1v1h-1zm0 2h1v1h-1zm0 1h1v1h-1zm0 1h1v1h-1zm1 -29h1v1h-1zm0 13h1v1h-1zm0 3h1v1h-1zm0 1h1v1h-1zm0 1h1v1h-1zm0 1h1v1h-1zm0 1h1v1h-1zm0 1h1v1h-1zm0 1h1v1h-1zm0 1h1v1h-1zm0 1h1v1h-1zm0 1h1v1h-1zm0 1h1v1h-1zm0 4h1v1h-1zm1 -15h1v1h-1zm0 1h1v1h-1zm0 1h1v1h-1zm0 1h1v1h-1zm0 2h1v1h-1zm0 1h1v1h-1zm0 1h1v1h-1zm0 1h1v1h-1zm0 1h1v1h-1zm0 1h1v1h-1zm0 1h1v1h-1zm0 2h1v1h-1zm0 2h1v1h-1zm0 2h1v1h-1zm1 -35h1v1h-1zm0 12h1v1h-1zm0 4h1v1h-1zm0 2h1v1h-1zm0 1h1v1h-1zm0 1h1v1h-1zm0 1h1v1h-1zm0 2h1v1h-1zm0 1h1v1h-1zm0 1h1v1h-1zm0 1h1v1h-1zm0 1h1v1h-1zm0 4h1v1h-1zm1 -17h1v1h-1zm0 2h1v1h-1zm0 3h1v1h-1zm0 1h1v1h-1zm0 1h1v1h-1zm0 2h1v1h-1zm0 1h1v1h-1zm0 1h1v1h-1zm0 1h1v1h-1zm0 1h1v1h-1zm0 1h1v1h-1zm0 1h1v1h-1zm0 3h1v1h-1zm1 -19h1v1h-1zm0 2h1v1h-1zm0 1h1v1h-1zm0 3h1v1h-1zm0 1h1v1h-1zm0 1h1v1h-1zm0 1h1v1h-1zm0 1h1v1h-1zm0 1h1v1h-1zm0 1h1v1h-1zm0 1h1v1h-1zm0 1h1v1h-1zm0 1h1v1h-1zm0 2h1v1h-1zm0 5h1v1h-1zm1 -20h1v1h-1zm0 2h1v1h-1zm0 1h1v1h-1zm0 1h1v1h-1zm0 1h1v1h-1zm0 2h1v1h-1zm0 1h1v1h-1zm0 1h1v1h-1zm0 1h1v1h-1zm0 1h1v1h-1zm0 1h1v1h-1zm0 1h1v1h-1zm0 1h1v1h-1zm0 1h1v1h-1zm0 3h1v1h-1zm0 8h1v1h-1zm1 -29h1v1h-1zm0 5h1v1h-1zm0 1h1v1h-1zm0 2h1v1h-1zm0 3h1v1h-1zm0 1h1v1h-1zm0 1h1v1h-1zm0 1h1v1h-1zm0 1h1v1h-1zm0 1h1v1h-1zm0 1h1v1h-1zm0 9h1v1h-1zm1 -27h1v1h-1zm0 4h1v1h-1zm0 3h1v1h-1zm0 1h1v1h-1zm0 2h1v1h-1zm0 1h1v1h-1zm0 1h1v1h-1zm0 1h1v1h-1zm0 1h1v1h-1zm0 1h1v1h-1zm0 1h1v1h-1zm0 2h1v1h-1zm0 1h1v1h-1zm0 2h1v1h-1zm1 -15h1v1h-1zm0 1h1v1h-1zm0 2h1v1h-1zm0 1h1v1h-1zm0 1h1v1h-1zm0 1h1v1h-1zm0 1h1v1h-1zm0 1h1v1h-1zm0 1h1v1h-1zm0 1h1v1h-1zm0 2h1v1h-1zm0 1h1v1h-1zm0 2h1v1h-1zm0 1h1v1h-1zm0 3h1v1h-1zm0 14h1v1h-1zm1 -36h1v1h-1zm0 3h1v1h-1zm0 2h1v1h-1zm0 2h1v1h-1zm0 1h1v1h-1zm0 2h1v1h-1zm0 1h1v1h-1zm0 1h1v1h-1zm0 2h1v1h-1zm0 2h1v1h-1zm0 2h1v1h-1zm1 -16h1v1h-1zm0 1h1v1h-1zm0 1h1v1h-1zm0 1h1v1h-1zm0 1h1v1h-1zm0 1h1v1h-1zm0 1h1v1h-1zm0 1h1v1h-1zm0 1h1v1h-1zm0 1h1v1h-1zm0 1h1v1h-1zm0 2h1v1h-1zm0 2h1v1h-1zm0 2h1v1h-1zm0 2h1v1h-1zm0 4h1v1h-1zm1 -22h1v1h-1zm0 4h1v1h-1zm0 1h1v1h-1zm0 1h1v1h-1zm0 1h1v1h-1zm0 1h1v1h-1zm0 1h1v1h-1zm0 2h1v1h-1zm0 1h1v1h-1zm0 1h1v1h-1zm1 -15h1v1h-1zm0 5h1v1h-1zm0 1h1v1h-1zm0 1h1v1h-1zm0 1h1v1h-1zm0 3h1v1h-1zm0 1h1v1h-1zm0 1h1v1h-1zm0 1h1v1h-1zm0 1h1v1h-1zm0 1h1v1h-1zm1 -30h1v1h-1zm0 13h1v1h-1zm0 2h1v1h-1zm0 1h1v1h-1zm0 1h1v1h-1zm0 1h1v1h-1zm0 1h1v1h-1zm0 1h1v1h-1zm0 1h1v1h-1zm0 2h1v1h-1zm0 1h1v1h-1zm0 1h1v1h-1zm0 3h1v1h-1zm0 3h1v1h-1zm0 2h1v1h-1zm1 -35h1v1h-1zm0 16h1v1h-1zm0 2h1v1h-1zm0 1h1v1h-1zm0 1h1v1h-1zm0 1h1v1h-1zm0 2h1v1h-1zm0 1h1v1h-1zm0 1h1v1h-1zm0 1h1v1h-1zm0 1h1v1h-1zm0 1h1v1h-1zm0 1h1v1h-1zm0 2h1v1h-1zm0 1h1v1h-1zm0 1h1v1h-1zm0 1h1v1h-1zm0 1h1v1h-1zm1 -36h1v1h-1zm0 6h1v1h-1zm0 9h1v1h-1zm0 5h1v1h-1zm0 1h1v1h-1zm0 2h1v1h-1zm0 1h1v1h-1zm0 1h1v1h-1zm0 1h1v1h-1zm0 1h1v1h-1zm0 1h1v1h-1zm0 2h1v1h-1zm0 1h1v1h-1zm0 1h1v1h-1zm0 1h1v1h-1zm0 1h1v1h-1zm0 3h1v1h-1zm0 5h1v1h-1zm1 -23h1v1h-1zm0 3h1v1h-1zm0 1h1v1h-1zm0 1h1v1h-1zm0 1h1v1h-1zm0 1h1v1h-1zm0 1h1v1h-1zm0 2h1v1h-1zm0 1h1v1h-1zm0 1h1v1h-1zm0 1h1v1h-1zm0 1h1v1h-1zm0 1h1v1h-1zm1 -22h1v1h-1zm0 8h1v1h-1zm0 1h1v1h-1zm0 1h1v1h-1zm0 1h1v1h-1zm0 1h1v1h-1zm0 3h1v1h-1zm0 1h1v1h-1zm0 1h1v1h-1zm0 1h1v1h-1zm0 1h1v1h-1zm0 1h1v1h-1zm0 1h1v1h-1zm0 1h1v1h-1zm0 6h1v1h-1zm0 3h1v1h-1zm0 2h1v1h-1zm1 -35h1v1h-1zm0 5h1v1h-1zm0 3h1v1h-1zm0 3h1v1h-1zm0 1h1v1h-1zm0 1h1v1h-1zm0 1h1v1h-1zm0 1h1v1h-1zm0 1h1v1h-1zm0 1h1v1h-1zm0 1h1v1h-1zm0 1h1v1h-1zm0 1h1v1h-1zm0 1h1v1h-1zm0 2h1v1h-1zm0 1h1v1h-1zm0 2h1v1h-1zm0 3h1v1h-1zm1 -24h1v1h-1zm0 2h1v1h-1zm0 1h1v1h-1zm0 1h1v1h-1zm0 1h1v1h-1zm0 1h1v1h-1zm0 1h1v1h-1zm0 2h1v1h-1zm0 1h1v1h-1zm0 1h1v1h-1zm0 1h1v1h-1zm0 1h1v1h-1zm0 1h1v1h-1zm0 1h1v1h-1zm0 2h1v1h-1zm0 2h1v1h-1zm0 2h1v1h-1zm0 10h1v1h-1zm1 -29h1v1h-1zm0 3h1v1h-1zm0 1h1v1h-1zm0 3h1v1h-1zm0 1h1v1h-1zm0 1h1v1h-1zm0 1h1v1h-1zm0 1h1v1h-1zm0 1h1v1h-1zm0 1h1v1h-1zm0 1h1v1h-1zm0 1h1v1h-1zm0 1h1v1h-1zm0 3h1v1h-1zm1 -26h1v1h-1zm0 6h1v1h-1zm0 4h1v1h-1zm0 1h1v1h-1zm0 2h1v1h-1zm0 2h1v1h-1zm0 1h1v1h-1zm0 1h1v1h-1zm0 1h1v1h-1zm0 1h1v1h-1zm0 1h1v1h-1zm0 1h1v1h-1zm0 1h1v1h-1zm0 2h1v1h-1zm0 1h1v1h-1zm1 -19h1v1h-1zm0 5h1v1h-1zm0 1h1v1h-1zm0 2h1v1h-1zm0 3h1v1h-1zm0 2h1v1h-1zm0 1h1v1h-1zm0 1h1v1h-1zm0 4h1v1h-1z"/>
<line x1="245.9" y1="492.8" x2="245.9" y2="618.4" stroke="#111" stroke-width="1.1"/>
<line x1="245.4" y1="617.8" x2="333.9" y2="617.8" stroke="#111" stroke-width="1.1"/>
<line x1="242.6" y1="612.20" x2="245.9" y2="612.20" stroke="#111" stroke-width="0.8"/>
<text x="239.80" y="614.50" font-size="6.3" text-anchor="end" fill="#222" stroke="#222" stroke-width="0.12" font-weight="normal" >-10</text>
<line x1="242.6" y1="600.80" x2="245.9" y2="600.80" stroke="#111" stroke-width="0.8"/>
<text x="239.80" y="603.10" font-size="6.3" text-anchor="end" fill="#222" stroke="#222" stroke-width="0.12" font-weight="normal" >-8</text>
<line x1="242.6" y1="589.40" x2="245.9" y2="589.40" stroke="#111" stroke-width="0.8"/>
<text x="239.80" y="591.70" font-size="6.3" text-anchor="end" fill="#222" stroke="#222" stroke-width="0.12" font-weight="normal" >-6</text>
<line x1="242.6" y1="578.00" x2="245.9" y2="578.00" stroke="#111" stroke-width="0.8"/>
<text x="239.80" y="580.30" font-size="6.3" text-anchor="end" fill="#222" stroke="#222" stroke-width="0.12" font-weight="normal" >-4</text>
<line x1="242.6" y1="566.60" x2="245.9" y2="566.60" stroke="#111" stroke-width="0.8"/>
<text x="239.80" y="568.90" font-size="6.3" text-anchor="end" fill="#222" stroke="#222" stroke-width="0.12" font-weight="normal" >-2</text>
<line x1="242.6" y1="555.20" x2="245.9" y2="555.20" stroke="#111" stroke-width="0.8"/>
<text x="239.80" y="557.50" font-size="6.3" text-anchor="end" fill="#222" stroke="#222" stroke-width="0.12" font-weight="normal" >0</text>
<line x1="242.6" y1="543.80" x2="245.9" y2="543.80" stroke="#111" stroke-width="0.8"/>
<text x="239.80" y="546.10" font-size="6.3" text-anchor="end" fill="#222" stroke="#222" stroke-width="0.12" font-weight="normal" >2</text>
<line x1="242.6" y1="532.40" x2="245.9" y2="532.40" stroke="#111" stroke-width="0.8"/>
<text x="239.80" y="534.70" font-size="6.3" text-anchor="end" fill="#222" stroke="#222" stroke-width="0.12" font-weight="normal" >4</text>
<line x1="242.6" y1="521.00" x2="245.9" y2="521.00" stroke="#111" stroke-width="0.8"/>
<text x="239.80" y="523.30" font-size="6.3" text-anchor="end" fill="#222" stroke="#222" stroke-width="0.12" font-weight="normal" >6</text>
<line x1="242.6" y1="509.60" x2="245.9" y2="509.60" stroke="#111" stroke-width="0.8"/>
<text x="239.80" y="511.90" font-size="6.3" text-anchor="end" fill="#222" stroke="#222" stroke-width="0.12" font-weight="normal" >8</text>
<line x1="242.6" y1="498.20" x2="245.9" y2="498.20" stroke="#111" stroke-width="0.8"/>
<text x="239.80" y="500.50" font-size="6.3" text-anchor="end" fill="#222" stroke="#222" stroke-width="0.12" font-weight="normal" >10</text>
<line x1="247.30" y1="617.8" x2="247.30" y2="620.6" stroke="#111" stroke-width="0.8"/>
<line x1="268.07" y1="617.8" x2="268.07" y2="620.6" stroke="#111" stroke-width="0.8"/>
<line x1="288.85" y1="617.8" x2="288.85" y2="620.6" stroke="#111" stroke-width="0.8"/>
<line x1="309.62" y1="617.8" x2="309.62" y2="620.6" stroke="#111" stroke-width="0.8"/>
<line x1="330.40" y1="617.8" x2="330.40" y2="620.6" stroke="#111" stroke-width="0.8"/>
<line x1="346.6" y1="492.8" x2="346.6" y2="618.4" stroke="#111" stroke-width="1.1"/>
<line x1="346.1" y1="617.8" x2="486.0" y2="617.8" stroke="#111" stroke-width="1.1"/>
<line x1="343.4" y1="612.20" x2="346.6" y2="612.20" stroke="#111" stroke-width="0.8"/>
<line x1="343.4" y1="600.80" x2="346.6" y2="600.80" stroke="#111" stroke-width="0.8"/>
<line x1="343.4" y1="589.40" x2="346.6" y2="589.40" stroke="#111" stroke-width="0.8"/>
<line x1="343.4" y1="578.00" x2="346.6" y2="578.00" stroke="#111" stroke-width="0.8"/>
<line x1="343.4" y1="566.60" x2="346.6" y2="566.60" stroke="#111" stroke-width="0.8"/>
<line x1="343.4" y1="555.20" x2="346.6" y2="555.20" stroke="#111" stroke-width="0.8"/>
<line x1="343.4" y1="543.80" x2="346.6" y2="543.80" stroke="#111" stroke-width="0.8"/>
<line x1="343.4" y1="532.40" x2="346.6" y2="532.40" stroke="#111" stroke-width="0.8"/>
<line x1="343.4" y1="521.00" x2="346.6" y2="521.00" stroke="#111" stroke-width="0.8"/>
<line x1="343.4" y1="509.60" x2="346.6" y2="509.60" stroke="#111" stroke-width="0.8"/>
<line x1="343.4" y1="498.20" x2="346.6" y2="498.20" stroke="#111" stroke-width="0.8"/>
<line x1="348.80" y1="617.8" x2="348.80" y2="620.6" stroke="#111" stroke-width="0.8"/>
<line x1="361.92" y1="617.8" x2="361.92" y2="620.6" stroke="#111" stroke-width="0.8"/>
<line x1="375.04" y1="617.8" x2="375.04" y2="620.6" stroke="#111" stroke-width="0.8"/>
<line x1="388.16" y1="617.8" x2="388.16" y2="620.6" stroke="#111" stroke-width="0.8"/>
<line x1="401.28" y1="617.8" x2="401.28" y2="620.6" stroke="#111" stroke-width="0.8"/>
<line x1="414.40" y1="617.8" x2="414.40" y2="620.6" stroke="#111" stroke-width="0.8"/>
<line x1="427.52" y1="617.8" x2="427.52" y2="620.6" stroke="#111" stroke-width="0.8"/>
<line x1="440.64" y1="617.8" x2="440.64" y2="620.6" stroke="#111" stroke-width="0.8"/>
<line x1="453.76" y1="617.8" x2="453.76" y2="620.6" stroke="#111" stroke-width="0.8"/>
<line x1="466.88" y1="617.8" x2="466.88" y2="620.6" stroke="#111" stroke-width="0.8"/>
<line x1="480.00" y1="617.8" x2="480.00" y2="620.6" stroke="#111" stroke-width="0.8"/>
<path fill="#b0f068" d="M248 554h1v1h-1zm2 0h1v1h-1zm3 3h1v1h-1zm1 11h1v1h-1zm1 -11h1v1h-1zm0 5h1v1h-1zm1 -3h1v1h-1zm1 -5h1v1h-1zm0 5h1v1h-1zm0 1h1v1h-1zm0 1h1v1h-1zm4 -5h1v1h-1zm2 -1h1v1h-1zm1 14h1v1h-1zm2 -13h1v1h-1zm1 -2h1v1h-1zm0 1h1v1h-1zm3 -10h1v1h-1zm3 5h1v1h-1zm0 5h1v1h-1zm0 9h1v1h-1zm0 20h1v1h-1zm2 -15h1v1h-1zm1 -21h1v1h-1zm1 0h1v1h-1zm0 11h1v1h-1zm3 -10h1v1h-1zm2 3h1v1h-1zm2 -5h1v1h-1zm0 5h1v1h-1zm0 8h1v1h-1zm1 -7h1v1h-1zm0 1h1v1h-1zm0 3h1v1h-1zm0 9h1v1h-1zm2 -30h1v1h-1zm0 6h1v1h-1zm1 10h1v1h-1zm0 5h1v1h-1zm0 5h1v1h-1zm1 -24h1v1h-1zm0 14h1v1h-1zm0 9h1v1h-1zm0 2h1v1h-1zm1 -29h1v1h-1zm0 16h1v1h-1zm0 15h1v1h-1zm0 1h1v1h-1zm1 -22h1v1h-1zm0 14h1v1h-1zm0 6h1v1h-1zm0 6h1v1h-1zm1 -24h1v1h-1zm0 6h1v1h-1zm0 5h1v1h-1zm1 -28h1v1h-1zm0 17h1v1h-1zm0 5h1v1h-1zm0 4h1v1h-1zm1 -16h1v1h-1zm0 9h1v1h-1zm0 9h1v1h-1zm0 1h1v1h-1zm1 -4h1v1h-1zm0 3h1v1h-1zm0 2h1v1h-1zm0 4h1v1h-1zm1 -20h1v1h-1zm0 3h1v1h-1zm0 6h1v1h-1zm0 4h1v1h-1zm0 3h1v1h-1zm1 -5h1v1h-1zm0 3h1v1h-1zm0 3h1v1h-1zm1 -11h1v1h-1zm0 3h1v1h-1zm1 -8h1v1h-1zm0 4h1v1h-1zm0 1h1v1h-1zm0 5h1v1h-1zm0 3h1v1h-1zm1 -9h1v1h-1zm0 7h1v1h-1zm0 1h1v1h-1zm0 2h1v1h-1zm0 4h1v1h-1zm0 4h1v1h-1zm1 -15h1v1h-1zm0 2h1v1h-1zm0 1h1v1h-1zm0 2h1v1h-1zm0 1h1v1h-1zm0 2h1v1h-1zm1 -9h1v1h-1zm0 6h1v1h-1zm0 11h1v1h-1zm0 1h1v1h-1zm1 -20h1v1h-1zm0 8h1v1h-1zm0 3h1v1h-1zm0 3h1v1h-1zm0 1h1v1h-1zm0 23h1v1h-1zm1 -48h1v1h-1zm0 12h1v1h-1zm0 2h1v1h-1zm0 2h1v1h-1zm0 1h1v1h-1zm0 7h1v1h-1zm0 4h1v1h-1zm1 -29h1v1h-1zm0 15h1v1h-1zm0 1h1v1h-1zm0 2h1v1h-1zm0 1h1v1h-1zm0 7h1v1h-1zm0 2h1v1h-1zm1 -16h1v1h-1zm0 2h1v1h-1zm0 6h1v1h-1zm0 3h1v1h-1zm0 13h1v1h-1zm1 -35h1v1h-1zm0 8h1v1h-1zm0 4h1v1h-1zm0 5h1v1h-1zm0 5h1v1h-1zm0 2h1v1h-1zm0 3h1v1h-1zm0 35h1v1h-1zm1 -60h1v1h-1zm0 6h1v1h-1zm0 5h1v1h-1zm0 1h1v1h-1zm0 1h1v1h-1zm0 2h1v1h-1zm0 2h1v1h-1zm0 1h1v1h-1zm1 -17h1v1h-1zm0 7h1v1h-1zm0 3h1v1h-1zm0 1h1v1h-1zm0 2h1v1h-1zm0 1h1v1h-1zm0 3h1v1h-1zm1 -30h1v1h-1zm0 25h1v1h-1zm0 2h1v1h-1zm0 1h1v1h-1zm0 1h1v1h-1zm0 37h1v1h-1zm1 -56h1v1h-1zm0 6h1v1h-1zm0 6h1v1h-1zm0 1h1v1h-1zm0 3h1v1h-1zm0 1h1v1h-1zm0 1h1v1h-1zm0 2h1v1h-1zm0 15h1v1h-1zm0 7h1v1h-1zm1 -40h1v1h-1zm0 7h1v1h-1zm0 5h1v1h-1zm0 10h1v1h-1zm0 1h1v1h-1zm1 -33h1v1h-1zm0 11h1v1h-1zm0 4h1v1h-1zm0 6h1v1h-1zm0 1h1v1h-1zm0 2h1v1h-1zm0 1h1v1h-1zm0 3h1v1h-1zm0 2h1v1h-1zm0 5h1v1h-1zm0 14h1v1h-1zm1 -36h1v1h-1zm0 3h1v1h-1zm0 2h1v1h-1zm0 2h1v1h-1zm0 6h1v1h-1zm0 4h1v1h-1zm0 1h1v1h-1zm0 5h1v1h-1zm0 9h1v1h-1zm1 -31h1v1h-1zm0 1h1v1h-1zm0 2h1v1h-1zm0 3h1v1h-1zm0 1h1v1h-1zm0 1h1v1h-1zm0 1h1v1h-1zm0 8h1v1h-1zm0 2h1v1h-1zm1 -17h1v1h-1zm0 6h1v1h-1zm0 2h1v1h-1zm0 3h1v1h-1zm0 2h1v1h-1zm0 2h1v1h-1zm0 8h1v1h-1zm0 8h1v1h-1zm1 -33h1v1h-1zm0 8h1v1h-1zm0 2h1v1h-1zm0 10h1v1h-1zm0 1h1v1h-1zm0 4h1v1h-1zm1 -25h1v1h-1zm0 3h1v1h-1zm0 1h1v1h-1zm0 1h1v1h-1zm0 1h1v1h-1zm0 7h1v1h-1zm0 1h1v1h-1zm0 2h1v1h-1zm0 2h1v1h-1zm0 1h1v1h-1zm0 9h1v1h-1zm0 14h1v1h-1zm1 -47h1v1h-1zm0 6h1v1h-1zm0 2h1v1h-1zm0 1h1v1h-1zm0 2h1v1h-1zm0 1h1v1h-1zm0 4h1v1h-1zm0 4h1v1h-1zm0 2h1v1h-1zm0 15h1v1h-1zm0 7h1v1h-1zm1 -48h1v1h-1zm0 12h1v1h-1zm0 4h1v1h-1zm0 1h1v1h-1zm0 4h1v1h-1zm0 1h1v1h-1zm0 1h1v1h-1zm0 2h1v1h-1zm0 1h1v1h-1zm0 5h1v1h-1zm0 5h1v1h-1zm0 3h1v1h-1zm0 1h1v1h-1zm0 3h1v1h-1zm1 -36h1v1h-1zm0 1h1v1h-1zm0 6h1v1h-1zm0 1h1v1h-1zm0 5h1v1h-1zm0 3h1v1h-1zm0 1h1v1h-1zm0 1h1v1h-1zm0 3h1v1h-1zm0 4h1v1h-1zm0 4h1v1h-1zm0 4h1v1h-1zm0 5h1v1h-1zm0 3h1v1h-1zm0 4h1v1h-1zm1 -42h1v1h-1zm0 5h1v1h-1zm0 2h1v1h-1zm0 1h1v1h-1zm0 5h1v1h-1zm0 4h1v1h-1zm0 18h1v1h-1zm0 16h1v1h-1zm1 -60h1v1h-1zm0 9h1v1h-1zm0 5h1v1h-1zm0 1h1v1h-1zm0 3h1v1h-1zm0 2h1v1h-1zm0 4h1v1h-1zm0 8h1v1h-1zm0 2h1v1h-1zm0 5h1v1h-1zm1 -33h1v1h-1zm0 1h1v1h-1zm0 10h1v1h-1zm0 3h1v1h-1zm0 1h1v1h-1zm0 1h1v1h-1zm0 3h1v1h-1zm0 4h1v1h-1zm0 5h1v1h-1zm1 -35h1v1h-1zm0 16h1v1h-1zm0 2h1v1h-1zm0 1h1v1h-1zm0 3h1v1h-1zm0 3h1v1h-1zm0 3h1v1h-1zm0 2h1v1h-1zm0 7h1v1h-1zm1 -39h1v1h-1zm0 4h1v1h-1zm0 1h1v1h-1zm0 3h1v1h-1zm0 5h1v1h-1zm0 2h1v1h-1zm0 6h1v1h-1zm0 5h1v1h-1zm0 1h1v1h-1zm0 4h1v1h-1zm0 2h1v1h-1zm0 1h1v1h-1zm0 2h1v1h-1zm1 -41h1v1h-1zm0 12h1v1h-1zm0 5h1v1h-1zm0 2h1v1h-1zm0 1h1v1h-1zm0 6h1v1h-1zm0 3h1v1h-1zm0 2h1v1h-1zm0 1h1v1h-1zm0 4h1v1h-1zm0 9h1v1h-1zm0 9h1v1h-1zm1 -39h1v1h-1zm0 3h1v1h-1zm0 3h1v1h-1zm0 5h1v1h-1zm0 6h1v1h-1zm0 1h1v1h-1zm0 9h1v1h-1zm0 3h1v1h-1zm1 -38h1v1h-1zm0 1h1v1h-1zm0 3h1v1h-1zm0 7h1v1h-1zm0 1h1v1h-1zm0 2h1v1h-1zm0 2h1v1h-1zm0 2h1v1h-1zm0 1h1v1h-1zm0 2h1v1h-1zm0 2h1v1h-1zm0 3h1v1h-1zm0 2h1v1h-1zm0 1h1v1h-1zm0 36h1v1h-1zm1 -66h1v1h-1zm0 13h1v1h-1zm0 7h1v1h-1zm0 7h1v1h-1zm0 2h1v1h-1zm0 9h1v1h-1z"/>
<path fill="#d0f040" d="M299 558h1v1h-1zm2 -3h1v1h-1zm1 4h1v1h-1zm7 3h1v1h-1zm21 -15h1v1h-1z"/>
<path fill="#f0f020" d="M304 559h1v1h-1zm5 -6h1v1h-1zm1 1h1v1h-1zm0 5h1v1h-1zm2 -8h1v1h-1zm1 11h1v1h-1zm4 0h1v1h-1zm4 3h1v1h-1zm2 -17h1v1h-1z"/>
<path fill="#e0f030" d="M309 552h1v1h-1zm1 -1h1v1h-1zm3 0h1v1h-1zm7 -2h1v1h-1z"/>
<path fill="#f0f010" d="M315 560h1v1h-1zm3 -9h1v1h-1zm1 11h1v1h-1zm10 -13h1v1h-1z"/>
<path fill="#f0e000" d="M316 554h1v1h-1zm2 8h1v1h-1zm1 -10h1v1h-1zm2 11h1v1h-1zm1 -13h1v1h-1zm0 1h1v1h-1zm7 14h1v1h-1zm1 -1h1v1h-1z"/>
<path fill="#ffd000" d="M315 556h1v1h-1zm2 -2h1v1h-1zm2 -1h1v1h-1zm4 -3h1v1h-1zm1 0h1v1h-1zm2 15h1v1h-1z"/>
<path fill="#ffe000" d="M315 555h1v1h-1zm1 2h1v1h-1zm0 3h1v1h-1zm11 -10h1v1h-1z"/>
<path fill="#ffc010" d="M316 556h1v1h-1zm7 8h1v1h-1zm3 0h1v1h-1zm2 -14h1v1h-1z"/>
<path fill="#f0a010" d="M317 556h1v1h-1zm1 -2h1v1h-1zm2 -1h1v1h-1zm3 -2h1v1h-1z"/>
<path fill="#f08010" d="M318 556h1v1h-1zm1 3h1v1h-1zm3 3h1v1h-1zm2 -11h1v1h-1z"/>
<path fill="#f06010" d="M319 554h1v1h-1zm1 0h1v1h-1zm1 -1h1v1h-1zm0 8h1v1h-1zm4 -10h1v1h-1zm1 12h1v1h-1zm1 0h1v1h-1zm1 -12h1v1h-1z"/>
<path fill="#f04010" d="M326 551h1v1h-1zm1 0h1v1h-1zm1 12h1v1h-1z"/>
<path fill="#f07010" d="M319 555h1v1h-1zm0 3h1v1h-1zm1 2h1v1h-1zm2 -8h1v1h-1zm1 11h1v1h-1zm2 0h1v1h-1zm4 -12h1v1h-1zm0 12h1v1h-1zm1 -12h1v1h-1z"/>
<path fill="#f0e010" d="M310 558h1v1h-1zm4 1h1v1h-1zm2 -7h1v1h-1zm4 11h1v1h-1zm4 2h1v1h-1z"/>
<path fill="#ffb010" d="M317 557h1v1h-1zm1 -4h1v1h-1zm0 2h1v1h-1zm0 4h1v1h-1zm0 1h1v1h-1zm1 1h1v1h-1zm1 -9h1v1h-1zm1 10h1v1h-1z"/>
<path fill="#ffa020" d="M321 552h1v1h-1z"/>
<path fill="#f03010" d="M323 552h1v1h-1z"/>
<path fill="#e01010" d="M320 556h1v1h-1zm0 1h1v1h-1zm0 1h1v1h-1zm1 -4h1v1h-1zm0 5h1v1h-1zm0 1h1v1h-1zm1 -7h1v1h-1zm2 -1h1v1h-1zm0 10h1v1h-1zm5 0h1v1h-1zm1 -10h1v1h-1zm0 10h1v1h-1z"/>
<path fill="#e00010" d="M325 562h1v1h-1zm4 -10h1v1h-1z"/>
<path fill="#c0f050" d="M297 555h1v1h-1zm0 2h1v1h-1zm22 9h1v1h-1z"/>
<path fill="#f02010" d="M320 555h1v1h-1zm0 4h1v1h-1z"/>
<path fill="#f05010" d="M319 556h1v1h-1zm0 1h1v1h-1zm4 5h1v1h-1z"/>
<path fill="#ffd010" d="M315 557h1v1h-1zm7 6h1v1h-1z"/>
<path fill="#f09010" d="M318 557h1v1h-1zm2 4h1v1h-1zm4 2h1v1h-1zm4 1h1v1h-1zm2 -1h1v1h-1z"/>
<path fill="#e02000" d="M322 561h1v1h-1z"/>
<path fill="#d00010" d="M328 562h1v1h-1z"/>
<line x1="246.5" y1="549.50" x2="334" y2="549.50" stroke="#909090" stroke-width="0.9" stroke-opacity="0.75"/>
<line x1="246.5" y1="560.90" x2="334" y2="560.90" stroke="#909090" stroke-width="0.9" stroke-opacity="0.75"/>
<line x1="246.5" y1="555.20" x2="334" y2="555.20" stroke="#606060" stroke-width="1.2" stroke-opacity="0.75"/>
<path fill="#d00010" d="M321 555h1v1h-1zm2 -2h1v1h-1zm0 8h1v1h-1zm2 -9h1v1h-1zm1 0h1v1h-1zm2 0h1v1h-1z"/>
<path fill="#c00020" d="M322 560h1v1h-1zm4 2h1v1h-1zm1 -10h1v1h-1zm0 10h1v1h-1z"/>
<path fill="#700070" d="M324 553h1v1h-1z"/>
<path fill="#2010e0" d="M322 555h1v1h-1zm1 -1h1v1h-1zm2 -1h1v1h-1zm4 0h1v1h-1z"/>
<path fill="#1020f0" d="M322 556h1v1h-1zm0 1h1v1h-1zm2 -3h1v1h-1zm2 -1h1v1h-1zm0 8h1v1h-1zm1 -8h1v1h-1zm0 8h1v1h-1zm1 -8h1v1h-1zm0 8h1v1h-1z"/>
<path fill="#800060" d="M330 553h1v1h-1z"/>
<path fill="#b00020" d="M322 554h1v1h-1z"/>
<path fill="#2040f0" d="M324 555h1v1h-1zm1 -1h1v1h-1zm1 6h1v1h-1zm1 0h1v1h-1zm1 -6h1v1h-1z"/>
<path fill="#1040f0" d="M323 558h1v1h-1zm2 2h1v1h-1zm1 -6h1v1h-1zm3 0h1v1h-1zm0 6h1v1h-1zm1 -5h1v1h-1z"/>
<path fill="#2050f0" d="M327 554h1v1h-1zm1 6h1v1h-1zm2 -1h1v1h-1z"/>
<path fill="#1030f0" d="M323 555h1v1h-1zm0 1h1v1h-1zm0 3h1v1h-1zm1 1h1v1h-1zm6 -6h1v1h-1zm0 6h1v1h-1z"/>
<path fill="#50b0ff" d="M324 556h1v1h-1zm1 -1h1v1h-1z"/>
<path fill="#80f0ff" d="M325 557h1v1h-1zm0 1h1v1h-1zm1 -3h1v1h-1zm0 1h1v1h-1zm0 1h1v1h-1zm0 1h1v1h-1zm1 -3h1v1h-1zm0 1h1v1h-1zm0 1h1v1h-1zm0 1h1v1h-1zm1 -3h1v1h-1zm0 1h1v1h-1zm0 1h1v1h-1zm0 1h1v1h-1zm0 1h1v1h-1zm1 -3h1v1h-1zm0 1h1v1h-1zm0 1h1v1h-1z"/>
<path fill="#60d0ff" d="M324 557h1v1h-1zm2 2h1v1h-1zm3 -4h1v1h-1z"/>
<path fill="#800050" d="M321 556h1v1h-1z"/>
<path fill="#60c0ff" d="M325 556h1v1h-1z"/>
<path fill="#3080f0" d="M330 556h1v1h-1z"/>
<path fill="#600080" d="M321 557h1v1h-1z"/>
<path fill="#2060f0" d="M323 557h1v1h-1zm1 2h1v1h-1z"/>
<path fill="#70d0ff" d="M325 559h1v1h-1zm5 -2h1v1h-1z"/>
<path fill="#a00030" d="M321 558h1v1h-1zm3 3h1v1h-1z"/>
<path fill="#1010f0" d="M322 558h1v1h-1zm0 1h1v1h-1zm3 2h1v1h-1zm4 0h1v1h-1z"/>
<path fill="#3090f0" d="M324 558h1v1h-1zm5 1h1v1h-1z"/>
<path fill="#3090ff" d="M330 558h1v1h-1z"/>
<path fill="#70e0ff" d="M327 559h1v1h-1z"/>
<path fill="#1010e0" d="M323 560h1v1h-1z"/>
<path fill="#500090" d="M330 561h1v1h-1z"/>
<text x="253.00" y="607.80" font-size="6.4" text-anchor="start" fill="#222" stroke="#222" stroke-width="0.12" font-weight="normal" >MEDEP</text>
<path fill="#c0c0c0" d="M350 562h1v1h-1zm0 12h1v1h-1zm1 -27h1v1h-1zm0 14h1v1h-1zm3 -10h1v1h-1zm0 10h1v1h-1zm1 -9h1v1h-1zm0 4h1v1h-1zm1 -7h1v1h-1zm0 4h1v1h-1zm1 5h1v1h-1zm1 12h1v1h-1zm1 -21h1v1h-1zm0 5h1v1h-1zm0 6h1v1h-1zm1 -3h1v1h-1zm1 14h1v1h-1zm1 -23h1v1h-1zm0 3h1v1h-1zm2 -7h1v1h-1zm0 4h1v1h-1zm0 13h1v1h-1zm2 -15h1v1h-1zm0 14h1v1h-1zm2 -11h1v1h-1zm1 0h1v1h-1zm1 -3h1v1h-1zm0 15h1v1h-1zm3 -9h1v1h-1zm1 10h1v1h-1zm2 -8h1v1h-1zm1 0h1v1h-1zm2 10h1v1h-1zm1 -6h1v1h-1zm1 -8h1v1h-1zm0 4h1v1h-1zm0 7h1v1h-1zm0 11h1v1h-1zm1 -20h1v1h-1zm0 4h1v1h-1zm0 1h1v1h-1zm0 5h1v1h-1zm0 4h1v1h-1zm1 -15h1v1h-1zm1 -4h1v1h-1zm1 -3h1v1h-1zm0 21h1v1h-1zm1 -18h1v1h-1zm0 4h1v1h-1zm0 12h1v1h-1zm0 11h1v1h-1zm1 -20h1v1h-1zm0 3h1v1h-1zm0 11h1v1h-1zm1 -18h1v1h-1zm0 6h1v1h-1zm0 1h1v1h-1zm0 22h1v1h-1zm1 -22h1v1h-1zm1 -8h1v1h-1zm0 3h1v1h-1zm0 3h1v1h-1zm0 4h1v1h-1zm1 -10h1v1h-1zm0 8h1v1h-1zm1 -2h1v1h-1zm0 2h1v1h-1zm0 2h1v1h-1zm1 -13h1v1h-1zm0 2h1v1h-1zm0 10h1v1h-1zm1 -9h1v1h-1zm0 12h1v1h-1zm2 -6h1v1h-1zm0 2h1v1h-1zm1 -6h1v1h-1zm0 5h1v1h-1zm0 1h1v1h-1zm0 3h1v1h-1zm0 1h1v1h-1zm0 2h1v1h-1zm0 2h1v1h-1zm1 -17h1v1h-1zm0 5h1v1h-1zm0 1h1v1h-1zm0 3h1v1h-1zm0 1h1v1h-1zm0 4h1v1h-1zm1 -6h1v1h-1zm1 6h1v1h-1zm1 -9h1v1h-1zm0 6h1v1h-1zm0 5h1v1h-1zm0 4h1v1h-1zm1 -16h1v1h-1zm0 3h1v1h-1zm0 3h1v1h-1zm1 -7h1v1h-1zm0 1h1v1h-1zm0 5h1v1h-1zm0 5h1v1h-1zm1 -7h1v1h-1zm0 9h1v1h-1zm1 -8h1v1h-1zm0 8h1v1h-1zm0 4h1v1h-1zm1 -12h1v1h-1zm0 1h1v1h-1zm0 2h1v1h-1zm1 -11h1v1h-1zm0 2h1v1h-1zm0 5h1v1h-1zm0 10h1v1h-1zm1 -15h1v1h-1zm0 5h1v1h-1zm0 5h1v1h-1zm1 -23h1v1h-1zm0 18h1v1h-1zm1 2h1v1h-1zm0 1h1v1h-1zm1 -10h1v1h-1zm0 4h1v1h-1zm0 5h1v1h-1zm0 1h1v1h-1zm0 1h1v1h-1zm1 5h1v1h-1zm1 -14h1v1h-1zm1 2h1v1h-1zm0 2h1v1h-1zm0 3h1v1h-1zm0 1h1v1h-1zm0 2h1v1h-1zm1 -10h1v1h-1zm0 2h1v1h-1zm0 8h1v1h-1zm1 -11h1v1h-1zm0 5h1v1h-1zm0 2h1v1h-1zm0 3h1v1h-1zm2 -10h1v1h-1zm0 6h1v1h-1zm0 1h1v1h-1zm0 1h1v1h-1zm1 -3h1v1h-1zm0 1h1v1h-1zm0 4h1v1h-1zm0 5h1v1h-1zm0 6h1v1h-1zm1 -33h1v1h-1zm0 16h1v1h-1zm0 2h1v1h-1zm0 2h1v1h-1zm0 4h1v1h-1zm0 2h1v1h-1zm1 -15h1v1h-1zm0 5h1v1h-1zm0 4h1v1h-1zm1 -4h1v1h-1zm0 3h1v1h-1zm0 2h1v1h-1zm0 3h1v1h-1zm1 -11h1v1h-1zm0 6h1v1h-1zm0 8h1v1h-1zm1 -14h1v1h-1zm0 6h1v1h-1zm0 4h1v1h-1zm0 1h1v1h-1zm0 1h1v1h-1zm1 -9h1v1h-1zm0 7h1v1h-1zm1 -14h1v1h-1zm0 7h1v1h-1zm0 5h1v1h-1zm0 1h1v1h-1zm0 3h1v1h-1zm1 -13h1v1h-1zm0 10h1v1h-1zm0 7h1v1h-1zm1 -13h1v1h-1zm0 6h1v1h-1zm0 1h1v1h-1zm0 2h1v1h-1zm1 -14h1v1h-1zm0 1h1v1h-1zm0 4h1v1h-1zm0 2h1v1h-1zm0 3h1v1h-1zm0 11h1v1h-1zm1 -12h1v1h-1zm0 1h1v1h-1zm0 6h1v1h-1zm1 -10h1v1h-1zm0 2h1v1h-1zm0 1h1v1h-1zm0 1h1v1h-1zm0 1h1v1h-1zm1 -2h1v1h-1zm0 1h1v1h-1zm1 -4h1v1h-1zm0 1h1v1h-1zm0 3h1v1h-1zm0 2h1v1h-1zm0 6h1v1h-1zm0 5h1v1h-1zm1 -10h1v1h-1zm0 5h1v1h-1zm1 -12h1v1h-1zm0 1h1v1h-1zm0 3h1v1h-1zm1 -7h1v1h-1zm0 1h1v1h-1zm0 3h1v1h-1zm0 2h1v1h-1zm0 1h1v1h-1zm0 1h1v1h-1zm0 2h1v1h-1zm1 -9h1v1h-1zm0 1h1v1h-1zm0 1h1v1h-1zm0 2h1v1h-1zm0 1h1v1h-1zm1 -9h1v1h-1zm0 4h1v1h-1zm0 1h1v1h-1zm0 1h1v1h-1zm0 1h1v1h-1zm0 4h1v1h-1zm0 1h1v1h-1zm0 1h1v1h-1zm1 -8h1v1h-1zm0 3h1v1h-1zm0 4h1v1h-1zm0 4h1v1h-1zm1 -3h1v1h-1zm1 -20h1v1h-1zm0 5h1v1h-1zm0 2h1v1h-1zm0 7h1v1h-1zm0 1h1v1h-1zm0 4h1v1h-1zm0 2h1v1h-1zm1 -21h1v1h-1zm0 8h1v1h-1zm0 5h1v1h-1zm0 3h1v1h-1zm0 1h1v1h-1zm0 1h1v1h-1zm0 1h1v1h-1zm1 -9h1v1h-1zm0 2h1v1h-1zm0 2h1v1h-1zm0 1h1v1h-1zm0 4h1v1h-1zm0 2h1v1h-1zm1 -10h1v1h-1zm0 1h1v1h-1zm0 2h1v1h-1zm0 1h1v1h-1zm0 1h1v1h-1zm0 3h1v1h-1zm0 1h1v1h-1zm1 -10h1v1h-1zm0 1h1v1h-1zm0 2h1v1h-1zm0 2h1v1h-1zm0 1h1v1h-1zm0 4h1v1h-1zm0 3h1v1h-1zm1 -13h1v1h-1zm0 1h1v1h-1zm0 1h1v1h-1zm0 1h1v1h-1zm0 1h1v1h-1zm0 1h1v1h-1zm0 2h1v1h-1zm0 2h1v1h-1zm0 3h1v1h-1zm0 1h1v1h-1zm1 -21h1v1h-1zm0 5h1v1h-1zm0 4h1v1h-1zm0 1h1v1h-1zm0 3h1v1h-1zm0 1h1v1h-1zm0 5h1v1h-1zm1 -9h1v1h-1zm0 1h1v1h-1zm0 1h1v1h-1zm0 1h1v1h-1zm0 2h1v1h-1zm0 1h1v1h-1zm0 1h1v1h-1zm0 2h1v1h-1zm1 -26h1v1h-1zm0 9h1v1h-1zm0 4h1v1h-1zm0 2h1v1h-1zm0 1h1v1h-1zm0 1h1v1h-1zm0 2h1v1h-1zm0 1h1v1h-1zm0 1h1v1h-1zm0 1h1v1h-1zm1 -13h1v1h-1zm0 3h1v1h-1zm0 1h1v1h-1zm0 3h1v1h-1zm0 2h1v1h-1zm0 1h1v1h-1zm0 1h1v1h-1zm0 3h1v1h-1zm0 3h1v1h-1zm0 1h1v1h-1zm1 -10h1v1h-1zm0 1h1v1h-1zm0 1h1v1h-1zm0 1h1v1h-1zm0 1h1v1h-1zm0 2h1v1h-1zm0 1h1v1h-1zm0 1h1v1h-1zm0 28h1v1h-1zm1 -46h1v1h-1zm0 6h1v1h-1zm0 1h1v1h-1zm0 1h1v1h-1zm0 1h1v1h-1zm0 3h1v1h-1zm0 1h1v1h-1zm0 1h1v1h-1zm0 2h1v1h-1zm0 1h1v1h-1zm0 1h1v1h-1zm1 -11h1v1h-1zm0 1h1v1h-1zm0 1h1v1h-1zm0 2h1v1h-1zm0 1h1v1h-1zm0 1h1v1h-1zm0 1h1v1h-1zm0 1h1v1h-1zm0 1h1v1h-1zm0 2h1v1h-1zm0 1h1v1h-1zm1 -24h1v1h-1zm0 7h1v1h-1zm0 4h1v1h-1zm0 1h1v1h-1zm0 4h1v1h-1zm0 1h1v1h-1zm0 1h1v1h-1zm0 1h1v1h-1zm0 1h1v1h-1zm0 1h1v1h-1zm0 1h1v1h-1zm0 1h1v1h-1zm0 4h1v1h-1zm0 2h1v1h-1zm0 1h1v1h-1zm1 -18h1v1h-1zm0 1h1v1h-1zm0 1h1v1h-1zm0 1h1v1h-1zm0 1h1v1h-1zm0 1h1v1h-1zm0 1h1v1h-1zm0 1h1v1h-1zm0 3h1v1h-1zm0 3h1v1h-1zm0 1h1v1h-1zm1 -19h1v1h-1zm0 3h1v1h-1zm0 3h1v1h-1zm0 1h1v1h-1zm0 1h1v1h-1zm0 1h1v1h-1zm0 1h1v1h-1zm0 1h1v1h-1zm0 1h1v1h-1zm0 1h1v1h-1zm0 1h1v1h-1zm0 1h1v1h-1zm0 1h1v1h-1zm0 1h1v1h-1zm0 2h1v1h-1zm1 -19h1v1h-1zm0 4h1v1h-1zm0 1h1v1h-1zm0 1h1v1h-1zm0 2h1v1h-1zm0 1h1v1h-1zm0 2h1v1h-1zm0 1h1v1h-1zm0 1h1v1h-1zm0 1h1v1h-1zm0 1h1v1h-1zm0 1h1v1h-1zm0 1h1v1h-1zm0 1h1v1h-1zm0 1h1v1h-1zm0 1h1v1h-1zm0 2h1v1h-1zm1 -36h1v1h-1zm0 18h1v1h-1zm0 1h1v1h-1zm0 1h1v1h-1zm0 3h1v1h-1zm0 1h1v1h-1zm0 1h1v1h-1zm0 1h1v1h-1zm0 2h1v1h-1zm0 1h1v1h-1zm0 1h1v1h-1zm0 13h1v1h-1zm1 -24h1v1h-1zm0 1h1v1h-1zm0 1h1v1h-1zm0 1h1v1h-1zm0 1h1v1h-1zm0 2h1v1h-1zm0 2h1v1h-1zm0 2h1v1h-1zm0 2h1v1h-1zm0 1h1v1h-1zm1 -19h1v1h-1zm0 5h1v1h-1zm0 3h1v1h-1zm0 1h1v1h-1zm0 1h1v1h-1zm0 1h1v1h-1zm0 1h1v1h-1zm0 1h1v1h-1zm0 1h1v1h-1zm0 1h1v1h-1zm0 1h1v1h-1zm0 2h1v1h-1zm0 1h1v1h-1zm0 1h1v1h-1zm1 -16h1v1h-1zm0 1h1v1h-1zm0 1h1v1h-1zm0 1h1v1h-1zm0 1h1v1h-1zm0 1h1v1h-1zm0 1h1v1h-1zm0 1h1v1h-1zm0 1h1v1h-1zm0 1h1v1h-1zm0 1h1v1h-1zm0 1h1v1h-1zm0 1h1v1h-1zm0 1h1v1h-1zm0 2h1v1h-1zm0 2h1v1h-1zm0 1h1v1h-1zm1 -30h1v1h-1zm0 6h1v1h-1zm0 6h1v1h-1zm0 1h1v1h-1zm0 1h1v1h-1zm0 1h1v1h-1zm0 1h1v1h-1zm0 1h1v1h-1zm0 1h1v1h-1zm0 1h1v1h-1zm0 1h1v1h-1zm0 1h1v1h-1zm0 1h1v1h-1zm0 1h1v1h-1zm0 1h1v1h-1zm0 1h1v1h-1zm0 3h1v1h-1zm0 1h1v1h-1zm0 1h1v1h-1zm0 1h1v1h-1zm1 -20h1v1h-1zm0 2h1v1h-1zm0 1h1v1h-1zm0 1h1v1h-1zm0 1h1v1h-1zm0 1h1v1h-1zm0 1h1v1h-1zm0 1h1v1h-1zm0 1h1v1h-1zm0 1h1v1h-1zm0 1h1v1h-1zm0 1h1v1h-1zm0 1h1v1h-1zm0 1h1v1h-1zm0 2h1v1h-1zm0 1h1v1h-1zm0 1h1v1h-1zm0 2h1v1h-1zm1 -24h1v1h-1zm0 4h1v1h-1zm0 1h1v1h-1zm0 1h1v1h-1zm0 3h1v1h-1zm0 1h1v1h-1zm0 1h1v1h-1zm0 1h1v1h-1zm0 1h1v1h-1zm0 1h1v1h-1zm0 1h1v1h-1zm0 1h1v1h-1zm0 1h1v1h-1zm0 1h1v1h-1zm0 1h1v1h-1zm0 1h1v1h-1zm0 1h1v1h-1zm0 1h1v1h-1zm0 1h1v1h-1zm1 -23h1v1h-1zm0 5h1v1h-1zm0 1h1v1h-1zm0 1h1v1h-1zm0 1h1v1h-1zm0 1h1v1h-1zm0 1h1v1h-1zm0 1h1v1h-1zm0 1h1v1h-1zm0 1h1v1h-1zm0 1h1v1h-1zm0 1h1v1h-1zm0 1h1v1h-1zm0 1h1v1h-1zm0 1h1v1h-1zm0 1h1v1h-1zm0 1h1v1h-1zm0 4h1v1h-1zm1 -25h1v1h-1zm0 3h1v1h-1zm0 3h1v1h-1zm0 1h1v1h-1zm0 1h1v1h-1zm0 1h1v1h-1zm0 1h1v1h-1zm0 1h1v1h-1zm0 1h1v1h-1zm0 1h1v1h-1zm0 1h1v1h-1zm0 1h1v1h-1zm0 1h1v1h-1zm0 1h1v1h-1zm0 1h1v1h-1zm0 1h1v1h-1zm0 1h1v1h-1zm0 1h1v1h-1zm0 2h1v1h-1zm0 2h1v1h-1zm1 -24h1v1h-1zm0 7h1v1h-1zm0 1h1v1h-1zm0 1h1v1h-1zm0 1h1v1h-1zm0 1h1v1h-1zm0 1h1v1h-1zm0 1h1v1h-1zm0 1h1v1h-1zm0 1h1v1h-1zm0 1h1v1h-1zm0 1h1v1h-1zm0 1h1v1h-1zm0 1h1v1h-1zm0 1h1v1h-1zm0 2h1v1h-1zm0 4h1v1h-1zm0 2h1v1h-1zm0 5h1v1h-1zm1 -28h1v1h-1zm0 1h1v1h-1zm0 2h1v1h-1zm0 1h1v1h-1zm0 1h1v1h-1zm0 1h1v1h-1zm0 1h1v1h-1zm0 1h1v1h-1zm0 1h1v1h-1zm0 1h1v1h-1zm0 1h1v1h-1zm0 1h1v1h-1zm0 1h1v1h-1zm0 1h1v1h-1zm0 2h1v1h-1zm1 -15h1v1h-1zm0 1h1v1h-1zm0 1h1v1h-1zm0 1h1v1h-1zm0 1h1v1h-1zm0 1h1v1h-1zm0 1h1v1h-1zm0 1h1v1h-1zm0 1h1v1h-1zm0 1h1v1h-1zm0 1h1v1h-1zm0 1h1v1h-1zm0 1h1v1h-1zm0 1h1v1h-1zm0 1h1v1h-1zm0 1h1v1h-1zm0 2h1v1h-1zm0 1h1v1h-1zm0 5h1v1h-1zm1 -34h1v1h-1zm0 3h1v1h-1zm0 2h1v1h-1zm0 3h1v1h-1zm0 2h1v1h-1zm0 2h1v1h-1zm0 1h1v1h-1zm0 1h1v1h-1zm0 1h1v1h-1zm0 1h1v1h-1zm0 1h1v1h-1zm0 1h1v1h-1zm0 1h1v1h-1zm0 1h1v1h-1zm0 1h1v1h-1zm0 1h1v1h-1zm0 1h1v1h-1zm0 1h1v1h-1zm0 1h1v1h-1zm0 1h1v1h-1zm0 1h1v1h-1zm0 1h1v1h-1zm0 1h1v1h-1zm0 3h1v1h-1zm0 9h1v1h-1zm1 -38h1v1h-1zm0 4h1v1h-1zm0 1h1v1h-1zm0 1h1v1h-1zm0 1h1v1h-1zm0 1h1v1h-1zm0 1h1v1h-1zm0 1h1v1h-1zm0 1h1v1h-1zm0 1h1v1h-1zm0 1h1v1h-1zm0 1h1v1h-1zm0 1h1v1h-1zm0 1h1v1h-1zm0 1h1v1h-1zm0 1h1v1h-1zm0 1h1v1h-1zm0 1h1v1h-1zm0 1h1v1h-1zm0 1h1v1h-1zm0 1h1v1h-1zm0 2h1v1h-1zm0 6h1v1h-1zm1 -35h1v1h-1zm0 2h1v1h-1zm0 7h1v1h-1zm0 1h1v1h-1zm0 1h1v1h-1zm0 2h1v1h-1zm0 1h1v1h-1zm0 1h1v1h-1zm0 1h1v1h-1zm0 1h1v1h-1zm0 1h1v1h-1zm0 1h1v1h-1zm0 1h1v1h-1zm0 1h1v1h-1zm0 1h1v1h-1zm0 1h1v1h-1zm0 1h1v1h-1zm0 1h1v1h-1zm0 1h1v1h-1zm0 1h1v1h-1zm0 1h1v1h-1zm0 4h1v1h-1zm1 -37h1v1h-1zm0 7h1v1h-1zm0 3h1v1h-1zm0 2h1v1h-1zm0 1h1v1h-1zm0 1h1v1h-1zm0 1h1v1h-1zm0 1h1v1h-1zm0 1h1v1h-1zm0 1h1v1h-1zm0 1h1v1h-1zm0 1h1v1h-1zm0 1h1v1h-1zm0 1h1v1h-1zm0 1h1v1h-1zm0 1h1v1h-1zm0 1h1v1h-1zm0 1h1v1h-1zm0 1h1v1h-1zm0 1h1v1h-1zm0 2h1v1h-1zm0 2h1v1h-1zm0 1h1v1h-1zm0 1h1v1h-1zm0 2h1v1h-1zm0 2h1v1h-1zm0 4h1v1h-1zm1 -51h1v1h-1zm0 14h1v1h-1zm0 4h1v1h-1zm0 1h1v1h-1zm0 1h1v1h-1zm0 4h1v1h-1zm0 1h1v1h-1zm0 1h1v1h-1zm0 1h1v1h-1zm0 1h1v1h-1zm0 1h1v1h-1zm0 1h1v1h-1zm0 1h1v1h-1zm0 1h1v1h-1zm0 1h1v1h-1zm0 1h1v1h-1zm0 1h1v1h-1zm0 1h1v1h-1zm0 1h1v1h-1zm0 1h1v1h-1zm0 1h1v1h-1zm0 1h1v1h-1zm0 1h1v1h-1zm0 2h1v1h-1zm0 1h1v1h-1zm0 2h1v1h-1zm0 3h1v1h-1zm0 2h1v1h-1zm1 -47h1v1h-1zm0 12h1v1h-1zm0 4h1v1h-1zm0 1h1v1h-1zm0 1h1v1h-1zm0 1h1v1h-1zm0 1h1v1h-1zm0 1h1v1h-1zm0 1h1v1h-1zm0 1h1v1h-1zm0 1h1v1h-1zm0 1h1v1h-1zm0 1h1v1h-1zm0 1h1v1h-1zm0 1h1v1h-1zm0 1h1v1h-1zm0 1h1v1h-1zm0 1h1v1h-1zm0 1h1v1h-1zm0 1h1v1h-1zm0 1h1v1h-1zm0 3h1v1h-1zm0 1h1v1h-1zm1 -35h1v1h-1zm0 11h1v1h-1zm0 1h1v1h-1zm0 2h1v1h-1zm0 1h1v1h-1zm0 1h1v1h-1zm0 1h1v1h-1zm0 1h1v1h-1zm0 1h1v1h-1zm0 1h1v1h-1zm0 1h1v1h-1zm0 1h1v1h-1zm0 1h1v1h-1zm0 1h1v1h-1zm0 1h1v1h-1zm0 1h1v1h-1zm0 1h1v1h-1zm0 1h1v1h-1zm0 1h1v1h-1zm0 1h1v1h-1zm0 1h1v1h-1zm0 1h1v1h-1zm0 1h1v1h-1zm0 1h1v1h-1zm0 1h1v1h-1zm0 1h1v1h-1zm0 1h1v1h-1zm0 1h1v1h-1zm0 3h1v1h-1zm0 1h1v1h-1zm1 -33h1v1h-1zm0 4h1v1h-1zm0 2h1v1h-1zm0 1h1v1h-1zm0 1h1v1h-1zm0 2h1v1h-1zm0 1h1v1h-1zm0 1h1v1h-1zm0 1h1v1h-1zm0 1h1v1h-1zm0 1h1v1h-1zm0 1h1v1h-1zm0 1h1v1h-1zm0 1h1v1h-1zm0 1h1v1h-1zm0 1h1v1h-1zm0 1h1v1h-1zm0 1h1v1h-1zm0 1h1v1h-1zm0 1h1v1h-1zm0 1h1v1h-1zm0 1h1v1h-1zm0 1h1v1h-1zm0 1h1v1h-1zm0 1h1v1h-1zm0 1h1v1h-1zm0 1h1v1h-1zm0 2h1v1h-1zm0 3h1v1h-1zm1 -39h1v1h-1zm0 4h1v1h-1zm0 1h1v1h-1zm0 2h1v1h-1zm0 2h1v1h-1zm0 1h1v1h-1zm0 1h1v1h-1zm0 1h1v1h-1zm0 1h1v1h-1zm0 1h1v1h-1zm0 1h1v1h-1zm0 1h1v1h-1zm0 1h1v1h-1zm0 1h1v1h-1zm0 1h1v1h-1zm0 1h1v1h-1zm0 1h1v1h-1zm0 1h1v1h-1zm0 1h1v1h-1zm0 1h1v1h-1zm0 1h1v1h-1zm0 1h1v1h-1zm0 1h1v1h-1zm0 1h1v1h-1zm0 1h1v1h-1zm0 1h1v1h-1zm0 1h1v1h-1zm0 1h1v1h-1zm0 1h1v1h-1zm0 4h1v1h-1zm1 -40h1v1h-1zm0 2h1v1h-1zm0 3h1v1h-1zm0 5h1v1h-1zm0 3h1v1h-1zm0 1h1v1h-1zm0 2h1v1h-1zm0 1h1v1h-1zm0 1h1v1h-1zm0 1h1v1h-1zm0 1h1v1h-1zm0 1h1v1h-1zm0 1h1v1h-1zm0 1h1v1h-1zm0 1h1v1h-1zm0 1h1v1h-1zm0 1h1v1h-1zm0 1h1v1h-1zm0 2h1v1h-1zm0 1h1v1h-1zm0 1h1v1h-1zm0 1h1v1h-1zm0 2h1v1h-1zm0 1h1v1h-1zm0 2h1v1h-1zm1 -30h1v1h-1zm0 4h1v1h-1zm0 1h1v1h-1zm0 2h1v1h-1zm0 1h1v1h-1zm0 2h1v1h-1zm0 2h1v1h-1zm0 2h1v1h-1zm0 2h1v1h-1zm0 1h1v1h-1zm0 1h1v1h-1zm0 1h1v1h-1zm0 1h1v1h-1zm0 2h1v1h-1zm0 1h1v1h-1zm0 6h1v1h-1zm0 3h1v1h-1z"/>
<defs><linearGradient id="gD" x1="0" y1="0" x2="0" y2="1"><stop offset="0" stop-color="#88f4fa"/><stop offset="0.12" stop-color="#50b8f8"/><stop offset="0.3" stop-color="#2050f0"/><stop offset="0.45" stop-color="#0808f0"/><stop offset="0.6" stop-color="#500890"/><stop offset="0.7" stop-color="#b00030"/><stop offset="0.78" stop-color="#f01010"/><stop offset="0.88" stop-color="#f08020"/><stop offset="0.95" stop-color="#f8f000"/><stop offset="1" stop-color="#80c020"/></linearGradient></defs>
<rect x="251.9" y="215.9" width="7.9" height="33" fill="url(#gD)" stroke="#666" stroke-width="0.8"/>
<text x="264.20" y="222.60" font-size="6.3" text-anchor="start" fill="#222" stroke="#222" stroke-width="0.12" font-weight="normal" >1</text>
<text x="264.20" y="234.70" font-size="6.0" text-anchor="start" fill="#222" stroke="#222" stroke-width="0.05" font-weight="normal" >Density</text>
<text x="264.20" y="248.50" font-size="6.3" text-anchor="start" fill="#222" stroke="#222" stroke-width="0.12" font-weight="normal" >0</text>
<text x="247.30" y="629.70" font-size="6.3" text-anchor="middle" fill="#222" stroke="#222" stroke-width="0.12" font-weight="normal" >-1</text>
<text x="288.90" y="629.70" font-size="6.3" text-anchor="middle" fill="#222" stroke="#222" stroke-width="0.12" font-weight="normal" >0</text>
<text x="330.40" y="629.70" font-size="6.3" text-anchor="middle" fill="#222" stroke="#222" stroke-width="0.12" font-weight="normal" >1</text>
<text x="348.80" y="629.70" font-size="6.3" text-anchor="middle" fill="#222" stroke="#222" stroke-width="0.12" font-weight="normal" >-1</text>
<text x="414.40" y="629.70" font-size="6.3" text-anchor="middle" fill="#222" stroke="#222" stroke-width="0.12" font-weight="normal" >0</text>
<text x="480.00" y="629.70" font-size="6.3" text-anchor="middle" fill="#222" stroke="#222" stroke-width="0.12" font-weight="normal" >1</text>
<text x="362.30" y="642.60" font-size="8.8" font-weight="bold" text-anchor="middle" fill="#1a1a1a" textLength="108.5" lengthAdjust="spacingAndGlyphs">Expression pattern (pearson correlation)</text>
<text x="225.0" y="414.3" font-size="8" font-weight="bold" text-anchor="middle" fill="#1a1a1a" textLength="110.6" lengthAdjust="spacingAndGlyphs" transform="rotate(-90 225.0 414.3)">Log<tspan font-size="5.5" dy="1.5">2</tspan><tspan dy="-1.5">(relative expression level cell line/PC)</tspan></text>
<line x1="402.3" y1="225.2" x2="402.3" y2="273" stroke="#8fcf8f" stroke-width="0.8"/>
<line x1="431.5" y1="235.8" x2="431.5" y2="273" stroke="#8fcf8f" stroke-width="0.8"/>
<line x1="443.3" y1="244.4" x2="443.3" y2="273" stroke="#8fcf8f" stroke-width="0.8"/>
<line x1="445.8" y1="253.0" x2="445.8" y2="273" stroke="#8fcf8f" stroke-width="0.8"/>
<line x1="407.7" y1="274" x2="407.7" y2="335.6" stroke="#8fcf8f" stroke-width="0.8"/>
<line x1="433.3" y1="274" x2="433.3" y2="326" stroke="#8fcf8f" stroke-width="0.8"/>
<line x1="441.3" y1="274" x2="441.3" y2="311.5" stroke="#8fcf8f" stroke-width="0.8"/>
<line x1="457.3" y1="284" x2="457.3" y2="293" stroke="#8fcf8f" stroke-width="0.8"/>
<text x="408.30" y="223.70" font-size="5.4" text-anchor="start" fill="#3f9a3f" font-weight="normal" >Hydrogen ion transport</text>
<text x="431.30" y="233.80" font-size="5.4" text-anchor="start" fill="#3f9a3f" font-weight="normal" >Endocytosis</text>
<text x="443.30" y="242.50" font-size="5.4" text-anchor="start" fill="#3f9a3f" font-weight="normal" >Lipoprotein</text>
<text x="445.30" y="251.70" font-size="5.4" text-anchor="start" fill="#3f9a3f" font-weight="normal" >Calcium</text>
<text x="408.30" y="340.40" font-size="5.4" text-anchor="start" fill="#3f9a3f" font-weight="normal" >Lysosome</text>
<text x="433.80" y="332.30" font-size="5.4" text-anchor="start" fill="#3f9a3f" font-weight="normal" >FAD</text>
<text x="441.00" y="317.30" font-size="5.4" text-anchor="start" fill="#3f9a3f" font-weight="normal" >Carbohydrate</text>
<text x="442.30" y="322.70" font-size="5.4" text-anchor="start" fill="#3f9a3f" font-weight="normal" >metabolism</text>
<text x="457.30" y="298.50" font-size="5.4" text-anchor="start" fill="#3f9a3f" font-weight="normal" >Steroid</text>
<text x="457.30" y="303.80" font-size="5.4" text-anchor="start" fill="#3f9a3f" font-weight="normal" >biosynthesis</text>
<circle cx="403.8" cy="272.5" r="1.6" fill="#2d7a2d"/>
<path d="M409.2 271.7L411.0 274.9L407.4 274.9Z" fill="#2d7a2d"/>
<path d="M432.7 271.4L434.5 274.6L430.9 274.6Z" fill="#2d7a2d"/>
<path d="M438.5 271.0L440.3 274.2L436.7 274.2Z" fill="#2d7a2d"/>
<path d="M442.3 271.2L444.1 274.4L440.5 274.4Z" fill="#2d7a2d"/>
<circle cx="459.6" cy="281.7" r="1.6" fill="#2d7a2d"/>
<path d="M459.2 283.7L461.0 286.9L457.4 286.9Z" fill="#2d7a2d"/>
<path d="M453.9 271.6L455.7 274.8L452.1 274.8Z" fill="#2d7a2d"/>
<path d="M466.6 273.8L468.4 277.0L464.8 277.0Z" fill="#2d7a2d"/>
<path d="M446.4 271.8L448.2 275.0L444.6 275.0Z" fill="#2d7a2d"/>
<path d="M478.9 275.1L480.7 278.3L477.1 278.3Z" fill="#2d7a2d"/>
<path d="M473.6 273.7L475.4 276.9L471.8 276.9Z" fill="#2d7a2d"/>
<circle cx="467.0" cy="276.1" r="1.6" fill="#2d7a2d"/>
<path d="M463.3 273.6L465.1 276.8L461.5 276.8Z" fill="#2d7a2d"/>
<path d="M471.0 273.3L472.8 276.5L469.2 276.5Z" fill="#2d7a2d"/>
<path d="M455.9 274.5L457.7 277.7L454.1 277.7Z" fill="#2d7a2d"/>
<circle cx="469.7" cy="276.6" r="1.6" fill="#2d7a2d"/>
<circle cx="469.6" cy="277.1" r="1.6" fill="#2d7a2d"/>
<circle cx="460.7" cy="274.7" r="1.6" fill="#2d7a2d"/>
<path d="M475.0 275.6L476.8 278.8L473.2 278.8Z" fill="#2d7a2d"/>
<path d="M477.9 275.8L479.7 279.0L476.1 279.0Z" fill="#2d7a2d"/>
<path d="M466.7 273.8L468.5 277.0L464.9 277.0Z" fill="#2d7a2d"/>
<path d="M457.6 273.9L459.4 277.1L455.8 277.1Z" fill="#2d7a2d"/>
<circle cx="465.3" cy="276.8" r="1.6" fill="#2d7a2d"/>
<circle cx="474.3" cy="276.1" r="1.6" fill="#2d7a2d"/>
<circle cx="468.2" cy="277.0" r="1.6" fill="#2d7a2d"/>
<path d="M475.9 276.8L477.7 280.0L474.1 280.0Z" fill="#2d7a2d"/>
<path d="M469.6 274.9L471.4 278.1L467.8 278.1Z" fill="#2d7a2d"/>
<path d="M455.4 274.3L457.2 277.5L453.6 277.5Z" fill="#2d7a2d"/>
<circle cx="474.2" cy="277.3" r="1.6" fill="#2d7a2d"/>
<path d="M459.5 273.1L461.3 276.3L457.7 276.3Z" fill="#2d7a2d"/>
<path d="M455.7 272.9L457.5 276.1L453.9 276.1Z" fill="#2d7a2d"/>
<path d="M466.3 272.2L468.1 275.4L464.5 275.4Z" fill="#2d7a2d"/>
<circle cx="469.7" cy="275.4" r="1.6" fill="#2d7a2d"/>
<circle cx="462.7" cy="277.0" r="1.6" fill="#2d7a2d"/>
<path d="M456.2 273.8L458.0 277.0L454.4 277.0Z" fill="#2d7a2d"/>
<path d="M452.5 272.8L454.3 276.0L450.7 276.0Z" fill="#2d7a2d"/>
<circle cx="466.1" cy="276.0" r="1.6" fill="#2d7a2d"/>
<circle cx="456.4" cy="274.8" r="1.6" fill="#2d7a2d"/>
<path d="M475.6 274.5L477.4 277.7L473.8 277.7Z" fill="#2d7a2d"/>
<path d="M467.2 274.9L469.0 278.1L465.4 278.1Z" fill="#2d7a2d"/>
<line x1="379.6" y1="362.5" x2="379.6" y2="412" stroke="#7aaee0" stroke-width="0.8"/>
<line x1="385.0" y1="372.0" x2="385.0" y2="412" stroke="#7aaee0" stroke-width="0.8"/>
<line x1="388.3" y1="383.0" x2="388.3" y2="412" stroke="#7aaee0" stroke-width="0.8"/>
<line x1="405.0" y1="392.0" x2="405.0" y2="412" stroke="#7aaee0" stroke-width="0.8"/>
<line x1="412.3" y1="403.0" x2="412.3" y2="412" stroke="#7aaee0" stroke-width="0.8"/>
<line x1="415.2" y1="414" x2="415.2" y2="429" stroke="#7aaee0" stroke-width="0.8"/>
<line x1="405.0" y1="414" x2="405.0" y2="435.8" stroke="#7aaee0" stroke-width="0.8"/>
<line x1="398.8" y1="414" x2="398.8" y2="445.4" stroke="#7aaee0" stroke-width="0.8"/>
<line x1="396.5" y1="414" x2="396.5" y2="454" stroke="#7aaee0" stroke-width="0.8"/>
<line x1="389.2" y1="414" x2="389.2" y2="461.7" stroke="#7aaee0" stroke-width="0.8"/>
<line x1="377.3" y1="414" x2="377.3" y2="470.4" stroke="#7aaee0" stroke-width="0.8"/>
<text x="379.80" y="361.20" font-size="5.4" text-anchor="start" fill="#3f7fc4" font-weight="normal" >Lysosome</text>
<text x="385.20" y="370.80" font-size="5.4" text-anchor="start" fill="#3f7fc4" font-weight="normal" >Autophagy</text>
<text x="388.50" y="381.30" font-size="5.4" text-anchor="start" fill="#3f7fc4" font-weight="normal" >Prenylation</text>
<text x="405.20" y="390.40" font-size="5.4" text-anchor="start" fill="#3f7fc4" font-weight="normal" >ER-Golgi transport</text>
<text x="412.50" y="401.00" font-size="5.4" text-anchor="start" fill="#3f7fc4" font-weight="normal" >GTPase activation</text>
<text x="414.40" y="435.20" font-size="5.4" text-anchor="start" fill="#3f7fc4" font-weight="normal" >Calcium</text>
<text x="405.40" y="442.50" font-size="5.4" text-anchor="start" fill="#3f7fc4" font-weight="normal" >Endocytosis</text>
<text x="399.00" y="451.70" font-size="5.4" text-anchor="start" fill="#3f7fc4" font-weight="normal" >Lipoprotein</text>
<text x="396.70" y="460.40" font-size="5.4" text-anchor="start" fill="#3f7fc4" font-weight="normal" >Hydrogen ion transport</text>
<text x="389.40" y="468.00" font-size="5.4" text-anchor="start" fill="#3f7fc4" font-weight="normal" >Peroxisome</text>
<text x="378.20" y="477.50" font-size="5.4" text-anchor="start" fill="#3f7fc4" font-weight="normal" >Steroid biosynthesis</text>
<path d="M380.0 411.3L381.5 414.0L378.5 414.0Z" fill="#2a5ab0"/>
<circle cx="385" cy="412.5" r="1.4" fill="#2a5ab0"/>
<path d="M389.0 411.5L390.5 414.2L387.5 414.2Z" fill="#2a5ab0"/>
<circle cx="392" cy="413" r="1.4" fill="#2a5ab0"/>
<path d="M397.0 411.0L398.5 413.7L395.5 413.7Z" fill="#2a5ab0"/>
<circle cx="399.5" cy="413" r="1.4" fill="#2a5ab0"/>
<path d="M402.0 411.5L403.5 414.2L400.5 414.2Z" fill="#2a5ab0"/>
<circle cx="405" cy="412.8" r="1.4" fill="#2a5ab0"/>
<path d="M409.0 411.5L410.5 414.2L407.5 414.2Z" fill="#2a5ab0"/>
<path d="M413.0 411.0L414.5 413.7L411.5 413.7Z" fill="#2a5ab0"/>
<circle cx="415.5" cy="413" r="1.4" fill="#2a5ab0"/>
<path d="M418.0 411.5L419.5 414.2L416.5 414.2Z" fill="#2a5ab0"/>
<circle cx="420.5" cy="413.2" r="1.4" fill="#2a5ab0"/>
<path d="M424.0 411.5L425.5 414.2L422.5 414.2Z" fill="#2a5ab0"/>
<circle cx="430" cy="413.3" r="1.4" fill="#2a5ab0"/>
<path d="M433.0 411.5L434.5 414.2L431.5 414.2Z" fill="#2a5ab0"/>
<circle cx="436" cy="413.3" r="1.4" fill="#2a5ab0"/>
<path d="M440.0 411.3L441.5 414.0L438.5 414.0Z" fill="#2a5ab0"/>
<circle cx="444" cy="413" r="1.4" fill="#2a5ab0"/>
<path d="M447.0 411.3L448.5 414.0L445.5 414.0Z" fill="#2a5ab0"/>
<circle cx="451" cy="412.6" r="1.4" fill="#2a5ab0"/>
<path d="M454.0 410.8L455.5 413.5L452.5 413.5Z" fill="#2a5ab0"/>
<circle cx="457" cy="412.2" r="1.4" fill="#2a5ab0"/>
<path d="M460.0 410.5L461.5 413.2L458.5 413.2Z" fill="#2a5ab0"/>
<line x1="41.9" y1="493.6" x2="41.9" y2="618.3" stroke="#2a2a2a" stroke-width="1.3"/>
<line x1="41.3" y1="617.7" x2="161.6" y2="617.7" stroke="#2a2a2a" stroke-width="1.3"/>
<line x1="39.3" y1="596.10" x2="41.9" y2="596.10" stroke="#2a2a2a" stroke-width="0.8"/>
<text x="36.00" y="598.60" font-size="7.0" text-anchor="end" fill="#222" stroke="#222" stroke-width="0.12" font-weight="normal" >-5</text>
<line x1="39.3" y1="569.30" x2="41.9" y2="569.30" stroke="#2a2a2a" stroke-width="0.8"/>
<text x="36.00" y="571.80" font-size="7.0" text-anchor="end" fill="#222" stroke="#222" stroke-width="0.12" font-weight="normal" >0</text>
<line x1="39.3" y1="542.50" x2="41.9" y2="542.50" stroke="#2a2a2a" stroke-width="0.8"/>
<text x="36.00" y="545.00" font-size="7.0" text-anchor="end" fill="#222" stroke="#222" stroke-width="0.12" font-weight="normal" >5</text>
<line x1="39.3" y1="515.70" x2="41.9" y2="515.70" stroke="#2a2a2a" stroke-width="0.8"/>
<text x="36.00" y="518.20" font-size="7.0" text-anchor="end" fill="#222" stroke="#222" stroke-width="0.12" font-weight="normal" >10</text>
<line x1="45.30" y1="617.7" x2="45.30" y2="620.3" stroke="#2a2a2a" stroke-width="0.8"/>
<text x="45.30" y="629.80" font-size="7.0" text-anchor="middle" fill="#222" stroke="#222" stroke-width="0.12" font-weight="normal" >-20</text>
<line x1="54.90" y1="617.7" x2="54.90" y2="620.3" stroke="#2a2a2a" stroke-width="0.8"/>
<line x1="64.50" y1="617.7" x2="64.50" y2="620.3" stroke="#2a2a2a" stroke-width="0.8"/>
<text x="64.50" y="629.80" font-size="7.0" text-anchor="middle" fill="#222" stroke="#222" stroke-width="0.12" font-weight="normal" >-10</text>
<line x1="74.10" y1="617.7" x2="74.10" y2="620.3" stroke="#2a2a2a" stroke-width="0.8"/>
<line x1="83.70" y1="617.7" x2="83.70" y2="620.3" stroke="#2a2a2a" stroke-width="0.8"/>
<text x="83.70" y="629.80" font-size="7.0" text-anchor="middle" fill="#222" stroke="#222" stroke-width="0.12" font-weight="normal" >0</text>
<line x1="93.30" y1="617.7" x2="93.30" y2="620.3" stroke="#2a2a2a" stroke-width="0.8"/>
<line x1="102.90" y1="617.7" x2="102.90" y2="620.3" stroke="#2a2a2a" stroke-width="0.8"/>
<text x="102.90" y="629.80" font-size="7.0" text-anchor="middle" fill="#222" stroke="#222" stroke-width="0.12" font-weight="normal" >10</text>
<line x1="112.50" y1="617.7" x2="112.50" y2="620.3" stroke="#2a2a2a" stroke-width="0.8"/>
<line x1="122.10" y1="617.7" x2="122.10" y2="620.3" stroke="#2a2a2a" stroke-width="0.8"/>
<text x="122.10" y="629.80" font-size="7.0" text-anchor="middle" fill="#222" stroke="#222" stroke-width="0.12" font-weight="normal" >20</text>
<line x1="131.70" y1="617.7" x2="131.70" y2="620.3" stroke="#2a2a2a" stroke-width="0.8"/>
<line x1="141.30" y1="617.7" x2="141.30" y2="620.3" stroke="#2a2a2a" stroke-width="0.8"/>
<text x="141.30" y="629.80" font-size="7.0" text-anchor="middle" fill="#222" stroke="#222" stroke-width="0.12" font-weight="normal" >30</text>
<line x1="150.90" y1="617.7" x2="150.90" y2="620.3" stroke="#2a2a2a" stroke-width="0.8"/>
<line x1="160.50" y1="617.7" x2="160.50" y2="620.3" stroke="#2a2a2a" stroke-width="0.8"/>
<text x="160.50" y="629.80" font-size="7.0" text-anchor="middle" fill="#222" stroke="#222" stroke-width="0.12" font-weight="normal" >40</text>
<text x="102.40" y="642.60" font-size="8.8" font-weight="bold" text-anchor="middle" fill="#1a1a1a" textLength="59.3" lengthAdjust="spacingAndGlyphs">Component 1 (71.3%)</text>
<text x="22.60" y="555.80" font-size="8.8" font-weight="bold" text-anchor="middle" fill="#1a1a1a" textLength="58.3" lengthAdjust="spacingAndGlyphs" transform="rotate(-90 22.60 555.80)">Component 2 (11.6%)</text>
<circle cx="70.8" cy="499.7" r="2.5" fill="#3a983a"/>
<circle cx="78.8" cy="502.6" r="2.5" fill="#3a983a"/>
<circle cx="68.8" cy="515.1" r="2.5" fill="#3a983a"/>
<circle cx="71.5" cy="524.2" r="2.5" fill="#3a983a"/>
<circle cx="63.8" cy="538.0" r="2.5" fill="#3a983a"/>
<circle cx="59.2" cy="544.3" r="2.5" fill="#3a983a"/>
<circle cx="51.9" cy="547.2" r="2.5" fill="#3a983a"/>
<circle cx="57.1" cy="554.5" r="2.5" fill="#3a983a"/>
<circle cx="47.7" cy="565.5" r="2.5" fill="#3a983a"/>
<circle cx="157.0" cy="547.7" r="2.5" fill="#e0782a"/>
<circle cx="138.5" cy="555.6" r="2.5" fill="#e0782a"/>
<circle cx="131.0" cy="566.4" r="2.5" fill="#e0782a"/>
<circle cx="98.8" cy="583.8" r="2.5" fill="#e0782a"/>
<circle cx="74.6" cy="595.0" r="2.5" fill="#e0782a"/>
<circle cx="74.6" cy="593.0" r="2.5" fill="#e0782a"/>
<circle cx="74.6" cy="588.7" r="2.5" fill="#e0782a"/>
<circle cx="138.2" cy="574.2" r="2.5" fill="#cf3a1c"/>
<circle cx="119.8" cy="580.1" r="2.5" fill="#cf3a1c"/>
<circle cx="109.7" cy="584.8" r="2.5" fill="#cf3a1c"/>
<circle cx="80.4" cy="589.6" r="2.5" fill="#3150a6"/>
<circle cx="83.5" cy="591.2" r="2.5" fill="#cf3a1c"/>
<circle cx="72.7" cy="596.6" r="2.5" fill="#cf3a1c"/>
<circle cx="76.7" cy="597.8" r="2.5" fill="#3150a6"/>
<circle cx="61.7" cy="601.3" r="2.5" fill="#cf3a1c"/>
<circle cx="64.6" cy="607.3" r="2.5" fill="#3150a6"/>
<circle cx="71.0" cy="608.5" r="2.5" fill="#3150a6"/>
<circle cx="71.8" cy="610.5" r="2.5" fill="#3150a6"/>
<circle cx="74.2" cy="611.3" r="2.5" fill="#3150a6"/>
<circle cx="69.8" cy="612.5" r="2.5" fill="#3150a6"/>
<text x="66.60" y="501.70" font-size="5.0" text-anchor="end" fill="#4aa04a" font-weight="normal" letter-spacing="0.25">144h</text>
<text x="82.70" y="505.10" font-size="5.0" text-anchor="start" fill="#4aa04a" font-weight="normal" letter-spacing="0.25">120h</text>
<text x="65.00" y="517.30" font-size="5.0" text-anchor="end" fill="#4aa04a" font-weight="normal" letter-spacing="0.25">96h</text>
<text x="75.00" y="526.20" font-size="5.0" text-anchor="start" fill="#4aa04a" font-weight="normal" letter-spacing="0.25">72h</text>
<text x="59.30" y="534.70" font-size="5.0" text-anchor="middle" fill="#4aa04a" font-weight="normal" letter-spacing="0.25">48h</text>
<text x="63.00" y="546.40" font-size="5.0" text-anchor="start" fill="#4aa04a" font-weight="normal" letter-spacing="0.25">36h</text>
<text x="49.00" y="542.50" font-size="5.0" text-anchor="middle" fill="#4aa04a" font-weight="normal" letter-spacing="0.25">24h</text>
<text x="60.60" y="557.80" font-size="5.0" text-anchor="start" fill="#4aa04a" font-weight="normal" letter-spacing="0.25">12h</text>
<text x="50.40" y="570.90" font-size="5.0" text-anchor="start" fill="#4aa04a" font-weight="normal" letter-spacing="0.25">0h</text>
<text x="153.70" y="546.30" font-size="5.0" text-anchor="end" fill="#e48a40" font-weight="normal" letter-spacing="0.25">72h</text>
<text x="133.90" y="555.70" font-size="5.0" text-anchor="end" fill="#e48a40" font-weight="normal" letter-spacing="0.25">48h</text>
<text x="126.70" y="568.10" font-size="5.0" text-anchor="end" fill="#e48a40" font-weight="normal" letter-spacing="0.25">36h</text>
<text x="95.00" y="578.50" font-size="5.0" text-anchor="middle" fill="#e48a40" font-weight="normal" letter-spacing="0.25">24h</text>
<text x="70.30" y="592.10" font-size="5.0" text-anchor="end" fill="#e48a40" font-weight="normal" letter-spacing="0.25">0h</text>
<text x="69.20" y="586.70" font-size="5.0" text-anchor="end" fill="#e48a40" font-weight="normal" letter-spacing="0.25">12h</text>
<text x="142.10" y="577.40" font-size="5.0" text-anchor="start" fill="#d4502e" font-weight="normal" letter-spacing="0.25">60h</text>
<text x="123.80" y="582.90" font-size="5.0" text-anchor="start" fill="#d4502e" font-weight="normal" letter-spacing="0.25">48h</text>
<text x="112.30" y="590.90" font-size="5.0" text-anchor="start" fill="#d4502e" font-weight="normal" letter-spacing="0.25">36h</text>
<text x="76.20" y="585.30" font-size="5.0" text-anchor="start" fill="#4a68bc" font-weight="normal" letter-spacing="0.25">48h</text>
<text x="86.70" y="592.70" font-size="5.0" text-anchor="start" fill="#d4502e" font-weight="normal" letter-spacing="0.25">24h</text>
<text x="69.20" y="596.50" font-size="5.0" text-anchor="end" fill="#d4502e" font-weight="normal" letter-spacing="0.25">12h</text>
<text x="78.20" y="599.80" font-size="5.0" text-anchor="start" fill="#4a68bc" font-weight="normal" letter-spacing="0.25">36h</text>
<text x="57.80" y="600.80" font-size="5.0" text-anchor="end" fill="#d4502e" font-weight="normal" letter-spacing="0.25">0h</text>
<text x="60.20" y="609.00" font-size="5.0" text-anchor="end" fill="#4a68bc" font-weight="normal" letter-spacing="0.25">24h</text>
<text x="72.50" y="606.10" font-size="5.0" text-anchor="start" fill="#4a68bc" font-weight="normal" letter-spacing="0.25">12h</text>
<text x="77.90" y="613.10" font-size="5.0" text-anchor="start" fill="#4a68bc" font-weight="normal" letter-spacing="0.25">6h</text>
<text x="66.70" y="615.30" font-size="5.0" text-anchor="end" fill="#4a68bc" font-weight="normal" letter-spacing="0.25">0h</text>
<line x1="0" y1="0.55" x2="520" y2="0.55" stroke="#000" stroke-width="1.1"/>
<line x1="0.5" y1="0" x2="0.5" y2="652" stroke="#000" stroke-width="1.1"/>
<line x1="519.1" y1="0" x2="519.1" y2="652" stroke="#000" stroke-width="1.8"/>
<line x1="0" y1="651.1" x2="520" y2="651.1" stroke="#000" stroke-width="1.8"/></svg></body></html>
